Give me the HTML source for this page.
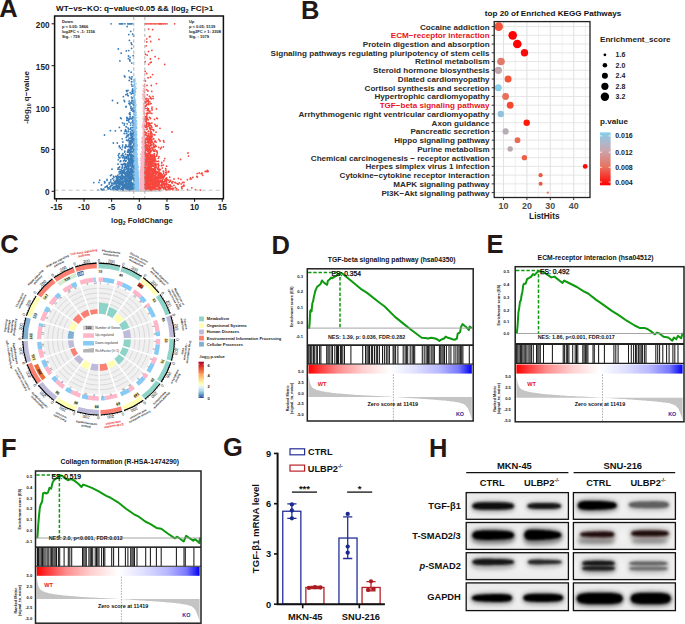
<!DOCTYPE html>
<html><head><meta charset="utf-8"><style>
html,body{margin:0;padding:0;background:#fff;}
svg{display:block;font-family:"Liberation Sans", sans-serif;}
</style></head><body>
<svg width="685" height="624" viewBox="0 0 685 624">
<rect width="685" height="624" fill="#fff"/>
<text x="-0.77" y="17.29" font-size="25.5" font-weight="bold" fill="#231815" text-anchor="start" >A</text>
<text x="56" y="10.8" font-size="8.1" font-weight="bold" fill="#111">WT−vs−KO: q−value&lt;0.05 &amp;&amp; |log<tspan font-size="5.5" dy="2">2</tspan><tspan dy="-2"> FC|&gt;1</tspan></text>
<g stroke-linecap="round" fill="none">
<path stroke="#cfcfcf" stroke-width="1.5" d="M139.5 191.2h0M122.3 191.1h0M154.2 190.5h0M133.2 191.0h0M143.4 190.5h0M136.6 190.8h0M144.4 190.8h0M133.8 191.2h0M145.9 190.4h0M126.4 190.5h0M132.1 191.0h0M144.2 190.8h0M148.5 190.3h0M147.7 190.9h0M138.4 190.8h0M152.4 190.6h0M132.5 190.9h0M129.2 191.2h0M126.6 190.8h0M125.4 191.0h0M139.3 190.5h0M142.3 190.3h0M138.5 191.1h0M139.6 190.6h0M142.8 191.1h0M122.7 190.5h0M145.4 190.4h0M155.1 190.4h0M159.8 190.3h0M147.3 190.5h0M147.7 191.1h0M132.6 191.0h0M143.8 190.4h0M145.6 190.9h0M128.2 191.0h0M141.5 190.7h0M143.1 190.5h0M139.4 190.5h0M131.0 190.8h0M133.0 191.1h0M136.6 190.5h0M113.7 191.1h0M135.6 190.4h0M150.4 190.8h0M139.7 190.3h0M146.3 190.5h0M118.0 190.4h0M141.8 190.8h0M135.3 191.2h0M139.5 191.0h0M129.6 191.3h0M133.8 191.2h0M134.4 190.9h0M145.5 191.0h0M144.8 190.6h0M143.1 190.9h0M134.1 190.4h0M116.0 190.9h0M135.9 190.5h0M143.5 190.3h0M141.6 190.6h0M143.3 191.3h0M136.9 190.4h0M146.2 190.2h0M139.5 190.7h0M130.1 190.9h0M147.2 190.2h0M130.0 191.0h0M134.0 190.6h0M122.9 190.6h0M148.7 190.5h0M138.3 191.2h0M146.5 190.8h0M144.5 191.2h0M125.4 191.0h0M125.5 190.2h0M140.8 190.3h0M133.0 191.2h0M116.0 190.5h0M138.6 191.0h0M127.6 190.6h0M142.4 190.7h0M144.4 191.2h0M141.9 191.1h0M143.9 190.3h0M138.4 191.0h0M143.8 190.4h0M131.4 190.5h0M125.9 190.6h0M145.7 190.7h0M136.1 190.6h0M143.7 190.9h0M132.8 190.7h0M140.6 190.9h0M148.5 191.3h0M135.4 190.3h0M155.3 190.4h0M137.0 190.5h0M142.2 190.9h0M142.9 190.4h0M132.8 190.2h0M126.9 191.3h0M129.9 191.3h0M135.7 190.7h0M146.2 190.6h0M121.6 190.3h0M141.3 191.0h0M134.8 190.9h0M150.8 190.7h0M136.8 191.3h0M136.2 191.2h0M153.9 191.1h0M129.5 190.9h0M136.2 191.2h0M145.6 191.1h0M137.6 190.8h0M141.6 190.4h0M146.8 191.3h0M144.0 190.3h0M123.1 190.9h0M151.8 191.3h0M147.9 190.6h0M135.1 190.6h0M148.0 191.2h0M151.3 191.1h0M146.1 191.2h0M138.2 191.1h0M144.5 191.3h0M149.6 190.9h0M146.2 190.6h0M139.3 190.6h0M144.0 190.7h0M145.8 190.5h0M137.1 190.3h0M143.1 191.1h0M155.0 191.2h0M155.9 190.2h0M147.2 191.0h0M155.9 190.8h0M148.1 191.1h0M129.9 191.0h0M146.5 190.4h0M159.2 190.6h0M152.2 190.7h0M131.3 190.3h0M130.9 191.0h0M121.5 191.3h0M134.6 190.5h0M141.0 190.5h0M135.6 190.4h0M141.7 191.1h0M150.3 190.5h0M146.2 190.9h0M144.3 190.3h0M134.8 190.8h0M128.7 190.4h0M143.9 190.9h0M136.8 190.4h0M145.3 190.6h0M134.4 190.3h0M145.1 190.7h0M140.3 190.3h0M137.4 190.9h0M125.2 191.2h0M132.6 190.9h0M133.2 190.5h0M132.2 190.8h0M144.3 190.3h0M140.5 190.5h0M147.6 190.3h0M136.2 190.8h0M130.7 190.4h0M131.9 190.4h0M141.5 190.3h0M129.1 190.5h0M127.4 190.3h0M152.7 191.1h0M137.1 191.2h0M141.6 190.6h0M129.5 191.2h0M155.9 190.6h0M149.2 190.3h0M150.0 190.7h0M137.5 190.4h0M131.6 190.9h0M132.2 190.5h0M136.3 190.5h0M136.6 190.5h0M125.0 190.8h0M131.4 190.9h0M147.6 190.3h0M143.2 190.5h0M159.0 190.8h0M129.8 190.6h0M141.0 191.1h0M132.4 190.5h0M137.0 190.4h0M135.3 191.2h0M150.3 191.3h0M154.6 190.7h0M139.8 191.1h0M139.5 190.6h0M137.9 190.9h0M137.0 190.7h0M123.2 191.0h0M139.3 190.9h0M149.7 191.0h0M143.0 191.2h0M150.0 190.8h0M134.3 190.8h0M141.1 190.5h0M137.4 191.3h0M137.6 191.2h0M137.3 191.2h0M153.6 190.6h0M151.8 190.3h0M140.3 190.3h0M146.1 190.8h0M142.2 190.9h0M138.7 191.2h0M153.3 191.0h0M139.1 190.4h0M138.7 190.9h0M137.8 190.9h0M139.7 190.7h0M138.3 191.3h0M147.6 190.9h0M147.1 190.3h0M128.6 191.1h0M125.6 191.2h0M142.7 191.3h0M131.1 190.5h0M138.2 190.3h0M132.4 190.5h0M152.2 190.5h0M139.1 190.9h0M124.2 190.3h0M139.9 190.3h0M141.5 191.2h0M121.0 190.9h0M136.9 190.8h0M148.4 191.1h0M143.0 191.0h0M152.3 190.3h0M149.7 191.1h0M135.8 190.7h0M142.6 191.2h0M155.3 190.6h0M139.8 191.2h0M142.0 190.4h0M143.4 190.3h0M130.4 191.2h0M136.8 191.1h0M140.3 191.0h0M134.5 190.6h0M137.9 191.2h0M146.6 190.5h0M139.1 190.4h0M133.8 190.4h0M143.6 190.4h0M139.8 190.7h0M153.2 191.1h0M142.8 190.7h0M134.8 191.0h0M131.6 190.2h0M143.6 190.9h0M159.5 190.6h0M129.2 191.1h0M138.9 190.2h0M132.0 191.0h0M147.4 190.4h0M140.1 191.0h0M140.2 190.4h0M136.2 190.3h0M142.7 190.8h0M140.6 191.2h0M143.9 191.1h0M135.8 191.3h0M130.8 190.7h0M133.6 190.4h0M144.6 191.3h0M134.9 190.9h0M134.5 190.9h0M144.8 190.8h0M119.7 190.9h0M130.9 191.3h0M135.5 190.6h0M124.1 191.2h0M147.1 190.7h0M132.5 190.7h0M141.7 190.4h0M145.0 190.2h0M138.3 190.9h0M129.7 191.1h0M137.8 190.7h0M134.5 191.2h0M134.8 190.3h0M134.0 191.1h0M147.2 190.8h0M150.3 191.1h0M145.5 190.3h0M135.3 190.2h0M151.2 191.0h0M133.5 190.7h0M140.9 190.3h0M139.5 191.0h0M150.3 190.3h0M141.8 190.7h0M135.8 190.5h0M144.5 190.5h0M143.4 190.5h0M148.5 190.5h0M143.4 191.3h0M139.5 190.5h0M134.3 190.3h0M147.4 190.6h0M136.2 191.0h0M133.2 190.7h0M145.2 190.6h0M134.0 191.1h0M146.2 190.6h0M129.6 191.3h0M138.7 190.7h0M145.3 191.1h0M144.2 190.6h0M147.0 190.6h0M135.8 190.4h0M146.1 190.4h0M147.7 191.1h0M136.2 191.0h0M149.6 191.2h0M141.2 190.7h0M143.0 190.5h0M131.6 191.2h0M131.9 190.4h0M137.7 190.6h0M133.0 191.0h0M145.1 190.6h0M136.6 190.5h0M145.2 190.9h0M141.3 191.2h0M138.0 190.5h0M142.9 190.4h0M123.6 191.3h0M146.5 191.1h0M135.1 191.1h0M146.1 190.3h0M126.3 190.5h0M141.4 190.7h0M147.9 191.1h0M144.0 190.9h0M122.1 191.2h0M138.2 190.2h0M149.8 191.3h0M150.6 191.3h0M139.1 190.5h0M136.9 190.3h0M148.1 190.7h0M146.0 191.0h0M128.4 190.6h0M139.6 190.4h0M155.6 190.9h0M139.1 191.2h0M139.0 190.3h0M141.4 190.4h0M151.9 190.8h0M145.0 190.4h0M130.5 190.6h0M139.6 190.5h0M146.0 190.3h0M160.2 191.2h0M131.9 191.0h0M149.7 190.4h0M140.1 191.2h0M127.6 190.8h0M160.4 190.8h0M134.9 190.5h0M124.2 191.1h0M145.2 190.3h0M135.6 190.4h0M139.7 190.2h0M147.5 191.0h0M148.5 190.9h0M155.9 191.3h0M128.5 191.1h0M134.0 190.7h0M141.9 190.6h0M149.7 190.9h0M130.8 190.5h0M149.7 190.7h0M152.8 190.2h0M145.3 191.0h0M158.8 191.2h0M129.2 190.7h0M144.5 191.2h0M140.5 190.6h0M153.6 190.8h0M134.7 190.4h0M138.7 190.9h0M128.7 190.6h0M128.9 190.6h0M137.3 190.5h0M151.6 190.9h0M148.2 190.8h0M137.0 190.8h0M138.9 190.7h0M141.6 190.3h0M134.3 191.1h0M134.9 191.2h0M138.3 190.8h0M129.7 190.9h0M129.5 190.4h0M138.5 191.3h0M132.4 190.9h0M141.7 190.5h0M135.9 190.4h0M120.0 190.3h0M130.2 191.3h0M134.4 190.5h0M137.7 190.7h0M162.1 190.4h0M140.2 191.0h0M137.3 190.5h0M123.9 190.3h0M143.4 191.3h0M142.6 191.1h0M125.7 191.0h0M135.9 190.8h0M140.0 190.4h0M140.1 190.6h0M141.0 191.2h0M144.1 190.8h0M136.2 190.5h0M129.0 190.7h0M141.7 191.1h0M139.3 190.4h0M155.8 190.8h0M130.8 190.4h0M143.9 191.3h0M131.8 190.6h0M161.2 190.7h0M130.7 190.7h0M134.1 190.4h0M141.7 190.4h0M140.6 190.4h0M142.7 191.1h0M130.8 190.6h0M142.5 190.4h0M159.9 190.5h0M133.0 190.9h0M134.9 190.6h0M138.5 190.9h0M150.8 191.0h0M148.3 190.9h0M127.5 190.5h0M135.0 190.6h0M139.8 190.9h0M129.0 190.5h0M129.2 190.8h0M160.6 190.9h0M136.3 190.2h0M151.1 190.8h0M151.5 191.0h0M138.3 190.8h0M144.1 190.9h0M135.1 191.0h0M135.1 190.3h0M154.4 190.5h0M150.9 190.3h0M131.6 191.2h0M147.8 190.9h0M133.3 190.8h0M133.3 190.9h0M133.4 190.6h0M142.2 190.3h0M148.9 190.7h0M132.9 190.2h0M151.8 191.3h0M146.2 190.6h0M135.1 190.4h0M141.8 190.9h0M124.0 190.9h0M140.7 190.8h0M135.7 191.0h0M128.3 191.2h0M145.8 190.8h0M136.2 191.1h0M134.5 190.7h0M138.9 191.3h0M130.0 190.4h0M131.8 190.7h0M141.1 191.1h0M151.6 191.0h0M147.8 190.3h0M139.3 190.3h0M142.9 191.3h0M138.3 190.6h0M140.0 190.7h0M130.7 190.4h0M138.4 190.7h0M149.4 190.9h0M148.8 190.6h0M138.4 190.7h0M146.1 190.8h0M137.2 190.4h0M143.9 190.8h0M128.1 190.6h0M148.6 190.5h0M141.0 191.1h0M120.2 191.0h0M133.4 191.3h0M153.2 191.0h0M143.2 191.2h0M139.7 190.6h0M150.6 190.8h0M142.3 190.8h0M138.6 190.9h0M137.1 190.8h0M143.1 190.6h0M130.3 191.3h0M143.8 190.6h0M151.3 191.0h0M160.0 191.3h0M129.9 190.9h0M146.5 191.0h0M137.5 191.1h0M140.7 190.6h0M148.9 191.1h0M138.3 190.2h0M150.7 191.0h0M130.8 190.7h0M143.5 190.4h0M125.5 191.1h0M128.9 191.2h0M161.1 190.2h0M139.0 190.6h0M140.9 191.0h0M138.4 190.9h0M148.3 191.3h0M143.1 190.8h0M132.7 191.2h0M140.0 190.5h0M135.8 190.4h0M147.8 190.6h0M144.2 190.8h0M129.2 191.3h0M144.4 191.0h0M148.3 190.3h0M136.9 190.7h0M144.5 190.3h0M131.5 190.7h0M149.2 190.6h0M133.9 190.8h0M138.9 190.4h0M149.9 191.2h0M133.0 190.8h0M141.9 190.7h0M146.6 190.9h0M140.3 190.7h0M130.9 190.8h0M143.7 190.7h0M153.8 191.1h0M150.6 190.6h0M137.9 190.9h0M148.7 191.0h0M138.4 191.2h0M138.2 190.9h0M141.2 190.8h0M144.2 191.0h0M126.3 190.6h0M132.0 190.2h0M137.3 190.4h0M130.1 191.1h0M138.1 190.8h0M139.9 191.2h0M141.7 190.6h0M146.6 190.6h0M138.1 190.4h0M130.4 190.7h0M128.9 191.0h0M134.4 190.5h0M130.1 191.3h0M140.4 191.0h0M132.8 191.2h0M136.2 190.3h0M138.4 191.0h0M150.0 190.9h0M141.9 190.8h0M143.8 191.1h0M140.2 190.9h0M138.9 190.6h0M144.4 191.1h0M151.3 190.5h0M146.4 190.2h0M140.1 191.1h0M144.7 190.7h0M153.9 191.1h0M151.1 190.3h0M128.6 190.5h0M157.1 191.0h0M138.0 190.7h0M139.0 191.2h0M126.5 191.2h0M146.5 190.7h0M124.3 191.2h0M142.4 190.9h0M147.5 190.2h0M148.9 191.3h0M133.7 190.8h0M136.7 190.5h0M138.4 190.7h0M137.8 190.4h0M131.9 190.6h0M142.8 191.0h0M139.3 190.5h0M152.4 190.6h0M141.3 190.6h0M136.6 190.3h0M130.2 191.2h0M123.8 190.9h0M135.2 190.5h0M135.4 190.3h0M131.0 190.2h0M135.1 190.7h0M142.8 190.5h0M134.4 191.2h0M136.7 191.1h0M128.3 191.0h0M154.1 191.0h0M140.8 190.4h0M132.9 191.0h0M145.0 190.9h0M140.4 191.2h0M136.6 190.9h0M142.6 190.8h0M147.6 191.3h0M141.6 190.2h0M149.6 190.4h0M139.0 190.8h0M136.7 190.9h0M152.8 190.8h0M138.0 190.5h0M145.5 190.7h0M138.4 190.8h0M131.9 190.5h0M134.2 190.6h0M133.8 190.8h0M151.6 190.9h0M129.6 190.3h0M137.1 190.4h0M138.2 191.1h0M130.8 190.8h0M140.7 190.7h0M139.1 190.7h0M131.8 191.1h0M129.9 190.7h0M142.1 190.6h0M124.8 190.3h0M160.3 190.7h0M148.4 191.1h0M127.5 190.7h0M131.9 191.2h0M126.9 190.8h0M119.3 190.9h0M150.0 190.4h0M136.4 190.4h0M135.8 191.2h0M138.9 191.2h0M133.2 190.7h0M144.4 190.9h0M132.6 190.7h0M136.4 190.3h0M135.3 191.0h0M133.1 190.3h0M140.1 190.7h0M141.7 191.0h0M126.3 191.3h0M153.0 191.0h0M149.1 190.7h0M127.0 191.1h0M150.5 190.8h0M132.7 191.2h0M137.2 190.7h0M142.5 190.6h0M136.8 190.8h0M146.0 191.2h0M138.9 191.3h0M130.5 190.6h0M126.7 190.3h0M129.8 190.4h0M144.4 191.1h0M147.9 190.7h0M145.2 190.3h0M147.1 190.9h0M158.6 191.1h0M144.2 191.1h0M148.2 191.2h0M126.3 190.9h0M135.4 191.1h0M150.8 190.3h0M130.5 191.1h0M137.1 190.7h0M119.0 190.9h0M149.4 190.6h0M149.2 190.9h0M148.7 191.2h0M135.8 191.1h0M137.9 190.8h0M139.2 190.3h0M166.8 190.2h0M137.4 190.6h0M130.6 191.3h0M135.8 190.9h0M143.1 190.5h0M157.2 190.5h0M133.0 190.9h0M130.0 191.0h0M149.1 190.5h0M143.2 190.9h0M127.6 191.0h0M142.9 190.4h0M131.1 190.3h0M130.5 190.3h0M135.2 190.9h0M152.6 190.2h0M143.7 190.9h0M138.1 190.3h0M133.0 191.2h0M122.4 191.0h0M123.5 190.8h0M128.5 191.0h0M133.2 190.5h0M147.8 191.3h0M131.5 190.4h0M131.6 190.8h0M136.3 191.1h0M119.0 190.3h0M149.0 191.0h0M138.3 191.2h0M133.1 190.7h0M127.6 191.0h0M124.9 191.1h0M125.6 191.2h0M147.1 190.9h0M144.2 190.8h0M148.3 190.3h0M136.2 191.3h0M149.0 190.5h0M144.9 190.9h0M134.4 190.3h0M146.2 191.2h0M152.5 190.9h0M122.8 190.4h0M136.9 190.3h0M148.6 190.5h0M141.6 190.5h0M147.1 190.4h0M138.8 191.0h0M141.5 190.5h0M140.8 190.4h0M143.6 191.1h0M113.6 190.7h0M133.6 190.3h0M140.3 191.0h0M126.6 190.7h0M143.8 190.7h0M135.1 190.9h0M152.1 190.6h0M151.6 190.9h0M131.3 190.3h0M138.7 190.2h0M131.7 191.1h0M130.9 191.1h0M144.2 190.6h0M143.7 191.0h0M147.2 191.0h0M132.6 190.5h0M138.0 190.4h0M145.0 191.1h0M143.4 190.9h0M127.5 190.7h0M130.2 190.7h0M143.1 190.9h0M150.6 190.3h0M132.6 190.6h0M134.1 191.0h0M129.7 190.5h0M141.9 190.9h0M127.1 190.3h0M134.1 191.0h0M132.5 191.2h0M143.6 190.6h0M127.9 191.0h0M141.7 191.0h0M134.8 190.2h0M131.5 190.9h0M134.4 190.5h0M119.5 190.5h0M136.7 191.2h0M152.2 190.3h0M133.4 190.5h0M147.3 190.3h0M135.9 190.4h0M131.0 190.6h0M138.3 190.2h0M131.2 191.2h0M160.7 190.7h0M120.0 190.6h0M134.5 190.9h0M143.1 190.2h0M130.5 191.2h0M137.4 190.3h0M123.7 190.4h0M127.9 190.5h0M141.2 191.0h0M141.2 190.6h0M137.9 190.2h0M133.7 190.8h0M131.0 191.2h0M149.9 191.3h0M128.5 191.1h0M120.6 190.9h0M135.0 191.1h0M144.4 190.6h0M137.4 190.9h0M125.5 190.9h0M149.7 190.8h0M133.6 191.1h0M130.7 190.4h0M136.4 190.9h0M139.1 191.1h0M145.3 190.4h0M133.4 191.2h0M137.6 190.5h0M139.6 191.0h0M154.6 191.1h0M136.1 191.0h0M143.5 190.5h0M131.4 190.5h0M143.9 190.4h0M149.9 191.3h0M145.7 190.3h0M136.5 191.3h0M140.9 190.2h0M136.3 190.4h0M132.7 190.6h0M144.8 190.2h0M151.1 191.2h0M137.8 190.9h0M135.5 190.7h0M145.0 190.7h0M130.3 190.4h0M143.3 190.7h0M137.1 190.2h0M140.4 190.4h0M158.2 190.7h0M155.3 191.1h0M133.1 190.5h0M132.8 190.3h0M144.1 191.1h0M132.8 190.3h0M142.0 191.0h0M139.4 190.5h0M146.0 190.5h0M133.7 190.3h0M134.5 190.5h0M145.3 190.7h0M147.0 190.9h0M131.8 190.8h0M124.1 191.0h0M139.5 190.5h0M139.0 190.5h0M129.9 191.3h0M134.9 190.7h0M150.2 190.7h0M149.4 190.4h0M154.6 191.1h0M131.8 191.3h0M138.0 191.1h0M128.3 190.3h0M145.1 190.7h0M120.3 190.3h0M135.8 191.2h0M134.0 191.2h0M144.2 190.9h0M145.2 191.0h0M147.9 191.1h0M124.3 191.1h0M145.5 190.3h0M151.3 190.7h0M144.9 190.9h0M139.1 190.8h0M130.8 190.7h0M141.0 191.0h0M133.9 190.8h0M131.9 190.7h0M129.2 190.5h0M125.3 190.7h0M144.7 191.2h0M135.6 190.4h0"/>
<path stroke="#87c8f5" stroke-width="1.5" d="M135.2 161.9h0M134.6 158.1h0M136.6 146.8h0M138.6 179.5h0M134.5 179.1h0M136.6 186.2h0M136.8 178.3h0M135.7 185.4h0M133.8 100.4h0M135.2 170.0h0M137.4 183.2h0M138.2 189.9h0M135.6 173.1h0M134.1 169.2h0M135.6 164.1h0M136.9 190.0h0M137.2 181.1h0M137.1 177.3h0M138.6 186.8h0M137.4 187.5h0M134.2 131.2h0M134.3 120.3h0M134.7 185.3h0M135.5 184.6h0M134.2 139.5h0M135.3 180.1h0M136.2 189.1h0M137.4 183.6h0M136.2 146.9h0M135.3 156.4h0M135.1 163.7h0M137.4 171.2h0M136.9 181.0h0M137.8 183.6h0M137.1 179.9h0M136.6 172.7h0M135.0 171.0h0M134.3 122.4h0M134.1 157.6h0M137.5 188.4h0M134.0 157.5h0M137.2 178.8h0M135.1 106.1h0M136.2 174.7h0M136.9 190.0h0M134.2 170.6h0M135.5 186.7h0M134.7 189.7h0M136.3 188.8h0M137.6 179.4h0M135.0 170.3h0M135.6 165.8h0M136.4 157.7h0M134.9 179.7h0M135.6 164.5h0M134.1 186.6h0M134.0 190.0h0M134.7 145.8h0M137.5 185.3h0M134.4 189.6h0M135.2 156.8h0M135.6 91.8h0M137.0 188.3h0M136.3 186.9h0M136.4 149.3h0M135.4 175.2h0M136.7 121.5h0M135.9 168.9h0M135.6 162.5h0M134.1 119.3h0M135.3 174.8h0M134.2 161.9h0M134.0 185.3h0M136.0 183.9h0M133.9 168.0h0M134.5 156.4h0M134.8 135.1h0M133.9 132.4h0M136.1 184.8h0M138.1 189.7h0M134.1 162.2h0M137.7 181.6h0M135.8 171.4h0M135.0 183.5h0M133.9 185.6h0M135.2 172.7h0M137.2 190.1h0M136.1 159.7h0M134.4 169.2h0M137.7 175.9h0M134.5 163.9h0M134.1 187.9h0M138.3 190.1h0M136.8 185.3h0M137.2 176.6h0M138.2 187.9h0M137.3 183.4h0M138.4 187.9h0M134.0 139.2h0M134.4 129.6h0M135.2 185.6h0M135.4 188.3h0M134.5 115.6h0M134.3 176.0h0M136.4 188.5h0M137.7 181.3h0M134.5 159.2h0M134.3 158.5h0M137.6 185.8h0M134.2 183.8h0M135.4 119.8h0M135.2 188.0h0M135.0 177.4h0M134.4 173.8h0M134.8 127.8h0M134.1 178.9h0M138.4 189.0h0M137.1 175.7h0M134.0 177.5h0M135.9 158.9h0M137.7 184.4h0M137.5 183.8h0M134.4 168.8h0M136.3 168.5h0M137.0 188.0h0M136.5 181.7h0M137.9 185.0h0M135.4 178.0h0M137.9 182.3h0M137.5 189.6h0M137.5 190.0h0M134.1 155.1h0M136.6 171.6h0M135.2 179.9h0M136.0 165.0h0M136.2 180.7h0M137.8 188.3h0M134.6 158.6h0M135.0 112.4h0M138.0 180.5h0M134.6 179.8h0M136.8 167.6h0M134.7 153.7h0M137.6 189.5h0M134.5 127.7h0M134.8 161.0h0M134.6 188.7h0M135.1 179.0h0M134.6 185.8h0M134.8 164.7h0M136.2 180.2h0M138.3 177.6h0M135.5 181.4h0M135.5 150.1h0M136.2 185.9h0M134.1 162.6h0M137.5 180.2h0M133.8 179.9h0M134.8 180.7h0M134.1 175.4h0M137.8 171.9h0M137.6 188.0h0M135.4 171.5h0M134.7 173.9h0M134.1 184.7h0M134.6 181.6h0M135.8 189.5h0M136.5 166.6h0M134.8 179.1h0M138.1 181.5h0M136.9 172.5h0M137.0 184.9h0M138.3 183.3h0M137.6 189.6h0M134.3 163.3h0M137.2 174.2h0M136.8 179.6h0M136.7 174.0h0M135.2 149.4h0M136.1 149.5h0M134.2 182.2h0M137.5 189.0h0M133.8 141.5h0M137.1 182.3h0M135.7 176.6h0M138.2 188.7h0M135.3 185.5h0M136.9 168.0h0M134.2 162.9h0M134.4 102.9h0M134.8 160.6h0M134.9 183.7h0M136.6 189.4h0M134.7 186.2h0M134.1 150.5h0M136.5 165.4h0M137.4 185.5h0M137.8 185.0h0M135.4 135.9h0M136.7 168.9h0M134.9 128.9h0M133.9 139.9h0M136.1 156.4h0M134.4 174.5h0M135.0 177.8h0M135.5 174.7h0M138.0 188.0h0M138.5 182.3h0M135.8 182.4h0M134.8 146.9h0M134.8 176.3h0M135.4 167.0h0M134.0 186.0h0M135.9 173.6h0M135.5 188.9h0M135.3 186.0h0M137.2 171.1h0M137.1 179.4h0M134.7 157.0h0M135.5 127.7h0M135.8 176.4h0M134.4 164.1h0M135.1 159.3h0M135.4 177.2h0M134.7 161.4h0M135.8 151.4h0M135.7 187.8h0M134.4 158.1h0M134.3 151.4h0M135.9 177.8h0M138.3 185.4h0M134.3 168.8h0M135.4 175.8h0M135.0 173.2h0M136.0 187.7h0M136.6 187.0h0M136.0 169.6h0M136.3 157.9h0M134.0 169.3h0M136.2 182.6h0M134.2 121.7h0M134.9 184.3h0M134.2 178.5h0M135.7 165.5h0M136.0 174.5h0M134.4 175.1h0M134.6 157.9h0M136.2 164.1h0M137.1 184.4h0M134.8 130.3h0M138.1 182.0h0M134.4 158.7h0M138.0 172.8h0M136.9 178.8h0M136.2 176.6h0M136.8 186.2h0M135.6 181.2h0M137.1 171.7h0M136.7 172.2h0M136.8 189.7h0M136.0 140.3h0M134.8 172.3h0M137.5 188.0h0M134.6 125.6h0M134.0 171.1h0M135.2 181.5h0M134.7 172.2h0M136.8 185.7h0M135.7 182.6h0M135.9 188.6h0M137.5 188.8h0M137.3 188.5h0M133.9 187.4h0M137.2 186.4h0M135.8 190.1h0M135.9 180.7h0M136.8 169.0h0M137.2 185.8h0M136.1 170.6h0M134.4 171.9h0M134.0 129.9h0M135.0 189.9h0M135.0 145.9h0M134.6 187.0h0M133.9 167.2h0M137.7 183.6h0M138.3 176.9h0M134.1 165.5h0M135.0 179.5h0M133.9 134.0h0M136.4 174.1h0M138.4 187.9h0M134.9 166.7h0M134.3 152.1h0M136.4 189.4h0M137.5 188.8h0M136.6 187.6h0M134.0 172.3h0M134.1 115.0h0M134.3 181.1h0M138.7 187.2h0M136.9 187.7h0M134.5 179.5h0M136.8 177.6h0M136.8 179.1h0M137.6 188.2h0M137.6 187.9h0M138.3 185.5h0M134.3 179.6h0M136.7 185.1h0M135.2 171.6h0M135.1 185.9h0M134.3 164.9h0M134.6 162.7h0M134.7 138.6h0M134.8 83.2h0M136.2 189.3h0M133.9 153.3h0M137.1 163.3h0M136.7 168.9h0M134.3 131.9h0M136.7 189.3h0M137.9 188.9h0M136.8 186.0h0M138.0 180.5h0M137.1 163.5h0M134.0 153.8h0M135.4 176.6h0M137.9 188.1h0M134.2 169.3h0M134.5 180.8h0M135.3 143.9h0M134.2 190.1h0M135.6 180.8h0M134.6 178.3h0M136.8 164.0h0M135.8 181.9h0M133.9 163.1h0M138.2 183.2h0M137.4 189.1h0M135.4 167.0h0M135.4 164.5h0M136.5 174.7h0M134.7 162.3h0M134.5 163.3h0M137.1 185.4h0M135.7 176.2h0M135.2 164.2h0M137.5 185.5h0M134.7 160.2h0M136.8 188.9h0M135.5 142.4h0M135.4 188.9h0M134.4 151.3h0M137.7 187.8h0M137.3 189.5h0M136.4 184.4h0M135.8 171.5h0M138.0 189.0h0M135.7 181.2h0M134.7 159.6h0M137.5 182.5h0M133.8 184.4h0M134.5 159.7h0M134.6 190.1h0M134.2 178.3h0M135.9 177.2h0M135.6 185.3h0M137.5 188.4h0M138.1 184.0h0M137.6 183.5h0M136.3 186.0h0M136.7 189.1h0M136.5 182.4h0M136.8 187.0h0M134.7 168.9h0M134.2 86.4h0M136.6 177.9h0M136.8 186.3h0M136.0 159.1h0M134.0 175.2h0M134.8 175.6h0M137.5 176.7h0M134.9 181.9h0M134.1 188.2h0M137.8 182.6h0M134.0 188.3h0M134.1 139.3h0M138.0 184.7h0M135.9 182.3h0M134.7 154.0h0M133.8 179.0h0M134.4 101.7h0M134.6 79.5h0M133.8 180.1h0M135.9 176.7h0M134.0 120.2h0M134.0 160.0h0M136.2 182.2h0M135.8 174.1h0M136.2 189.2h0M137.5 189.7h0M134.7 165.8h0M135.0 166.0h0M137.0 184.4h0M136.7 176.9h0M134.6 180.6h0M136.5 187.8h0M137.2 189.4h0M134.9 175.3h0M135.1 188.7h0M136.1 150.4h0M136.8 189.1h0M135.2 153.4h0M137.4 186.3h0M137.9 166.3h0M137.1 187.0h0M137.1 170.0h0M136.7 183.4h0M133.8 129.1h0M138.2 186.8h0M135.3 178.5h0M136.4 189.4h0M138.6 190.0h0M135.5 189.0h0M137.1 177.7h0M138.0 190.0h0M134.0 114.6h0M137.1 181.2h0M138.6 188.2h0M133.9 151.1h0M135.1 167.3h0M136.5 189.9h0M137.0 190.0h0M137.6 188.4h0M137.8 189.2h0M134.1 155.4h0M136.4 187.6h0M134.5 148.1h0M135.5 142.5h0M137.8 189.0h0M135.3 133.7h0M135.6 190.1h0M134.2 185.7h0M137.6 175.2h0M134.4 125.3h0M135.9 181.3h0M138.3 187.4h0M133.8 175.5h0M134.2 179.2h0M136.5 176.3h0M138.6 189.2h0M137.1 182.9h0M135.7 133.0h0M134.1 180.5h0M136.7 186.2h0M135.7 190.0h0M138.2 182.6h0M135.4 188.7h0M135.6 184.7h0M136.0 152.3h0M133.9 174.2h0M137.4 183.5h0M134.4 172.0h0M134.8 115.0h0M137.1 163.5h0M138.5 185.7h0M137.2 189.0h0M133.9 81.8h0M138.1 186.1h0M135.0 190.0h0M136.8 188.7h0M135.5 174.1h0M135.7 180.8h0M135.0 172.3h0M134.1 165.4h0M135.8 168.7h0M136.7 157.7h0M136.7 159.5h0M136.4 182.6h0M134.0 187.5h0M134.5 149.0h0M136.2 189.9h0M136.8 177.9h0M137.8 188.4h0M133.9 142.5h0M134.2 104.3h0M137.3 171.6h0M137.1 170.7h0M134.2 165.2h0M135.6 188.3h0M135.6 176.6h0M137.6 183.4h0M134.5 118.6h0M137.5 189.6h0M136.8 185.8h0M137.2 174.4h0M136.0 168.3h0M137.1 188.6h0M136.7 163.0h0M135.8 156.6h0M136.9 187.8h0M136.6 117.7h0M136.2 174.5h0M134.2 129.5h0M137.8 188.9h0M133.8 185.8h0M136.6 141.8h0M138.5 188.4h0M137.1 188.8h0M135.8 170.6h0M136.5 189.5h0M134.4 97.2h0M135.4 178.3h0M135.5 178.4h0M136.0 159.4h0M136.2 180.9h0M137.7 189.3h0M134.6 145.1h0M136.8 183.9h0M136.1 179.7h0M137.3 181.6h0M134.8 161.0h0M134.2 153.9h0M135.8 175.2h0M134.1 162.7h0M134.9 178.6h0M134.0 174.2h0M138.3 180.4h0M137.9 183.2h0M138.1 188.1h0M137.2 183.9h0M136.6 184.4h0M134.4 145.4h0M136.5 170.9h0M138.6 186.8h0M133.9 185.1h0M134.2 171.0h0M136.6 188.9h0M134.1 188.7h0M137.6 167.0h0M135.9 187.4h0M135.6 173.1h0M135.5 159.7h0M134.3 184.6h0M135.3 137.4h0M135.9 172.3h0M137.8 172.3h0M134.5 187.3h0M134.8 178.6h0M136.8 182.1h0M135.3 164.4h0M134.0 188.8h0M137.2 161.9h0M134.4 131.7h0M135.6 150.4h0M135.0 161.2h0M137.8 181.5h0M134.2 94.2h0M138.1 181.2h0M136.2 169.2h0M135.3 88.9h0M136.4 149.6h0M135.2 159.1h0M134.8 164.3h0M134.4 120.4h0M133.9 176.1h0M137.6 168.7h0M136.6 176.4h0M135.2 145.7h0M137.8 187.9h0M138.0 182.9h0M134.2 118.5h0M137.6 183.9h0M135.8 183.6h0M135.7 170.3h0M136.1 174.4h0M134.1 117.2h0M137.4 185.0h0M135.7 144.2h0M137.8 184.4h0M136.8 172.0h0M136.5 182.5h0M137.9 184.5h0M137.9 179.4h0M136.6 187.6h0M134.1 93.6h0M136.8 190.2h0M136.2 189.4h0M134.9 183.6h0M134.3 153.8h0M136.3 185.7h0M134.8 183.6h0M136.2 187.9h0M134.0 171.5h0M133.8 151.8h0M136.3 168.4h0M137.6 182.2h0M137.2 190.0h0M134.2 133.6h0M135.0 177.1h0M138.2 189.8h0M135.7 189.6h0M135.7 151.7h0M135.0 109.1h0M138.2 189.8h0M134.1 166.5h0M135.5 186.1h0M134.0 183.8h0M136.1 180.9h0M134.8 85.5h0M134.7 168.4h0M137.9 179.3h0M133.9 189.1h0M134.6 176.4h0M135.9 181.5h0M135.2 139.8h0M134.9 167.4h0M134.8 144.4h0M136.1 148.8h0M135.7 185.3h0M136.9 188.6h0M135.9 182.3h0M134.4 172.9h0M135.2 164.9h0M136.3 170.0h0M135.9 179.1h0M133.9 170.0h0M133.9 150.2h0M135.1 159.0h0M136.5 178.4h0M136.8 181.2h0M134.9 171.6h0M138.0 186.1h0M134.5 129.6h0M136.5 179.1h0M137.9 188.9h0M135.4 172.6h0M135.9 186.7h0M134.8 166.3h0M134.7 182.1h0M137.8 180.2h0M135.2 101.6h0M134.2 187.1h0M134.6 179.2h0M134.9 174.1h0M136.5 173.7h0M135.6 117.7h0M135.1 152.2h0M136.2 168.8h0M136.4 164.0h0M135.9 178.6h0M138.5 177.0h0M137.0 185.4h0M137.9 186.5h0M134.1 119.8h0M137.7 177.7h0M137.6 185.3h0M137.6 183.3h0M135.7 183.3h0M136.5 185.5h0M134.8 156.5h0M137.5 185.6h0M136.0 174.6h0M134.4 183.5h0M136.6 163.7h0M133.8 126.6h0M134.2 93.2h0M134.7 167.4h0M137.0 188.4h0M135.2 151.9h0M136.6 186.5h0M138.4 186.5h0M135.9 178.5h0M135.0 187.5h0M135.8 187.1h0M136.1 189.4h0M137.8 182.7h0M136.9 179.1h0M134.4 166.2h0M134.3 129.3h0M137.2 164.7h0M134.8 139.0h0M134.9 110.5h0M136.6 172.5h0M135.6 178.9h0M136.5 188.2h0M135.7 185.7h0M136.0 159.5h0M134.9 163.4h0M133.8 169.2h0M135.6 187.2h0M136.2 175.4h0M137.9 188.6h0M134.2 150.1h0M135.9 177.8h0M135.7 188.1h0M136.6 184.9h0M133.8 165.2h0M137.0 128.1h0M137.5 176.1h0M134.3 142.9h0M136.0 187.2h0M137.7 189.5h0M136.4 170.8h0M134.0 150.2h0M133.8 183.5h0M137.5 185.3h0M137.4 190.2h0M134.0 169.4h0M137.2 188.8h0M135.1 118.9h0M138.5 186.2h0M136.8 173.2h0M135.7 171.8h0M135.9 174.8h0M133.8 169.9h0M138.0 185.3h0M136.9 188.1h0M137.2 186.5h0M133.9 80.8h0M134.3 163.4h0M136.5 175.7h0M135.9 176.4h0M136.0 149.6h0M137.9 188.8h0M135.8 124.7h0M135.1 184.9h0M137.2 186.1h0M136.7 177.0h0M133.8 145.7h0M138.3 188.3h0M134.5 81.8h0M135.3 183.9h0M136.3 182.9h0M134.3 182.1h0M137.2 190.1h0M137.5 166.1h0M135.2 179.2h0M136.3 173.3h0M135.0 184.3h0M136.1 134.1h0M134.9 161.3h0M137.2 172.7h0M135.8 183.3h0M135.5 186.9h0M136.9 189.6h0M137.2 189.2h0M136.1 188.4h0M136.3 139.0h0M138.4 188.5h0M134.5 138.2h0M136.0 176.0h0M135.5 177.4h0M134.3 150.1h0M136.5 188.6h0M134.2 185.7h0M135.0 127.2h0M134.5 171.5h0M135.7 137.4h0M135.9 183.1h0M135.8 184.6h0M134.6 153.7h0M137.5 187.4h0M136.2 185.6h0M133.9 154.6h0M133.9 156.2h0M136.8 159.9h0M138.7 175.7h0M136.7 188.3h0M136.5 183.5h0M134.8 189.6h0M137.0 185.9h0M134.3 167.9h0M135.4 174.4h0M134.2 173.3h0M137.0 184.0h0M136.5 188.8h0M136.1 167.5h0M136.7 166.3h0M136.4 180.1h0M135.2 180.2h0M137.1 184.9h0M135.6 170.5h0M134.8 146.4h0M134.3 92.7h0M135.0 152.5h0M137.4 177.3h0M136.8 187.5h0M137.6 188.4h0M138.4 177.1h0M134.7 183.7h0M135.1 132.6h0M138.3 185.1h0M136.8 187.7h0M137.3 186.6h0M136.4 146.7h0M135.6 177.8h0M134.8 174.6h0M134.8 178.2h0M134.0 151.9h0M136.7 182.3h0M135.6 166.2h0M136.9 187.2h0M136.3 177.3h0M136.0 189.8h0M135.9 172.9h0M138.5 186.2h0M136.6 181.3h0M136.3 189.6h0M134.1 126.1h0M137.2 187.4h0M136.2 184.2h0M135.0 152.0h0M135.0 190.0h0M137.0 180.0h0M134.9 146.4h0M135.9 107.0h0M138.4 189.5h0M136.7 158.3h0M138.2 187.4h0M135.1 180.4h0M134.3 183.3h0M134.9 189.1h0M134.2 179.1h0M134.7 151.1h0M136.8 189.8h0M135.3 175.9h0M135.8 177.1h0M135.8 182.7h0M135.7 139.8h0M136.1 186.4h0M136.6 184.4h0M136.9 173.5h0M137.7 187.2h0M135.6 148.5h0M136.9 187.6h0M135.7 145.9h0M133.9 161.3h0M136.0 178.1h0M136.1 179.4h0M133.9 188.2h0M137.1 183.8h0M135.3 176.8h0M134.0 182.3h0M134.2 188.3h0M136.2 175.2h0M134.0 160.7h0M134.4 176.9h0M138.3 190.1h0M133.9 188.5h0M136.5 178.7h0M138.5 177.9h0M137.9 185.6h0M134.9 161.7h0M134.3 173.8h0M134.3 162.5h0M135.2 177.1h0M134.1 165.5h0M136.4 188.7h0M134.2 178.6h0M135.4 164.2h0M134.1 161.7h0M137.2 189.4h0M136.4 156.1h0M137.0 180.3h0M133.9 189.6h0M136.6 159.1h0M137.8 180.3h0M134.4 187.1h0M135.3 132.9h0M134.9 170.8h0M136.2 184.7h0M136.6 188.4h0M134.1 180.4h0M136.3 171.1h0M135.7 171.7h0M136.4 176.3h0M136.4 179.0h0M134.0 173.1h0M134.5 164.9h0M134.7 168.9h0M134.4 96.8h0M134.8 166.8h0M136.7 182.6h0M137.1 189.4h0M136.0 180.2h0M134.6 188.0h0M134.0 184.9h0M136.6 162.2h0M134.1 154.9h0M136.4 178.1h0M134.4 164.8h0M134.5 147.9h0M135.8 169.2h0M136.2 172.3h0M135.1 170.5h0M135.5 181.1h0M135.5 186.5h0M133.8 136.2h0M138.2 184.3h0M135.5 188.6h0M134.4 141.6h0M134.8 91.4h0M135.5 187.7h0M134.4 147.5h0M134.1 163.7h0M134.5 172.4h0M136.1 185.8h0M138.6 190.0h0M136.4 188.4h0M134.6 150.7h0M135.4 182.9h0M136.3 159.3h0M135.8 169.0h0M136.0 179.9h0M134.1 168.3h0M135.6 182.8h0M137.8 178.8h0M135.7 166.3h0M134.6 98.2h0M135.1 94.6h0M137.8 187.9h0M134.7 140.8h0M135.1 180.6h0M136.2 179.6h0M135.5 124.3h0M134.4 176.4h0M134.0 187.2h0M134.6 166.3h0M134.7 168.3h0M135.8 186.7h0M138.3 189.3h0M135.7 182.1h0M136.8 159.8h0M136.9 185.6h0M135.5 168.6h0M134.2 130.4h0M136.9 181.7h0M135.1 138.7h0M134.6 127.0h0M135.8 162.7h0M137.6 188.5h0M134.6 174.7h0M135.3 152.4h0M137.5 181.9h0M134.7 187.8h0M136.8 181.3h0M134.1 165.0h0M136.3 173.8h0M137.3 180.9h0M137.0 189.1h0M136.2 189.0h0M135.8 178.3h0M135.1 147.4h0M134.2 145.1h0M135.9 169.7h0M136.7 182.1h0M133.8 164.7h0M134.5 187.8h0M134.4 187.4h0M136.9 189.4h0M136.8 176.5h0M138.4 185.5h0M135.4 159.7h0M134.6 177.9h0M137.0 174.5h0M137.6 189.9h0M137.0 188.3h0M134.0 142.1h0M135.4 156.4h0M134.9 179.3h0M136.4 188.2h0M137.1 178.4h0M135.1 164.6h0M138.2 180.0h0M136.2 112.6h0M135.3 184.1h0M134.4 165.2h0M135.0 188.0h0M135.2 172.3h0M137.9 188.5h0M135.8 171.6h0M134.6 187.7h0M138.5 180.0h0M135.6 183.1h0M137.1 187.2h0M134.5 188.3h0M134.4 151.5h0M136.3 174.2h0M137.2 187.3h0M134.3 189.9h0M134.5 156.5h0M138.4 189.5h0M134.7 143.2h0M136.5 161.4h0M137.1 176.3h0M137.7 176.7h0M137.8 187.8h0M134.6 173.2h0M135.0 157.4h0M135.2 179.5h0M134.9 181.6h0M136.8 186.6h0M137.7 188.3h0M135.1 177.1h0M136.3 183.8h0M137.1 181.9h0M135.3 171.5h0M138.2 179.6h0M133.8 156.3h0M134.8 109.2h0M135.1 180.8h0M135.2 90.2h0M137.7 188.1h0M138.4 173.0h0M134.6 189.6h0M134.7 136.5h0M137.6 184.7h0M134.9 181.8h0M135.7 171.7h0M135.1 164.6h0M138.0 189.8h0M134.3 175.8h0M134.4 161.8h0M135.4 131.4h0M134.7 177.7h0M135.7 183.1h0M135.0 183.2h0M138.4 189.7h0M137.3 179.6h0M135.9 187.8h0M135.8 174.7h0M135.6 100.6h0M136.2 179.2h0M135.2 153.5h0M136.4 185.1h0M134.9 188.3h0M135.4 183.6h0M134.7 175.8h0M135.8 173.6h0M134.8 171.5h0M136.4 154.3h0M136.2 168.6h0M134.1 100.7h0M134.4 153.9h0M134.7 179.2h0M133.8 99.7h0M137.5 185.9h0M135.4 154.5h0M137.4 176.4h0M136.4 179.5h0M136.3 187.1h0M137.8 182.9h0M134.6 155.3h0M136.3 139.6h0M136.6 165.2h0M134.1 188.3h0M134.3 107.7h0M134.9 153.8h0M135.5 145.2h0M136.3 170.8h0M134.1 176.3h0M134.6 185.0h0M137.2 185.5h0M135.4 166.3h0M136.9 187.5h0M136.5 145.3h0M138.4 187.4h0M135.3 189.4h0M136.6 152.7h0M133.8 109.5h0M137.3 154.6h0M135.9 185.0h0M135.8 109.3h0M134.2 178.2h0M138.0 179.5h0M133.8 179.5h0M137.0 172.7h0M134.9 166.7h0M136.3 181.2h0M136.6 187.0h0M136.8 149.1h0M138.6 184.8h0M134.5 126.0h0M135.3 173.6h0M135.0 158.2h0M134.7 177.6h0M133.9 104.5h0M135.4 181.8h0M136.7 162.1h0M135.1 78.9h0M136.7 175.2h0M137.7 186.5h0M137.7 187.5h0M134.6 185.8h0M136.2 181.7h0M134.3 184.7h0M136.4 165.0h0M134.9 149.0h0M133.8 187.8h0M135.0 143.4h0M134.7 157.4h0M138.0 189.2h0M134.6 155.6h0M136.8 190.2h0M135.5 182.1h0M134.7 162.0h0M134.5 176.1h0M135.7 187.5h0M134.6 101.1h0M136.9 179.1h0M134.9 155.6h0M134.3 183.4h0M134.0 145.5h0M133.8 182.5h0M134.7 151.4h0M136.0 187.3h0M138.2 185.9h0M137.7 183.9h0M137.0 184.3h0M136.5 186.7h0M134.0 94.9h0M135.1 159.3h0M134.4 161.9h0M137.9 186.4h0M137.3 190.1h0M134.1 154.2h0M136.1 185.8h0M134.6 159.7h0M137.3 176.1h0M133.9 165.2h0M134.4 159.7h0M136.6 182.0h0M137.4 180.2h0M138.0 190.2h0M134.8 177.3h0M134.9 150.4h0M134.4 99.8h0M134.3 133.4h0M134.0 188.0h0M136.8 188.5h0M136.8 185.7h0M134.2 183.8h0M137.2 183.4h0M137.0 184.8h0M133.9 169.6h0M135.9 183.7h0M136.8 165.7h0M134.5 184.0h0M134.8 160.3h0M134.8 169.5h0M137.6 190.1h0M136.6 179.3h0M134.2 168.2h0M134.7 181.6h0M136.3 179.9h0M133.8 164.5h0M134.6 145.3h0M133.8 175.3h0M135.0 173.7h0M135.8 182.5h0M136.7 189.4h0M134.6 169.0h0M134.3 163.9h0M136.9 179.0h0M134.0 145.3h0M137.1 182.9h0M133.9 152.1h0M134.1 96.0h0M136.8 180.1h0M134.5 160.0h0M136.2 187.7h0M136.9 177.4h0M134.1 177.7h0M134.2 173.6h0M135.9 178.5h0M137.0 189.4h0M136.8 189.6h0M135.6 184.1h0M134.6 169.0h0M135.9 123.8h0M137.5 176.7h0M135.4 181.9h0M134.2 141.8h0M137.6 173.5h0M135.5 140.0h0M137.4 186.9h0M134.9 154.1h0M134.5 178.1h0M134.4 109.9h0M135.0 156.9h0M136.1 165.2h0M134.2 154.3h0M136.2 145.0h0M137.3 182.4h0M134.2 180.9h0M134.7 122.8h0M138.3 185.5h0M135.8 181.6h0M138.3 186.4h0M136.4 188.3h0M137.2 184.0h0M136.1 126.0h0M135.0 177.6h0M138.0 186.9h0M134.0 143.9h0M134.8 136.4h0M136.0 178.6h0M135.7 187.8h0M136.0 182.5h0M138.3 189.7h0M136.7 162.8h0M134.4 169.3h0M135.0 174.1h0M136.8 183.2h0M134.3 150.4h0M137.2 190.1h0M133.9 159.7h0M134.4 128.6h0M134.1 179.5h0M135.9 132.5h0M137.0 185.5h0M136.8 145.8h0M134.5 172.7h0M133.8 152.2h0M138.4 187.7h0M134.8 170.0h0M135.2 150.9h0M138.1 173.9h0M134.2 168.6h0M134.9 182.8h0M135.0 165.2h0M135.5 183.0h0M138.7 189.5h0M134.4 181.2h0M137.9 186.4h0M135.6 174.9h0M134.2 157.8h0M133.9 175.3h0M135.9 188.2h0M133.9 168.2h0M135.2 182.4h0M134.4 182.5h0M136.0 185.3h0M134.3 167.6h0M135.1 171.4h0M137.3 145.8h0M134.6 178.0h0M133.8 133.7h0M137.3 183.7h0M136.7 174.7h0M135.9 178.9h0M134.0 123.4h0M136.1 176.7h0M134.3 162.5h0M134.1 91.6h0M137.7 187.4h0M135.0 184.5h0M136.0 178.8h0M137.2 188.8h0M138.1 187.1h0M136.5 187.7h0M134.0 107.2h0M134.5 160.0h0M133.9 186.9h0M136.2 178.9h0M135.8 135.4h0M137.2 189.6h0M134.1 121.0h0M135.6 174.3h0M137.0 170.0h0M136.1 188.6h0M136.9 164.7h0M135.8 179.5h0M138.1 190.1h0M137.4 184.3h0M134.6 149.6h0M135.2 161.6h0M138.4 182.4h0M133.8 185.2h0M134.0 184.9h0M137.0 190.2h0M137.0 185.7h0M135.9 186.4h0M135.5 163.0h0M138.3 188.5h0M133.9 188.7h0M134.7 109.5h0M134.8 153.0h0M136.3 174.8h0M134.1 175.6h0M137.9 189.9h0M134.2 185.1h0M137.6 187.2h0M134.3 146.3h0M137.4 187.4h0M136.8 189.7h0M133.9 136.7h0M137.5 184.8h0M133.8 152.6h0M136.8 187.4h0M135.6 178.7h0M134.2 163.7h0M135.3 182.7h0M135.6 190.0h0M137.7 188.9h0M136.6 177.7h0M134.9 183.9h0M137.7 185.7h0M135.0 186.7h0M134.8 152.6h0M135.5 178.0h0M137.9 186.2h0M134.7 189.0h0M135.6 178.4h0M136.0 159.1h0M135.0 153.4h0M136.7 185.1h0M135.0 151.2h0M134.2 110.1h0M133.8 164.6h0M134.1 177.8h0M134.8 185.7h0M135.8 181.1h0M138.1 188.5h0M134.8 132.2h0M136.3 162.3h0M134.1 180.3h0M134.4 176.8h0M136.4 186.6h0M137.1 184.1h0M137.4 160.2h0M133.9 186.4h0M138.1 190.2h0M134.0 179.6h0M134.9 161.6h0M137.1 189.0h0M134.9 189.8h0M134.3 150.7h0M136.9 188.7h0M135.0 167.8h0M136.5 185.3h0M135.8 172.0h0M135.5 111.4h0M135.1 150.1h0M135.7 131.1h0M135.7 155.0h0M137.2 187.8h0M134.2 186.7h0M134.3 129.3h0M135.4 186.7h0M134.7 148.8h0M136.7 163.2h0M135.8 186.8h0M138.0 185.3h0M135.2 185.2h0M138.4 188.4h0M136.1 180.5h0M134.4 105.0h0M133.9 146.1h0M138.7 189.7h0M135.3 152.5h0M137.9 187.8h0M136.1 167.3h0M136.8 180.8h0M136.9 188.4h0M135.5 174.1h0M134.8 171.7h0M133.9 178.0h0M134.2 184.2h0M135.0 148.1h0M136.1 178.8h0M135.1 188.6h0M135.5 187.8h0M137.0 187.9h0M133.9 173.8h0M135.6 187.7h0M136.2 181.6h0M134.8 147.9h0M135.2 161.5h0M135.0 91.8h0M134.0 147.0h0M137.7 183.1h0M134.6 176.1h0M135.2 186.7h0M137.1 184.2h0M138.0 189.0h0M137.0 174.6h0M136.5 168.8h0M134.5 160.0h0M138.1 189.9h0M135.2 185.7h0M136.9 180.3h0M135.7 177.7h0M135.4 166.0h0M138.2 190.0h0M136.6 181.2h0M138.1 189.2h0M137.2 185.4h0M134.4 187.3h0M134.3 124.9h0M137.0 158.6h0M136.6 164.2h0M137.9 188.2h0M135.7 110.7h0M134.4 90.3h0M138.1 190.1h0M133.8 159.2h0M136.1 178.5h0M134.6 184.3h0M134.4 90.9h0M136.0 150.5h0M136.1 188.3h0M136.0 187.5h0M137.8 186.4h0M134.4 121.7h0M135.7 165.7h0M134.4 156.3h0M135.3 169.8h0M135.3 151.7h0M136.3 186.6h0M138.0 186.0h0M134.6 156.9h0M137.3 176.5h0M138.2 185.0h0M135.1 159.6h0M136.1 159.1h0M138.6 190.1h0M135.6 183.4h0M136.1 175.3h0M138.2 189.3h0M134.7 155.7h0M134.7 140.2h0M135.8 185.7h0M136.2 182.8h0M134.1 117.7h0M138.0 183.5h0M135.7 126.8h0M138.2 187.3h0M134.1 189.5h0M135.8 183.0h0M135.6 187.0h0M134.2 184.0h0M135.0 174.1h0M137.1 176.0h0M138.2 185.3h0M136.5 185.1h0M136.3 189.0h0M135.4 171.4h0M134.9 184.9h0M136.6 190.0h0M135.5 180.6h0M135.9 157.2h0M137.1 158.4h0M134.8 178.9h0M134.0 158.8h0M134.0 116.9h0M135.0 142.0h0M135.3 177.5h0M138.0 178.0h0M136.9 184.8h0M136.2 104.9h0M134.8 184.6h0M136.6 182.9h0M137.6 179.2h0M136.0 177.6h0M135.6 178.8h0M135.8 167.5h0M134.9 179.2h0M137.3 186.6h0M137.8 183.6h0M135.7 173.5h0M137.7 181.9h0M134.6 111.0h0M134.4 188.1h0M136.2 179.7h0M135.6 173.1h0M133.8 146.4h0M135.5 174.4h0M136.0 189.8h0M136.7 154.8h0M134.0 94.4h0M136.7 160.5h0M137.0 180.2h0M136.4 187.3h0M134.8 154.8h0M133.9 181.2h0M134.1 123.6h0M136.8 188.9h0M135.1 180.1h0M137.7 160.1h0M137.3 172.8h0M136.0 168.5h0M135.4 183.1h0M133.9 145.1h0M134.8 180.4h0M134.7 149.7h0M134.4 127.7h0M137.0 183.1h0M134.1 186.5h0M138.4 188.8h0M134.0 189.7h0M138.1 189.2h0M134.2 148.6h0M134.9 145.1h0M136.0 128.7h0M135.9 162.9h0M136.6 190.1h0M135.3 188.0h0M136.7 186.8h0M136.3 186.1h0M135.1 173.8h0M138.1 187.6h0M135.2 184.4h0M133.8 148.4h0M135.7 153.5h0M138.3 187.1h0M134.1 179.1h0M137.3 174.0h0M134.8 144.6h0M138.2 189.9h0M136.1 190.0h0M137.9 184.6h0M136.0 189.6h0M134.2 182.2h0M134.2 157.2h0M135.2 169.1h0M135.0 133.7h0M136.8 170.5h0M137.1 178.4h0M134.7 180.4h0M136.3 171.2h0M137.1 174.4h0M134.2 161.9h0M136.5 176.2h0M136.5 188.6h0M137.0 161.3h0M134.4 177.0h0M137.1 186.3h0M137.5 188.1h0M135.7 151.9h0M138.1 188.0h0M137.6 186.9h0M137.2 176.9h0M136.2 184.5h0M135.0 139.9h0M134.5 93.8h0M136.2 185.5h0M136.6 168.5h0M134.5 125.5h0M134.3 91.8h0M134.9 183.7h0M136.9 180.4h0M134.1 184.4h0M134.1 149.3h0M134.5 162.5h0M134.6 186.0h0M135.0 189.7h0M133.9 181.9h0M134.6 163.7h0M138.2 185.3h0M136.0 177.6h0M134.2 102.3h0M137.1 183.7h0M135.4 189.8h0M137.5 180.1h0M137.3 189.7h0M135.0 153.1h0M135.9 172.6h0M134.6 132.0h0M135.0 190.2h0M134.2 182.2h0M137.2 183.0h0M135.3 141.6h0M136.6 167.6h0M135.2 178.0h0M135.8 187.5h0M138.5 182.2h0M136.0 180.9h0M136.5 189.5h0M135.8 185.6h0M134.1 171.9h0M133.9 170.9h0M134.6 178.4h0M135.8 150.7h0M134.4 188.5h0M134.1 185.7h0M138.6 188.0h0M136.6 175.0h0M135.8 187.6h0M134.1 182.6h0M136.7 185.4h0M137.1 184.7h0M134.8 190.1h0M134.6 122.6h0M136.2 180.6h0M135.5 130.1h0M134.4 164.0h0M136.6 172.9h0M135.2 177.5h0M136.1 165.8h0M134.0 176.2h0M135.9 150.0h0M136.0 170.8h0M137.8 187.9h0M137.2 170.9h0M135.5 178.3h0M137.8 188.2h0M137.8 187.1h0M134.8 184.6h0M137.3 184.6h0M137.3 175.7h0M137.8 173.3h0M136.4 165.1h0M134.6 172.5h0M134.7 119.8h0M135.4 87.0h0M136.5 187.1h0M134.7 143.2h0M137.1 188.8h0M136.3 171.6h0M136.3 115.0h0M134.5 106.5h0M135.3 174.5h0M133.9 187.6h0M135.4 186.1h0M134.5 170.8h0M134.7 176.6h0M135.1 138.9h0M134.1 168.2h0M134.9 184.4h0M137.8 178.7h0M134.1 164.2h0M135.1 112.3h0M135.4 186.3h0M134.3 180.5h0M134.1 161.7h0M134.5 137.7h0M133.8 165.0h0M136.2 88.5h0M133.9 188.9h0M138.2 187.9h0M134.5 144.2h0M136.2 182.2h0M135.6 188.0h0M138.7 184.8h0M135.7 115.9h0M137.2 159.8h0M136.8 174.0h0M134.8 185.1h0M134.0 190.0h0M135.1 179.2h0M134.2 184.6h0M137.6 158.9h0M136.8 189.4h0M137.8 185.2h0M135.5 130.3h0M134.5 189.6h0M134.0 110.4h0M134.0 170.4h0M136.2 187.8h0M134.1 157.0h0M135.7 173.4h0M134.9 151.0h0M134.6 153.8h0M136.8 162.5h0M134.3 173.8h0M137.3 190.1h0M134.0 176.5h0M135.1 189.0h0M136.2 181.1h0M136.3 180.6h0M134.1 179.2h0M134.9 171.8h0M137.3 183.6h0M135.8 176.7h0M134.6 190.0h0M138.1 187.8h0M136.3 157.1h0M135.4 108.9h0M136.9 175.5h0M137.1 187.8h0M135.3 132.4h0M136.6 185.9h0M137.4 189.1h0M134.6 176.8h0M135.5 168.2h0M137.7 189.0h0M136.7 188.6h0M133.8 175.7h0M136.4 178.0h0M136.1 187.9h0M134.2 174.1h0M136.1 170.2h0M133.9 169.6h0M134.7 180.3h0M133.9 188.0h0M135.0 178.8h0M137.1 188.1h0M134.0 176.0h0M134.1 179.7h0M136.5 180.4h0M133.8 179.9h0M134.3 173.6h0M133.9 150.4h0M136.8 176.9h0M137.4 182.9h0M138.4 182.2h0M135.3 173.1h0M138.5 177.1h0M137.6 185.1h0M138.4 188.9h0M136.1 162.5h0M136.5 180.7h0M134.5 177.7h0M136.4 182.6h0M136.7 171.8h0M137.9 189.5h0M136.0 179.4h0M134.3 177.8h0M136.0 181.7h0M134.4 177.3h0M134.4 109.4h0M136.8 188.2h0M134.5 144.1h0M137.0 188.4h0M135.2 165.0h0M134.2 163.8h0M136.0 122.3h0M135.0 87.3h0M134.9 169.5h0M134.9 155.6h0M136.8 187.6h0M134.0 180.0h0M137.6 185.7h0M136.2 183.2h0M137.8 188.7h0M134.5 186.8h0M136.6 183.8h0M135.5 121.6h0M136.1 171.9h0M136.2 188.9h0M134.6 146.1h0M137.3 188.9h0M135.8 182.3h0M135.2 183.1h0M133.8 185.4h0M135.4 137.8h0M134.5 110.7h0M136.2 181.6h0M136.7 188.2h0M134.5 161.6h0M136.2 149.2h0M133.8 151.6h0M134.5 119.7h0M134.7 178.8h0M137.3 180.3h0M134.4 132.9h0M137.4 188.6h0M135.1 177.7h0M137.9 184.3h0M136.8 189.7h0M134.6 185.4h0M136.0 181.8h0M136.5 188.5h0M136.8 183.6h0M136.6 187.2h0M134.1 172.5h0M138.3 180.5h0M137.1 187.3h0M135.6 182.5h0M136.4 174.0h0M135.2 148.5h0M136.7 187.7h0M136.2 179.6h0M135.3 167.3h0M136.1 173.9h0M134.4 177.7h0M136.4 153.8h0M137.7 175.6h0M136.0 157.3h0M134.3 148.3h0M133.9 184.4h0M135.7 187.5h0M137.9 182.6h0M133.8 169.8h0M137.6 188.9h0M136.4 171.8h0M136.0 180.2h0M135.6 181.0h0M137.7 190.0h0M133.9 177.2h0M134.0 161.1h0M135.1 165.0h0M137.8 187.9h0M135.9 189.7h0M136.6 180.2h0M136.5 166.4h0M136.5 185.1h0M135.7 165.1h0M138.2 174.4h0M138.6 190.1h0M137.8 163.2h0M136.1 183.5h0M134.9 183.9h0M136.3 186.5h0M135.9 173.6h0M137.9 179.4h0M135.8 172.5h0M134.9 177.7h0M134.8 159.9h0M135.8 186.3h0M137.1 162.8h0M135.4 156.0h0M134.6 140.8h0M137.4 185.2h0M135.2 187.3h0M136.8 171.1h0M135.2 182.5h0M134.8 112.5h0M137.3 188.5h0M135.2 168.1h0M136.5 184.8h0M134.9 156.6h0M134.0 101.2h0M136.4 176.2h0M134.8 181.4h0M133.9 178.2h0M134.9 120.9h0M134.1 173.9h0M133.8 184.9h0M138.2 188.1h0M135.4 178.0h0M137.9 189.6h0M135.4 159.7h0M134.6 141.4h0M134.2 147.7h0M135.7 176.8h0M137.1 181.6h0M136.3 188.6h0M137.3 189.3h0M137.7 169.9h0M135.5 183.2h0M136.5 188.8h0M137.4 184.1h0M137.2 189.6h0M134.9 165.5h0M135.0 130.7h0M135.7 162.4h0M136.0 159.5h0M136.4 168.6h0M136.9 183.9h0M136.4 184.7h0M134.3 168.0h0M136.3 181.8h0M134.4 165.3h0M135.0 174.7h0M136.2 183.0h0M135.2 183.1h0M136.3 161.2h0M133.9 172.4h0M137.9 183.5h0M134.0 189.6h0M135.1 189.9h0M135.5 185.0h0M135.0 108.4h0M135.0 185.4h0M137.9 188.9h0M136.7 188.5h0M137.1 169.6h0M136.0 168.6h0M135.7 171.4h0M134.8 147.0h0M135.3 187.8h0M135.9 190.0h0M135.2 189.4h0M135.5 185.5h0M134.3 182.5h0M135.0 120.0h0M136.7 178.6h0M136.5 189.1h0M136.8 190.0h0M135.0 189.8h0M137.2 187.8h0M134.5 159.2h0M135.8 186.3h0M134.5 154.0h0M135.6 188.6h0M135.6 139.2h0M135.4 162.0h0M134.2 189.2h0M138.0 179.7h0M134.0 189.5h0M138.4 190.2h0M135.4 178.8h0M135.4 166.8h0M138.5 184.8h0M136.8 177.5h0M136.3 184.4h0M136.1 190.1h0M136.0 183.3h0M136.3 187.9h0M136.4 166.2h0M133.8 145.1h0M134.2 153.1h0M137.7 190.1h0M134.2 179.6h0M137.7 183.7h0M134.8 174.6h0M135.7 183.6h0M136.5 188.2h0M135.1 162.7h0M137.9 187.0h0M136.4 189.6h0M135.3 162.0h0M136.7 179.0h0M134.1 172.2h0M134.1 176.4h0M135.1 163.8h0M136.7 186.1h0M134.1 118.5h0M137.8 185.4h0M137.1 185.1h0M135.4 118.7h0M134.8 185.4h0M136.3 176.6h0M134.1 145.0h0M137.2 189.6h0M136.9 187.0h0M136.4 182.7h0M135.6 169.5h0M133.9 184.2h0M135.4 169.3h0M137.4 185.2h0M137.1 178.0h0M136.5 134.8h0M136.9 173.7h0M135.3 172.1h0M134.0 169.2h0M136.5 176.7h0M135.7 172.9h0M137.4 189.4h0M134.7 148.1h0M134.3 182.6h0M136.9 176.9h0M136.3 188.8h0M137.0 123.9h0M136.8 185.3h0M134.4 151.7h0M134.7 175.2h0M134.2 180.7h0M137.1 189.1h0M136.5 187.9h0M134.6 177.7h0M138.2 181.9h0M135.3 186.5h0M137.5 184.5h0M134.1 183.7h0M135.9 159.5h0M135.5 175.3h0M137.1 186.7h0M138.5 183.8h0M138.7 185.1h0M135.3 179.6h0M134.1 158.7h0M137.7 186.4h0M135.7 152.0h0M135.9 170.8h0M136.5 187.9h0M138.4 189.2h0M134.1 128.1h0M135.4 159.0h0M136.9 177.5h0M135.9 181.6h0M134.4 89.2h0M138.2 183.8h0M137.0 165.5h0M137.1 182.7h0M137.5 185.0h0M135.3 174.7h0M138.1 187.1h0M134.7 183.4h0M136.0 187.2h0M138.5 188.0h0M136.7 154.4h0M138.5 186.6h0M134.7 171.3h0M135.7 186.2h0M136.8 189.3h0M134.1 188.6h0M137.5 177.0h0M135.9 180.8h0M136.6 188.1h0M134.5 176.6h0M136.6 183.2h0M136.6 135.8h0M137.3 185.5h0M135.5 169.7h0M134.6 185.0h0M135.5 157.8h0M138.1 186.3h0M135.9 165.1h0M135.5 185.5h0M134.9 150.3h0M135.0 171.9h0M137.4 187.4h0M136.8 187.5h0M134.9 152.1h0M135.2 178.2h0M135.8 185.8h0M134.1 190.1h0M136.5 182.7h0M137.2 171.1h0M135.8 163.9h0M138.0 188.2h0M135.3 188.4h0M138.2 187.4h0M136.6 158.1h0M134.9 145.5h0M134.5 119.6h0M135.4 173.1h0M137.1 188.5h0M137.7 189.4h0M137.0 169.8h0M136.9 186.3h0M136.0 186.7h0M134.9 186.2h0M135.4 182.7h0M135.8 164.2h0M136.6 179.9h0M136.0 186.4h0M138.4 183.1h0M136.4 186.4h0M136.1 165.0h0M137.2 184.1h0M135.5 167.4h0M138.3 189.5h0M135.8 142.1h0M137.5 186.6h0M134.9 139.6h0M137.0 189.6h0M136.6 186.5h0M136.3 181.7h0M138.5 185.5h0M138.3 189.2h0M137.1 187.4h0M134.3 143.3h0M136.2 189.9h0M135.2 179.2h0M137.7 149.8h0M138.7 186.6h0M135.7 102.7h0M134.2 186.4h0M135.7 178.3h0M135.9 189.9h0M136.3 162.8h0M138.6 188.7h0M134.1 189.1h0M134.0 124.6h0M137.1 175.2h0M135.8 156.0h0M136.2 179.3h0M137.6 187.6h0M136.7 185.3h0M134.3 123.7h0M135.3 165.3h0M136.7 173.3h0M135.7 177.2h0M137.0 182.0h0M134.7 174.9h0M133.8 168.5h0M136.7 189.1h0M136.2 183.0h0M134.9 181.3h0M136.9 140.3h0M136.6 181.7h0M137.6 184.2h0M136.2 181.6h0M138.4 182.3h0M137.0 184.1h0M135.0 154.4h0M135.6 132.2h0M137.3 186.5h0M137.2 188.2h0M135.7 161.0h0M135.1 164.8h0M134.8 124.1h0M135.7 110.8h0M134.3 111.4h0M135.7 188.9h0M134.2 182.1h0M136.1 183.3h0M137.1 184.1h0M137.0 188.3h0M135.6 147.8h0M136.1 163.4h0M136.1 178.5h0M137.7 188.6h0M137.6 185.9h0M135.8 182.7h0M136.9 176.7h0M133.8 187.5h0M136.5 172.4h0M134.3 139.2h0M137.0 183.6h0M137.9 187.9h0M135.4 186.5h0M136.0 178.9h0M137.9 189.2h0M134.6 190.0h0M133.8 140.6h0M134.5 190.1h0M137.6 187.3h0M137.2 189.4h0M134.1 151.7h0M136.8 172.5h0M134.4 170.1h0M137.6 188.6h0M136.1 138.2h0M137.9 188.6h0M136.3 141.9h0M137.4 180.5h0M136.5 128.6h0M134.4 141.4h0M134.3 181.4h0M136.7 189.2h0M136.8 189.1h0M134.5 187.7h0M137.2 183.5h0M134.6 188.5h0M134.5 176.2h0M134.6 188.0h0M138.3 166.9h0M134.9 136.5h0M135.5 125.2h0M137.5 188.6h0M136.4 184.7h0M136.9 179.5h0M135.9 178.7h0M136.8 177.9h0M134.0 185.7h0M135.8 181.0h0M136.4 189.8h0M137.9 189.8h0M137.6 185.8h0M137.9 179.7h0M134.5 158.4h0M134.9 174.9h0M135.8 185.2h0M136.7 190.1h0M137.1 180.4h0M134.0 113.0h0M136.5 182.9h0M135.3 182.8h0M137.0 174.5h0M136.2 168.5h0M136.1 190.0h0M134.2 156.5h0M133.9 165.9h0M136.7 187.9h0M136.6 183.6h0M137.2 183.4h0M136.6 152.8h0M135.9 166.9h0M138.1 189.0h0M133.9 185.3h0M138.0 186.3h0M136.7 185.5h0M135.2 172.8h0M137.2 186.4h0M135.9 168.6h0M138.0 186.3h0M135.4 190.2h0M133.9 150.3h0M134.6 112.7h0M134.0 182.2h0M138.6 189.8h0M135.9 187.9h0M133.8 118.5h0M135.4 121.8h0M136.0 136.0h0M134.8 171.6h0M136.7 188.2h0M136.5 186.5h0M137.9 177.5h0M136.8 172.9h0M138.0 177.5h0M135.1 184.5h0M133.9 181.4h0M136.8 177.3h0M136.4 178.6h0M136.9 183.7h0M134.9 145.8h0M136.7 178.2h0M136.1 174.7h0M137.0 186.1h0M134.8 185.3h0M136.5 184.5h0M134.0 166.5h0M135.2 170.3h0M134.0 185.8h0M138.5 189.7h0M134.9 140.2h0M134.4 175.4h0M134.9 176.5h0M135.3 178.5h0M136.2 184.7h0M134.3 172.6h0M138.0 174.0h0M135.9 146.7h0M134.6 163.7h0M134.3 164.6h0M134.8 170.8h0M135.3 147.0h0M136.1 181.8h0M135.1 171.4h0M134.8 181.8h0M134.7 166.0h0M135.4 153.6h0M134.6 135.3h0M138.4 190.2h0M135.1 173.5h0M134.2 181.5h0M134.7 155.0h0M135.1 168.2h0M134.3 186.4h0M135.8 175.9h0M136.4 178.0h0M133.9 179.7h0M136.5 133.9h0M134.0 186.7h0M134.3 145.7h0M137.9 178.5h0M133.8 166.5h0M135.1 181.5h0M135.3 112.5h0M134.7 106.9h0M136.6 189.4h0M134.4 187.5h0M137.0 185.6h0M134.6 169.7h0M134.3 135.8h0M134.3 162.2h0M134.2 177.1h0M136.3 186.1h0M135.3 144.5h0M134.5 182.2h0M137.6 183.5h0M134.9 181.5h0M138.1 190.0h0M136.9 187.8h0M137.1 188.7h0M137.3 185.1h0M137.8 187.6h0M136.0 165.4h0M134.2 169.4h0M137.6 189.9h0M135.0 172.6h0M135.4 181.8h0M135.0 185.9h0M136.6 188.7h0M135.6 142.5h0M136.8 189.6h0M135.8 187.5h0M137.2 174.5h0M134.0 154.0h0M134.8 163.4h0M136.1 185.7h0M137.2 166.3h0M136.0 186.5h0M133.8 176.9h0M136.0 180.4h0M137.3 185.6h0M136.7 186.5h0M137.8 181.8h0M136.9 183.4h0M137.9 165.5h0M134.4 185.3h0M135.6 163.5h0M135.2 180.1h0M133.9 173.0h0M134.4 165.2h0M135.1 167.0h0M135.6 172.4h0M135.2 182.9h0M138.1 175.9h0M136.8 177.0h0M136.9 173.6h0M133.8 159.3h0M136.5 188.2h0M138.3 189.6h0M138.2 188.9h0M133.8 184.9h0M135.5 186.2h0M138.3 181.3h0M137.6 188.2h0M134.4 178.0h0M137.1 182.4h0M137.2 186.2h0M136.6 184.9h0M136.5 183.5h0M134.0 128.7h0M137.3 184.3h0M137.5 188.1h0M138.0 177.4h0M134.8 175.5h0M134.6 164.2h0M137.3 190.2h0M135.9 168.9h0M135.9 182.5h0M134.1 153.0h0M135.3 174.0h0M134.7 178.4h0M134.8 179.4h0M134.0 168.1h0M134.5 172.3h0M137.4 176.0h0M135.1 163.6h0M136.8 182.8h0M136.9 180.1h0M135.1 181.8h0M134.8 132.8h0M136.4 177.7h0M133.9 182.9h0M136.1 178.6h0M133.9 189.8h0M134.2 159.8h0M136.4 161.2h0M136.3 158.1h0M136.0 147.2h0M135.9 175.5h0M135.4 153.4h0M133.9 162.7h0M134.1 147.5h0M135.2 163.9h0M134.0 154.7h0M134.4 168.3h0M134.3 165.6h0M135.1 188.4h0M138.0 189.7h0M134.7 178.2h0M134.1 187.3h0M137.3 164.0h0M136.0 172.4h0M134.6 176.5h0M133.9 174.6h0M134.3 161.8h0M134.0 183.5h0M134.0 132.4h0M135.9 165.5h0M135.5 170.7h0M134.9 156.8h0M138.6 183.3h0M135.3 183.4h0M135.7 150.3h0M136.6 175.1h0M137.3 180.5h0M134.0 184.3h0M134.6 167.2h0M138.1 185.9h0M134.9 152.0h0M133.9 190.1h0M136.8 187.9h0M136.3 184.3h0M138.4 188.2h0M136.8 172.4h0M136.2 186.9h0M135.9 169.8h0M137.4 186.7h0M134.1 126.7h0M136.5 189.2h0M134.2 147.8h0M134.9 180.5h0M136.9 142.4h0M138.0 182.7h0M136.5 184.4h0M137.0 183.4h0M135.0 174.1h0M136.4 185.3h0M137.6 182.3h0M134.1 189.9h0M136.4 188.3h0M133.9 178.1h0M138.0 186.5h0M133.8 122.5h0M137.7 178.8h0M135.6 125.3h0M134.7 187.0h0M135.9 176.1h0M135.5 180.0h0M133.9 148.2h0M135.4 177.0h0M137.4 185.8h0M135.1 147.1h0M134.1 144.0h0M136.4 183.8h0M135.5 167.8h0M134.6 154.6h0M137.4 173.0h0M134.1 175.5h0M136.2 183.8h0M134.1 185.2h0M136.0 188.9h0M138.7 190.0h0M134.5 175.3h0M135.8 184.9h0M136.8 171.5h0M135.7 187.8h0M135.2 163.4h0M133.8 175.0h0M136.6 165.6h0M133.9 181.4h0M134.8 182.2h0M136.1 171.2h0M135.1 186.3h0M135.7 163.8h0M135.2 173.2h0M134.7 178.7h0M138.2 190.0h0M135.2 164.9h0M134.4 118.9h0M137.7 188.6h0M136.0 180.2h0M134.1 185.2h0M136.6 187.3h0M136.5 175.3h0M137.8 185.0h0M135.8 133.9h0M135.4 163.6h0M134.7 186.5h0M134.7 180.7h0M134.9 176.3h0M137.9 184.9h0M134.4 145.8h0M134.2 124.2h0M134.1 149.6h0M137.7 188.7h0M136.1 164.5h0M135.1 179.7h0M134.2 136.5h0M137.7 187.7h0M134.2 189.4h0M135.2 185.9h0M135.7 161.4h0M134.4 136.1h0M133.8 96.3h0M138.0 188.0h0M134.3 185.6h0M134.9 186.0h0M137.1 186.1h0M136.6 169.6h0M136.9 166.0h0M135.7 133.1h0M133.9 163.4h0M134.3 164.8h0M135.0 163.8h0M134.2 161.5h0M137.5 169.5h0M135.6 172.3h0M137.9 168.1h0M135.6 129.7h0M137.9 177.2h0M136.2 135.0h0M135.2 154.9h0M134.0 154.3h0M134.3 181.9h0M138.5 188.9h0M136.7 182.8h0M135.4 138.3h0M134.5 160.9h0M135.1 130.2h0M134.3 163.0h0M133.8 176.3h0M138.2 174.3h0M137.3 180.7h0M135.6 186.5h0M136.0 183.5h0M137.9 183.9h0M135.9 180.8h0M134.5 177.9h0M138.4 185.7h0M136.1 190.1h0M136.8 189.3h0M136.5 184.2h0M137.1 186.3h0M137.4 190.1h0M137.3 182.0h0M137.3 182.6h0M134.2 162.0h0M135.8 178.0h0M134.5 148.0h0M134.5 128.8h0M134.7 170.9h0M134.7 117.3h0M138.0 181.2h0M138.3 189.2h0M135.3 126.3h0M138.1 185.3h0M136.4 188.3h0M136.4 172.9h0M137.9 184.9h0M138.2 186.9h0M136.5 189.4h0M134.0 159.5h0M134.1 172.5h0M134.4 132.9h0M136.7 173.3h0M137.9 190.2h0M134.0 102.7h0M134.5 146.5h0M137.8 183.9h0M137.3 189.8h0M138.4 185.8h0M136.8 185.4h0M133.9 103.0h0M134.8 181.0h0M134.7 154.5h0M135.6 188.1h0M137.1 187.2h0M136.7 171.1h0M135.8 114.0h0M134.1 143.9h0M137.4 181.1h0M134.0 174.4h0M137.0 184.6h0M134.3 132.3h0M134.8 185.2h0M136.2 188.7h0M135.1 188.5h0M134.5 187.7h0M138.4 185.3h0M138.0 183.0h0M138.5 182.3h0M134.3 148.1h0M138.6 190.0h0M138.0 188.1h0M135.6 91.4h0M135.1 146.1h0M137.1 187.2h0M133.8 82.3h0M136.0 173.6h0M134.8 180.4h0M137.1 166.9h0M133.9 166.1h0M138.0 188.9h0M138.0 181.2h0M136.6 181.8h0M136.9 131.3h0M135.7 115.7h0M135.3 155.5h0M138.0 189.8h0M136.3 152.4h0M134.1 121.6h0M135.3 188.6h0M134.0 126.7h0M135.2 161.8h0M136.9 166.8h0M134.9 130.7h0M137.8 184.3h0M134.1 176.3h0M137.3 174.0h0M137.7 188.3h0M134.3 159.6h0M136.4 183.7h0M135.1 180.5h0M137.0 180.0h0M134.4 183.6h0M135.6 180.1h0M136.5 188.8h0M136.0 134.3h0M134.8 186.3h0M134.3 84.5h0M136.7 178.1h0M137.3 187.5h0M136.3 182.4h0M134.2 177.5h0M135.7 170.9h0M135.0 162.0h0M134.4 110.3h0M134.9 173.5h0M134.7 100.6h0M136.4 181.5h0M136.9 139.7h0M134.1 123.2h0M136.1 181.6h0M133.9 150.3h0M133.9 125.5h0M135.6 171.1h0M134.2 146.2h0M136.4 169.4h0M134.0 169.1h0M134.5 175.8h0M134.4 182.7h0M138.7 189.3h0M136.0 137.9h0M133.9 118.5h0M134.4 168.5h0M134.3 178.2h0M134.6 189.8h0M135.8 171.5h0M136.9 185.5h0M136.0 158.8h0M135.6 148.2h0M134.4 156.6h0M136.8 174.6h0M136.0 174.2h0M136.4 188.1h0M135.5 189.6h0M135.5 176.8h0M138.6 189.1h0M133.9 129.4h0M138.0 187.1h0M134.9 181.4h0M136.1 188.0h0M135.5 152.8h0M136.9 183.4h0M137.5 184.6h0M138.0 187.3h0M134.5 182.9h0M135.0 189.8h0M136.0 182.1h0M135.6 186.8h0M137.5 165.1h0M134.2 172.4h0M134.4 181.1h0M136.4 167.9h0M134.9 163.8h0M134.3 170.3h0M137.1 189.6h0M135.1 177.1h0M134.1 184.4h0M134.5 171.7h0M134.7 185.1h0M137.4 188.6h0M136.4 170.9h0M137.5 184.7h0M138.2 180.9h0M137.8 185.8h0M135.2 172.4h0M134.9 173.6h0M135.6 178.7h0M136.7 178.9h0M134.5 138.4h0M134.3 170.0h0M134.2 166.4h0M133.8 187.9h0M134.1 168.7h0M136.2 176.1h0M133.9 182.8h0M135.1 189.7h0M135.0 185.7h0M135.0 189.1h0M136.1 148.4h0M136.6 167.6h0M135.8 183.6h0M134.0 183.6h0M135.3 177.4h0M134.0 152.4h0M137.1 187.4h0M136.6 176.2h0M136.5 187.6h0M138.2 188.6h0M138.5 186.1h0M136.3 165.7h0M135.3 159.3h0M134.6 127.5h0M134.1 110.4h0M134.2 175.2h0M134.8 174.4h0M135.7 180.1h0M134.8 166.3h0M134.4 188.4h0M137.6 171.0h0M134.7 185.5h0M138.3 189.3h0M136.4 189.4h0M137.8 186.6h0M138.5 188.7h0M138.4 188.4h0M134.7 142.3h0M135.2 164.7h0M137.2 188.2h0M137.2 146.2h0M134.4 159.4h0M134.7 103.1h0M136.9 181.4h0M135.1 150.6h0M136.7 186.2h0M135.5 181.0h0M137.3 189.9h0M136.7 189.3h0M137.5 181.4h0M136.5 177.8h0M136.5 126.3h0M137.5 171.8h0M136.7 185.4h0M136.7 185.4h0M136.6 180.4h0M137.4 188.0h0M136.7 184.0h0M137.6 188.0h0M136.1 183.7h0M135.5 176.8h0M135.0 168.0h0M136.8 183.7h0M135.2 134.0h0M134.4 189.4h0M135.5 179.5h0M137.1 138.9h0M137.0 181.5h0M134.3 79.8h0M137.6 188.5h0M137.9 189.1h0M134.1 153.2h0M137.4 187.4h0M134.7 143.6h0M138.7 180.9h0M137.2 187.0h0M137.7 183.0h0M135.2 172.5h0M136.2 159.5h0M134.7 162.7h0M136.9 183.7h0M136.1 181.4h0M134.4 163.0h0M136.2 163.9h0M135.4 150.7h0M138.6 186.7h0M137.7 189.6h0M136.8 172.5h0M134.1 177.7h0M135.8 184.9h0M137.7 188.4h0M134.1 101.9h0M136.8 185.0h0M138.5 183.2h0M138.4 187.0h0M136.1 186.1h0M134.0 153.6h0M138.4 189.3h0M134.7 186.4h0M138.1 188.8h0M133.8 168.6h0M137.4 180.5h0M136.2 175.1h0M133.8 163.3h0M133.8 154.8h0M135.9 148.2h0M133.9 150.3h0M136.3 179.2h0M138.6 189.5h0M134.6 141.4h0M134.3 106.5h0M135.4 134.1h0M135.7 174.1h0M135.7 166.6h0M134.6 186.3h0M133.8 148.5h0M135.8 148.5h0M136.1 175.2h0M137.0 162.4h0M134.2 155.6h0M134.3 157.0h0M134.3 134.4h0M135.0 119.9h0M134.8 130.5h0M135.8 185.8h0M137.6 173.5h0M137.2 182.5h0M137.4 173.6h0M133.9 110.8h0M138.2 187.2h0M135.8 172.4h0M137.4 186.3h0M134.1 144.5h0M135.6 178.5h0M134.0 185.8h0M137.4 190.2h0M137.7 189.5h0M136.2 183.0h0M134.3 159.1h0M137.4 167.2h0M134.1 116.4h0M138.4 176.9h0M135.1 130.1h0M137.2 157.1h0M135.5 187.2h0M136.4 179.5h0M137.1 175.7h0M137.1 185.3h0M136.6 186.9h0M134.2 160.1h0M134.7 143.0h0M136.7 190.2h0M135.6 186.4h0M134.2 178.3h0M134.8 189.3h0M136.8 189.1h0M134.3 149.9h0M135.0 188.2h0M136.6 170.6h0M135.2 184.3h0M135.7 185.7h0M134.1 157.7h0M137.3 176.3h0M137.9 189.2h0M134.8 147.4h0M135.6 182.8h0M137.9 189.6h0M136.3 189.9h0M137.2 186.9h0M135.2 174.5h0M137.3 186.4h0M134.5 144.2h0M134.9 186.0h0M134.3 169.8h0M137.3 182.3h0M135.2 158.5h0M135.8 187.3h0M134.8 105.2h0M138.0 189.1h0M133.8 188.2h0M135.1 184.4h0M135.4 181.9h0M134.6 114.1h0M135.9 183.8h0M137.4 181.8h0M135.9 172.0h0M135.6 166.0h0M134.7 189.7h0M137.0 175.8h0M138.1 189.6h0M134.7 117.2h0M137.5 188.2h0M134.3 156.7h0M136.5 157.8h0M135.0 108.1h0M134.6 156.5h0M136.9 175.3h0M138.4 190.0h0M137.7 176.6h0M134.8 176.2h0M136.6 169.6h0M136.2 172.1h0M134.0 151.2h0M135.5 187.9h0M138.2 187.3h0M134.5 151.0h0M134.2 163.7h0M135.8 185.1h0M137.2 188.7h0M137.1 184.1h0M135.9 182.3h0M134.6 121.6h0M135.5 169.1h0M135.8 183.9h0M135.7 183.1h0M133.9 149.2h0M138.0 188.1h0M137.8 169.4h0M134.3 154.8h0M137.6 189.4h0M137.2 163.0h0M134.8 142.9h0M136.3 171.3h0M137.1 168.9h0M134.0 188.1h0M135.4 147.4h0M137.0 188.4h0M138.7 184.4h0M138.5 180.3h0M134.5 185.0h0M134.8 179.3h0M136.2 162.6h0M136.4 183.8h0M135.0 174.9h0M137.6 180.7h0M138.0 173.8h0M135.8 154.4h0M137.7 187.6h0M135.5 158.6h0M134.8 171.8h0M135.0 190.0h0M137.0 185.2h0M136.8 181.1h0M136.1 185.6h0M138.5 187.4h0M133.9 170.8h0M136.7 186.9h0M134.1 81.1h0M134.9 162.2h0M133.8 156.8h0M137.7 182.5h0M134.0 188.2h0M138.1 189.9h0M138.0 189.1h0M134.6 166.5h0M134.7 123.2h0M136.3 173.3h0M137.3 182.6h0M136.1 160.7h0M134.6 115.2h0M135.2 184.2h0M135.3 159.3h0M135.9 183.1h0M135.6 182.8h0M135.2 157.6h0M137.0 186.2h0M135.5 134.4h0M134.8 180.8h0M136.4 172.3h0M135.1 164.1h0M136.7 189.0h0M133.9 124.1h0M133.8 147.3h0M137.0 165.6h0M134.1 185.3h0M134.3 166.4h0M134.1 122.1h0M136.0 169.6h0M137.2 178.8h0M135.9 187.6h0M135.8 151.5h0M137.7 189.0h0M135.6 185.2h0M135.1 184.8h0M135.4 166.6h0M134.7 84.7h0M134.0 164.8h0M136.8 184.9h0M134.5 184.3h0M134.5 163.0h0M135.4 152.8h0M135.0 180.3h0M134.4 176.8h0M134.6 177.0h0M136.1 185.2h0M136.6 174.8h0M134.2 94.0h0M134.0 129.2h0M134.3 127.8h0M135.2 183.4h0M138.5 180.2h0M134.6 144.2h0M135.3 173.1h0M134.8 165.2h0M135.0 186.7h0M135.5 179.6h0M135.4 176.1h0M137.6 189.5h0M137.7 183.6h0M137.2 162.7h0M136.3 186.0h0M137.0 187.7h0M135.0 177.4h0M136.4 141.7h0M135.0 177.0h0M136.2 169.8h0M136.6 186.0h0M134.1 181.3h0M133.8 167.8h0M134.3 181.8h0M135.4 179.0h0M136.6 181.1h0M138.2 171.6h0M137.9 183.7h0M136.7 178.8h0M134.0 102.2h0M137.8 189.0h0M135.7 134.3h0M138.6 187.9h0M134.3 180.0h0M137.1 184.3h0M135.6 188.5h0M138.5 186.3h0M135.0 114.3h0M136.3 163.6h0M135.6 175.5h0M136.2 185.6h0M136.3 168.0h0M135.9 188.2h0M136.0 135.6h0M135.1 181.1h0M136.0 174.6h0M138.5 185.9h0M134.1 187.6h0M135.5 174.7h0M137.1 182.4h0M138.1 180.6h0M136.3 173.0h0M134.4 132.9h0M136.4 180.7h0M135.1 157.5h0M134.6 164.4h0M138.2 171.5h0M135.2 187.4h0M134.8 185.1h0M135.1 148.7h0M134.8 187.0h0M134.1 140.7h0M134.6 167.8h0M133.8 117.9h0M134.8 104.4h0M137.1 172.6h0M135.1 175.9h0M136.2 187.9h0M136.0 172.0h0M136.1 186.1h0M137.6 185.7h0M137.6 186.1h0M134.4 136.3h0M137.9 186.7h0M135.5 131.2h0M135.1 172.9h0M135.3 170.7h0M135.2 189.3h0M136.1 159.2h0M137.1 186.9h0M134.8 187.1h0M134.3 152.3h0M133.9 180.8h0M135.2 103.6h0M134.4 174.1h0M137.2 186.5h0M135.3 188.0h0M136.2 172.1h0M135.6 186.2h0M135.1 174.8h0M134.1 120.0h0M138.4 189.1h0M137.3 176.5h0M136.3 185.2h0M133.9 150.4h0M135.2 130.1h0M134.1 185.5h0M135.8 178.4h0M134.9 179.5h0M137.3 183.6h0M137.5 181.0h0M136.7 181.8h0M136.7 170.6h0M136.6 177.2h0M134.8 182.3h0M134.9 149.1h0M137.8 188.3h0M134.1 188.2h0M136.7 183.0h0M137.9 189.6h0M136.8 171.0h0M137.6 158.7h0M137.6 187.2h0M134.6 139.0h0M135.7 174.7h0M136.8 158.2h0M135.1 181.2h0M133.9 157.6h0M137.4 169.3h0M135.6 185.4h0M135.2 148.1h0M134.9 189.5h0M134.4 186.1h0M134.3 190.1h0M134.6 183.6h0M138.4 183.8h0M135.3 168.9h0M134.2 168.3h0M135.8 143.2h0M137.1 187.5h0M134.2 159.0h0M134.4 144.7h0M134.4 172.8h0M135.2 170.0h0M136.2 173.0h0M135.1 178.4h0M134.1 179.8h0M137.0 185.6h0M134.6 136.4h0M136.5 175.8h0M137.2 185.2h0M134.7 182.7h0M135.4 148.9h0M133.9 165.0h0M135.9 158.7h0M137.6 171.4h0M136.3 178.4h0M133.8 183.7h0M136.9 189.3h0M134.9 170.2h0M136.9 159.5h0M136.7 176.3h0M136.3 143.1h0M134.1 176.1h0M133.9 161.8h0M135.1 183.8h0M134.9 159.3h0M135.3 156.3h0M135.8 189.5h0M134.1 176.2h0M135.2 179.6h0M138.2 188.7h0M137.8 188.7h0M134.3 149.3h0M136.4 189.9h0M136.1 183.4h0M136.6 177.3h0M137.2 144.8h0M135.3 140.8h0M136.9 170.4h0M134.6 162.2h0M133.9 145.3h0M138.3 189.3h0M136.5 168.8h0M135.4 164.5h0M138.4 185.3h0M135.5 138.9h0M136.0 184.9h0M136.6 175.7h0M134.8 182.9h0M133.9 189.6h0M136.9 182.8h0M134.5 171.7h0M135.0 160.1h0M136.1 182.2h0M137.5 189.2h0M134.8 137.2h0M134.0 161.7h0M135.9 136.5h0M133.8 181.4h0M133.9 149.3h0M137.4 184.8h0M138.7 187.5h0M135.6 167.5h0M136.5 159.3h0M135.0 166.9h0M135.2 135.4h0M135.2 154.9h0M134.1 168.0h0M134.3 165.8h0M138.5 183.9h0M136.3 167.7h0M135.6 159.4h0M135.7 168.4h0M137.0 188.0h0M135.0 144.4h0M136.2 182.1h0M136.8 157.6h0M136.0 181.6h0M136.7 180.1h0M135.2 183.0h0M133.9 158.9h0M133.9 166.8h0M134.8 188.4h0M137.9 179.5h0M135.8 156.3h0M135.8 186.6h0M134.9 159.7h0M136.7 179.6h0M134.9 154.1h0M134.0 107.7h0M137.0 144.6h0M135.6 171.0h0M136.7 185.8h0M135.4 189.6h0M134.8 160.2h0M134.9 167.8h0M135.2 187.0h0M135.4 175.7h0M134.8 158.5h0M135.7 151.0h0M137.5 187.8h0M133.9 131.5h0M134.4 161.1h0M134.0 165.0h0M137.0 189.3h0M134.3 148.6h0M134.4 185.9h0M133.9 164.9h0M134.0 179.1h0M136.3 187.8h0M135.0 168.8h0M134.0 181.2h0M134.6 175.7h0M137.0 180.6h0M135.6 189.0h0M136.2 175.2h0M134.3 176.0h0M135.3 187.7h0M134.1 189.5h0M133.9 182.4h0M134.7 163.3h0M135.7 183.0h0M137.1 188.8h0M137.8 187.7h0M135.0 169.5h0M135.4 129.5h0M134.0 176.9h0M136.8 181.4h0M133.9 180.3h0M134.9 158.7h0M135.0 140.6h0M134.7 163.6h0M134.0 173.2h0M135.1 165.0h0M134.1 176.9h0M135.6 179.1h0M136.0 184.6h0M135.2 146.5h0M135.3 188.0h0M138.3 179.7h0M136.6 180.4h0M134.0 122.3h0M135.5 109.9h0M136.1 136.5h0M135.0 188.3h0M134.4 173.6h0M133.8 185.4h0M134.7 181.3h0M135.5 186.4h0M134.2 161.6h0M134.8 187.0h0M134.8 185.1h0M134.6 168.2h0M136.6 168.8h0M136.2 183.3h0M136.5 120.8h0M133.8 146.3h0M135.7 154.8h0M134.3 189.3h0M134.5 131.0h0M136.1 183.2h0M133.9 120.8h0M136.2 171.7h0M135.8 164.7h0M136.7 184.3h0M136.3 144.7h0M135.7 87.0h0M135.5 177.6h0M135.9 154.0h0M136.8 146.2h0M135.0 183.3h0M135.5 165.6h0M137.1 178.8h0M134.4 188.5h0M138.3 184.5h0M135.8 163.6h0M135.0 158.5h0M136.3 180.9h0M134.4 187.7h0M135.0 166.8h0M135.1 159.6h0M136.8 179.6h0M135.5 176.3h0M134.6 166.2h0M135.1 146.1h0M134.8 185.2h0M138.1 172.2h0M135.1 184.0h0M137.6 184.7h0M137.3 169.2h0M137.0 170.5h0M134.8 169.4h0M135.0 181.3h0M136.7 180.1h0M138.0 189.6h0M134.0 111.9h0M134.7 188.2h0M135.2 174.7h0M136.0 184.4h0M134.8 188.5h0M135.8 177.9h0M135.9 184.9h0M136.0 180.0h0M134.2 178.8h0M134.5 143.5h0M136.8 181.5h0M137.6 188.2h0M135.1 182.9h0M137.1 176.4h0M134.3 177.0h0M135.6 162.9h0M135.3 157.5h0M135.1 150.0h0M135.4 135.0h0M137.2 186.5h0M134.5 182.5h0M136.0 163.0h0M137.4 186.7h0M136.9 182.9h0M134.4 134.7h0M134.6 182.2h0M135.5 187.2h0M137.6 188.8h0M138.1 187.6h0M137.2 183.6h0M135.9 174.1h0M134.7 166.1h0M134.4 97.7h0M135.3 181.4h0M136.2 176.9h0M136.2 178.7h0M135.4 183.7h0M134.0 128.7h0M136.2 161.6h0M135.4 182.5h0M134.4 132.9h0M133.9 127.7h0M133.9 104.3h0M137.0 171.7h0M134.6 169.3h0M137.3 188.9h0M134.6 176.6h0M138.5 187.7h0M133.9 153.6h0M134.5 147.1h0M135.5 179.5h0M134.7 163.1h0M137.1 179.2h0M135.3 178.0h0M137.6 189.9h0M137.5 186.0h0M133.9 183.0h0M137.4 184.6h0M136.6 188.0h0M134.2 166.3h0M136.0 161.3h0M134.6 135.1h0M135.3 188.6h0M137.9 186.0h0M135.5 177.7h0M137.3 187.4h0M136.7 173.0h0M136.4 176.7h0M135.8 146.1h0M135.7 186.3h0M134.0 166.0h0M134.3 179.9h0M133.9 170.1h0M136.2 162.6h0M137.8 189.2h0M137.2 181.3h0M135.6 178.7h0M138.2 190.2h0M138.2 186.9h0M135.1 182.7h0M134.2 133.9h0M135.2 187.2h0M137.2 175.8h0M134.0 149.4h0M134.7 115.1h0M137.8 186.7h0M135.8 185.9h0M135.4 171.4h0M133.9 185.0h0M136.6 188.8h0M137.0 178.6h0M136.3 180.1h0M136.5 170.8h0M137.3 179.7h0M137.0 180.3h0M136.6 186.7h0M135.6 188.9h0M134.3 187.0h0M136.1 165.0h0M137.3 189.9h0M135.7 153.5h0M136.2 185.1h0M134.9 126.1h0M136.4 176.9h0M134.3 127.5h0M136.2 176.9h0M135.7 187.7h0M134.1 187.1h0M134.7 158.0h0M134.6 173.0h0M134.4 127.8h0M136.9 167.9h0M134.4 97.8h0M134.0 145.8h0M134.0 181.4h0M134.0 124.5h0M134.0 153.2h0M135.4 148.4h0M135.0 169.0h0M136.7 189.6h0M136.8 187.3h0M137.2 177.8h0M135.0 179.6h0M136.8 175.5h0M138.2 188.8h0M134.4 180.6h0M135.8 112.8h0M137.1 190.0h0M134.4 176.4h0M136.4 169.6h0M137.9 188.8h0M135.4 124.0h0M136.5 188.0h0M137.8 186.4h0M135.2 160.9h0M134.9 93.4h0M134.9 151.0h0M135.3 147.7h0M134.8 181.2h0M135.1 185.3h0M137.1 177.5h0M136.1 166.2h0M137.1 175.9h0M138.4 184.3h0M133.9 165.0h0M135.0 129.2h0M136.5 186.5h0M136.2 183.5h0M135.5 173.5h0M134.7 144.5h0M137.6 183.0h0M136.0 179.4h0M135.4 184.3h0M138.3 188.5h0M136.7 185.7h0M134.9 180.2h0M137.8 187.8h0M138.0 175.8h0M136.5 187.7h0M135.3 167.3h0M136.7 186.5h0M136.3 183.7h0M134.0 157.8h0M138.3 184.0h0M136.5 168.5h0M134.9 141.6h0M136.2 171.1h0M134.0 187.1h0M138.4 190.0h0M134.4 187.5h0M134.9 177.5h0M134.4 141.3h0M136.5 185.3h0M136.1 189.3h0M134.0 138.5h0M136.7 183.9h0M135.8 182.3h0M134.0 176.5h0M135.2 184.5h0M133.9 183.7h0M135.1 183.6h0M135.5 135.7h0M134.8 185.9h0M133.8 161.1h0M134.0 117.9h0M137.0 178.9h0M134.7 156.1h0M137.3 183.6h0M137.7 189.3h0M137.6 171.4h0M136.5 187.7h0M134.7 175.8h0M134.4 186.6h0M135.2 179.0h0M135.7 181.9h0M135.3 169.7h0M134.1 85.6h0M136.4 137.2h0M137.4 184.7h0M135.4 175.0h0M134.7 178.1h0M138.3 186.9h0M135.7 152.9h0M136.5 172.5h0M133.8 179.9h0M135.8 153.9h0M134.2 170.7h0M136.4 184.3h0M134.5 83.0h0M135.4 123.5h0M135.0 180.4h0M135.4 182.5h0M137.8 185.5h0M136.8 188.4h0M133.9 120.3h0M136.2 150.9h0M137.7 184.2h0M134.2 150.4h0M137.2 183.8h0M138.0 189.6h0M134.3 190.1h0M137.8 188.5h0M134.8 160.7h0M137.0 181.9h0M133.9 159.6h0M138.0 177.9h0M137.7 176.3h0M136.8 189.5h0M135.0 150.2h0M136.5 189.7h0M133.9 150.9h0M136.9 187.8h0M136.9 188.4h0M134.0 174.1h0M134.4 143.5h0M138.3 189.7h0M135.0 171.1h0M136.9 181.1h0M134.0 167.5h0M135.0 149.2h0M137.0 186.6h0M134.3 180.7h0M135.9 182.0h0M133.8 122.9h0M134.6 152.4h0M134.8 180.9h0M136.8 181.2h0M134.9 143.1h0M134.7 170.7h0M135.0 180.9h0M134.4 146.3h0M136.9 188.4h0M137.9 182.7h0M136.4 178.3h0M135.0 133.1h0M134.4 164.7h0M136.3 189.8h0M135.3 187.3h0M138.1 180.5h0M137.3 173.1h0M135.0 160.4h0M134.0 172.7h0M136.6 173.0h0M133.9 183.6h0M135.3 174.3h0M137.5 180.6h0M134.9 161.7h0M135.5 125.3h0M135.8 185.2h0M135.4 188.3h0M134.5 189.3h0M133.8 149.1h0M134.1 174.8h0M135.3 183.1h0M134.6 168.7h0M135.6 183.4h0M136.7 133.5h0M134.6 189.5h0M134.6 154.8h0M134.9 150.4h0M134.9 153.4h0M134.0 173.8h0M136.5 178.4h0M134.6 183.4h0M137.1 189.6h0M134.6 183.3h0M136.7 148.7h0M136.6 186.1h0M138.0 189.8h0M135.4 178.5h0M133.9 188.1h0M136.5 184.9h0M134.1 174.6h0M137.7 189.6h0M137.9 185.9h0M134.7 186.6h0M135.7 183.3h0M135.3 188.5h0M134.5 163.9h0M134.9 182.1h0M137.1 182.9h0M134.0 150.8h0M135.9 162.9h0M134.9 131.2h0M134.9 184.8h0M136.2 184.8h0M135.8 173.9h0M135.4 183.9h0M134.9 160.9h0M136.9 186.9h0M135.2 173.0h0M135.3 130.2h0M136.1 149.2h0M137.8 183.7h0M136.1 186.3h0M136.1 181.1h0M137.1 168.7h0M136.8 186.1h0M135.5 186.3h0M134.5 128.3h0M137.1 188.2h0M133.8 166.6h0M136.8 173.9h0M138.1 181.1h0M138.6 189.5h0M136.4 180.4h0M138.6 189.8h0M133.8 166.6h0M138.1 184.8h0M135.8 188.5h0M135.0 166.3h0M136.7 183.7h0M135.1 168.9h0M134.4 148.1h0M134.7 119.9h0M137.0 157.8h0M137.3 188.6h0M135.7 182.3h0M137.6 186.8h0M133.9 189.5h0M135.9 185.9h0M135.5 167.8h0M135.7 189.9h0M134.9 95.6h0M135.4 173.6h0M134.1 180.3h0M134.1 164.3h0M135.9 178.6h0M136.3 164.4h0M133.9 157.6h0M136.7 175.5h0M134.1 180.2h0M134.4 174.6h0M136.0 173.6h0M134.7 189.7h0M133.9 144.5h0M137.2 175.5h0M136.0 187.4h0M134.7 171.6h0M133.8 122.5h0M138.1 184.2h0M138.4 182.1h0M135.0 159.8h0M134.5 165.0h0M134.9 155.0h0M137.8 174.8h0M134.2 185.7h0M136.2 170.1h0M136.7 147.3h0M135.5 174.0h0M135.2 189.3h0M138.0 190.2h0M135.2 170.5h0M136.2 184.9h0M134.9 165.3h0M134.6 184.2h0M134.5 176.8h0M136.5 133.1h0M135.1 129.8h0M134.0 170.4h0M134.5 146.6h0M138.0 189.3h0M137.6 179.5h0M135.1 128.7h0M136.6 168.1h0M136.8 186.8h0M135.0 182.2h0M133.8 180.0h0M136.9 164.8h0M134.2 188.8h0M136.4 170.9h0M138.0 185.0h0M134.6 87.0h0M137.4 186.6h0M136.8 184.3h0M137.5 175.5h0M137.6 177.3h0M134.9 109.1h0M135.2 168.2h0M135.6 177.8h0M136.0 171.2h0M135.6 171.4h0M135.5 176.5h0M135.6 148.2h0M138.5 187.1h0M135.4 141.6h0M136.0 155.0h0M135.7 169.4h0M136.9 174.2h0M134.0 119.6h0M137.0 186.0h0M135.7 172.7h0M138.6 184.0h0M135.8 119.7h0M135.2 189.7h0M134.9 141.2h0M136.9 189.7h0M136.1 178.9h0M135.8 189.5h0M137.4 180.5h0M135.5 167.3h0M136.1 170.7h0M134.5 188.7h0M138.0 186.8h0M135.9 180.2h0M133.9 176.1h0M137.6 185.3h0M137.5 187.6h0M136.1 181.6h0M135.1 170.5h0M135.1 182.8h0M135.3 80.9h0M134.5 95.8h0M135.5 184.2h0M136.3 181.3h0M137.5 161.4h0M136.5 134.8h0M136.4 186.4h0M136.7 175.7h0M133.9 91.8h0M134.7 168.5h0M137.9 185.4h0M135.3 150.0h0M136.6 164.0h0M136.5 189.5h0M137.4 184.5h0M135.6 120.8h0M134.9 179.9h0M134.8 168.5h0M138.2 186.7h0M134.8 185.8h0M134.3 118.1h0M134.4 183.1h0M133.8 146.6h0M135.3 99.9h0M136.8 189.5h0M134.2 158.3h0M133.9 162.4h0M135.3 175.4h0M138.3 187.1h0M136.2 185.4h0M137.2 173.2h0M135.0 161.2h0M134.3 120.7h0M133.9 119.4h0M136.7 187.2h0M137.9 186.7h0M136.6 183.6h0M134.7 186.8h0M134.2 189.6h0M135.7 182.1h0M138.2 190.1h0M137.9 187.2h0M136.9 148.3h0M135.2 185.9h0M138.0 170.6h0M137.7 185.2h0M135.6 161.8h0M137.9 184.6h0M138.5 186.8h0M134.8 176.0h0M135.6 173.0h0M134.8 184.3h0M137.3 186.0h0M133.9 178.2h0M136.1 185.0h0M136.3 183.3h0M134.1 182.2h0M134.5 116.6h0M137.9 165.4h0M134.6 186.6h0M135.9 189.3h0M136.2 177.5h0M136.2 188.8h0M136.8 188.2h0M135.1 90.8h0M134.7 101.9h0M134.1 145.8h0M136.5 188.1h0M134.8 137.6h0M137.3 182.8h0M136.6 174.5h0M136.2 190.1h0M137.9 189.1h0M134.6 188.5h0M136.0 172.9h0M136.4 189.0h0M136.1 144.1h0M135.6 182.1h0M134.5 137.2h0M135.9 183.0h0M138.5 189.9h0M136.2 181.1h0M133.9 101.7h0M136.5 188.2h0M137.3 187.3h0M135.7 116.0h0M137.2 171.9h0M134.8 169.1h0M138.0 176.3h0M134.4 155.1h0M133.8 155.6h0M134.2 187.3h0M135.1 166.5h0M136.3 152.9h0M137.8 186.7h0M136.6 134.9h0M134.6 184.8h0M137.6 190.0h0M137.3 184.5h0M134.2 150.4h0M136.1 162.0h0M135.4 152.3h0M138.6 187.1h0M135.3 184.0h0M134.0 187.5h0M133.9 165.7h0M137.2 185.9h0M135.1 159.4h0M135.8 125.0h0M134.2 107.3h0M136.3 161.9h0M138.4 187.6h0M136.3 188.8h0M134.4 95.2h0M137.5 187.8h0M138.4 176.9h0M135.5 171.2h0M136.1 180.9h0M134.9 145.9h0M137.2 162.2h0M134.4 168.4h0M134.5 146.6h0M134.7 174.7h0M134.3 114.2h0M134.6 188.3h0M137.1 189.3h0M135.8 189.1h0M135.5 124.6h0M133.8 186.4h0M134.9 179.1h0M134.3 189.2h0M137.7 189.2h0M138.6 183.7h0M137.1 183.6h0M133.9 173.3h0M135.8 160.0h0M134.2 172.6h0M138.6 189.4h0M134.8 188.4h0M134.3 144.2h0M134.6 171.4h0M135.3 119.1h0M135.8 153.7h0M134.9 182.3h0M136.6 171.5h0M136.0 183.8h0M134.7 150.1h0M134.3 128.6h0M136.3 153.8h0M137.2 181.7h0M135.6 143.4h0M134.9 158.6h0M136.9 189.9h0M133.9 164.8h0M135.0 186.5h0M135.9 170.9h0M134.9 169.6h0M137.8 181.4h0M134.3 143.8h0M134.4 181.1h0M134.5 126.0h0M136.4 186.1h0M135.3 133.5h0M135.6 173.3h0M134.5 172.1h0M136.8 170.1h0M137.2 173.5h0M135.1 176.4h0M136.4 182.6h0M136.9 186.4h0M136.1 83.7h0M135.7 135.3h0M137.7 189.6h0M138.3 179.4h0M138.0 189.2h0M135.0 142.8h0M133.8 114.8h0M136.9 187.4h0M135.1 176.9h0M135.2 172.9h0M133.9 142.2h0M136.5 143.1h0M135.9 166.5h0M135.8 189.6h0M134.1 187.9h0M134.4 133.8h0M134.7 106.7h0M134.1 157.8h0M136.5 164.9h0M136.7 188.1h0M135.9 178.6h0M136.7 187.3h0M136.5 187.6h0M135.3 189.6h0M136.9 186.4h0M134.8 167.9h0M137.8 188.0h0M136.0 163.7h0M136.5 186.2h0M135.4 189.6h0M133.9 173.2h0M134.1 151.8h0M137.1 180.2h0M135.5 156.0h0M137.2 186.3h0M134.3 160.2h0M136.0 186.1h0M134.9 98.6h0M135.8 166.6h0M136.4 172.6h0M136.0 132.3h0M137.2 163.9h0M137.9 177.8h0M135.0 174.5h0M133.9 186.0h0M136.7 178.3h0M135.1 141.0h0M134.8 189.2h0M135.4 182.3h0M134.9 170.6h0M136.4 190.1h0M136.6 185.7h0M136.4 178.0h0M135.1 185.9h0M134.3 133.2h0M136.0 180.9h0M134.1 162.8h0M133.9 189.9h0M133.9 187.3h0M134.1 186.9h0M134.3 155.8h0M136.2 178.6h0M137.4 187.5h0M135.2 161.4h0M138.3 187.5h0M137.3 189.5h0M135.9 134.0h0M135.3 168.3h0M137.7 185.7h0M134.3 184.9h0M133.9 169.2h0M134.5 141.1h0M134.8 173.7h0M137.9 189.8h0M135.0 181.1h0M133.9 184.4h0M134.4 105.8h0M136.6 184.1h0M136.3 184.8h0M137.0 187.9h0M133.9 161.8h0M135.2 92.4h0M136.4 187.4h0M137.2 189.4h0M136.8 188.9h0M135.2 182.9h0M138.4 186.0h0M134.8 140.7h0M134.0 147.4h0M137.3 184.5h0M133.9 180.5h0M135.7 189.2h0M134.1 184.2h0M134.5 186.4h0M135.1 157.5h0M134.6 182.3h0M135.8 184.0h0M137.6 187.4h0M137.4 185.4h0M135.4 176.7h0M135.7 189.5h0M137.0 184.7h0M134.9 145.0h0M133.8 148.3h0M135.8 160.0h0M136.9 175.1h0M136.9 158.1h0M138.5 185.6h0M135.7 163.7h0M135.6 180.4h0M134.8 151.9h0M133.9 179.2h0M134.0 144.3h0M134.8 88.8h0M136.2 167.1h0M133.9 153.3h0M134.1 188.9h0M135.4 152.4h0M136.1 187.8h0M134.5 144.3h0M136.2 184.8h0M134.3 141.6h0M134.4 134.9h0M136.8 181.7h0M135.8 170.2h0M136.1 166.2h0M133.8 171.8h0M136.3 178.5h0M135.1 174.6h0M135.1 163.9h0M134.7 172.5h0M135.1 179.1h0M134.2 100.6h0M134.4 179.5h0M137.9 180.3h0M138.1 180.2h0M134.9 185.1h0M135.0 180.7h0M135.1 132.7h0M138.7 185.3h0M136.6 185.2h0M134.0 85.0h0M136.2 127.6h0M138.3 188.0h0M135.6 183.3h0M138.4 189.2h0M135.8 189.6h0M135.1 119.1h0M134.1 181.1h0M135.7 145.3h0M138.0 183.0h0M136.7 184.2h0M135.2 106.4h0M138.1 186.9h0M136.0 188.0h0M136.1 177.9h0M135.3 136.3h0M136.7 178.2h0M135.9 112.9h0M134.2 110.9h0M135.7 165.7h0M135.4 172.0h0M133.9 117.1h0M138.6 189.4h0M133.9 185.3h0M136.2 167.2h0M134.5 160.0h0M137.3 184.9h0M136.3 127.0h0M135.5 172.0h0M133.8 105.5h0M136.1 185.2h0M135.5 186.8h0M134.3 174.5h0M134.7 160.4h0M134.6 190.0h0M134.3 166.6h0M137.4 189.1h0M136.5 182.3h0M134.1 132.2h0M135.3 185.1h0M133.8 162.2h0M137.8 187.5h0M135.0 118.3h0M134.8 189.9h0M136.6 181.5h0M135.1 188.0h0M136.7 186.4h0M138.2 186.3h0M137.1 187.7h0M137.1 175.5h0M137.7 177.4h0M135.0 175.9h0M136.2 176.6h0M135.9 172.4h0M138.5 188.9h0M134.9 181.5h0M134.3 154.1h0M138.3 188.0h0M136.9 177.3h0M134.2 188.6h0M138.4 183.0h0M136.0 187.0h0M135.3 152.4h0M134.5 114.0h0M135.0 144.0h0M137.8 189.7h0M135.9 171.2h0M136.2 189.7h0M137.6 187.4h0M134.3 151.0h0M134.3 82.8h0M134.6 99.2h0M136.8 186.0h0M136.9 189.9h0M134.0 152.8h0M135.1 177.4h0M135.5 178.5h0M134.8 178.9h0M136.7 188.1h0M136.5 152.0h0M133.9 187.7h0M134.3 140.2h0M137.9 187.4h0M134.2 176.7h0M134.1 148.4h0M133.8 127.5h0M137.5 172.3h0M135.9 185.2h0M134.4 141.8h0M135.1 136.3h0M137.2 186.1h0M134.7 170.1h0M134.9 103.5h0M136.4 187.8h0M133.8 188.4h0M136.7 167.8h0M138.2 189.1h0M134.2 185.9h0M135.3 189.2h0M136.0 188.0h0M136.2 174.5h0M136.0 175.2h0M134.6 184.5h0M134.1 159.2h0M137.5 176.6h0M134.2 147.1h0M134.4 177.2h0M137.2 189.5h0M135.9 180.6h0M136.6 160.3h0M138.5 188.0h0M137.3 168.8h0M134.0 166.9h0M136.7 189.3h0M137.0 183.0h0M134.0 111.8h0M137.9 177.4h0M138.3 189.6h0M135.2 185.6h0M134.1 182.2h0M135.1 152.1h0M134.6 111.8h0M135.6 169.5h0M136.1 148.0h0M134.2 187.4h0M135.9 176.0h0M134.2 164.2h0M135.9 157.6h0M136.2 157.0h0M135.5 186.0h0M136.3 182.0h0M135.9 183.3h0M136.4 151.7h0M134.1 173.7h0M134.6 178.0h0M134.1 181.1h0M134.1 178.9h0M136.7 176.3h0M137.5 183.6h0M134.0 190.2h0M135.1 115.2h0M135.5 170.1h0M135.3 135.2h0M135.3 143.7h0M133.9 176.8h0M136.9 190.1h0M138.0 188.2h0M134.1 119.5h0M135.3 174.3h0M133.8 159.1h0M136.1 168.4h0M137.1 189.8h0M136.2 185.4h0M138.4 180.1h0M136.4 190.0h0M135.2 140.5h0M134.9 157.5h0M137.5 183.7h0M136.1 183.9h0M136.5 184.7h0M137.2 185.5h0M136.9 180.2h0M136.3 165.1h0M137.1 181.5h0M136.4 179.8h0M133.9 153.1h0M134.0 136.3h0M136.5 172.0h0M134.9 188.6h0M137.7 176.0h0M134.8 99.8h0M137.2 154.1h0M136.6 188.1h0M136.3 187.5h0M138.1 189.5h0M137.1 183.5h0M134.2 154.9h0M135.6 182.5h0M135.8 175.3h0M134.4 171.4h0M138.3 187.3h0M137.3 169.0h0M134.8 162.6h0M134.0 185.5h0M137.2 189.6h0M134.1 185.0h0M134.1 91.0h0M134.0 179.1h0M134.3 80.1h0M134.8 181.3h0M133.8 158.7h0M137.1 178.1h0M137.9 187.7h0"/>
<path stroke="#f9b6c6" stroke-width="1.5" d="M140.1 188.1h0M142.5 187.9h0M142.9 132.8h0M140.8 180.9h0M141.3 185.6h0M142.2 180.4h0M140.1 184.0h0M142.7 90.9h0M141.4 173.3h0M140.2 188.5h0M143.5 186.2h0M141.8 179.0h0M143.9 141.0h0M142.1 177.7h0M140.2 186.9h0M143.6 157.6h0M141.5 172.2h0M143.9 190.1h0M144.3 155.6h0M144.1 169.0h0M144.0 176.7h0M141.2 189.4h0M144.3 187.2h0M141.9 180.1h0M143.7 185.5h0M141.2 175.4h0M144.5 149.4h0M144.6 163.4h0M142.3 180.7h0M142.3 186.9h0M144.1 179.4h0M142.5 184.9h0M144.8 184.8h0M143.7 128.9h0M144.1 184.5h0M140.2 186.9h0M142.2 186.5h0M142.0 190.2h0M143.8 173.0h0M143.5 155.2h0M142.4 174.0h0M142.8 173.0h0M142.2 186.8h0M140.7 188.5h0M143.2 146.9h0M143.8 120.4h0M140.7 188.9h0M142.3 182.7h0M143.3 173.5h0M140.4 182.8h0M141.0 187.4h0M143.2 189.1h0M143.0 173.6h0M141.5 178.6h0M142.5 162.0h0M144.5 172.9h0M142.5 161.0h0M140.6 189.1h0M142.3 171.7h0M140.3 186.2h0M140.6 189.3h0M143.2 184.9h0M143.7 180.2h0M141.6 179.0h0M142.7 188.3h0M143.8 134.5h0M144.5 171.6h0M143.5 151.5h0M140.5 181.2h0M141.9 184.1h0M143.4 168.3h0M141.9 171.6h0M140.8 188.4h0M141.4 156.9h0M144.6 101.1h0M144.4 141.5h0M143.6 176.8h0M144.5 171.3h0M143.8 183.4h0M142.7 170.4h0M143.5 146.6h0M144.5 89.2h0M140.6 189.0h0M140.4 188.9h0M142.2 162.9h0M141.5 181.5h0M143.9 124.4h0M143.4 155.6h0M141.7 147.0h0M144.4 96.5h0M143.6 163.9h0M142.9 186.9h0M142.1 188.2h0M144.7 180.9h0M142.3 174.4h0M143.3 114.0h0M143.2 148.1h0M144.1 188.8h0M143.3 128.0h0M144.2 182.1h0M144.0 175.7h0M144.4 161.6h0M142.4 179.5h0M142.8 159.4h0M143.1 186.4h0M143.1 189.7h0M141.1 182.1h0M142.7 188.6h0M142.2 162.0h0M141.9 182.6h0M140.3 190.2h0M141.7 181.5h0M144.6 162.1h0M140.7 187.3h0M144.2 108.5h0M143.8 183.6h0M142.9 178.5h0M140.3 182.0h0M141.8 165.7h0M143.6 170.8h0M140.3 187.5h0M144.1 176.7h0M141.8 186.4h0M143.1 179.2h0M142.1 179.9h0M144.4 173.6h0M144.4 188.1h0M143.7 180.1h0M143.0 177.4h0M140.7 189.2h0M144.8 117.1h0M144.7 172.3h0M144.5 159.6h0M144.8 177.2h0M141.3 189.6h0M140.9 181.5h0M142.3 171.0h0M141.5 178.2h0M141.4 183.9h0M142.2 183.8h0M142.5 179.9h0M140.6 188.6h0M140.5 186.1h0M141.0 183.2h0M144.4 92.5h0M141.0 188.5h0M144.6 176.7h0M144.3 183.8h0M141.3 187.0h0M143.5 177.8h0M143.7 184.3h0M144.4 137.5h0M144.6 125.7h0M143.2 121.5h0M143.3 188.9h0M143.4 188.1h0M143.5 151.1h0M142.3 190.0h0M140.4 190.0h0M141.6 174.7h0M142.1 166.8h0M143.9 152.1h0M143.9 169.6h0M143.8 172.9h0M142.5 190.1h0M140.1 178.2h0M141.2 167.6h0M142.5 187.9h0M144.2 137.3h0M144.8 162.7h0M144.6 174.3h0M141.8 189.8h0M143.6 141.8h0M144.2 176.6h0M143.1 179.1h0M143.0 85.7h0M142.3 189.0h0M142.4 171.9h0M144.2 118.9h0M143.7 182.4h0M144.2 172.0h0M143.3 163.2h0M144.4 189.5h0M141.0 178.8h0M143.6 180.3h0M144.5 182.0h0M143.1 171.8h0M141.9 188.2h0M140.8 182.8h0M140.8 185.3h0M142.1 158.7h0M144.6 94.5h0M143.9 172.7h0M140.8 163.6h0M143.2 178.8h0M143.6 181.3h0M142.8 186.9h0M144.5 148.7h0M141.1 187.2h0M143.3 167.1h0M144.1 172.0h0M142.7 185.8h0M140.5 183.2h0M140.9 184.4h0M144.4 148.9h0M141.4 162.2h0M141.1 172.4h0M143.9 140.8h0M143.0 182.0h0M144.5 172.4h0M142.2 188.4h0M141.1 188.4h0M141.1 185.1h0M144.5 121.8h0M144.7 133.7h0M143.9 184.1h0M144.5 181.4h0M141.3 189.1h0M142.5 190.0h0M143.7 176.8h0M143.7 132.9h0M143.7 86.2h0M144.1 173.5h0M143.2 185.1h0M142.9 185.9h0M144.7 86.0h0M140.7 190.1h0M142.5 140.0h0M142.8 166.8h0M143.4 185.3h0M142.5 189.3h0M143.3 183.3h0M144.3 146.9h0M142.3 174.7h0M144.4 185.4h0M142.5 125.1h0M144.3 135.3h0M142.3 169.5h0M140.7 185.3h0M143.2 104.7h0M143.2 184.1h0M144.4 142.6h0M142.1 171.9h0M141.7 170.3h0M143.8 153.0h0M143.5 178.9h0M143.8 142.6h0M141.4 188.3h0M141.8 188.9h0M141.1 173.5h0M144.7 102.8h0M140.5 188.5h0M144.0 144.5h0M143.2 172.9h0M144.2 143.4h0M140.1 187.2h0M144.2 172.4h0M144.7 183.5h0M143.0 188.2h0M143.0 148.7h0M144.5 161.4h0M140.6 187.9h0M142.4 174.7h0M141.3 186.1h0M143.3 174.6h0M142.2 182.7h0M140.5 188.3h0M144.0 148.5h0M143.0 185.7h0M144.0 174.3h0M144.6 163.3h0M142.0 189.3h0M143.6 163.5h0M143.3 183.0h0M144.0 150.2h0M142.6 186.7h0M144.7 141.8h0M141.0 186.7h0M142.6 185.2h0M143.0 156.5h0M142.3 170.7h0M144.3 157.2h0M142.0 186.3h0M142.4 152.8h0M144.2 177.4h0M143.4 190.1h0M144.5 106.7h0M141.6 185.0h0M142.0 189.4h0M143.7 164.5h0M140.0 187.8h0M143.6 176.2h0M140.1 183.8h0M143.5 172.3h0M143.5 118.5h0M142.2 138.4h0M142.7 187.9h0M143.5 144.3h0M143.5 170.4h0M142.9 180.9h0M143.8 173.3h0M143.6 184.7h0M144.1 177.4h0M140.6 190.0h0M143.3 155.3h0M143.2 164.0h0M142.7 182.6h0M144.6 187.6h0M144.6 137.6h0M143.9 173.4h0M141.4 189.4h0M144.4 175.7h0M144.5 151.7h0M144.8 171.2h0M140.6 179.4h0M141.4 189.8h0M142.3 187.7h0M141.1 186.6h0M144.5 172.3h0M142.4 172.8h0M142.0 176.9h0M144.5 185.2h0M143.1 189.6h0M144.0 181.2h0M144.2 123.6h0M144.6 151.1h0M142.9 184.6h0M141.9 186.3h0M144.5 140.4h0M144.1 159.3h0M140.8 188.5h0M144.2 86.0h0M143.2 182.8h0M142.9 189.1h0M141.0 187.1h0M141.1 185.8h0M144.1 162.2h0M143.8 162.5h0M144.6 179.0h0M143.4 187.7h0M144.6 159.0h0M141.7 185.9h0M144.1 164.6h0M144.0 186.9h0M143.4 188.2h0M144.5 178.4h0M141.7 184.3h0M143.0 177.2h0M143.7 145.9h0M142.8 175.4h0M144.6 173.0h0M141.0 185.3h0M141.5 188.4h0M143.4 142.5h0M140.0 184.3h0M141.1 180.9h0M143.4 170.6h0M142.6 150.3h0M144.7 151.5h0M142.8 184.0h0M142.4 186.3h0M144.5 166.3h0M144.6 173.5h0M143.6 177.0h0M143.6 130.7h0M140.7 188.3h0M140.2 186.0h0M144.3 124.9h0M144.6 153.1h0M142.6 185.1h0M141.5 189.9h0M143.8 162.1h0M140.4 181.2h0M144.2 168.1h0M142.5 164.3h0M142.6 176.8h0M142.9 176.6h0M142.4 185.2h0M140.7 186.3h0M143.3 145.3h0M141.7 189.6h0M143.8 183.3h0M143.3 179.3h0M142.2 189.2h0M142.9 168.9h0M141.7 186.4h0M142.8 141.8h0M142.3 187.8h0M143.0 171.6h0M144.8 150.4h0M140.4 188.0h0M140.7 189.5h0M140.3 186.4h0M141.3 168.4h0M141.4 177.3h0M144.5 158.4h0M142.8 162.7h0M143.9 168.6h0M142.3 188.8h0M142.6 184.8h0M144.5 157.6h0M141.6 186.5h0M141.3 188.7h0M140.5 186.4h0M140.9 171.9h0M144.7 117.0h0M141.3 185.2h0M143.3 185.6h0M143.4 163.8h0M141.4 176.0h0M143.8 161.4h0M144.3 189.8h0M144.0 183.9h0M144.0 181.8h0M142.4 185.6h0M143.7 165.3h0M144.2 190.2h0M141.9 138.2h0M141.7 177.4h0M142.0 186.4h0M140.5 184.3h0M140.9 179.8h0M142.4 176.4h0M143.1 186.9h0M144.1 150.0h0M143.8 166.5h0M141.5 190.0h0M140.8 186.4h0M140.5 188.6h0M142.4 183.5h0M142.2 187.5h0M142.5 187.0h0M140.2 179.9h0M143.9 170.9h0M141.8 147.5h0M144.2 184.5h0M141.9 176.4h0M140.2 182.8h0M144.4 155.2h0M144.6 179.0h0M140.1 187.1h0M141.8 185.2h0M143.8 158.2h0M142.1 186.3h0M140.7 184.0h0M142.9 181.1h0M142.9 164.2h0M144.2 181.1h0M142.9 165.9h0M140.8 188.6h0M141.7 189.2h0M143.2 165.8h0M144.5 181.9h0M144.7 163.2h0M144.0 145.3h0M143.8 172.5h0M140.2 177.9h0M140.4 185.4h0M141.6 184.5h0M141.4 186.0h0M144.0 173.3h0M144.2 174.3h0M143.6 177.9h0M144.5 174.6h0M144.4 189.0h0M144.3 188.7h0M143.7 187.1h0M144.0 185.5h0M140.6 185.0h0M143.2 167.8h0M144.1 184.7h0M140.8 180.1h0M144.3 175.6h0M144.4 186.9h0M144.0 178.3h0M142.4 171.4h0M142.0 189.6h0M142.9 187.1h0M140.1 172.3h0M141.4 189.2h0M141.8 188.5h0M144.4 183.6h0M143.5 189.5h0M143.6 170.4h0M143.9 179.7h0M142.6 187.3h0M144.5 176.2h0M142.9 168.3h0M142.2 179.2h0M140.3 178.0h0M141.3 189.0h0M141.6 183.9h0M142.5 161.6h0M143.7 172.1h0M142.1 185.8h0M141.5 181.5h0M144.1 131.1h0M141.3 179.6h0M144.7 183.1h0M143.8 168.9h0M144.1 143.7h0M144.4 189.6h0M143.5 172.1h0M144.0 189.3h0M143.3 144.4h0M143.9 186.7h0M141.2 168.2h0M143.9 182.4h0M142.1 178.1h0M141.7 186.3h0M144.7 123.6h0M143.9 164.7h0M143.9 174.9h0M141.6 189.2h0M144.8 170.4h0M141.6 188.3h0M141.4 188.7h0M143.9 180.9h0M142.7 175.2h0M141.2 190.0h0M144.7 93.1h0M144.4 132.8h0M142.9 188.2h0M141.7 189.0h0M143.1 181.3h0M141.3 188.8h0M143.2 183.9h0M140.1 189.5h0M144.1 143.7h0M143.0 174.6h0M142.8 190.0h0M142.1 188.5h0M140.8 187.5h0M142.7 188.5h0M141.2 186.2h0M144.5 184.5h0M143.2 167.9h0M142.4 170.5h0M143.5 180.2h0M142.7 165.8h0M144.4 173.9h0M143.0 177.1h0M141.2 180.6h0M141.6 185.2h0M140.9 182.1h0M144.5 153.1h0M143.0 177.3h0M142.3 180.3h0M143.2 127.2h0M143.7 172.5h0M143.6 125.0h0M144.2 111.1h0M142.1 186.9h0M141.4 176.8h0M142.9 190.2h0M143.3 152.5h0M144.5 103.8h0M144.4 183.3h0M143.0 182.9h0M143.5 182.7h0M140.4 179.7h0M144.0 136.2h0M142.4 177.2h0M144.3 142.4h0M143.6 187.6h0M140.9 176.7h0M144.4 165.3h0M144.4 173.6h0M143.3 173.3h0M143.1 181.4h0M142.4 169.4h0M143.2 186.2h0M143.4 174.7h0M144.7 182.5h0M140.9 185.4h0M143.2 178.8h0M143.6 185.4h0M142.5 178.6h0M144.7 182.5h0M143.2 181.4h0M140.9 185.7h0M143.2 146.3h0M143.8 143.2h0M144.0 181.8h0M142.1 183.1h0M143.2 138.7h0M140.6 180.7h0M140.5 186.7h0M143.2 187.0h0M142.0 180.4h0M143.2 185.1h0M140.3 185.3h0M143.8 132.8h0M144.7 186.2h0M144.4 150.9h0M143.6 176.9h0M141.1 187.7h0M144.5 160.6h0M144.7 181.5h0M140.2 182.9h0M140.9 189.6h0M143.2 167.8h0M141.1 186.5h0M140.4 190.0h0M142.6 162.5h0M143.0 189.9h0M142.6 175.6h0M144.6 177.7h0M143.5 169.1h0M144.0 177.5h0M144.8 121.5h0M142.2 184.0h0M144.3 117.3h0M144.6 161.2h0M144.6 183.1h0M144.1 150.5h0M141.6 187.3h0M140.5 189.4h0M144.3 183.0h0M142.2 183.0h0M141.2 186.6h0M142.7 189.4h0M141.5 184.9h0M144.4 150.9h0M144.6 186.0h0M141.0 173.6h0M143.7 173.1h0M142.6 153.1h0M144.2 163.9h0M142.9 184.4h0M143.1 186.0h0M141.0 189.7h0M141.7 183.4h0M141.8 168.9h0M143.6 188.7h0M144.3 113.4h0M144.6 189.0h0M143.8 125.6h0M143.8 183.9h0M140.7 188.9h0M144.3 167.7h0M142.5 176.0h0M141.1 183.2h0M143.1 178.7h0M143.8 177.6h0M140.4 188.4h0M140.7 186.2h0M141.1 182.1h0M143.6 184.3h0M144.5 141.6h0M142.4 178.8h0M144.1 157.2h0M143.7 186.5h0M140.4 185.7h0M143.6 168.1h0M142.2 177.9h0M143.3 183.3h0M141.7 189.6h0M143.8 182.5h0M144.3 172.6h0M142.0 148.7h0M142.4 172.4h0M143.2 125.4h0M141.0 189.9h0M140.1 172.5h0M142.8 124.2h0M143.0 166.1h0M141.4 184.6h0M142.4 185.5h0M143.8 136.4h0M144.2 169.1h0M141.3 189.4h0M143.9 166.7h0M144.5 184.5h0M140.6 187.9h0M142.1 188.8h0M143.7 174.5h0M143.4 130.9h0M143.2 107.4h0M144.2 106.4h0M143.4 166.3h0M142.4 166.6h0M143.3 159.6h0M143.5 178.7h0M140.9 174.9h0M142.9 95.5h0M144.5 185.6h0M141.8 189.2h0M141.5 183.2h0M143.6 181.0h0M142.2 175.2h0M143.3 147.7h0M144.6 140.8h0M141.6 186.0h0M141.2 188.6h0M144.6 138.9h0M143.7 188.7h0M144.8 167.2h0M142.0 189.7h0M141.1 189.6h0M143.2 184.8h0M142.0 174.3h0M140.7 186.4h0M144.1 165.3h0M143.8 156.3h0M141.2 188.1h0M143.8 95.9h0M143.4 88.8h0M143.2 167.5h0M144.5 167.5h0M141.1 183.4h0M142.0 187.2h0M142.6 182.4h0M140.1 179.8h0M142.8 186.7h0M142.7 138.3h0M140.5 189.1h0M143.4 134.6h0M144.0 182.1h0M141.0 186.5h0M144.2 103.9h0M142.5 168.5h0M143.3 187.0h0M142.4 159.3h0M140.3 189.3h0M142.0 170.2h0M141.3 182.0h0M144.3 187.2h0M144.7 185.7h0M140.1 188.6h0M143.0 189.4h0M143.6 168.2h0M144.8 93.7h0M144.4 149.1h0M143.9 155.8h0M143.9 179.8h0M142.6 186.9h0M141.1 182.7h0M144.3 99.6h0M141.2 179.4h0M142.0 188.6h0M142.3 180.4h0M144.6 185.7h0M142.0 176.9h0M142.9 181.4h0M144.1 190.1h0M144.6 178.5h0M144.3 148.1h0M143.4 167.3h0M140.4 189.1h0M143.4 178.1h0M143.7 166.3h0M143.6 132.0h0M142.2 184.0h0M140.5 184.7h0M144.2 181.1h0M143.7 175.2h0M142.1 172.3h0M141.1 186.7h0M140.9 183.1h0M142.9 158.7h0M141.3 184.8h0M143.6 172.7h0M143.8 183.8h0M142.3 189.8h0M143.9 138.6h0M143.9 163.9h0M140.4 187.1h0M144.1 161.4h0M140.8 188.9h0M142.7 159.1h0M140.9 190.0h0M143.9 147.8h0M141.3 182.6h0M143.8 176.6h0M141.8 189.3h0M140.5 188.6h0M142.3 173.0h0M140.6 182.0h0M141.4 189.8h0M141.5 178.3h0M143.4 188.0h0M141.2 189.9h0M142.5 162.9h0M144.5 183.6h0M143.5 176.3h0M142.3 185.2h0M143.2 173.6h0M141.8 166.7h0M143.6 113.0h0M144.0 181.4h0M141.8 181.0h0M143.6 160.3h0M142.2 144.8h0M142.6 144.6h0M144.5 135.0h0M142.5 177.0h0M141.0 189.1h0M144.6 125.5h0M140.7 188.4h0M141.7 178.2h0M142.3 190.0h0M143.6 164.3h0M140.9 189.0h0M144.0 149.8h0M141.3 186.8h0M141.9 182.2h0M144.0 90.3h0M143.6 127.1h0M144.6 159.0h0M141.9 179.9h0M144.1 96.8h0M142.0 170.6h0M141.7 187.1h0M142.2 173.7h0M141.1 188.8h0M141.7 147.0h0M144.4 174.0h0M144.7 171.5h0M143.7 126.4h0M142.7 151.5h0M144.5 182.7h0M142.0 173.4h0M143.7 163.7h0M141.3 181.4h0M142.7 162.4h0M143.7 184.8h0M144.5 165.1h0M144.3 185.3h0M140.7 188.9h0M141.0 189.7h0M142.1 181.2h0M141.4 186.3h0M144.2 186.1h0M141.7 171.0h0M144.3 154.3h0M140.4 186.5h0M143.4 183.3h0M143.9 184.9h0M143.4 187.9h0M141.2 187.8h0M143.4 133.5h0M142.4 161.4h0M144.7 135.5h0M140.4 190.0h0M144.0 183.3h0M143.9 180.8h0M143.3 183.5h0M143.1 187.9h0M143.3 177.2h0M143.7 166.7h0M140.3 185.4h0M140.9 184.8h0M144.1 172.1h0M140.9 182.4h0M140.4 189.6h0M143.9 142.2h0M143.5 156.2h0M143.5 187.7h0M143.4 179.4h0M142.9 180.3h0M142.8 184.8h0M144.3 186.5h0M141.5 188.0h0M142.2 183.9h0M141.5 188.6h0M142.7 189.7h0M142.9 187.0h0M141.1 183.4h0M144.3 183.1h0M144.8 145.6h0M142.9 186.9h0M143.3 122.5h0M144.8 146.6h0M144.5 93.1h0M144.7 132.8h0M143.4 130.5h0M144.0 189.7h0M141.7 171.0h0M143.9 186.3h0M144.2 141.8h0M141.1 189.6h0M142.5 155.5h0M144.7 155.4h0M141.6 176.4h0M141.2 185.7h0M143.6 169.0h0M142.1 166.6h0M144.5 99.4h0M140.8 188.8h0M143.3 138.7h0M144.7 78.3h0M144.1 176.9h0M142.8 186.7h0M142.7 189.3h0M140.7 188.3h0M141.0 189.7h0M142.5 185.3h0M144.8 148.1h0M140.0 187.8h0M143.8 163.8h0M141.7 186.3h0M143.9 176.0h0M143.4 167.0h0M144.8 190.0h0M142.4 165.3h0M140.2 186.9h0M144.0 186.8h0M143.3 138.6h0M143.1 190.1h0M140.9 186.5h0M140.1 178.1h0M141.8 188.7h0M144.0 172.3h0M144.1 171.7h0M142.2 167.3h0M142.9 163.1h0M142.5 139.1h0M141.6 172.2h0M144.1 85.7h0M142.4 94.3h0M143.3 181.1h0M141.8 176.8h0M140.6 171.1h0M143.3 180.9h0M143.6 183.9h0M144.2 177.6h0M141.3 183.3h0M143.5 180.5h0M143.6 144.0h0M142.9 164.0h0M144.1 136.3h0M144.2 185.9h0M144.3 124.0h0M142.8 167.6h0M141.6 189.0h0M142.7 187.1h0M141.1 179.8h0M144.7 110.4h0M144.8 144.9h0M142.8 189.4h0M140.7 154.3h0M143.7 122.5h0M144.4 151.5h0M141.9 176.1h0M143.8 182.6h0M144.2 172.3h0M144.3 144.6h0M140.9 188.6h0M142.1 159.5h0M140.9 173.5h0M144.7 146.4h0M143.1 180.9h0M144.5 186.6h0M144.3 179.7h0M142.5 98.6h0M141.0 188.7h0M143.7 124.7h0M141.6 184.8h0M142.3 188.7h0M141.8 185.7h0M142.7 174.9h0M142.4 160.6h0M142.4 185.6h0M144.6 145.2h0M144.7 112.1h0M143.4 185.9h0M144.7 177.6h0M144.6 181.4h0M144.0 181.4h0M144.0 180.0h0M144.8 151.4h0M140.7 183.4h0M140.7 181.7h0M143.8 186.5h0M141.0 188.8h0M143.6 149.8h0M144.5 179.5h0M140.8 187.7h0M144.2 110.7h0M142.9 172.6h0M143.8 168.1h0M141.6 180.0h0M144.0 166.1h0M140.4 188.9h0M143.9 184.8h0M144.5 157.3h0M144.1 180.5h0M143.9 159.6h0M141.5 189.5h0M141.9 188.8h0M144.4 116.9h0M144.1 189.9h0M144.4 172.7h0M144.3 138.8h0M141.5 182.3h0M142.4 184.7h0M140.3 186.5h0M142.4 168.9h0M140.9 188.0h0M143.9 189.8h0M141.5 174.0h0M140.5 190.1h0M141.0 188.7h0M144.0 176.7h0M143.2 182.4h0M144.0 129.5h0M140.6 189.4h0M143.7 141.5h0M142.4 183.1h0M141.7 174.6h0M141.1 171.8h0M144.2 136.3h0M144.8 157.0h0M143.2 148.7h0M143.7 180.3h0M140.5 181.8h0M143.9 129.6h0M142.9 134.7h0M140.4 188.2h0M142.1 165.6h0M142.2 189.1h0M140.1 187.5h0M141.3 185.5h0M142.3 140.3h0M144.6 181.9h0M142.1 189.4h0M143.6 175.6h0M144.6 180.3h0M144.3 169.4h0M143.5 163.3h0M144.1 183.5h0M141.2 188.7h0M142.4 168.3h0M142.8 149.8h0M143.3 157.9h0M142.9 188.4h0M143.3 184.4h0M140.7 188.4h0M141.3 185.3h0M141.9 186.1h0M142.5 162.6h0M141.8 179.0h0M141.7 181.9h0M142.0 166.2h0M144.8 163.8h0M144.4 180.2h0M142.8 180.4h0M140.8 186.0h0M144.6 152.5h0M141.5 177.0h0M143.9 148.7h0M144.6 170.0h0M144.7 159.4h0M143.7 182.5h0M142.7 182.7h0M144.1 155.2h0M141.1 176.9h0M142.2 185.3h0M142.7 162.9h0M144.1 161.4h0M144.6 116.4h0M144.4 169.3h0M141.0 186.6h0M141.1 180.4h0M144.7 144.0h0M142.6 187.5h0M142.4 187.0h0M142.7 179.7h0M144.6 185.5h0M144.4 188.6h0M142.2 159.1h0M142.7 187.2h0M142.3 168.8h0M144.7 176.7h0M140.8 188.7h0M143.4 181.9h0M142.4 168.4h0M143.6 175.1h0M144.5 156.4h0M142.9 184.9h0M140.8 185.3h0M141.7 188.0h0M142.9 154.2h0M142.3 180.0h0M141.8 180.4h0M140.7 184.8h0M142.3 176.8h0M143.2 186.8h0M141.7 181.5h0M142.8 179.6h0M140.8 181.5h0M143.2 170.0h0M141.7 185.9h0M143.7 186.7h0M144.1 188.2h0M144.3 151.8h0M141.0 180.3h0M144.5 139.0h0M143.5 158.1h0M141.1 188.2h0M141.5 178.1h0M143.2 167.5h0M142.0 186.4h0M142.3 161.2h0M143.3 125.1h0M143.7 188.0h0M141.9 169.5h0M144.0 118.4h0M142.3 184.7h0M140.4 173.7h0M142.0 187.7h0M143.3 178.0h0M140.7 158.2h0M143.8 93.2h0M142.9 189.8h0M140.7 175.7h0M143.9 171.1h0M142.6 181.6h0M144.0 167.0h0M144.6 122.0h0M142.5 171.2h0M142.4 170.9h0M141.6 188.1h0M143.4 184.2h0M144.3 130.0h0M144.6 167.6h0M143.2 163.8h0M141.4 179.5h0M144.5 184.4h0M144.0 172.4h0M141.5 175.0h0M142.6 162.7h0M140.6 185.9h0M143.5 154.6h0M141.5 155.7h0M143.6 175.0h0M140.1 183.6h0M143.6 86.2h0M142.5 188.3h0M142.8 183.2h0M141.9 154.4h0M144.0 188.6h0M142.0 183.3h0M143.9 178.4h0M141.4 186.8h0M143.6 166.4h0M143.7 180.4h0M144.5 189.2h0M141.8 175.6h0M142.6 165.7h0M144.2 151.0h0M142.3 163.3h0M142.1 188.8h0M140.1 188.6h0M143.7 121.7h0M142.1 181.9h0M141.3 189.6h0M141.2 189.2h0M144.6 143.7h0M142.2 183.8h0M141.1 186.7h0M140.6 186.2h0M143.3 188.4h0M144.6 159.8h0M143.0 141.5h0M140.3 186.9h0M143.1 137.6h0M143.7 176.2h0M140.7 189.6h0M144.3 169.3h0M142.3 173.2h0M140.4 183.1h0M141.7 181.8h0M144.2 181.2h0M141.7 177.8h0M144.1 182.6h0M142.5 166.5h0M143.1 152.8h0M143.6 172.3h0M142.6 179.4h0M144.2 188.7h0M141.8 188.5h0M144.1 132.2h0M142.7 187.6h0M144.7 190.2h0M141.4 178.8h0M142.7 188.3h0M144.6 181.1h0M140.1 185.1h0M144.2 176.2h0M141.8 183.0h0M141.2 188.4h0M141.3 187.3h0M140.0 179.6h0M142.7 164.4h0M142.4 176.3h0M141.2 188.2h0M141.6 152.0h0M141.0 182.8h0M144.2 168.7h0M143.8 186.3h0M144.5 173.6h0M143.0 157.9h0M140.1 185.3h0M141.4 178.0h0M141.7 178.9h0M144.2 160.2h0M141.8 177.5h0M144.3 141.6h0M141.6 180.5h0M143.5 168.2h0M142.0 189.5h0M144.0 171.7h0M141.7 186.2h0M141.6 189.5h0M142.4 188.5h0M143.5 188.1h0M142.3 164.6h0M142.7 174.1h0M141.6 187.4h0M140.7 167.2h0M144.7 131.5h0M141.5 179.1h0M144.1 106.0h0M144.0 185.3h0M144.0 175.7h0M142.9 173.7h0M141.5 184.1h0M144.4 185.8h0M142.9 178.5h0M140.9 188.8h0M142.6 189.4h0M141.8 183.3h0M141.6 177.2h0M144.8 175.2h0M142.5 176.5h0M142.0 187.9h0M143.5 187.0h0M140.0 188.6h0M144.4 185.9h0M144.4 131.8h0M144.2 141.2h0M143.8 99.0h0M141.3 187.7h0M143.2 186.7h0M143.0 185.8h0M144.8 129.9h0M143.4 189.3h0M141.9 183.8h0M144.8 174.9h0M142.9 172.4h0M143.4 156.3h0M142.3 183.8h0M141.6 176.6h0M143.0 184.1h0M144.5 122.8h0M141.5 173.2h0M143.3 151.9h0M143.2 189.6h0M142.8 183.8h0M141.7 186.1h0M144.7 147.5h0M141.7 185.4h0M144.3 116.0h0M140.5 188.1h0M143.3 183.3h0M140.2 187.3h0M143.1 159.2h0M143.9 163.4h0M143.3 173.5h0M144.1 160.8h0M143.7 185.1h0M140.4 187.0h0M142.7 154.1h0M142.0 188.5h0M143.7 153.5h0M140.0 185.1h0M141.5 187.8h0M142.7 175.0h0M143.2 148.1h0M142.8 166.5h0M141.5 186.3h0M144.3 175.2h0M140.9 179.9h0M143.8 186.3h0M142.4 186.7h0M144.5 174.3h0M141.7 162.4h0M142.8 185.9h0M141.0 182.3h0M143.7 186.5h0M141.4 181.3h0M140.7 159.9h0M143.2 187.9h0M143.7 166.5h0M143.4 161.4h0M143.0 142.2h0M141.4 187.7h0M143.8 181.7h0M141.0 189.5h0M141.7 189.7h0M144.6 119.7h0M142.0 187.5h0M144.3 184.7h0M143.0 172.2h0M144.6 167.8h0M140.9 181.6h0M144.5 175.7h0M140.8 190.1h0M144.2 156.8h0M142.7 179.5h0M142.5 184.6h0M142.6 186.7h0M143.1 181.7h0M144.7 157.7h0M143.2 119.7h0M140.5 184.3h0M142.3 167.9h0M144.6 188.7h0M141.3 187.8h0M143.1 151.2h0M143.9 178.2h0M141.4 189.0h0M142.7 187.3h0M144.5 133.2h0M143.4 184.7h0M143.2 170.0h0M143.5 186.1h0M143.3 180.2h0M144.6 136.3h0M144.0 168.2h0M143.1 182.1h0M144.8 133.1h0M141.7 187.6h0M140.6 188.9h0M144.8 173.8h0M143.8 181.4h0M144.8 188.4h0M144.2 127.0h0M144.1 147.1h0M143.5 165.1h0M143.3 155.7h0M144.2 166.0h0M142.7 187.0h0M141.0 186.3h0M142.5 142.0h0M143.0 184.4h0M141.5 184.1h0M141.9 158.2h0M140.9 181.0h0M141.2 181.1h0M144.2 172.4h0M143.5 176.0h0M144.7 176.6h0M141.4 185.3h0M143.7 169.0h0M141.4 184.8h0M140.6 182.9h0M142.1 156.3h0M142.5 187.7h0M140.1 189.7h0M141.8 186.3h0M144.0 188.6h0M141.8 188.4h0M141.0 184.6h0M140.5 188.8h0M142.4 151.3h0M143.4 179.6h0M143.9 166.0h0M140.9 176.2h0M144.1 178.5h0M143.7 188.7h0M141.6 174.6h0M144.3 182.2h0M143.1 181.0h0M141.4 177.9h0M143.6 188.0h0M143.6 189.6h0M140.8 187.8h0M140.3 184.2h0M143.7 175.8h0M143.7 188.2h0M140.8 179.9h0M140.3 181.5h0M144.4 190.1h0M144.1 178.5h0M144.7 144.8h0M144.3 152.3h0M144.0 88.4h0M140.8 175.0h0M143.6 153.6h0M142.6 188.2h0M142.0 185.3h0M143.1 170.4h0M141.8 184.0h0M143.9 108.1h0M142.3 184.2h0M140.5 188.2h0M144.5 135.4h0M142.9 188.6h0M143.5 175.8h0M142.2 149.8h0M143.9 177.3h0M141.8 188.0h0M141.8 187.3h0M141.2 185.9h0M142.7 185.2h0M143.5 179.4h0M143.6 147.8h0M140.8 187.1h0M142.9 167.7h0M144.7 186.1h0M143.4 167.6h0M142.8 171.3h0M143.8 134.4h0M142.5 153.6h0M143.4 185.9h0M142.3 164.1h0M141.2 187.0h0M143.5 182.3h0M141.5 189.8h0M143.3 186.0h0M144.0 141.4h0M144.1 171.3h0M143.1 174.9h0M142.6 186.8h0M142.5 174.3h0M143.4 153.8h0M144.7 160.3h0M143.2 177.4h0M143.0 118.7h0M144.8 186.1h0M143.6 188.9h0M140.9 187.5h0M140.8 188.5h0M142.9 184.9h0M144.3 164.5h0M141.7 188.1h0M140.2 186.8h0M143.5 177.3h0M144.2 173.4h0M141.5 189.7h0M141.3 175.2h0M142.1 179.6h0M140.5 190.0h0M143.6 164.6h0M144.1 90.8h0M142.3 186.0h0M144.0 178.0h0M144.1 180.4h0M141.7 181.6h0M143.5 154.9h0M144.2 189.0h0M141.3 178.9h0M140.5 186.7h0M142.7 167.7h0M142.2 178.2h0M143.3 188.3h0M140.4 187.4h0M141.4 188.6h0M141.7 176.9h0M141.7 180.3h0M143.5 160.6h0M144.6 146.4h0M141.1 188.9h0M140.9 180.1h0M141.4 188.6h0M140.8 189.3h0M143.6 182.2h0M142.3 189.9h0M140.2 184.5h0M144.5 188.8h0M141.4 182.4h0M140.7 188.8h0M143.9 182.8h0M142.0 186.7h0M141.5 180.4h0M144.7 178.9h0M141.8 185.8h0M143.7 182.4h0M144.2 181.1h0M141.5 189.7h0M142.6 126.1h0M140.8 183.8h0M140.9 186.0h0M143.8 180.5h0M142.1 155.7h0M144.4 189.4h0M144.1 168.4h0M144.0 97.1h0M141.3 186.6h0M144.6 177.4h0M144.7 90.6h0M143.0 167.3h0M144.5 186.2h0M141.0 176.2h0M142.7 169.1h0M142.8 173.8h0M143.2 175.0h0M144.0 190.0h0M143.2 168.3h0M140.9 185.9h0M140.6 180.2h0M144.0 154.9h0M144.4 187.9h0M142.2 184.7h0M144.7 178.8h0M144.3 188.3h0M141.8 186.2h0M141.1 187.4h0M143.6 170.8h0M144.1 129.2h0M143.6 153.1h0M142.6 183.2h0M143.0 182.3h0M141.2 181.3h0M142.7 174.9h0M141.4 186.7h0M140.8 181.9h0M143.7 161.7h0M140.5 185.5h0M144.0 130.6h0M141.3 180.6h0M141.5 189.3h0M141.1 190.1h0M141.7 180.7h0M142.8 177.5h0M140.8 169.2h0M141.1 178.9h0M144.6 125.0h0M143.8 174.7h0M142.3 179.0h0M142.6 184.6h0M143.6 166.3h0M144.2 129.1h0M140.8 190.0h0M142.4 143.2h0M143.4 152.0h0M144.2 177.9h0M140.9 186.8h0M144.4 161.8h0M140.6 186.2h0M142.6 142.4h0M144.5 187.7h0M143.5 185.5h0M144.1 182.4h0M143.8 168.4h0M141.2 189.4h0M144.7 159.4h0M142.8 187.7h0M142.9 164.7h0M141.7 170.0h0M142.3 186.9h0M144.2 182.2h0M143.5 152.2h0M143.8 180.9h0M143.4 103.0h0M141.6 167.7h0M141.6 188.9h0M143.1 157.0h0M141.2 184.8h0M141.9 176.3h0M142.9 160.0h0M141.1 184.9h0M141.8 182.1h0M144.0 177.8h0M142.1 178.3h0M143.8 181.3h0M141.8 187.6h0M140.2 188.1h0M144.8 173.8h0M144.6 174.7h0M144.5 188.0h0M142.1 168.5h0M144.5 161.8h0M143.7 168.7h0M144.8 149.0h0M142.5 161.3h0M143.4 93.9h0M141.1 189.6h0M140.8 187.0h0M143.2 182.5h0M140.0 187.1h0M144.0 173.6h0M144.0 140.3h0M143.1 180.2h0M140.8 185.3h0M143.0 176.8h0M144.1 159.9h0M142.4 186.5h0M141.6 187.7h0M143.3 174.1h0M144.8 168.9h0M143.2 186.5h0M143.3 186.5h0M144.4 176.2h0M142.5 184.0h0M141.6 183.9h0M141.5 181.2h0M140.4 180.3h0M144.5 174.6h0M144.5 188.4h0M141.8 174.9h0M141.6 178.9h0M144.7 174.2h0M142.7 187.2h0M144.8 106.7h0M140.6 178.0h0M143.5 179.2h0M142.6 179.6h0M141.0 189.0h0M140.8 188.3h0M144.1 174.3h0M141.1 188.7h0M143.7 174.7h0M140.5 172.0h0M140.2 183.1h0M143.3 111.6h0M142.0 178.4h0M144.5 113.6h0M141.1 184.8h0M142.1 180.7h0M141.2 187.0h0M140.2 187.9h0M143.8 171.4h0M144.5 182.2h0M142.8 187.4h0M143.7 185.8h0M144.6 186.7h0M143.1 178.9h0M142.5 181.3h0M144.0 186.2h0M144.2 154.1h0M140.7 189.6h0M142.6 188.1h0M141.3 164.7h0M141.7 170.6h0M143.0 184.7h0M144.5 159.3h0M143.7 164.0h0M144.8 120.2h0M141.2 188.0h0M142.6 184.2h0M141.1 186.9h0M144.8 156.0h0M143.1 183.9h0M140.3 187.2h0M141.4 172.8h0M143.0 183.9h0M143.4 169.4h0M141.7 188.6h0M143.9 144.6h0M142.9 186.1h0M144.7 189.0h0M141.2 174.5h0M144.3 120.4h0M143.3 171.6h0M140.3 178.0h0M143.5 186.1h0M143.9 148.7h0M141.4 174.0h0M142.6 183.3h0M141.0 181.5h0M142.0 183.2h0M141.7 188.8h0M144.7 169.6h0M144.7 98.2h0M143.2 178.3h0M140.3 186.3h0M143.7 161.1h0M144.2 158.5h0M142.4 181.1h0M142.9 176.4h0M141.2 187.5h0M141.4 185.3h0M144.8 144.6h0M143.1 142.4h0M141.0 188.6h0M144.6 143.9h0M141.2 185.1h0M144.0 160.2h0M140.3 183.1h0M144.3 174.6h0M144.5 173.2h0M144.3 180.5h0M143.3 158.0h0M142.7 163.9h0M143.8 173.1h0M144.2 162.0h0M141.5 186.8h0M144.3 164.7h0M144.3 187.9h0M144.8 89.1h0M144.8 146.8h0M142.6 187.2h0M144.1 189.5h0M144.0 144.3h0M144.3 152.3h0M144.6 186.8h0M141.6 168.8h0M144.5 148.3h0M143.3 156.1h0M140.1 180.4h0M143.6 176.9h0M143.0 177.6h0M141.6 189.9h0M140.8 185.4h0M144.8 186.7h0M143.6 180.6h0M142.9 190.2h0M143.2 164.2h0M144.2 117.5h0M144.2 187.4h0M144.4 168.7h0M144.4 132.0h0M140.7 186.7h0M142.9 170.6h0M144.6 188.0h0M143.3 179.5h0M141.1 183.0h0M143.8 189.5h0M140.9 185.6h0M144.7 136.5h0M143.6 179.5h0M144.7 186.2h0M141.1 188.7h0M140.8 183.1h0M142.9 176.0h0M144.3 155.4h0M144.1 169.5h0M142.4 189.6h0M141.8 184.1h0M142.1 177.9h0M142.1 181.1h0M141.0 187.5h0M144.1 114.9h0M140.6 186.8h0M144.7 188.8h0M144.2 182.9h0M143.6 80.8h0M143.9 188.3h0M143.3 169.0h0M143.2 180.7h0M141.4 187.1h0M141.0 183.0h0M140.7 189.8h0M143.9 111.3h0M140.3 182.2h0M143.6 189.3h0M142.0 186.0h0M143.3 187.3h0M143.1 170.4h0M143.0 150.7h0M141.6 188.6h0M142.8 177.9h0M143.7 188.0h0M144.5 170.6h0M141.0 184.7h0M142.2 178.4h0M141.5 182.4h0M144.1 178.0h0M144.1 158.5h0M144.4 163.1h0M144.1 131.6h0M144.3 118.6h0M142.0 183.5h0M143.8 100.3h0M142.5 183.6h0M142.2 186.5h0M144.7 106.2h0M142.6 170.6h0M140.1 184.7h0M142.3 186.2h0M141.1 188.2h0M143.3 146.3h0M144.8 164.3h0M143.4 161.0h0M141.9 185.2h0M143.4 169.0h0M142.0 186.0h0M140.3 185.4h0M142.3 171.6h0M142.5 185.9h0M144.3 189.7h0M140.2 190.0h0M144.1 159.8h0M144.6 173.2h0M142.5 184.4h0M144.6 155.0h0M142.4 164.2h0M140.6 182.4h0M143.5 186.7h0M143.6 166.1h0M144.0 182.6h0M143.0 183.3h0M143.5 99.9h0M144.6 149.8h0M143.9 169.7h0M144.1 146.9h0M140.0 189.6h0M142.8 128.9h0M142.6 167.7h0M140.2 179.8h0M144.7 178.9h0M141.7 171.8h0M142.3 183.9h0M140.5 185.4h0M139.9 183.9h0M140.0 185.0h0M142.2 186.0h0M142.9 179.1h0M141.5 180.7h0M144.5 144.2h0M141.9 183.3h0M143.7 125.7h0M142.4 163.8h0M143.8 188.0h0M142.0 177.5h0M141.1 190.0h0M142.4 156.5h0M142.1 187.3h0M144.2 188.9h0M142.3 161.2h0M143.8 135.7h0M140.0 189.6h0M139.9 183.9h0M142.5 188.7h0M142.5 171.2h0M142.9 177.9h0M142.4 187.1h0M142.6 173.2h0M140.3 182.7h0M144.1 181.9h0M140.6 180.0h0M143.2 188.8h0M142.4 151.8h0M143.8 174.5h0M141.7 183.5h0M141.0 189.1h0M144.1 139.8h0M140.2 174.1h0M142.5 160.3h0M142.6 181.8h0M144.3 179.5h0M143.5 169.6h0M143.4 177.8h0M144.4 165.4h0M143.7 176.5h0M142.8 173.5h0M141.0 178.7h0M143.1 144.2h0M142.2 185.9h0M142.5 175.4h0M140.1 190.0h0M144.8 142.6h0M143.8 169.2h0M141.4 185.6h0M141.7 189.0h0M141.5 169.2h0M142.4 173.5h0M141.4 177.8h0M142.0 188.0h0M142.1 189.6h0M143.3 170.4h0M144.3 189.5h0M142.5 164.5h0M142.2 189.9h0M144.1 185.8h0M143.8 177.0h0M144.4 178.3h0M143.6 179.8h0M144.8 180.5h0M144.2 179.3h0M142.8 187.8h0M140.7 189.0h0M141.6 162.4h0M144.4 185.6h0M141.9 165.4h0M144.0 186.4h0M144.2 121.8h0M143.4 129.5h0M144.7 177.1h0M144.6 160.7h0M140.9 177.6h0M143.9 188.7h0M142.1 173.9h0M141.6 188.0h0M142.7 128.9h0M144.2 188.7h0M141.8 188.2h0M142.5 186.6h0M144.5 120.6h0M143.3 178.9h0M141.5 182.3h0M144.5 107.5h0M144.6 149.9h0M143.7 170.0h0M143.2 182.1h0M142.0 186.5h0M142.5 182.0h0M144.3 178.9h0M140.4 187.1h0M144.8 83.7h0M141.9 166.6h0M143.5 159.7h0M142.7 177.1h0M143.6 168.7h0M142.2 153.0h0M144.5 180.9h0M140.2 189.6h0M144.4 98.6h0M142.5 139.3h0M144.6 130.4h0M142.3 176.9h0M143.3 167.4h0M144.4 136.9h0M144.3 184.1h0M141.5 181.7h0M140.7 186.0h0M140.3 181.7h0M143.6 186.6h0M143.0 187.1h0M144.2 169.6h0M141.7 173.3h0M143.9 166.1h0M140.6 190.0h0M144.6 152.8h0M141.5 185.7h0M142.8 174.2h0M140.7 188.6h0M144.7 171.9h0M141.5 188.2h0M143.5 178.2h0M141.7 183.4h0M140.2 190.1h0M143.5 180.0h0M142.8 185.0h0M140.3 184.8h0M143.9 159.3h0M143.5 163.7h0M143.7 141.1h0M143.4 112.2h0M141.9 182.8h0M142.8 182.4h0M143.0 107.7h0M143.7 181.6h0M141.9 181.3h0M144.7 132.4h0M143.1 190.2h0M141.2 185.4h0M141.7 185.0h0M143.7 174.3h0M144.0 103.6h0M142.0 172.3h0M143.7 188.7h0M144.7 174.0h0M144.7 171.7h0M140.3 190.0h0M144.3 115.8h0M144.0 168.1h0M144.5 164.4h0M140.8 188.6h0M142.2 187.8h0M142.3 170.1h0M143.9 181.2h0M144.2 157.9h0M142.2 182.2h0M143.7 173.9h0M142.9 188.1h0M143.5 186.2h0M141.9 179.9h0M144.3 161.9h0M141.9 183.3h0M142.9 173.3h0M141.3 177.5h0M140.9 186.0h0M140.9 187.0h0M142.3 175.7h0M142.1 176.3h0M144.8 133.5h0M140.2 189.8h0M144.1 166.1h0M143.0 172.0h0M143.8 184.1h0M142.0 188.8h0M140.9 190.0h0M142.5 154.3h0M140.9 183.9h0M143.4 140.2h0M143.6 144.1h0M143.8 154.6h0M144.0 179.4h0M141.5 185.2h0M142.1 182.1h0M142.6 168.2h0M143.0 173.8h0M143.2 163.6h0M140.3 187.7h0M144.1 144.5h0M143.5 183.5h0M143.8 118.4h0M143.5 170.1h0M142.6 181.3h0M144.6 87.5h0M142.4 162.9h0M144.3 113.7h0M141.9 159.9h0M142.2 147.1h0M140.9 188.0h0M142.3 169.4h0M141.7 186.7h0M141.8 181.2h0M141.8 182.1h0M143.7 141.6h0M142.7 166.4h0M141.7 185.4h0M143.0 181.5h0M143.2 187.5h0M142.6 183.3h0M143.1 154.8h0M140.3 188.4h0M140.8 187.7h0M143.9 88.9h0M143.8 186.4h0M142.2 173.0h0M141.4 176.3h0M143.4 166.4h0M143.8 167.9h0M140.5 185.7h0M144.3 189.1h0M142.4 147.8h0M143.4 91.4h0M140.3 179.4h0M142.6 176.6h0M144.1 159.0h0M144.7 121.0h0M140.9 185.0h0M143.1 162.2h0M142.1 163.0h0M141.8 151.8h0M143.5 166.4h0M142.4 180.6h0M142.3 178.7h0M144.3 145.0h0M144.2 164.3h0M142.0 172.1h0M144.7 95.7h0M141.6 189.0h0M144.4 146.6h0M143.8 113.3h0M143.2 175.7h0M143.8 184.3h0M141.3 167.1h0M144.5 181.3h0M144.1 154.3h0M142.1 187.8h0M141.1 183.9h0M141.5 169.1h0M144.6 177.4h0M141.8 183.5h0M141.0 189.1h0M141.3 170.9h0M142.9 116.9h0M144.2 160.4h0M141.3 189.3h0M143.9 143.0h0M144.3 134.0h0M141.3 185.4h0M142.5 189.4h0M141.1 183.2h0M143.6 179.9h0M141.0 183.7h0M142.7 137.0h0M142.5 161.2h0M142.3 181.3h0M143.9 170.2h0M142.8 188.0h0M140.9 182.7h0M140.8 188.3h0M142.9 174.2h0M144.8 89.2h0M142.3 180.5h0M142.5 188.9h0M141.9 172.7h0M143.4 166.2h0M142.1 184.1h0M143.9 147.2h0M141.7 168.9h0M142.2 155.4h0M142.5 174.8h0M144.2 155.8h0M140.5 181.9h0M142.2 183.9h0M143.8 130.3h0M141.9 178.5h0M144.1 137.7h0M142.1 175.0h0M143.0 188.4h0M141.1 164.1h0M143.8 152.0h0M140.8 189.7h0M144.4 179.5h0M142.2 186.5h0M142.9 189.4h0M140.5 160.4h0M142.3 186.1h0M144.2 119.0h0M144.5 159.2h0M144.1 117.4h0M144.3 180.1h0M142.9 184.9h0M142.0 127.0h0M143.5 178.5h0M143.9 154.8h0M141.0 187.7h0M142.9 165.3h0M141.5 177.6h0M141.8 184.3h0M144.5 124.7h0M141.6 180.7h0M143.9 174.4h0M143.4 181.3h0M143.9 167.0h0M141.9 183.2h0M144.1 163.1h0M143.2 187.1h0M143.7 186.8h0M141.8 141.0h0M141.3 183.3h0M144.0 124.6h0M144.2 186.9h0M142.9 177.2h0M141.3 174.9h0M143.3 176.1h0M144.7 164.9h0M141.4 183.8h0M141.6 186.0h0M142.0 186.5h0M143.7 148.3h0M140.4 185.9h0M143.2 175.5h0M142.3 176.3h0M144.0 181.1h0M144.3 141.7h0M141.8 167.1h0M141.3 189.8h0M141.1 189.4h0M142.6 174.4h0M144.7 89.1h0M144.2 182.6h0M141.4 189.4h0M144.2 143.7h0M140.4 183.6h0M141.8 177.2h0M142.7 176.5h0M143.4 167.9h0M144.4 139.9h0M142.4 180.8h0M140.2 186.1h0M140.5 186.6h0M144.6 157.3h0M140.5 189.4h0M144.7 171.6h0M142.3 152.6h0M144.3 175.1h0M141.0 184.9h0M142.4 177.3h0M141.2 177.7h0M144.5 85.2h0M141.4 183.8h0M141.1 189.4h0M144.1 153.8h0M143.3 177.9h0M141.9 182.9h0M142.2 187.3h0M142.1 156.5h0M142.6 157.6h0M141.8 178.0h0M140.4 189.7h0M141.6 166.4h0M141.3 182.5h0M144.8 171.9h0M141.1 188.4h0M143.1 181.8h0M140.3 187.4h0M140.1 183.8h0M142.7 169.3h0M141.8 184.4h0M144.2 186.6h0M141.5 182.5h0M144.2 167.3h0M143.9 182.3h0M142.1 184.0h0M142.7 178.2h0M144.8 170.1h0M144.0 185.5h0M144.5 166.9h0M144.6 167.9h0M144.4 144.7h0M140.9 186.7h0M144.8 173.9h0M143.1 170.1h0M142.6 184.0h0M142.0 186.8h0M141.8 189.2h0M143.9 173.2h0M141.6 188.6h0M142.4 187.1h0M142.6 186.3h0M143.2 144.7h0M144.4 149.4h0M144.2 80.5h0M141.2 189.5h0M142.8 173.1h0M144.2 181.3h0M143.0 186.0h0M143.2 156.6h0M142.2 156.7h0M143.5 171.0h0M141.4 179.8h0M140.5 177.6h0M140.5 175.7h0M142.2 185.1h0M144.5 149.5h0M143.0 180.3h0M143.0 180.4h0M143.9 179.4h0M141.2 178.5h0M142.9 173.1h0M140.4 189.9h0M142.2 161.9h0M142.8 179.6h0M142.3 189.3h0M142.1 185.9h0M140.3 186.7h0M142.0 180.8h0M143.3 185.0h0M142.0 186.4h0M143.9 188.1h0M143.2 155.2h0M142.3 180.2h0M143.0 173.2h0M141.3 186.8h0M141.4 178.4h0M143.9 147.5h0M143.8 162.2h0M143.2 185.0h0M143.5 189.0h0M142.8 183.6h0M143.7 155.2h0M142.1 185.9h0M143.8 156.8h0M141.8 189.1h0M144.4 185.1h0M141.5 186.0h0M140.5 189.5h0M142.3 189.0h0M140.4 187.1h0M141.3 186.6h0M140.5 189.4h0M143.2 187.6h0M142.8 176.1h0M143.3 181.1h0M142.5 169.5h0M141.6 175.6h0M142.6 179.1h0M143.0 168.0h0M141.2 186.3h0M143.1 150.8h0M142.4 179.9h0M142.4 155.9h0M144.6 187.5h0M143.5 136.5h0M140.5 182.3h0M143.3 174.6h0M141.9 183.6h0M141.6 184.3h0M142.2 152.6h0M142.5 184.2h0M142.5 181.9h0M143.4 170.7h0M144.2 165.4h0M142.2 169.9h0M142.4 169.6h0M144.2 168.6h0M144.5 187.1h0M143.4 152.2h0M142.5 177.1h0M142.4 166.3h0M142.8 187.4h0M143.7 135.4h0M142.5 185.9h0M143.9 153.8h0M143.7 190.1h0M141.0 179.7h0M143.1 163.3h0M140.5 185.4h0M142.1 187.7h0M143.5 167.3h0M144.6 188.9h0M144.4 142.8h0M142.0 180.1h0M142.9 183.8h0M144.3 117.4h0M143.2 181.2h0M144.2 185.8h0M140.7 182.4h0M143.2 179.1h0M140.4 189.8h0M141.0 187.8h0M143.0 187.9h0M144.1 164.5h0M142.6 163.0h0M141.7 187.5h0M141.6 182.8h0M143.0 180.1h0M142.1 165.5h0M142.3 158.6h0M141.2 188.8h0M142.3 174.5h0M141.0 189.7h0M141.4 176.2h0M144.0 123.7h0M144.5 166.7h0M143.5 146.5h0M142.9 149.9h0M143.6 189.5h0M144.3 178.9h0M143.9 181.8h0M142.9 184.5h0M144.0 123.8h0M143.4 94.5h0M141.8 182.9h0M144.4 154.0h0M143.3 170.1h0M144.7 129.1h0M144.0 189.2h0M142.4 184.5h0M141.3 182.6h0M144.6 152.4h0M143.8 155.1h0M141.0 175.3h0M142.6 183.0h0M143.6 119.8h0M140.2 185.3h0M143.9 141.7h0M141.3 188.2h0M144.6 172.6h0M143.9 146.1h0M141.6 187.6h0M140.3 183.2h0M144.2 109.5h0M143.3 190.1h0M141.7 188.2h0M141.2 187.9h0M140.3 185.9h0M142.2 155.5h0M141.9 151.9h0M141.9 189.0h0M141.9 182.3h0M142.2 183.2h0M141.6 188.8h0M141.2 168.6h0M144.4 160.3h0M143.8 180.7h0M142.0 154.1h0M142.8 146.3h0M144.2 135.2h0M142.7 183.5h0M140.5 173.2h0M143.7 188.4h0M144.2 185.7h0M144.3 187.1h0M140.2 185.7h0M144.4 116.4h0M144.5 166.7h0M141.2 165.0h0M144.6 143.3h0M142.2 169.8h0M139.9 189.4h0M144.3 182.7h0M141.0 187.3h0M143.6 183.7h0M144.2 164.0h0M141.6 186.2h0M144.2 153.4h0M143.9 183.2h0M144.2 108.9h0M144.0 172.1h0M142.4 176.9h0M144.1 142.4h0M143.1 187.5h0M141.6 174.7h0M143.9 154.0h0M144.8 167.9h0M144.7 180.8h0M141.4 172.0h0M140.9 185.3h0M144.0 179.6h0M144.3 175.5h0M142.7 183.9h0M143.4 139.1h0M143.0 154.8h0M142.9 152.7h0M142.9 180.1h0M141.5 189.0h0M142.0 180.3h0M143.3 179.9h0M143.2 128.9h0M143.9 171.9h0M142.0 177.7h0M143.9 118.9h0M142.3 186.1h0M140.4 190.0h0M143.1 151.8h0M140.9 189.1h0M140.2 170.0h0M143.9 124.8h0M142.8 156.1h0M141.7 189.3h0M143.2 162.3h0M142.5 186.8h0M143.7 124.5h0M143.9 188.7h0M141.9 189.5h0M144.8 150.5h0M141.2 177.9h0M141.5 188.6h0M142.3 189.1h0M142.7 174.2h0M142.1 182.7h0M144.1 150.4h0M141.9 172.7h0M142.6 185.6h0M144.6 172.4h0M142.5 185.8h0M144.1 170.3h0M144.5 170.6h0M144.2 187.9h0M141.7 181.9h0M142.6 170.1h0M141.0 186.8h0M143.5 186.4h0M141.2 176.9h0M141.8 170.7h0M144.2 158.7h0M142.7 176.8h0M142.3 168.4h0M143.7 178.9h0M140.0 182.5h0M142.8 175.6h0M143.6 133.0h0M141.1 168.9h0M141.9 184.1h0M140.3 184.5h0M141.4 170.1h0M142.4 173.9h0M141.6 190.1h0M142.9 185.6h0M141.3 189.6h0M143.1 164.6h0M144.7 183.7h0M144.3 164.5h0M140.1 188.6h0M144.8 119.3h0M143.6 128.0h0M144.7 148.9h0M141.1 190.1h0M143.2 179.9h0M144.6 161.8h0M143.4 186.3h0M144.2 133.3h0M143.9 178.7h0M144.1 188.9h0M144.7 119.1h0M142.2 185.7h0M141.5 184.2h0M144.5 153.8h0M142.2 185.9h0M142.5 184.0h0M143.0 174.9h0M143.8 188.2h0M144.6 133.5h0M142.7 174.2h0M144.5 187.7h0M144.3 90.9h0M143.1 170.1h0M143.1 110.0h0M142.7 129.1h0M143.2 182.2h0M144.5 189.0h0M144.5 123.2h0M141.1 178.3h0M141.7 182.4h0M143.1 182.0h0M142.7 180.7h0M143.6 184.2h0M142.4 188.7h0M141.0 189.6h0M140.4 187.7h0M141.4 188.2h0M142.6 188.6h0M144.8 174.0h0M143.7 167.9h0M143.8 182.4h0M143.8 135.3h0M141.5 173.1h0M144.2 120.2h0M144.4 171.1h0M143.2 163.8h0M140.8 174.7h0M144.1 171.6h0M142.2 169.2h0M144.7 179.8h0M144.4 189.7h0M143.1 177.5h0M144.3 185.3h0M140.8 188.1h0M144.0 165.6h0M142.2 177.5h0M141.2 187.3h0M144.4 188.6h0M141.7 186.2h0M141.5 181.1h0M142.6 185.9h0M140.2 186.3h0M142.5 183.6h0M143.4 180.5h0M141.6 169.3h0M140.6 172.1h0M141.7 170.1h0M141.0 185.7h0M141.8 179.1h0M143.3 186.3h0M143.3 166.4h0M141.2 188.6h0M144.7 188.5h0M140.8 187.1h0M144.2 183.7h0M142.8 175.6h0M144.3 146.8h0M140.4 190.1h0M142.9 187.7h0M143.0 188.1h0M142.9 174.6h0M140.1 187.1h0M140.3 187.6h0M141.2 183.1h0M144.1 145.7h0M143.7 169.5h0M144.1 183.3h0M140.3 177.4h0M143.8 185.5h0M141.8 168.8h0M141.5 182.7h0M144.6 129.1h0M144.3 160.3h0M144.7 155.6h0M141.7 180.3h0M142.4 175.0h0M143.2 140.2h0M143.1 175.2h0M141.4 179.7h0M143.5 181.4h0M144.2 170.0h0M140.8 190.0h0M144.1 148.6h0M143.7 153.2h0M144.8 168.2h0M143.1 190.0h0M140.7 183.8h0M142.1 177.4h0M140.0 187.7h0M142.8 186.7h0M143.5 139.5h0M143.8 143.0h0M142.7 190.2h0M141.5 180.2h0M141.8 181.9h0M143.5 183.3h0M140.5 189.8h0M140.3 180.3h0M142.5 166.9h0M142.5 175.9h0M144.8 186.7h0M141.5 184.1h0M141.5 180.5h0M143.2 190.0h0M141.4 186.0h0M142.4 183.9h0M143.8 162.8h0M142.5 189.2h0M141.6 142.4h0M142.4 186.5h0M144.6 188.8h0M144.1 159.9h0M142.3 174.6h0M141.8 180.6h0M141.9 181.0h0M142.7 189.3h0M142.4 143.0h0M143.9 188.9h0M141.5 186.2h0M143.4 185.5h0M142.1 176.3h0M143.7 182.6h0M143.5 146.2h0M141.5 169.9h0M141.5 190.2h0M144.0 169.8h0M140.9 188.0h0M140.7 183.0h0M142.8 166.2h0M144.5 180.0h0M143.1 186.9h0M141.3 174.7h0M144.4 188.4h0M140.0 189.1h0M142.9 189.8h0M141.1 188.3h0M144.3 168.6h0M141.1 185.1h0M143.2 145.9h0M143.9 175.5h0M140.5 175.5h0M143.4 173.3h0M141.1 189.6h0M143.4 163.4h0M140.7 183.8h0M142.7 161.1h0M144.1 187.6h0M143.8 161.1h0M142.8 178.8h0M143.2 182.1h0M142.5 158.8h0M143.9 138.6h0M144.6 131.1h0M140.2 183.7h0M144.4 163.5h0M144.8 185.3h0M141.0 189.1h0M144.5 94.5h0M142.9 162.8h0M143.3 169.4h0M143.3 161.6h0M142.9 163.4h0M141.0 183.2h0M140.8 186.3h0M142.5 176.4h0M142.2 174.0h0M142.1 186.8h0M144.5 160.7h0M143.1 184.6h0M143.4 179.6h0M142.7 175.1h0M142.9 187.8h0M141.5 182.9h0M143.8 169.2h0M144.7 84.6h0M143.0 188.5h0M142.2 177.3h0M140.8 187.7h0M142.2 177.7h0M143.3 189.5h0M141.0 182.9h0M143.1 167.0h0M143.9 140.2h0M140.6 174.4h0M141.9 182.5h0M144.7 186.2h0M141.5 182.9h0M143.9 105.7h0M144.7 149.1h0M144.0 162.5h0M141.9 147.3h0M143.9 124.8h0M144.0 150.8h0M143.1 169.0h0M140.1 189.5h0M143.6 188.0h0M141.4 187.5h0M140.3 188.9h0M143.6 150.9h0M141.2 185.2h0M144.7 167.7h0M143.1 156.3h0M143.5 187.5h0M142.8 183.6h0M143.1 188.9h0M144.7 161.2h0M143.6 177.5h0M140.2 188.3h0M144.5 131.2h0M144.4 178.4h0M144.4 175.5h0M141.9 172.1h0M140.8 180.3h0M144.1 164.9h0M144.3 135.6h0M141.3 188.8h0M140.7 188.9h0M142.1 169.0h0M144.3 174.8h0M142.8 167.6h0M142.4 168.7h0M144.4 181.6h0M144.2 178.5h0M140.2 188.7h0M144.4 173.2h0M141.3 188.2h0M144.5 186.3h0M140.6 188.3h0M142.1 153.7h0M143.6 134.7h0M142.1 181.8h0M144.2 134.6h0M144.6 177.3h0M143.2 179.4h0M143.8 122.1h0M141.1 181.3h0M141.2 190.0h0M143.6 120.2h0M143.5 136.2h0M142.5 188.0h0M144.7 151.0h0M144.5 176.2h0M143.9 181.3h0M144.2 157.7h0M140.1 185.9h0M141.8 188.1h0M142.2 190.1h0M143.0 170.4h0M143.4 188.1h0M144.7 145.8h0M141.0 179.1h0M142.1 177.1h0M142.4 184.1h0M144.7 108.6h0M143.5 183.2h0M143.2 147.4h0M142.6 165.9h0M141.8 176.4h0M141.9 182.9h0M141.9 164.6h0M143.0 186.9h0M141.0 176.9h0M144.6 170.8h0M143.2 163.8h0M142.6 178.3h0M144.1 138.2h0M141.6 182.3h0M141.2 190.0h0M142.2 182.7h0M142.9 186.0h0M142.9 184.7h0M141.3 174.1h0M143.5 153.9h0M144.0 174.4h0M143.6 166.0h0M142.7 189.2h0M141.0 166.6h0M142.7 186.3h0M142.8 178.2h0M141.2 181.4h0M143.4 162.1h0M144.3 78.3h0M144.8 135.6h0M144.8 180.5h0M142.4 162.4h0M142.8 189.9h0M142.4 174.1h0M143.0 183.9h0M143.7 171.7h0M140.1 189.5h0M143.9 130.7h0M144.7 123.8h0M143.0 183.5h0M142.8 164.7h0M140.8 173.7h0M142.5 171.0h0M142.6 177.2h0M144.6 182.2h0M141.1 180.0h0M143.1 185.0h0M144.3 134.7h0M142.1 185.9h0M143.4 185.5h0M143.3 149.9h0M142.9 160.0h0M140.6 189.9h0M144.6 98.5h0M140.3 188.1h0M143.3 186.5h0M142.5 184.3h0M143.4 185.7h0M140.1 189.9h0M141.7 170.9h0M141.5 175.8h0M140.9 188.5h0M142.2 175.2h0M142.4 187.6h0M144.1 178.9h0M140.8 181.7h0M140.8 186.5h0M142.3 175.5h0M142.3 186.2h0M140.6 190.1h0M141.4 170.9h0M144.8 150.1h0M143.4 151.1h0M142.7 178.5h0M141.7 187.2h0M140.2 189.6h0M143.4 170.3h0M141.4 184.2h0M144.6 189.7h0M143.2 103.0h0M141.3 189.8h0M144.8 164.3h0M143.9 182.4h0M142.6 171.0h0M143.9 130.9h0M142.6 177.9h0M142.5 161.8h0M142.1 185.2h0M144.4 183.2h0M142.4 185.0h0M141.3 189.0h0M141.2 177.5h0M140.2 189.9h0M143.0 168.6h0M142.7 180.1h0M143.9 152.8h0M144.0 146.3h0M144.1 157.5h0M143.9 166.1h0M143.0 169.9h0M143.0 189.6h0M141.3 164.5h0M142.3 188.3h0M142.3 165.1h0M144.8 172.3h0M140.3 179.6h0M144.7 169.5h0M142.3 161.5h0M141.8 182.2h0M144.3 168.8h0M141.0 188.1h0M141.2 187.8h0M141.5 185.9h0M141.9 179.7h0M143.6 178.1h0M143.2 176.3h0M144.8 179.3h0M142.2 175.7h0M143.2 177.2h0M142.5 178.0h0M143.9 159.8h0M143.6 181.4h0M143.6 186.5h0M144.3 151.4h0M141.9 178.4h0M143.5 166.5h0M143.8 183.3h0M143.3 177.7h0M144.2 168.3h0M144.8 167.9h0M144.3 174.1h0M141.1 185.7h0M144.1 172.5h0M142.0 176.9h0M144.0 141.9h0M144.7 180.0h0M143.9 151.5h0M141.9 137.7h0M142.9 176.7h0M144.8 173.6h0M143.6 130.6h0M144.3 177.7h0M141.1 188.7h0M144.5 151.9h0M141.0 181.9h0M143.6 165.6h0M143.9 138.1h0M142.0 188.5h0M143.6 155.6h0M143.8 167.5h0M143.6 176.5h0M141.2 189.4h0M143.0 169.0h0M142.9 182.0h0M144.8 150.6h0M144.4 151.9h0M143.0 173.7h0M140.5 188.5h0M144.2 175.0h0M144.5 165.1h0M141.0 168.3h0M142.5 182.9h0M141.3 186.1h0M144.0 183.2h0M143.3 174.3h0M144.6 162.3h0M142.8 133.1h0M144.2 150.9h0M144.0 188.1h0M142.8 153.6h0M141.6 181.3h0M141.0 186.9h0M143.2 185.4h0M143.3 181.4h0M142.9 169.3h0M143.8 161.2h0M141.3 175.6h0M143.1 175.5h0M140.4 189.4h0M144.1 149.1h0M142.7 186.3h0M144.2 152.4h0M143.3 174.8h0M144.3 160.1h0M141.3 161.8h0M143.4 183.2h0M144.3 166.2h0M140.3 183.6h0M143.7 85.2h0M143.8 170.3h0M141.2 174.0h0M144.3 163.4h0M142.5 185.2h0M143.5 181.1h0M142.9 146.4h0M142.7 189.1h0M140.9 189.0h0M143.5 173.6h0M143.6 165.5h0M144.1 167.6h0M144.6 96.5h0M142.8 177.7h0M142.1 172.0h0M142.3 189.7h0M142.0 188.1h0M140.9 189.9h0M142.3 170.7h0M143.2 170.8h0M141.4 178.2h0M141.0 180.9h0M141.2 186.5h0M142.9 188.7h0M144.2 167.7h0M143.2 158.9h0M142.0 188.8h0M141.1 181.5h0M142.4 144.5h0M144.3 161.5h0M143.3 182.8h0M142.8 175.7h0M144.6 180.2h0M141.5 190.2h0M143.3 184.0h0M141.9 173.5h0M143.2 147.4h0M144.4 169.5h0M142.9 97.1h0M142.1 178.9h0M142.7 181.9h0M143.8 168.2h0M141.8 167.5h0M144.6 165.1h0M141.7 167.6h0M140.5 180.0h0M140.8 188.7h0M143.3 182.0h0M143.6 168.9h0M141.5 188.0h0M144.6 170.3h0M142.0 189.9h0M140.8 189.2h0M140.2 182.6h0M143.3 162.9h0M141.2 172.9h0M142.3 184.9h0M144.8 165.5h0M143.1 162.1h0M144.1 168.0h0M144.4 161.0h0M143.3 180.7h0M144.5 180.2h0M143.4 176.6h0M144.1 167.1h0M144.3 158.9h0M142.0 177.2h0M144.2 183.2h0M140.1 189.5h0M141.1 186.7h0M141.1 189.9h0M141.8 170.1h0M143.9 183.5h0M144.6 186.0h0"/>
<path stroke="#3a7cb8" stroke-width="1.8" d="M128.4 139.8h0M128.6 181.2h0M132.4 137.7h0M122.6 176.0h0M128.3 151.3h0M133.1 155.6h0M133.2 133.0h0M130.9 188.2h0M132.7 188.1h0M129.0 187.1h0M132.9 176.4h0M122.3 179.6h0M129.9 154.3h0M128.4 155.4h0M120.2 181.3h0M130.8 146.3h0M130.7 168.6h0M129.8 159.8h0M122.0 149.4h0M130.8 186.1h0M116.5 178.9h0M129.8 162.7h0M123.0 180.7h0M128.0 172.6h0M118.8 157.1h0M110.4 130.7h0M133.6 35.9h0M126.0 184.9h0M115.9 184.1h0M133.0 185.3h0M124.8 178.1h0M126.2 106.4h0M127.9 177.9h0M112.8 187.3h0M125.4 173.1h0M129.6 187.2h0M133.3 170.8h0M127.8 152.1h0M130.4 147.8h0M130.9 156.9h0M130.5 158.6h0M131.9 130.1h0M128.2 95.8h0M129.0 122.1h0M131.1 143.9h0M132.2 146.9h0M130.6 131.8h0M133.4 102.3h0M131.2 168.8h0M110.8 186.5h0M128.8 172.7h0M127.7 164.4h0M122.8 184.5h0M130.4 151.2h0M129.1 160.4h0M98.0 190.2h0M122.1 155.1h0M130.1 161.5h0M130.0 165.3h0M123.6 155.7h0M119.6 188.4h0M129.6 173.6h0M132.7 137.5h0M118.3 185.2h0M130.7 168.3h0M133.0 130.4h0M131.6 84.4h0M109.5 188.3h0M119.2 146.7h0M125.9 145.0h0M130.1 171.3h0M132.3 176.1h0M131.8 148.5h0M131.3 141.4h0M133.3 172.2h0M111.6 183.5h0M131.4 118.4h0M126.5 171.9h0M126.9 180.6h0M124.6 171.9h0M125.2 173.1h0M130.2 142.2h0M117.0 177.6h0M119.9 188.7h0M131.7 161.9h0M121.9 179.1h0M132.2 91.3h0M121.8 179.6h0M128.4 165.4h0M133.1 167.1h0M128.0 178.3h0M132.6 183.4h0M129.3 113.6h0M122.8 182.2h0M128.4 155.5h0M129.0 145.5h0M125.9 94.7h0M129.0 158.7h0M127.4 169.1h0M132.9 137.0h0M127.8 166.3h0M126.3 133.4h0M131.9 184.2h0M128.9 160.8h0M133.7 175.1h0M133.8 184.8h0M132.5 177.4h0M132.6 116.9h0M117.7 179.1h0M129.0 168.8h0M131.6 185.9h0M127.6 166.0h0M126.5 126.9h0M130.5 102.7h0M133.2 90.5h0M131.5 160.6h0M121.1 177.4h0M129.0 189.3h0M129.9 171.8h0M124.9 147.4h0M129.7 176.1h0M129.3 166.1h0M132.8 162.8h0M132.6 117.8h0M128.0 178.3h0M133.8 168.2h0M130.6 189.3h0M129.1 138.2h0M133.3 185.9h0M125.2 187.2h0M131.8 163.4h0M131.1 23.8h0M127.4 156.3h0M127.6 173.3h0M125.9 183.1h0M130.6 148.8h0M133.0 162.5h0M127.5 151.9h0M126.5 189.0h0M131.1 165.3h0M133.5 186.0h0M130.0 104.8h0M128.7 150.6h0M133.0 93.2h0M119.4 186.4h0M117.3 179.9h0M127.7 118.2h0M124.9 151.1h0M129.6 183.2h0M118.3 159.8h0M125.4 148.0h0M123.1 172.2h0M130.0 161.6h0M130.3 186.7h0M130.0 116.5h0M130.5 135.4h0M132.4 164.3h0M132.5 147.1h0M124.5 185.0h0M123.5 170.8h0M128.3 165.8h0M121.3 171.7h0M120.9 182.7h0M123.9 184.9h0M126.0 164.4h0M122.9 183.1h0M119.0 153.8h0M121.3 184.6h0M121.1 175.8h0M131.5 187.4h0M126.3 173.6h0M122.6 184.4h0M125.6 186.3h0M122.4 178.4h0M129.3 186.0h0M119.2 183.7h0M119.6 167.0h0M129.4 174.5h0M130.3 164.9h0M132.9 169.3h0M129.9 165.5h0M119.3 176.7h0M121.3 181.7h0M129.8 169.7h0M123.1 185.5h0M126.5 140.1h0M131.5 151.3h0M132.4 91.3h0M120.5 188.8h0M129.5 182.5h0M120.2 161.6h0M129.3 184.1h0M118.7 181.1h0M129.1 181.5h0M129.2 171.6h0M122.2 138.8h0M131.7 100.8h0M114.3 187.1h0M119.1 174.1h0M132.2 166.3h0M126.6 186.5h0M131.6 148.3h0M133.7 166.0h0M133.2 159.9h0M124.6 101.5h0M128.8 184.0h0M133.0 148.5h0M123.0 187.9h0M118.5 185.9h0M131.9 118.9h0M131.2 158.7h0M133.7 135.1h0M130.0 150.2h0M118.9 176.9h0M131.2 170.3h0M117.9 177.7h0M127.6 185.5h0M132.6 187.2h0M133.6 160.5h0M132.1 175.9h0M115.3 183.1h0M113.4 143.0h0M133.3 123.4h0M128.4 131.6h0M129.8 59.7h0M126.9 176.3h0M131.3 173.8h0M131.3 173.2h0M130.2 179.4h0M125.6 166.2h0M131.2 174.4h0M129.8 143.1h0M132.4 163.6h0M132.6 156.2h0M132.5 178.5h0M130.8 141.2h0M126.7 157.1h0M132.7 147.8h0M131.7 142.0h0M121.8 187.6h0M121.3 155.8h0M118.6 182.5h0M126.7 117.5h0M119.7 176.7h0M130.6 149.5h0M129.5 119.2h0M131.7 154.4h0M122.7 145.1h0M114.6 188.0h0M130.8 174.1h0M122.3 174.8h0M111.1 185.4h0M119.1 188.5h0M126.9 175.9h0M118.4 184.2h0M124.2 125.1h0M122.5 146.9h0M131.7 187.0h0M131.5 141.3h0M121.8 178.1h0M131.0 127.7h0M128.4 158.0h0M131.6 168.0h0M119.9 179.3h0M124.2 163.3h0M123.8 184.0h0M127.5 176.4h0M117.3 181.5h0M132.1 98.7h0M127.7 173.7h0M128.6 170.0h0M118.3 190.0h0M122.8 189.9h0M122.9 170.3h0M127.7 177.4h0M132.4 188.5h0M124.6 152.1h0M130.1 142.3h0M126.1 178.3h0M131.7 165.9h0M112.4 183.1h0M114.7 186.8h0M117.8 182.6h0M125.7 146.4h0M127.3 166.0h0M128.1 168.6h0M131.3 110.2h0M131.3 137.0h0M107.3 185.7h0M133.3 158.7h0M128.1 188.3h0M126.4 183.7h0M112.6 188.2h0M129.7 114.3h0M125.9 157.6h0M133.4 107.6h0M129.4 173.4h0M132.4 134.4h0M123.8 177.8h0M124.5 185.8h0M114.9 187.2h0M133.5 104.9h0M128.0 150.2h0M131.8 175.4h0M125.6 163.9h0M131.1 149.8h0M133.6 188.5h0M132.8 146.9h0M125.7 183.7h0M123.4 182.3h0M132.1 136.1h0M130.9 162.3h0M125.0 76.9h0M129.7 173.9h0M131.0 132.1h0M131.9 138.4h0M125.3 169.8h0M133.7 140.2h0M120.3 148.0h0M128.8 162.8h0M130.2 133.7h0M126.8 180.1h0M124.3 133.5h0M127.4 93.9h0M117.9 187.3h0M127.7 190.1h0M115.9 183.4h0M114.0 183.9h0M110.7 181.8h0M126.0 166.2h0M131.3 188.5h0M124.5 170.1h0M120.8 189.6h0M131.7 186.3h0M128.3 152.1h0M127.7 187.0h0M124.1 100.3h0M127.2 169.7h0M133.0 133.2h0M129.4 185.1h0M121.3 164.4h0M128.1 181.0h0M133.1 184.8h0M131.6 184.5h0M126.1 182.9h0M133.4 160.3h0M117.4 177.9h0M129.6 153.5h0M129.3 142.4h0M117.7 190.1h0M124.7 177.5h0M128.0 182.0h0M132.5 165.7h0M128.4 169.1h0M130.8 182.4h0M126.2 156.4h0M128.9 154.8h0M112.5 189.5h0M131.2 173.1h0M126.9 133.1h0M125.8 167.0h0M110.8 179.9h0M131.2 159.4h0M130.2 188.6h0M131.5 81.9h0M129.1 144.1h0M119.4 153.6h0M118.0 164.2h0M129.8 153.4h0M122.4 175.7h0M129.0 180.8h0M122.0 171.1h0M125.2 167.0h0M131.7 139.9h0M130.4 158.4h0M116.7 180.2h0M117.9 180.8h0M122.4 164.5h0M130.7 189.4h0M130.2 143.2h0M129.7 179.4h0M118.3 186.6h0M126.5 131.2h0M132.9 111.2h0M124.3 167.8h0M130.1 118.1h0M133.7 140.3h0M126.8 120.4h0M121.2 169.8h0M121.6 171.4h0M133.3 151.2h0M128.0 90.4h0M129.0 176.0h0M128.3 140.7h0M133.7 144.1h0M116.8 178.7h0M126.3 187.6h0M128.6 165.3h0M126.2 158.5h0M130.5 144.7h0M128.9 188.3h0M122.5 185.5h0M132.8 187.7h0M119.4 127.4h0M128.1 186.3h0M122.7 172.7h0M125.5 154.2h0M129.4 40.4h0M128.1 135.9h0M131.3 139.8h0M129.4 146.6h0M132.3 158.6h0M131.5 79.2h0M130.7 173.8h0M124.9 23.8h0M123.4 96.7h0M128.3 181.9h0M119.4 182.7h0M132.6 183.9h0M132.4 172.8h0M127.6 173.2h0M132.8 152.1h0M128.1 128.1h0M128.5 129.1h0M120.1 171.8h0M127.6 180.1h0M125.9 179.1h0M133.6 179.5h0M115.6 176.4h0M116.3 180.5h0M130.3 162.6h0M128.5 184.3h0M133.4 157.7h0M123.7 181.3h0M131.0 106.7h0M132.1 178.2h0M133.1 159.8h0M127.5 180.1h0M128.6 186.2h0M129.8 77.7h0M109.0 188.7h0M127.6 154.6h0M132.9 125.3h0M124.9 173.3h0M132.0 76.9h0M128.8 180.3h0M130.4 150.8h0M117.5 175.3h0M130.9 177.3h0M124.3 184.9h0M132.0 187.0h0M119.8 179.7h0M132.6 92.5h0M130.6 152.4h0M130.6 152.2h0M125.6 167.6h0M130.2 114.4h0M128.6 119.2h0M122.5 166.0h0M132.6 90.7h0M129.5 177.8h0M125.7 157.5h0M130.9 183.0h0M128.1 175.1h0M122.9 182.9h0M130.1 179.7h0M132.4 90.2h0M123.4 189.7h0M128.5 159.6h0M131.6 184.5h0M132.3 160.0h0M122.3 173.7h0M127.1 135.4h0M133.1 189.1h0M126.7 175.8h0M129.6 103.7h0M126.6 189.8h0M117.3 188.5h0M125.1 177.6h0M124.4 184.4h0M127.8 174.8h0M133.0 138.5h0M132.3 92.6h0M122.8 23.8h0M131.5 97.1h0M132.2 166.7h0M126.7 168.4h0M127.2 123.8h0M132.8 162.5h0M122.9 142.0h0M128.8 163.7h0M129.7 185.3h0M126.1 181.3h0M130.5 163.5h0M129.6 152.8h0M128.2 150.0h0M128.9 166.4h0M131.1 141.8h0M131.9 151.9h0M130.3 155.5h0M128.2 154.9h0M108.1 189.0h0M131.0 180.8h0M132.7 130.8h0M131.2 187.4h0M133.4 170.9h0M130.7 171.4h0M114.1 186.6h0M117.5 188.4h0M98.9 182.4h0M131.8 189.1h0M118.9 176.4h0M129.1 101.1h0M114.7 186.4h0M112.7 185.1h0M133.6 149.7h0M128.0 162.3h0M131.5 141.5h0M128.9 103.4h0M133.5 111.5h0M123.1 187.2h0M124.5 167.4h0M133.0 187.6h0M118.6 177.9h0M128.7 167.5h0M131.5 158.3h0M132.7 88.8h0M125.8 174.5h0M130.7 187.4h0M124.1 184.9h0M130.6 125.1h0M104.0 189.8h0M124.8 174.0h0M129.7 171.7h0M121.0 178.6h0M132.2 109.0h0M131.4 182.7h0M113.8 190.0h0M132.0 137.4h0M130.6 128.3h0M116.4 184.9h0M132.9 133.9h0M121.3 118.6h0M122.6 177.8h0M120.2 172.7h0M127.0 189.3h0M132.3 163.8h0M132.8 190.1h0M128.7 187.5h0M132.3 121.9h0M129.1 183.1h0M128.6 188.2h0M125.5 129.7h0M121.2 179.6h0M129.9 112.7h0M131.4 179.6h0M129.6 163.1h0M120.9 172.5h0M128.1 185.6h0M119.2 181.4h0M132.0 142.5h0M102.1 189.9h0M125.0 131.2h0M125.7 186.4h0M128.1 174.6h0M128.6 178.5h0M130.9 169.8h0M125.0 186.1h0M126.1 160.6h0M124.5 160.2h0M117.7 186.0h0M129.5 179.8h0M113.8 180.1h0M126.1 126.7h0M120.0 184.8h0M123.8 181.9h0M126.0 186.6h0M122.1 168.2h0M130.5 178.3h0M128.9 178.0h0M109.1 184.0h0M132.1 141.0h0M131.2 180.8h0M127.1 187.2h0M130.9 177.2h0M130.9 151.5h0M131.8 81.6h0M133.5 174.7h0M124.6 179.8h0M121.9 183.1h0M127.7 187.8h0M133.0 183.8h0M131.4 93.9h0M125.9 178.2h0M130.6 150.9h0M127.2 26.5h0M130.7 179.5h0M128.4 180.9h0M126.7 171.9h0M133.5 174.9h0M127.5 170.5h0M132.5 151.7h0M131.9 154.4h0M132.6 183.1h0M128.7 175.1h0M131.8 146.3h0M127.9 95.4h0M132.6 171.0h0M131.9 44.5h0M130.1 165.9h0M133.7 185.0h0M110.0 187.0h0M133.2 141.5h0M125.1 173.1h0M127.5 140.6h0M125.9 107.0h0M119.4 146.0h0M127.1 173.6h0M125.4 175.7h0M116.2 185.9h0M116.6 186.7h0M131.6 103.1h0M123.3 186.7h0M133.5 186.4h0M133.3 148.8h0M118.3 155.3h0M128.6 181.9h0M113.2 188.8h0M114.6 183.3h0M127.6 177.8h0M133.4 131.9h0M117.3 143.0h0M132.2 175.0h0M133.2 188.3h0M113.6 176.3h0M130.2 138.3h0M107.0 179.4h0M124.0 185.2h0M119.5 157.9h0M121.4 184.8h0M125.7 184.3h0M121.0 173.8h0M130.9 108.0h0M131.5 170.9h0M115.8 181.9h0M116.7 187.2h0M124.9 178.4h0M124.3 169.6h0M129.6 184.4h0M121.8 178.6h0M115.4 130.9h0M132.4 170.1h0M129.5 161.7h0M128.6 157.7h0M119.1 183.8h0M128.7 156.9h0M123.6 160.9h0M133.5 171.9h0M131.3 78.7h0M128.9 171.9h0M132.9 108.8h0M128.0 189.8h0M120.6 117.9h0M122.5 177.4h0M126.9 91.5h0M120.6 178.9h0M122.4 186.2h0M133.0 104.1h0M123.7 176.3h0M127.6 188.5h0M116.7 177.8h0M131.6 175.7h0M119.8 183.4h0M117.9 179.6h0M133.0 177.8h0M127.1 118.7h0M125.8 185.5h0M116.4 183.5h0M126.2 137.4h0M120.1 171.4h0M123.3 156.6h0M122.6 122.9h0M121.6 189.0h0M122.5 157.7h0M127.9 169.4h0M125.1 180.7h0M127.8 189.7h0M123.3 185.5h0M131.9 170.5h0M101.3 189.3h0M129.5 153.1h0M131.6 109.6h0M124.4 164.4h0M131.6 48.3h0M132.9 185.4h0M124.4 158.4h0M122.9 153.6h0M132.6 146.1h0M128.3 189.0h0M131.3 172.1h0M130.8 123.1h0M123.8 188.1h0M128.5 120.4h0M131.5 154.2h0M131.6 157.3h0M119.1 171.9h0M120.0 183.4h0M129.5 185.6h0M111.6 174.8h0M133.1 117.1h0M127.8 158.8h0M132.1 170.9h0M133.0 139.0h0M125.9 188.8h0M126.7 185.3h0M122.5 189.7h0M131.7 163.4h0M133.2 184.2h0M124.5 123.6h0M130.9 186.9h0M128.5 134.6h0M130.9 135.1h0M131.2 72.2h0M126.4 90.6h0M116.0 186.5h0M132.9 91.3h0M126.6 173.2h0M118.0 169.3h0M132.2 166.3h0M124.0 187.3h0M131.6 174.9h0M129.9 118.8h0M128.3 183.1h0M129.4 77.1h0M115.3 189.0h0M125.2 165.5h0M131.4 155.8h0M126.7 117.8h0M128.8 149.5h0M120.0 186.5h0M133.2 55.7h0M122.1 167.4h0M122.5 188.4h0M131.0 158.0h0M125.2 146.9h0M127.3 184.0h0M130.1 187.8h0M112.5 178.6h0M127.3 166.5h0M131.0 147.3h0M127.3 181.0h0M125.3 166.4h0M130.0 147.6h0M133.7 111.0h0M117.1 176.6h0M127.5 173.5h0M124.2 167.9h0M132.9 120.7h0M133.7 180.4h0M125.4 167.7h0M128.1 184.8h0M128.3 58.6h0M128.4 187.7h0M129.7 175.5h0M113.9 183.3h0M133.2 155.9h0M119.7 169.3h0M110.7 189.3h0M124.8 184.9h0M128.0 186.2h0M120.0 157.6h0M132.8 164.4h0M126.9 181.8h0M114.4 181.7h0M130.6 183.1h0M130.8 150.1h0M129.5 146.9h0M128.3 186.7h0M103.2 189.5h0M130.9 154.4h0M131.4 174.0h0M130.1 180.9h0M122.3 154.8h0M126.0 176.5h0M133.7 146.0h0M123.8 164.1h0M120.9 161.1h0M127.6 152.2h0M130.4 129.3h0M126.8 185.9h0M128.5 188.6h0M123.5 173.0h0M133.6 187.0h0M125.4 164.0h0M131.7 133.7h0M119.2 187.4h0M117.2 187.9h0M112.0 169.2h0M125.6 161.4h0M127.7 171.1h0M132.8 161.7h0M132.5 190.1h0M130.5 160.1h0M120.5 178.0h0M130.1 160.9h0M126.6 180.6h0M130.7 156.4h0M130.8 187.8h0M110.5 175.6h0M128.1 167.0h0M127.6 163.3h0M118.2 167.9h0M129.6 180.9h0M122.0 188.2h0M130.9 184.4h0M130.8 183.5h0M132.8 127.7h0M128.5 180.6h0M124.5 167.9h0M103.9 189.1h0M126.8 157.0h0M133.7 139.0h0M122.7 179.2h0M113.5 187.4h0M129.2 173.5h0M132.0 97.6h0M117.8 183.1h0M129.9 141.1h0M131.2 162.8h0M128.6 175.2h0M129.3 151.3h0M119.5 181.4h0M113.9 177.6h0M120.7 160.8h0M133.6 178.5h0M127.7 146.7h0M129.7 140.6h0M125.3 188.0h0M121.6 184.1h0M128.3 188.9h0M128.5 131.2h0M124.1 170.9h0M129.6 189.9h0M131.1 102.7h0M125.8 175.4h0M129.2 161.8h0M124.6 164.1h0M124.5 157.1h0M126.1 181.8h0M130.6 179.8h0M113.6 187.6h0M132.7 100.8h0M130.0 61.0h0M128.1 186.3h0M115.9 181.0h0M132.1 188.4h0M116.3 189.6h0M128.7 50.6h0M114.1 187.4h0M129.0 162.5h0M130.7 177.2h0M133.7 187.5h0M128.8 34.6h0M121.2 130.7h0M125.3 184.1h0M125.6 174.5h0M125.4 182.1h0M119.4 180.1h0M132.5 91.9h0M133.5 143.1h0M133.6 157.5h0M129.3 182.7h0M129.3 152.0h0M126.3 146.1h0M126.3 172.6h0M130.4 174.7h0M133.2 169.7h0M121.2 188.6h0M126.6 137.0h0M127.4 174.1h0M105.1 187.2h0M107.0 180.3h0M105.0 182.2h0M108.1 187.7h0M107.7 187.5h0M104.6 182.9h0M109.3 182.6h0M104.5 181.6h0M99.7 180.2h0M101.1 189.0h0M130.8 31.4h0M132.7 34.2h0M131.2 43.0h0M118.3 49.0h0M126.3 50.9h0M121.2 53.2h0M128.5 56.0h0M130.1 57.3h0M119.9 60.9h0M131.8 63.1h0M128.8 70.8h0M124.4 75.9h0M129.2 80.4h0M132.1 86.2h0M130.1 92.6h0M112.5 100.5h0M117.5 103.0h0M104.5 135.0h0M101.5 185.0h0M93.8 182.6h0M106.3 186.6h0M111.1 23.8h0M119.4 23.8h0M120.5 23.8h0M121.6 23.8h0M122.7 23.8h0M127.7 23.8h0M128.8 23.8h0M129.9 23.8h0M131.0 23.8h0M132.1 23.8h0"/>
<path stroke="#f5473e" stroke-width="1.8" d="M148.1 173.5h0M154.0 168.4h0M147.3 182.2h0M148.1 122.8h0M152.2 142.0h0M161.7 186.4h0M153.0 181.9h0M145.2 168.5h0M154.2 172.2h0M147.8 158.8h0M146.1 132.6h0M148.6 158.0h0M158.1 175.6h0M148.9 173.1h0M158.1 164.1h0M153.5 183.5h0M149.0 146.6h0M160.5 178.2h0M147.0 85.4h0M156.4 108.9h0M145.5 145.8h0M153.1 175.2h0M145.4 106.2h0M150.2 138.9h0M147.1 167.7h0M147.2 169.0h0M145.0 171.4h0M145.8 178.6h0M148.1 187.5h0M152.8 188.3h0M152.8 148.2h0M146.4 133.0h0M175.6 182.7h0M147.4 153.8h0M162.2 180.6h0M151.0 182.0h0M147.8 177.3h0M147.8 158.4h0M152.1 174.1h0M156.8 118.2h0M146.3 164.6h0M153.0 169.8h0M150.7 181.9h0M156.2 164.1h0M156.8 180.6h0M148.5 184.4h0M149.9 138.9h0M145.0 167.3h0M150.3 169.2h0M157.7 178.4h0M145.6 160.6h0M157.4 183.7h0M157.1 180.9h0M157.3 153.0h0M149.1 176.7h0M153.0 149.5h0M154.3 170.3h0M155.5 188.5h0M163.9 160.8h0M145.3 188.5h0M151.2 175.0h0M148.0 159.9h0M146.9 160.7h0M145.5 173.0h0M160.7 185.2h0M163.9 184.1h0M151.3 160.7h0M150.3 169.6h0M146.7 89.7h0M151.6 189.7h0M155.2 172.3h0M146.8 127.2h0M147.3 173.4h0M153.0 162.1h0M156.8 150.9h0M153.0 159.2h0M151.8 177.2h0M147.7 173.7h0M148.8 179.7h0M153.4 161.2h0M153.4 161.2h0M154.6 178.5h0M163.5 183.6h0M148.4 125.2h0M145.7 163.8h0M152.2 168.6h0M169.7 177.1h0M155.9 126.2h0M170.3 188.3h0M187.5 189.7h0M151.9 140.0h0M152.5 188.7h0M157.8 177.4h0M153.7 138.9h0M153.6 181.9h0M151.3 165.6h0M145.3 141.9h0M160.5 175.1h0M149.5 148.8h0M158.8 185.1h0M172.1 183.0h0M155.2 163.1h0M163.0 183.3h0M145.5 54.4h0M158.4 167.2h0M153.1 169.5h0M151.8 182.4h0M159.5 182.4h0M146.7 154.0h0M149.8 157.0h0M145.4 132.7h0M159.5 188.3h0M147.5 170.3h0M146.8 182.6h0M169.0 189.7h0M146.9 142.3h0M148.6 182.2h0M159.5 172.4h0M147.7 161.8h0M145.9 163.9h0M155.5 159.1h0M151.1 132.2h0M154.6 141.8h0M149.5 157.7h0M150.4 132.1h0M149.6 171.1h0M152.1 174.1h0M151.0 162.9h0M151.4 168.8h0M150.7 41.5h0M145.7 165.6h0M149.2 142.9h0M159.5 180.8h0M145.5 148.5h0M151.1 166.7h0M150.4 129.5h0M158.8 180.6h0M152.3 173.0h0M150.1 155.2h0M145.8 164.5h0M154.6 189.3h0M159.7 172.6h0M147.8 189.4h0M155.1 181.9h0M153.5 156.6h0M155.3 181.5h0M148.5 101.9h0M150.6 140.1h0M165.4 180.8h0M164.8 188.1h0M147.1 177.4h0M145.3 152.3h0M158.4 173.8h0M145.9 147.3h0M156.6 161.3h0M155.2 169.6h0M147.5 178.7h0M165.6 187.3h0M148.7 184.2h0M154.8 188.3h0M146.4 157.6h0M156.4 185.1h0M156.4 177.0h0M164.8 184.8h0M155.2 170.8h0M148.8 140.7h0M151.2 168.3h0M154.6 184.4h0M148.6 169.3h0M153.8 144.2h0M148.7 113.2h0M147.7 178.3h0M149.5 180.0h0M154.7 177.3h0M146.6 178.7h0M148.4 177.4h0M171.9 186.5h0M152.5 186.9h0M151.5 137.7h0M157.1 178.2h0M147.1 138.0h0M145.5 116.9h0M151.0 188.4h0M153.7 184.7h0M147.7 175.8h0M156.0 132.2h0M149.3 176.6h0M147.5 186.4h0M152.0 183.9h0M152.2 159.7h0M163.7 177.8h0M147.1 179.4h0M146.0 168.3h0M144.9 167.9h0M149.9 184.4h0M149.2 166.6h0M159.0 188.8h0M147.6 176.3h0M145.9 139.2h0M158.7 147.3h0M151.4 169.3h0M146.2 120.0h0M146.4 163.0h0M172.7 189.7h0M147.9 156.3h0M152.4 172.9h0M156.1 185.1h0M145.7 149.8h0M145.5 154.8h0M150.9 131.5h0M165.6 174.8h0M148.6 177.0h0M148.9 187.1h0M145.9 180.4h0M146.7 180.5h0M145.3 165.3h0M157.3 185.1h0M164.9 183.3h0M157.2 125.7h0M147.3 177.3h0M147.6 183.2h0M146.6 189.3h0M148.5 100.0h0M154.7 161.6h0M149.7 170.6h0M152.5 157.3h0M148.8 149.5h0M159.4 190.0h0M152.3 175.5h0M158.6 176.3h0M150.1 179.2h0M148.0 151.5h0M156.2 146.3h0M145.0 184.9h0M156.2 181.1h0M150.9 178.0h0M147.5 138.8h0M146.8 133.3h0M148.6 140.1h0M151.2 156.4h0M151.1 176.6h0M144.9 132.0h0M155.4 166.5h0M152.1 134.1h0M150.2 146.1h0M148.6 161.7h0M153.0 96.4h0M149.3 145.9h0M153.9 179.7h0M150.4 176.6h0M145.5 175.2h0M149.8 187.0h0M145.9 108.3h0M149.8 179.8h0M146.5 176.0h0M147.6 104.2h0M152.5 182.6h0M150.6 163.5h0M151.3 180.3h0M153.4 174.3h0M158.2 184.1h0M151.2 62.2h0M157.6 171.7h0M158.3 187.9h0M147.7 137.1h0M152.8 179.2h0M151.8 113.4h0M148.9 162.9h0M146.6 174.4h0M148.7 165.8h0M146.9 175.9h0M145.4 158.9h0M148.9 174.1h0M155.7 188.7h0M152.8 154.9h0M147.7 179.6h0M155.2 149.6h0M149.6 178.6h0M162.4 181.8h0M147.1 175.1h0M149.8 101.8h0M145.8 165.8h0M160.0 128.3h0M146.3 120.8h0M152.1 109.9h0M145.1 178.5h0M149.6 173.5h0M147.3 112.8h0M149.2 148.0h0M160.1 176.7h0M155.5 184.5h0M144.9 125.9h0M148.9 174.9h0M149.8 170.7h0M149.3 174.0h0M145.8 148.4h0M158.4 158.3h0M148.0 148.8h0M148.4 138.6h0M151.9 159.6h0M159.7 188.9h0M150.2 134.1h0M147.5 155.8h0M150.1 163.7h0M151.4 175.8h0M166.6 181.5h0M154.1 146.2h0M147.6 180.9h0M156.9 186.1h0M150.5 177.7h0M145.6 166.1h0M155.4 170.3h0M147.5 183.2h0M148.6 150.1h0M149.1 180.8h0M151.9 139.3h0M147.0 126.7h0M145.8 162.7h0M151.8 166.4h0M155.7 170.4h0M154.6 185.7h0M147.6 175.5h0M146.1 175.1h0M161.2 173.7h0M149.8 125.2h0M171.8 188.7h0M152.4 149.7h0M148.1 171.7h0M149.7 151.0h0M162.6 176.0h0M148.8 182.9h0M147.9 175.6h0M161.5 178.0h0M154.7 151.1h0M151.0 187.4h0M159.6 173.0h0M149.9 187.0h0M157.9 168.2h0M145.8 181.9h0M152.0 176.6h0M146.3 159.0h0M145.4 180.4h0M157.4 182.6h0M152.2 176.7h0M153.3 189.6h0M147.6 187.3h0M158.7 173.7h0M169.9 189.6h0M156.4 185.8h0M166.6 184.9h0M147.5 108.3h0M146.8 187.4h0M148.3 143.6h0M152.7 170.1h0M146.3 170.0h0M155.4 178.6h0M145.4 141.1h0M147.7 158.8h0M152.8 171.9h0M148.9 184.7h0M149.4 127.1h0M155.7 182.4h0M154.1 160.1h0M146.4 126.1h0M148.1 173.9h0M159.6 186.9h0M149.0 154.0h0M159.6 184.8h0M149.5 169.5h0M167.3 184.1h0M147.4 186.2h0M147.1 179.0h0M149.1 176.4h0M151.9 123.1h0M147.6 150.9h0M145.7 171.7h0M151.2 168.5h0M147.0 139.3h0M148.0 77.8h0M158.7 178.9h0M148.3 156.9h0M160.6 187.9h0M147.5 177.2h0M163.6 173.2h0M149.1 184.8h0M144.9 174.0h0M146.5 189.6h0M146.4 171.4h0M150.9 177.1h0M153.8 177.6h0M145.2 168.7h0M169.0 188.4h0M147.6 108.5h0M153.6 181.9h0M150.3 184.0h0M148.4 183.0h0M146.7 184.2h0M148.6 182.0h0M148.3 142.2h0M155.2 156.9h0M168.8 171.5h0M149.6 139.1h0M183.9 186.1h0M146.5 104.9h0M151.1 186.3h0M151.4 165.7h0M146.9 185.3h0M148.2 180.6h0M150.4 152.0h0M153.8 171.2h0M169.3 187.3h0M147.5 156.0h0M146.4 183.4h0M148.6 161.8h0M156.9 154.7h0M158.0 185.8h0M145.1 163.9h0M152.2 157.4h0M153.3 188.7h0M146.7 145.0h0M147.2 168.2h0M145.9 162.6h0M153.6 138.6h0M162.3 168.1h0M153.8 173.9h0M149.3 146.7h0M145.4 179.6h0M147.8 166.9h0M146.0 154.0h0M149.6 189.6h0M146.6 156.3h0M164.3 185.0h0M147.3 185.5h0M169.2 182.2h0M153.5 146.7h0M147.7 189.8h0M151.0 161.9h0M147.1 139.7h0M158.1 184.3h0M147.2 180.9h0M148.2 148.3h0M147.9 183.3h0M158.4 166.3h0M165.6 189.7h0M155.6 178.3h0M151.1 142.2h0M148.5 171.3h0M152.5 185.8h0M147.7 181.6h0M150.0 149.2h0M145.1 168.3h0M148.0 188.9h0M151.9 162.7h0M158.2 177.7h0M152.1 173.5h0M200.3 190.1h0M157.1 164.4h0M157.5 177.0h0M148.1 173.8h0M145.2 152.2h0M145.7 161.2h0M151.2 163.6h0M147.4 180.5h0M148.0 91.0h0M156.1 142.1h0M166.9 186.6h0M164.8 181.3h0M147.5 167.9h0M151.5 163.2h0M151.0 180.5h0M149.0 184.4h0M160.8 23.8h0M147.6 178.6h0M152.8 172.0h0M151.4 158.5h0M148.1 109.8h0M153.4 155.7h0M155.0 179.1h0M154.9 160.7h0M161.6 186.9h0M149.9 111.2h0M168.1 186.8h0M146.4 164.6h0M146.0 119.0h0M146.6 101.5h0M160.0 174.5h0M146.3 174.2h0M147.0 114.4h0M161.3 147.5h0M145.5 176.0h0M150.4 182.1h0M145.9 135.0h0M145.9 184.7h0M151.1 186.7h0M147.0 176.3h0M147.8 136.9h0M151.0 145.7h0M145.4 141.3h0M156.7 174.0h0M151.0 154.7h0M151.8 181.7h0M152.0 165.3h0M152.7 157.4h0M156.3 177.4h0M147.7 187.1h0M145.5 127.2h0M153.9 177.5h0M145.9 158.7h0M148.9 160.0h0M153.3 158.6h0M151.5 186.8h0M153.7 130.5h0M166.3 174.0h0M147.4 146.0h0M153.4 185.4h0M153.8 175.2h0M151.9 157.0h0M152.1 179.4h0M154.5 155.7h0M154.2 180.9h0M145.1 101.6h0M149.2 186.1h0M145.3 173.3h0M147.6 119.1h0M162.4 177.1h0M161.0 175.4h0M151.5 163.6h0M154.6 182.1h0M151.5 129.2h0M147.6 175.6h0M145.2 171.7h0M147.9 141.3h0M146.0 177.9h0M154.4 154.1h0M149.6 171.4h0M146.8 154.2h0M156.6 172.5h0M146.9 153.4h0M146.7 178.6h0M173.0 188.9h0M159.0 178.0h0M159.7 178.2h0M146.0 161.8h0M151.1 175.9h0M158.1 161.4h0M151.6 168.7h0M151.1 174.0h0M154.6 180.1h0M151.6 141.5h0M145.0 186.0h0M152.6 186.0h0M156.7 156.1h0M165.7 184.5h0M148.8 165.3h0M145.3 154.5h0M148.5 123.8h0M147.2 169.0h0M151.4 171.9h0M167.2 179.7h0M155.9 179.8h0M160.0 173.5h0M148.5 170.8h0M148.0 159.7h0M147.3 180.7h0M146.9 157.4h0M146.4 147.5h0M157.3 181.9h0M152.7 171.0h0M150.8 163.9h0M181.6 187.1h0M155.0 124.5h0M150.4 179.7h0M163.4 146.8h0M151.0 187.0h0M147.5 178.8h0M145.9 99.4h0M160.5 189.2h0M148.7 188.5h0M148.2 151.2h0M168.0 184.3h0M154.4 159.4h0M147.3 172.2h0M149.5 148.1h0M147.0 172.5h0M145.1 145.9h0M153.2 187.8h0M153.5 171.9h0M148.7 174.3h0M152.4 188.0h0M147.3 186.5h0M147.4 147.9h0M155.5 173.0h0M145.1 188.3h0M150.1 62.8h0M151.7 164.7h0M156.3 181.6h0M149.4 158.1h0M165.3 187.6h0M164.4 187.8h0M166.6 189.6h0M145.8 189.8h0M157.0 179.7h0M166.1 180.5h0M148.0 182.0h0M150.8 174.7h0M150.1 176.3h0M152.9 186.6h0M153.2 177.0h0M148.6 182.4h0M154.8 134.9h0M150.3 136.4h0M148.1 135.3h0M150.2 150.2h0M162.3 186.1h0M159.7 23.8h0M153.2 188.1h0M164.1 181.3h0M150.5 148.6h0M178.4 178.5h0M145.2 168.1h0M146.5 183.0h0M151.2 151.0h0M159.4 169.1h0M149.4 136.1h0M154.7 167.6h0M150.6 162.7h0M159.4 180.5h0M146.7 175.0h0M148.4 162.3h0M150.3 123.6h0M149.1 177.8h0M153.0 144.8h0M145.3 177.4h0M146.1 147.3h0M153.0 147.8h0M151.4 175.2h0M145.6 160.2h0M149.8 139.1h0M152.9 188.9h0M153.2 161.6h0M150.1 167.4h0M145.8 171.4h0M148.8 133.8h0M146.3 169.6h0M154.2 173.0h0M147.6 184.5h0M146.4 169.8h0M151.1 176.6h0M150.5 140.6h0M152.3 160.9h0M149.0 183.3h0M149.6 157.4h0M149.7 139.5h0M145.4 156.4h0M170.5 180.5h0M150.5 77.2h0M151.7 182.2h0M146.7 116.4h0M145.8 147.6h0M158.7 180.1h0M150.4 152.8h0M149.5 159.6h0M147.3 177.8h0M174.9 182.5h0M150.6 188.3h0M147.2 180.7h0M151.0 175.0h0M170.2 186.5h0M164.2 186.9h0M150.4 118.5h0M149.3 177.5h0M148.7 167.9h0M154.2 175.4h0M155.4 185.1h0M156.6 181.3h0M149.8 176.5h0M153.3 143.4h0M151.0 131.8h0M144.9 184.7h0M156.2 189.0h0M145.6 182.6h0M150.1 178.3h0M145.8 162.2h0M150.0 36.4h0M148.3 136.0h0M146.7 190.0h0M168.7 186.3h0M151.7 155.7h0M149.7 163.0h0M151.6 189.3h0M151.3 180.9h0M160.6 175.0h0M151.8 168.8h0M152.9 158.9h0M150.4 59.0h0M150.8 156.9h0M148.7 183.7h0M146.1 138.2h0M146.4 122.2h0M146.0 187.2h0M156.2 172.4h0M152.5 186.5h0M170.8 189.1h0M148.6 166.2h0M145.9 189.0h0M147.5 119.4h0M147.9 98.8h0M160.8 176.8h0M152.2 188.3h0M148.7 171.4h0M155.5 186.0h0M145.6 143.8h0M147.6 184.5h0M154.7 178.1h0M151.8 91.3h0M157.2 182.5h0M148.1 145.2h0M147.5 149.8h0M167.5 187.3h0M147.0 149.3h0M146.4 189.5h0M145.8 121.2h0M157.9 181.5h0M146.4 167.8h0M148.0 155.9h0M155.3 181.8h0M158.8 170.1h0M145.8 153.8h0M151.1 157.1h0M154.0 134.6h0M146.9 172.5h0M163.7 188.8h0M150.8 170.7h0M146.2 162.8h0M159.4 175.0h0M149.8 166.6h0M166.7 178.0h0M149.9 178.5h0M150.7 150.7h0M144.9 171.2h0M149.0 138.2h0M155.2 183.4h0M146.8 188.9h0M154.6 164.3h0M147.3 94.8h0M147.2 168.2h0M156.1 167.1h0M173.1 188.4h0M147.2 110.5h0M151.7 165.0h0M148.1 163.9h0M148.0 172.6h0M149.6 161.4h0M155.8 176.4h0M168.8 187.3h0M170.0 181.6h0M165.9 189.4h0M158.0 175.3h0M167.9 189.6h0M152.8 188.5h0M153.2 187.6h0M152.9 189.7h0M147.0 147.0h0M178.1 189.9h0M148.3 119.8h0M173.5 188.4h0M160.0 187.8h0M159.5 181.0h0M145.9 185.4h0M147.0 164.7h0M150.2 164.4h0M152.5 171.6h0M146.7 73.5h0M154.5 134.9h0M145.7 178.3h0M159.7 189.4h0M147.8 181.3h0M161.6 165.4h0M163.3 182.0h0M145.2 61.7h0M166.6 183.6h0M152.0 107.1h0M162.1 185.9h0M152.3 171.0h0M151.4 165.3h0M150.6 143.4h0M145.8 158.6h0M165.7 168.7h0M158.3 177.7h0M152.6 179.1h0M150.7 141.3h0M145.7 155.1h0M164.2 174.8h0M153.0 149.9h0M152.3 188.6h0M146.8 174.9h0M191.8 187.8h0M158.6 186.2h0M145.1 180.8h0M150.2 128.0h0M154.9 165.1h0M146.6 145.7h0M161.6 165.7h0M147.3 159.0h0M155.9 188.5h0M165.8 188.8h0M146.6 187.3h0M145.0 152.7h0M146.1 146.2h0M147.0 157.4h0M168.5 172.0h0M145.5 132.3h0M147.2 183.7h0M146.4 179.3h0M152.2 177.9h0M156.0 172.5h0M148.6 131.1h0M148.9 174.7h0M153.7 166.1h0M147.1 183.7h0M144.8 186.0h0M146.9 174.1h0M159.5 183.6h0M150.9 163.7h0M148.5 163.1h0M149.5 117.3h0M152.8 178.5h0M147.5 140.3h0M146.6 135.5h0M162.4 185.4h0M150.7 189.4h0M150.3 186.4h0M150.6 97.5h0M146.1 182.0h0M156.2 176.3h0M145.2 142.7h0M157.6 185.9h0M161.4 181.0h0M163.2 182.9h0M150.2 173.2h0M158.3 164.2h0M151.0 187.3h0M146.3 168.3h0M150.9 186.6h0M153.4 181.9h0M158.7 177.5h0M162.8 187.7h0M152.7 179.1h0M151.0 182.0h0M145.3 173.1h0M156.3 189.0h0M157.8 186.5h0M151.3 178.5h0M146.2 125.0h0M150.0 166.7h0M159.7 173.6h0M152.2 162.4h0M148.4 166.1h0M157.6 189.1h0M164.7 186.1h0M151.2 126.0h0M145.2 185.6h0M152.4 189.6h0M150.9 182.9h0M146.2 98.5h0M145.6 168.6h0M154.2 173.2h0M149.6 164.1h0M150.1 112.9h0M151.9 158.1h0M168.5 180.1h0M148.9 163.3h0M175.4 187.4h0M154.0 165.3h0M149.2 189.8h0M153.0 187.0h0M147.8 177.1h0M182.3 186.4h0M164.4 181.7h0M157.1 151.8h0M151.5 184.2h0M155.5 189.5h0M148.8 163.8h0M152.5 178.9h0M155.3 160.1h0M145.5 162.7h0M161.8 162.5h0M146.3 119.4h0M152.6 173.3h0M145.8 142.8h0M148.0 163.7h0M149.4 96.3h0M148.7 163.0h0M150.1 179.0h0M149.3 160.8h0M160.1 141.0h0M147.7 176.9h0M148.3 182.5h0M145.0 174.6h0M144.8 180.4h0M153.6 151.0h0M148.3 174.0h0M150.8 133.6h0M152.0 177.1h0M166.8 184.5h0M152.7 129.6h0M157.4 118.6h0M162.3 180.0h0M145.1 134.6h0M163.6 187.7h0M155.9 173.4h0M155.9 183.4h0M146.4 149.7h0M151.1 190.0h0M151.5 171.9h0M146.6 169.9h0M155.5 167.4h0M150.2 137.7h0M158.9 187.2h0M160.2 169.6h0M145.3 171.7h0M151.1 187.7h0M162.2 177.2h0M152.5 187.3h0M149.3 188.1h0M145.2 179.8h0M165.9 170.3h0M146.0 145.4h0M148.9 152.6h0M153.0 175.6h0M151.0 183.9h0M158.4 164.6h0M146.0 170.6h0M154.4 150.9h0M155.6 184.3h0M146.8 38.8h0M151.1 175.7h0M166.6 166.2h0M154.8 164.1h0M158.9 178.3h0M145.0 171.6h0M145.3 185.2h0M150.3 167.8h0M147.6 157.2h0M154.8 186.4h0M153.3 163.5h0M153.7 156.1h0M149.7 185.8h0M153.4 129.8h0M145.3 106.1h0M153.1 184.7h0M146.6 185.6h0M146.4 117.6h0M149.0 185.8h0M154.4 164.5h0M146.7 148.3h0M145.0 177.3h0M167.4 189.9h0M153.6 146.7h0M147.1 123.6h0M155.2 177.9h0M153.1 158.4h0M155.5 145.5h0M146.4 178.7h0M153.3 187.8h0M160.4 148.8h0M152.7 178.0h0M152.6 179.5h0M149.4 164.3h0M146.5 154.5h0M145.3 154.3h0M148.5 108.9h0M146.8 180.5h0M147.5 175.6h0M147.5 172.4h0M146.6 116.0h0M161.8 184.7h0M147.8 170.5h0M155.0 167.7h0M161.1 182.1h0M157.7 183.3h0M148.0 185.0h0M145.9 182.7h0M154.2 185.8h0M156.5 185.0h0M154.5 119.4h0M183.8 185.2h0M148.4 139.3h0M150.4 174.6h0M156.4 173.0h0M152.7 174.0h0M148.4 187.3h0M161.8 162.9h0M168.0 184.4h0M147.6 170.4h0M151.6 171.9h0M146.2 184.3h0M147.1 178.5h0M174.0 179.0h0M160.9 173.2h0M145.3 170.1h0M146.7 157.6h0M155.4 179.5h0M146.8 172.8h0M169.0 185.2h0M147.6 169.2h0M148.6 184.0h0M146.1 178.8h0M158.6 188.7h0M157.3 181.8h0M152.1 162.7h0M147.4 100.8h0M151.2 181.3h0M150.6 135.8h0M146.5 162.8h0M171.9 182.2h0M158.3 164.0h0M146.3 186.8h0M153.9 159.9h0M159.2 181.6h0M146.6 165.5h0M166.5 182.2h0M157.6 189.1h0M147.1 173.5h0M148.6 154.0h0M154.8 163.3h0M150.4 185.0h0M160.8 181.5h0M152.0 164.3h0M148.9 122.6h0M147.4 178.5h0M152.4 181.3h0M149.3 170.9h0M149.4 173.6h0M151.6 133.2h0M152.4 188.6h0M152.8 177.0h0M148.4 125.9h0M168.7 189.5h0M157.5 185.5h0M147.8 167.7h0M145.4 153.5h0M151.9 108.6h0M147.1 184.1h0M158.5 172.2h0M155.2 190.0h0M157.3 168.5h0M145.4 139.4h0M147.2 118.1h0M153.6 174.1h0M145.7 180.5h0M146.2 172.7h0M148.3 169.3h0M155.3 187.8h0M147.2 129.0h0M155.9 178.4h0M153.5 175.8h0M147.4 189.0h0M149.2 173.5h0M152.8 166.2h0M155.4 179.5h0M148.9 179.5h0M147.2 156.9h0M149.3 187.3h0M164.3 183.7h0M148.2 150.1h0M153.9 187.6h0M150.8 182.4h0M148.2 181.2h0M148.0 181.5h0M145.4 162.0h0M158.3 185.4h0M152.1 136.7h0M150.6 177.7h0M145.9 156.8h0M151.1 103.6h0M149.8 155.1h0M146.5 113.6h0M149.4 171.5h0M163.1 184.6h0M152.8 185.3h0M147.7 173.5h0M164.3 176.4h0M152.0 165.6h0M165.8 178.7h0M147.9 188.1h0M149.9 160.8h0M153.5 182.9h0M150.5 181.0h0M151.4 188.3h0M155.3 168.1h0M161.4 177.5h0M195.6 189.7h0M149.3 184.0h0M148.9 110.9h0M157.0 179.0h0M158.9 165.5h0M145.8 177.4h0M152.6 180.3h0M145.0 172.9h0M169.7 189.0h0M165.5 189.3h0M153.8 169.9h0M155.7 175.2h0M155.9 186.1h0M148.4 190.0h0M147.4 148.8h0M155.1 175.9h0M147.2 145.1h0M154.8 167.8h0M149.7 128.5h0M149.1 177.8h0M157.7 169.2h0M163.0 183.2h0M158.2 181.6h0M152.7 165.6h0M148.7 184.9h0M146.1 150.5h0M145.6 150.3h0M154.3 190.0h0M153.7 184.5h0M145.4 182.2h0M148.4 149.2h0M151.1 179.5h0M148.8 171.8h0M151.2 144.4h0M150.5 181.4h0M151.1 183.0h0M162.3 174.9h0M149.6 125.1h0M146.7 123.2h0M151.9 179.9h0M145.2 119.1h0M154.6 184.8h0M149.7 176.8h0M151.8 142.3h0M150.3 156.4h0M165.0 187.4h0M150.4 103.7h0M146.3 105.7h0M163.3 165.1h0M149.9 184.3h0M148.8 152.7h0M155.5 187.7h0M160.1 187.1h0M146.8 173.2h0M150.5 167.8h0M144.8 176.6h0M150.7 136.2h0M176.3 190.1h0M145.0 186.9h0M149.2 178.0h0M151.0 173.9h0M146.5 138.8h0M152.4 163.5h0M156.2 186.5h0M146.0 186.3h0M151.9 159.4h0M150.0 169.1h0M150.5 185.5h0M151.2 179.7h0M162.8 179.1h0M148.6 170.0h0M145.7 102.9h0M165.6 172.4h0M147.1 188.0h0M145.5 147.0h0M158.1 184.0h0M163.3 171.1h0M156.0 189.3h0M148.3 103.6h0M155.5 181.4h0M149.1 123.6h0M157.9 172.1h0M160.0 187.1h0M147.7 176.3h0M154.8 186.4h0M149.5 140.8h0M150.2 144.5h0M147.9 169.5h0M166.7 172.2h0M152.7 185.0h0M152.1 159.4h0M157.2 183.7h0M184.0 185.4h0M150.8 159.1h0M154.5 157.9h0M163.6 171.3h0M154.2 156.9h0M150.8 166.0h0M145.7 164.6h0M155.5 146.0h0M161.9 184.0h0M150.9 167.4h0M164.7 179.8h0M158.9 139.5h0M154.6 185.7h0M145.3 183.0h0M152.4 177.5h0M161.4 187.4h0M155.4 179.5h0M146.6 158.0h0M156.0 166.0h0M147.4 180.2h0M163.5 140.6h0M146.4 168.2h0M149.6 158.4h0M149.6 142.7h0M177.2 183.6h0M148.8 104.5h0M152.0 135.5h0M162.3 182.1h0M150.3 185.8h0M160.6 178.4h0M147.1 168.8h0M147.0 138.0h0M156.4 176.9h0M151.4 98.8h0M149.3 170.1h0M146.5 173.8h0M160.1 178.2h0M159.2 181.3h0M152.4 184.3h0M146.4 178.5h0M146.9 187.3h0M151.1 176.5h0M145.4 171.8h0M154.6 147.4h0M155.2 189.1h0M151.7 147.9h0M149.9 138.0h0M162.3 176.6h0M145.1 184.7h0M149.3 186.4h0M167.5 186.7h0M182.0 188.5h0M150.6 158.2h0M152.4 178.3h0M146.6 161.5h0M146.5 129.3h0M155.2 187.4h0M148.3 155.6h0M154.3 153.7h0M145.2 71.4h0M162.0 184.9h0M153.0 183.7h0M149.1 150.8h0M154.9 188.2h0M145.4 81.0h0M156.0 188.9h0M156.3 171.6h0M163.1 176.7h0M151.9 127.2h0M145.3 179.5h0M160.2 180.9h0M145.4 163.0h0M147.9 188.6h0M148.2 131.5h0M159.6 170.4h0M150.4 165.8h0M158.9 184.0h0M157.6 181.7h0M152.4 185.6h0M145.9 182.0h0M149.8 137.5h0M159.0 156.7h0M176.4 188.7h0M162.1 182.1h0M145.1 187.6h0M147.2 174.6h0M164.5 175.7h0M150.7 158.2h0M145.8 170.6h0M149.9 189.5h0M149.9 186.3h0M160.6 180.4h0M148.7 189.5h0M156.7 182.7h0M155.2 163.4h0M149.1 163.5h0M148.9 176.3h0M152.2 183.6h0M145.6 175.6h0M160.8 174.7h0M147.2 55.1h0M150.3 98.3h0M164.7 158.6h0M156.5 151.4h0M145.9 182.4h0M152.3 175.2h0M153.2 98.6h0M158.9 182.0h0M159.4 189.8h0M153.0 157.7h0M158.6 161.5h0M152.5 179.8h0M149.3 185.0h0M172.9 181.7h0M155.1 141.0h0M167.0 190.1h0M201.6 173.8h0M199.2 173.0h0M191.1 178.9h0M169.8 185.3h0M164.9 188.3h0M184.0 182.5h0M201.2 173.6h0M168.2 188.3h0M180.9 179.3h0M181.1 183.9h0M206.7 171.5h0M170.3 184.9h0M187.4 179.7h0M202.1 173.2h0M190.2 178.9h0M202.7 175.3h0M207.6 170.9h0M164.9 188.1h0M192.9 177.5h0M190.5 177.9h0M178.2 184.2h0M197.2 173.6h0M205.2 171.5h0M179.3 182.8h0M196.8 176.5h0M207.6 171.7h0M182.6 182.5h0M208.2 171.2h0M173.9 185.3h0M197.4 177.0h0M188.5 156.1h0M207.3 170.4h0M148.7 29.1h0M152.6 29.7h0M149.4 36.8h0M159.0 39.4h0M146.8 41.9h0M146.2 45.8h0M151.9 50.3h0M148.5 51.5h0M155.1 56.7h0M158.6 58.6h0M164.7 64.4h0M148.7 64.4h0M152.6 74.6h0M148.1 77.8h0M156.4 83.6h0M151.3 85.5h0M172.0 132.0h0M188.0 153.0h0M180.5 159.5h0M164.0 142.0h0M145.4 23.8h0M147.0 23.8h0M148.7 23.8h0M150.4 23.8h0M152.0 23.8h0M153.7 23.8h0M155.3 23.8h0M157.0 23.8h0M158.7 23.8h0M160.3 23.8h0M162.0 23.8h0M163.6 23.8h0M165.3 23.8h0M167.0 23.8h0M174.7 23.8h0"/>
</g>
<g stroke="#a8a8a8" stroke-width="0.9" stroke-dasharray="3.2 2.4" fill="none">
<line x1="133.77" y1="17.0" x2="133.77" y2="198.8"/>
<line x1="144.83" y1="17.0" x2="144.83" y2="198.8"/>
</g>
<line x1="54.6" y1="190.21" x2="223.4" y2="190.21" stroke="#c8c8c8" stroke-width="1.1" stroke-dasharray="4 3"/>
<rect x="54.6" y="16.0" width="168.8" height="182.8" fill="none" stroke="#111" stroke-width="1.5"/>
<line x1="56.35" y1="198.8" x2="56.35" y2="201.8" stroke="#111" stroke-width="1"/>
<text x="56.35" y="209.9" font-size="8.2" font-weight="bold" fill="#222" text-anchor="middle" >-15</text>
<line x1="84" y1="198.8" x2="84" y2="201.8" stroke="#111" stroke-width="1"/>
<text x="84" y="209.9" font-size="8.2" font-weight="bold" fill="#222" text-anchor="middle" >-10</text>
<line x1="111.65" y1="198.8" x2="111.65" y2="201.8" stroke="#111" stroke-width="1"/>
<text x="111.65" y="209.9" font-size="8.2" font-weight="bold" fill="#222" text-anchor="middle" >-5</text>
<line x1="139.3" y1="198.8" x2="139.3" y2="201.8" stroke="#111" stroke-width="1"/>
<text x="139.3" y="209.9" font-size="8.2" font-weight="bold" fill="#222" text-anchor="middle" >0</text>
<line x1="166.95" y1="198.8" x2="166.95" y2="201.8" stroke="#111" stroke-width="1"/>
<text x="166.95" y="209.9" font-size="8.2" font-weight="bold" fill="#222" text-anchor="middle" >5</text>
<line x1="194.6" y1="198.8" x2="194.6" y2="201.8" stroke="#111" stroke-width="1"/>
<text x="194.6" y="209.9" font-size="8.2" font-weight="bold" fill="#222" text-anchor="middle" >10</text>
<line x1="222.25" y1="198.8" x2="222.25" y2="201.8" stroke="#111" stroke-width="1"/>
<text x="222.25" y="209.9" font-size="8.2" font-weight="bold" fill="#222" text-anchor="middle" >15</text>
<line x1="51.6" y1="191.3" x2="54.6" y2="191.3" stroke="#111" stroke-width="1"/>
<text x="49.5" y="195.3" font-size="8.2" font-weight="bold" fill="#222" text-anchor="end" >0</text>
<line x1="51.6" y1="149.43" x2="54.6" y2="149.43" stroke="#111" stroke-width="1"/>
<text x="49.5" y="153.43" font-size="8.2" font-weight="bold" fill="#222" text-anchor="end" >50</text>
<line x1="51.6" y1="107.55" x2="54.6" y2="107.55" stroke="#111" stroke-width="1"/>
<text x="49.5" y="111.55" font-size="8.2" font-weight="bold" fill="#222" text-anchor="end" >100</text>
<line x1="51.6" y1="65.68" x2="54.6" y2="65.68" stroke="#111" stroke-width="1"/>
<text x="49.5" y="69.68" font-size="8.2" font-weight="bold" fill="#222" text-anchor="end" >150</text>
<line x1="51.6" y1="23.8" x2="54.6" y2="23.8" stroke="#111" stroke-width="1"/>
<text x="49.5" y="27.8" font-size="8.2" font-weight="bold" fill="#222" text-anchor="end" >200</text>
<text x="142" y="223" font-size="7.8" font-weight="bold" fill="#222" text-anchor="middle">log<tspan font-size="5.2" dy="2">2</tspan><tspan dy="-2"> FoldChange</tspan></text>
<text transform="translate(29.2 97.5) rotate(-90)" font-size="8.0" font-weight="bold" fill="#222" text-anchor="middle">-log<tspan font-size="5.2" dy="2">10</tspan><tspan dy="-2"> q−value</tspan></text>
<text x="61.9" y="22.7" font-size="4.06" font-weight="bold" fill="#1a1a1a" text-anchor="start" >Down</text>
<text x="61.9" y="27.73" font-size="4.06" font-weight="bold" fill="#1a1a1a" text-anchor="start" >p &lt; 0.05: 5866</text>
<text x="61.9" y="32.76" font-size="4.06" font-weight="bold" fill="#1a1a1a" text-anchor="start" >log2FC &lt; -1: 1156</text>
<text x="61.9" y="37.79" font-size="4.06" font-weight="bold" fill="#1a1a1a" text-anchor="start" >Sig. : 759</text>
<text x="188.9" y="22.7" font-size="4.06" font-weight="bold" fill="#1a1a1a" text-anchor="start" >Up</text>
<text x="188.9" y="27.73" font-size="4.06" font-weight="bold" fill="#1a1a1a" text-anchor="start" >p &lt; 0.05: 5139</text>
<text x="188.9" y="32.76" font-size="4.06" font-weight="bold" fill="#1a1a1a" text-anchor="start" >log2FC &gt; 1: 2308</text>
<text x="188.9" y="37.79" font-size="4.06" font-weight="bold" fill="#1a1a1a" text-anchor="start" >Sig. : 1079</text>
<text x="301.01" y="19.39" font-size="25.5" font-weight="bold" fill="#231815" text-anchor="start" >B</text>
<text x="553" y="16.3" font-size="8.1" font-weight="bold" fill="#111" text-anchor="middle" >top 20 of Enriched KEGG Pathways</text>
<rect x="494.2" y="21.6" width="95.8" height="175.9" fill="#fff"/>
<line x1="515.2" y1="21.6" x2="515.2" y2="197.5" stroke="#ececec" stroke-width="0.8"/>
<line x1="538.6" y1="21.6" x2="538.6" y2="197.5" stroke="#ececec" stroke-width="0.8"/>
<line x1="562" y1="21.6" x2="562" y2="197.5" stroke="#ececec" stroke-width="0.8"/>
<line x1="585.4" y1="21.6" x2="585.4" y2="197.5" stroke="#ececec" stroke-width="0.8"/>
<line x1="494.2" y1="26.6" x2="590.0" y2="26.6" stroke="#e6e6e6" stroke-width="1"/>
<line x1="494.2" y1="35.34" x2="590.0" y2="35.34" stroke="#e6e6e6" stroke-width="1"/>
<line x1="494.2" y1="44.07" x2="590.0" y2="44.07" stroke="#e6e6e6" stroke-width="1"/>
<line x1="494.2" y1="52.81" x2="590.0" y2="52.81" stroke="#e6e6e6" stroke-width="1"/>
<line x1="494.2" y1="61.55" x2="590.0" y2="61.55" stroke="#e6e6e6" stroke-width="1"/>
<line x1="494.2" y1="70.28" x2="590.0" y2="70.28" stroke="#e6e6e6" stroke-width="1"/>
<line x1="494.2" y1="79.02" x2="590.0" y2="79.02" stroke="#e6e6e6" stroke-width="1"/>
<line x1="494.2" y1="87.76" x2="590.0" y2="87.76" stroke="#e6e6e6" stroke-width="1"/>
<line x1="494.2" y1="96.5" x2="590.0" y2="96.5" stroke="#e6e6e6" stroke-width="1"/>
<line x1="494.2" y1="105.23" x2="590.0" y2="105.23" stroke="#e6e6e6" stroke-width="1"/>
<line x1="494.2" y1="113.97" x2="590.0" y2="113.97" stroke="#e6e6e6" stroke-width="1"/>
<line x1="494.2" y1="122.71" x2="590.0" y2="122.71" stroke="#e6e6e6" stroke-width="1"/>
<line x1="494.2" y1="131.44" x2="590.0" y2="131.44" stroke="#e6e6e6" stroke-width="1"/>
<line x1="494.2" y1="140.18" x2="590.0" y2="140.18" stroke="#e6e6e6" stroke-width="1"/>
<line x1="494.2" y1="148.92" x2="590.0" y2="148.92" stroke="#e6e6e6" stroke-width="1"/>
<line x1="494.2" y1="157.66" x2="590.0" y2="157.66" stroke="#e6e6e6" stroke-width="1"/>
<line x1="494.2" y1="166.39" x2="590.0" y2="166.39" stroke="#e6e6e6" stroke-width="1"/>
<line x1="494.2" y1="175.13" x2="590.0" y2="175.13" stroke="#e6e6e6" stroke-width="1"/>
<line x1="494.2" y1="183.87" x2="590.0" y2="183.87" stroke="#e6e6e6" stroke-width="1"/>
<line x1="494.2" y1="192.6" x2="590.0" y2="192.6" stroke="#e6e6e6" stroke-width="1"/>
<line x1="503.5" y1="21.6" x2="503.5" y2="197.5" stroke="#e2e2e2" stroke-width="1.1"/>
<line x1="526.9" y1="21.6" x2="526.9" y2="197.5" stroke="#e2e2e2" stroke-width="1.1"/>
<line x1="550.3" y1="21.6" x2="550.3" y2="197.5" stroke="#e2e2e2" stroke-width="1.1"/>
<line x1="573.7" y1="21.6" x2="573.7" y2="197.5" stroke="#e2e2e2" stroke-width="1.1"/>
<text x="489.6" y="29.5" font-size="8.1" font-weight="bold" fill="#2a2a2a" text-anchor="end" >Cocaine addiction</text>
<line x1="491.7" y1="26.6" x2="494.2" y2="26.6" stroke="#333" stroke-width="1"/>
<circle cx="498.7" cy="26.6" r="4.3" fill="#f4533a"/>
<text x="489.6" y="38.24" font-size="8.1" font-weight="bold" fill="#e8141c" text-anchor="end" >ECM−receptor interaction</text>
<line x1="491.7" y1="35.34" x2="494.2" y2="35.34" stroke="#333" stroke-width="1"/>
<circle cx="512.7" cy="35.34" r="4.3" fill="#ff0000"/>
<text x="489.6" y="46.97" font-size="8.1" font-weight="bold" fill="#2a2a2a" text-anchor="end" >Protein digestion and absorption</text>
<line x1="491.7" y1="44.07" x2="494.2" y2="44.07" stroke="#333" stroke-width="1"/>
<circle cx="517.3" cy="44.07" r="4.3" fill="#fe0202"/>
<text x="489.6" y="55.71" font-size="8.1" font-weight="bold" fill="#2a2a2a" text-anchor="end" >Signaling pathways regulating pluripotency of stem cells</text>
<line x1="491.7" y1="52.81" x2="494.2" y2="52.81" stroke="#333" stroke-width="1"/>
<circle cx="524.5" cy="52.81" r="3.7" fill="#fb0a0a"/>
<text x="489.6" y="64.45" font-size="8.1" font-weight="bold" fill="#2a2a2a" text-anchor="end" >Retinol metabolism</text>
<line x1="491.7" y1="61.55" x2="494.2" y2="61.55" stroke="#333" stroke-width="1"/>
<circle cx="501" cy="61.55" r="3.8" fill="#e07a6a"/>
<text x="489.6" y="73.19" font-size="8.1" font-weight="bold" fill="#2a2a2a" text-anchor="end" >Steroid hormone biosynthesis</text>
<line x1="491.7" y1="70.28" x2="494.2" y2="70.28" stroke="#333" stroke-width="1"/>
<circle cx="498.4" cy="70.28" r="3.6" fill="#c2a6ae"/>
<text x="489.6" y="81.92" font-size="8.1" font-weight="bold" fill="#2a2a2a" text-anchor="end" >Dilated cardiomyopathy</text>
<line x1="491.7" y1="79.02" x2="494.2" y2="79.02" stroke="#333" stroke-width="1"/>
<circle cx="508.1" cy="79.02" r="3.5" fill="#f4553a"/>
<text x="489.6" y="90.66" font-size="8.1" font-weight="bold" fill="#2a2a2a" text-anchor="end" >Cortisol synthesis and secretion</text>
<line x1="491.7" y1="87.76" x2="494.2" y2="87.76" stroke="#333" stroke-width="1"/>
<circle cx="498.3" cy="87.76" r="3.5" fill="#87ceeb"/>
<text x="489.6" y="99.4" font-size="8.1" font-weight="bold" fill="#2a2a2a" text-anchor="end" >Hypertrophic cardiomyopathy</text>
<line x1="491.7" y1="96.5" x2="494.2" y2="96.5" stroke="#333" stroke-width="1"/>
<circle cx="505.6" cy="96.5" r="3.4" fill="#e8705a"/>
<text x="489.6" y="108.13" font-size="8.1" font-weight="bold" fill="#e8141c" text-anchor="end" >TGF−beta signaling pathway</text>
<line x1="491.7" y1="105.23" x2="494.2" y2="105.23" stroke="#333" stroke-width="1"/>
<circle cx="510.2" cy="105.23" r="3.4" fill="#f44a30"/>
<text x="489.6" y="116.87" font-size="8.1" font-weight="bold" fill="#2a2a2a" text-anchor="end" >Arrhythmogenic right ventricular cardiomyopathy</text>
<line x1="491.7" y1="113.97" x2="494.2" y2="113.97" stroke="#333" stroke-width="1"/>
<circle cx="500.8" cy="113.97" r="3.2" fill="#90c4dc"/>
<text x="489.6" y="125.61" font-size="8.1" font-weight="bold" fill="#2a2a2a" text-anchor="end" >Axon guidance</text>
<line x1="491.7" y1="122.71" x2="494.2" y2="122.71" stroke="#333" stroke-width="1"/>
<circle cx="526.7" cy="122.71" r="3.2" fill="#ff1a0a"/>
<text x="489.6" y="134.34" font-size="8.1" font-weight="bold" fill="#2a2a2a" text-anchor="end" >Pancreatic secretion</text>
<line x1="491.7" y1="131.44" x2="494.2" y2="131.44" stroke="#333" stroke-width="1"/>
<circle cx="505.6" cy="131.44" r="3.1" fill="#b8aeb8"/>
<text x="489.6" y="143.08" font-size="8.1" font-weight="bold" fill="#2a2a2a" text-anchor="end" >Hippo signaling pathway</text>
<line x1="491.7" y1="140.18" x2="494.2" y2="140.18" stroke="#333" stroke-width="1"/>
<circle cx="517.5" cy="140.18" r="2.9" fill="#e86a55"/>
<text x="489.6" y="151.82" font-size="8.1" font-weight="bold" fill="#2a2a2a" text-anchor="end" >Purine metabolism</text>
<line x1="491.7" y1="148.92" x2="494.2" y2="148.92" stroke="#333" stroke-width="1"/>
<circle cx="510.2" cy="148.92" r="2.7" fill="#b8a8b0"/>
<text x="489.6" y="160.56" font-size="8.1" font-weight="bold" fill="#2a2a2a" text-anchor="end" >Chemical carcinogenesis − receptor activation</text>
<line x1="491.7" y1="157.66" x2="494.2" y2="157.66" stroke="#333" stroke-width="1"/>
<circle cx="524.4" cy="157.66" r="2.7" fill="#ea6048"/>
<text x="489.6" y="169.29" font-size="8.1" font-weight="bold" fill="#2a2a2a" text-anchor="end" >Herpes simplex virus 1 infection</text>
<line x1="491.7" y1="166.39" x2="494.2" y2="166.39" stroke="#333" stroke-width="1"/>
<circle cx="585.2" cy="166.39" r="2.4" fill="#ff0505"/>
<text x="489.6" y="178.03" font-size="8.1" font-weight="bold" fill="#2a2a2a" text-anchor="end" >Cytokine−cytokine receptor interaction</text>
<line x1="491.7" y1="175.13" x2="494.2" y2="175.13" stroke="#333" stroke-width="1"/>
<circle cx="540.6" cy="175.13" r="2.1" fill="#ea5a45"/>
<text x="489.6" y="186.77" font-size="8.1" font-weight="bold" fill="#2a2a2a" text-anchor="end" >MAPK signaling pathway</text>
<line x1="491.7" y1="183.87" x2="494.2" y2="183.87" stroke="#333" stroke-width="1"/>
<circle cx="540.6" cy="183.87" r="2" fill="#ea5a45"/>
<text x="489.6" y="195.5" font-size="8.1" font-weight="bold" fill="#2a2a2a" text-anchor="end" >PI3K−Akt signaling pathway</text>
<line x1="491.7" y1="192.6" x2="494.2" y2="192.6" stroke="#333" stroke-width="1"/>
<circle cx="547.9" cy="192.6" r="1.2" fill="#e88070"/>
<rect x="494.2" y="21.6" width="95.8" height="175.9" fill="none" stroke="#222" stroke-width="1.3"/>
<line x1="503.5" y1="197.5" x2="503.5" y2="200.0" stroke="#333" stroke-width="1"/>
<text x="503.5" y="209.4" font-size="8.9" font-weight="bold" fill="#4d4d4d" text-anchor="middle" >10</text>
<line x1="526.9" y1="197.5" x2="526.9" y2="200.0" stroke="#333" stroke-width="1"/>
<text x="526.9" y="209.4" font-size="8.9" font-weight="bold" fill="#4d4d4d" text-anchor="middle" >20</text>
<line x1="550.3" y1="197.5" x2="550.3" y2="200.0" stroke="#333" stroke-width="1"/>
<text x="550.3" y="209.4" font-size="8.9" font-weight="bold" fill="#4d4d4d" text-anchor="middle" >30</text>
<line x1="573.7" y1="197.5" x2="573.7" y2="200.0" stroke="#333" stroke-width="1"/>
<text x="573.7" y="209.4" font-size="8.9" font-weight="bold" fill="#4d4d4d" text-anchor="middle" >40</text>
<text x="544.3" y="219.4" font-size="8.3" font-weight="bold" fill="#1a1a1a" text-anchor="middle" >ListHits</text>
<text x="600" y="41.6" font-size="8.1" font-weight="bold" fill="#222" text-anchor="start" >Enrichment_score</text>
<circle cx="604.9" cy="54.8" r="1.4" fill="#000"/>
<text x="615.6" y="57.3" font-size="7" font-weight="bold" fill="#222" text-anchor="start" >1.6</text>
<circle cx="604.9" cy="65.3" r="2.3" fill="#000"/>
<text x="615.6" y="67.8" font-size="7" font-weight="bold" fill="#222" text-anchor="start" >2.0</text>
<circle cx="604.9" cy="75.8" r="3.0" fill="#000"/>
<text x="615.6" y="78.3" font-size="7" font-weight="bold" fill="#222" text-anchor="start" >2.4</text>
<circle cx="604.9" cy="86.3" r="3.6" fill="#000"/>
<text x="615.6" y="88.8" font-size="7" font-weight="bold" fill="#222" text-anchor="start" >2.8</text>
<circle cx="604.9" cy="96.8" r="4.2" fill="#000"/>
<text x="615.6" y="99.3" font-size="7" font-weight="bold" fill="#222" text-anchor="start" >3.2</text>
<text x="600" y="123.8" font-size="8.1" font-weight="bold" fill="#222" text-anchor="start" >p.value</text>
<defs><linearGradient id="pv" x1="0" y1="0" x2="0" y2="1"><stop offset="0" stop-color="#87ceeb"/><stop offset="0.33" stop-color="#c8a7b2"/><stop offset="0.66" stop-color="#e9705c"/><stop offset="1" stop-color="#ff0000"/></linearGradient></defs>
<rect x="600" y="132.4" width="10.6" height="52.9" fill="url(#pv)"/>
<line x1="600" y1="135.9" x2="602" y2="135.9" stroke="#fff" stroke-width="0.8"/>
<line x1="608.6" y1="135.9" x2="610.6" y2="135.9" stroke="#fff" stroke-width="0.8"/>
<text x="615.2" y="138.4" font-size="7" font-weight="bold" fill="#222" text-anchor="start" >0.016</text>
<line x1="600" y1="152.2" x2="602" y2="152.2" stroke="#fff" stroke-width="0.8"/>
<line x1="608.6" y1="152.2" x2="610.6" y2="152.2" stroke="#fff" stroke-width="0.8"/>
<text x="615.2" y="154.7" font-size="7" font-weight="bold" fill="#222" text-anchor="start" >0.012</text>
<line x1="600" y1="167.3" x2="602" y2="167.3" stroke="#fff" stroke-width="0.8"/>
<line x1="608.6" y1="167.3" x2="610.6" y2="167.3" stroke="#fff" stroke-width="0.8"/>
<text x="615.2" y="169.8" font-size="7" font-weight="bold" fill="#222" text-anchor="start" >0.008</text>
<line x1="600" y1="182.0" x2="602" y2="182.0" stroke="#fff" stroke-width="0.8"/>
<line x1="608.6" y1="182.0" x2="610.6" y2="182.0" stroke="#fff" stroke-width="0.8"/>
<text x="615.2" y="184.5" font-size="7" font-weight="bold" fill="#222" text-anchor="start" >0.004</text>
<text x="0.33" y="252.79" font-size="25.5" font-weight="bold" fill="#231815" text-anchor="start" >C</text>
<circle cx="98.65" cy="339.05" r="40.3" fill="none" stroke="#f0f0f0" stroke-width="30"/>
<circle cx="98.65" cy="339.05" r="36.5" fill="none" stroke="#c4c4c4" stroke-width="0.55"/>
<circle cx="98.65" cy="339.05" r="41.3" fill="none" stroke="#c4c4c4" stroke-width="0.55"/>
<circle cx="98.65" cy="339.05" r="46.1" fill="none" stroke="#c4c4c4" stroke-width="0.55"/>
<circle cx="98.65" cy="339.05" r="50.9" fill="none" stroke="#c4c4c4" stroke-width="0.55"/>
<path d="M98.14 302.65A36.40 36.40 0 0 1 109.41 304.28L106.13 314.88A25.30 25.30 0 0 0 98.30 313.75Z" fill="#8dd3c7"/>
<path d="M97.79 277.46A61.60 61.60 0 0 1 103.05 277.61L102.74 282.00A57.20 57.20 0 0 0 97.85 281.86Z" fill="#ffb6c8"/>
<path d="M103.05 277.61A61.60 61.60 0 0 1 114.70 279.58L113.55 283.82A57.20 57.20 0 0 0 102.74 282.00Z" fill="#86cbf6"/>
<path d="M97.60 263.76A75.30 75.30 0 0 1 120.92 267.12L119.62 271.32A70.90 70.90 0 0 0 97.66 268.16Z" fill="#8dd3c7"/>
<path d="M98.39 263.15A75.90 75.90 0 0 1 120.33 266.31" fill="none" stroke="#000" stroke-width="1.1"/>
<path d="M98.41 269.15A69.90 69.90 0 0 1 98.89 269.15L98.88 273.45A65.60 65.60 0 0 0 98.42 273.45Z" fill="#ffffff"/>
<text transform="translate(100.19 271.32) rotate(1.3)" y="1.30" font-size="3.6" font-weight="bold" fill="#111" text-anchor="middle">15</text>
<text transform="translate(98.92 261.75) rotate(0.2)" y="0.00" font-size="4.2" font-weight="normal" fill="#111" text-anchor="middle">0</text>
<text transform="translate(110.88 262.72) rotate(9.1)" y="0.00" font-size="4.2" font-weight="normal" fill="#111" text-anchor="middle">200</text>
<line x1="101.03" y1="263.29" x2="101.07" y2="262.09" stroke="#000" stroke-width="0.5"/>
<line x1="103.67" y1="263.42" x2="103.75" y2="262.22" stroke="#000" stroke-width="0.5"/>
<line x1="106.31" y1="263.64" x2="106.43" y2="262.44" stroke="#000" stroke-width="0.5"/>
<line x1="108.94" y1="263.95" x2="109.10" y2="262.76" stroke="#000" stroke-width="0.5"/>
<line x1="111.55" y1="264.36" x2="111.76" y2="263.17" stroke="#000" stroke-width="0.5"/>
<line x1="114.15" y1="264.85" x2="114.40" y2="263.68" stroke="#000" stroke-width="0.5"/>
<line x1="116.73" y1="265.44" x2="117.02" y2="264.27" stroke="#000" stroke-width="0.5"/>
<line x1="119.29" y1="266.11" x2="119.62" y2="264.96" stroke="#000" stroke-width="0.5"/>
<text transform="translate(100.25 283.47) rotate(1.7)" y="0.30" font-size="2.8" font-weight="normal" fill="#333" text-anchor="middle">1</text>
<text transform="translate(107.92 284.23) rotate(9.6)" y="0.30" font-size="2.8" font-weight="normal" fill="#333" text-anchor="middle">1</text>
<text transform="translate(111.09 252.74) rotate(8.2)" y="0.00" font-size="2.8" font-weight="bold" fill="#222" text-anchor="middle">Phenylalanine</text>
<text transform="translate(110.65 255.81) rotate(8.2)" y="0.00" font-size="2.8" font-weight="bold" fill="#222" text-anchor="middle">metabolism</text>
<path d="M108.64 306.76A33.80 33.80 0 0 1 118.13 311.43L113.23 318.38A25.30 25.30 0 0 0 106.13 314.88Z" fill="#8dd3c7"/>
<path d="M116.87 280.20A61.60 61.60 0 0 1 123.11 282.52L121.37 286.55A57.20 57.20 0 0 0 115.56 284.41Z" fill="#ffb6c8"/>
<path d="M123.11 282.52A61.60 61.60 0 0 1 132.38 287.51L129.97 291.19A57.20 57.20 0 0 0 121.37 286.55Z" fill="#86cbf6"/>
<path d="M120.92 267.12A75.30 75.30 0 0 1 142.06 277.52L139.52 281.11A70.90 70.90 0 0 0 119.62 271.32Z" fill="#8dd3c7"/>
<path d="M121.85 266.78A75.90 75.90 0 0 1 141.75 276.57" fill="none" stroke="#000" stroke-width="1.1"/>
<path d="M120.02 272.50A69.90 69.90 0 0 1 122.10 273.20L120.66 277.25A65.60 65.60 0 0 0 118.70 276.59Z" fill="#f4f6d8"/>
<text transform="translate(121.04 275.11) rotate(19.3)" y="1.30" font-size="3.6" font-weight="bold" fill="#111" text-anchor="middle">40</text>
<text transform="translate(122.79 265.62) rotate(18.2)" y="0.00" font-size="4.2" font-weight="normal" fill="#111" text-anchor="middle">0</text>
<text transform="translate(133.86 270.24) rotate(27.1)" y="0.00" font-size="4.2" font-weight="normal" fill="#111" text-anchor="middle">200</text>
<line x1="124.33" y1="267.73" x2="124.73" y2="266.60" stroke="#000" stroke-width="0.5"/>
<line x1="126.80" y1="268.67" x2="127.25" y2="267.56" stroke="#000" stroke-width="0.5"/>
<line x1="129.24" y1="269.70" x2="129.72" y2="268.60" stroke="#000" stroke-width="0.5"/>
<line x1="131.64" y1="270.81" x2="132.16" y2="269.73" stroke="#000" stroke-width="0.5"/>
<line x1="134.00" y1="272.00" x2="134.56" y2="270.94" stroke="#000" stroke-width="0.5"/>
<line x1="136.32" y1="273.27" x2="136.92" y2="272.23" stroke="#000" stroke-width="0.5"/>
<line x1="138.59" y1="274.63" x2="139.23" y2="273.61" stroke="#000" stroke-width="0.5"/>
<line x1="140.82" y1="276.06" x2="141.48" y2="275.06" stroke="#000" stroke-width="0.5"/>
<text transform="translate(117.94 286.90) rotate(20.3)" y="0.30" font-size="2.8" font-weight="normal" fill="#333" text-anchor="middle">3</text>
<text transform="translate(125.01 290.10) rotate(28.3)" y="0.30" font-size="2.8" font-weight="normal" fill="#333" text-anchor="middle">4</text>
<text transform="translate(138.43 258.21) rotate(26.2)" y="0.00" font-size="2.8" font-weight="bold" fill="#222" text-anchor="middle">Glycine, serine</text>
<text transform="translate(137.06 260.99) rotate(26.2)" y="0.00" font-size="2.8" font-weight="bold" fill="#222" text-anchor="middle">and threonine</text>
<text transform="translate(135.69 263.77) rotate(26.2)" y="0.00" font-size="2.8" font-weight="bold" fill="#222" text-anchor="middle">metabolism</text>
<path d="M117.10 312.90A32.00 32.00 0 0 1 124.27 319.88L118.91 323.89A25.30 25.30 0 0 0 113.23 318.38Z" fill="#ffffb3"/>
<path d="M134.16 288.71A61.60 61.60 0 0 1 142.21 295.49L139.10 298.60A57.20 57.20 0 0 0 131.62 292.31Z" fill="#ffb6c8"/>
<path d="M142.21 295.49A61.60 61.60 0 0 1 146.66 300.45L143.23 303.21A57.20 57.20 0 0 0 139.10 298.60Z" fill="#86cbf6"/>
<path d="M142.06 277.52A75.30 75.30 0 0 1 158.95 293.94L155.42 296.58A70.90 70.90 0 0 0 139.52 281.11Z" fill="#ffffb3"/>
<path d="M143.05 277.49A75.90 75.90 0 0 1 158.95 292.95" fill="none" stroke="#000" stroke-width="1.1"/>
<path d="M139.54 282.36A69.90 69.90 0 0 1 143.95 285.82L141.17 289.09A65.60 65.60 0 0 0 137.02 285.84Z" fill="#de5228"/>
<text transform="translate(140.45 285.74) rotate(38.1)" y="1.30" font-size="3.6" font-weight="bold" fill="#111" text-anchor="middle">182</text>
<text transform="translate(144.30 276.67) rotate(36.2)" y="0.00" font-size="4.2" font-weight="normal" fill="#111" text-anchor="middle">0</text>
<text transform="translate(153.40 284.49) rotate(45.1)" y="0.00" font-size="4.2" font-weight="normal" fill="#111" text-anchor="middle">200</text>
<line x1="145.11" y1="279.16" x2="145.84" y2="278.21" stroke="#000" stroke-width="0.5"/>
<line x1="147.17" y1="280.81" x2="147.94" y2="279.89" stroke="#000" stroke-width="0.5"/>
<line x1="149.17" y1="282.54" x2="149.97" y2="281.65" stroke="#000" stroke-width="0.5"/>
<line x1="151.11" y1="284.34" x2="151.95" y2="283.47" stroke="#000" stroke-width="0.5"/>
<line x1="152.99" y1="286.20" x2="153.85" y2="285.37" stroke="#000" stroke-width="0.5"/>
<line x1="154.80" y1="288.13" x2="155.69" y2="287.33" stroke="#000" stroke-width="0.5"/>
<line x1="156.55" y1="290.12" x2="157.46" y2="289.35" stroke="#000" stroke-width="0.5"/>
<line x1="158.22" y1="292.17" x2="159.16" y2="291.43" stroke="#000" stroke-width="0.5"/>
<text transform="translate(134.46 296.52) rotate(40.1)" y="0.30" font-size="2.8" font-weight="normal" fill="#333" text-anchor="middle">15</text>
<text transform="translate(140.03 301.92) rotate(48.1)" y="0.30" font-size="2.8" font-weight="normal" fill="#333" text-anchor="middle">20</text>
<text transform="translate(159.44 276.54) rotate(44.2)" y="0.00" font-size="2.8" font-weight="bold" fill="#222" text-anchor="middle">Protein digestion</text>
<text transform="translate(157.28 278.76) rotate(44.2)" y="0.00" font-size="2.8" font-weight="bold" fill="#222" text-anchor="middle">and absorption</text>
<path d="M124.83 319.46A32.70 32.70 0 0 1 129.61 328.51L122.60 330.90A25.30 25.30 0 0 0 118.91 323.89Z" fill="#8dd3c7"/>
<path d="M147.98 302.15A61.60 61.60 0 0 1 150.72 306.13L147.00 308.49A57.20 57.20 0 0 0 144.45 304.79Z" fill="#ffb6c8"/>
<path d="M150.72 306.13A61.60 61.60 0 0 1 155.84 316.17L151.76 317.81A57.20 57.20 0 0 0 147.00 308.49Z" fill="#86cbf6"/>
<path d="M158.95 293.94A75.30 75.30 0 0 1 169.93 314.78L165.77 316.20A70.90 70.90 0 0 0 155.42 296.58Z" fill="#8dd3c7"/>
<path d="M159.90 294.22A75.90 75.90 0 0 1 170.24 313.84" fill="none" stroke="#000" stroke-width="1.1"/>
<path d="M155.06 297.77A69.90 69.90 0 0 1 156.80 300.27L153.23 302.65A65.60 65.60 0 0 0 151.59 300.31Z" fill="#fbf4b0"/>
<text transform="translate(154.35 300.48) rotate(55.3)" y="1.30" font-size="3.6" font-weight="bold" fill="#111" text-anchor="middle">61</text>
<text transform="translate(161.35 293.83) rotate(54.2)" y="0.00" font-size="4.2" font-weight="normal" fill="#111" text-anchor="middle">0</text>
<text transform="translate(167.59 304.08) rotate(63.1)" y="0.00" font-size="4.2" font-weight="normal" fill="#111" text-anchor="middle">200</text>
<line x1="161.34" y1="296.44" x2="162.34" y2="295.77" stroke="#000" stroke-width="0.5"/>
<line x1="162.79" y1="298.66" x2="163.81" y2="298.02" stroke="#000" stroke-width="0.5"/>
<line x1="164.16" y1="300.92" x2="165.20" y2="300.32" stroke="#000" stroke-width="0.5"/>
<line x1="165.45" y1="303.23" x2="166.51" y2="302.66" stroke="#000" stroke-width="0.5"/>
<line x1="166.66" y1="305.58" x2="167.74" y2="305.05" stroke="#000" stroke-width="0.5"/>
<line x1="167.79" y1="307.98" x2="168.88" y2="307.49" stroke="#000" stroke-width="0.5"/>
<line x1="168.83" y1="310.41" x2="169.94" y2="309.96" stroke="#000" stroke-width="0.5"/>
<line x1="169.79" y1="312.88" x2="170.91" y2="312.46" stroke="#000" stroke-width="0.5"/>
<text transform="translate(144.44 307.52) rotate(55.5)" y="0.30" font-size="2.8" font-weight="normal" fill="#333" text-anchor="middle">5</text>
<text transform="translate(148.17 313.76) rotate(63.0)" y="0.30" font-size="2.8" font-weight="normal" fill="#333" text-anchor="middle">6</text>
<text transform="translate(178.35 297.03) rotate(62.2)" y="0.00" font-size="2.8" font-weight="bold" fill="#222" text-anchor="middle">Metabolism of</text>
<text transform="translate(175.61 298.47) rotate(62.2)" y="0.00" font-size="2.8" font-weight="bold" fill="#222" text-anchor="middle">xenobiotics by</text>
<text transform="translate(172.87 299.92) rotate(62.2)" y="0.00" font-size="2.8" font-weight="bold" fill="#222" text-anchor="middle">cytochrome P450</text>
<path d="M129.32 328.61A32.40 32.40 0 0 1 131.05 338.60L123.95 338.70A25.30 25.30 0 0 0 122.60 330.90Z" fill="#bebada"/>
<path d="M156.96 319.20A61.60 61.60 0 0 1 159.74 331.12L155.37 331.68A57.20 57.20 0 0 0 152.80 320.62Z" fill="#ffb6c8"/>
<path d="M159.74 331.12A61.60 61.60 0 0 1 160.18 336.04L155.78 336.26A57.20 57.20 0 0 0 155.37 331.68Z" fill="#86cbf6"/>
<path d="M169.93 314.78A75.30 75.30 0 0 1 173.94 338.00L169.54 338.06A70.90 70.90 0 0 0 165.77 316.20Z" fill="#bebada"/>
<path d="M170.75 315.34A75.90 75.90 0 0 1 174.53 337.20" fill="none" stroke="#000" stroke-width="1.1"/>
<path d="M165.05 317.22A69.90 69.90 0 0 1 165.77 319.55L161.65 320.75A65.60 65.60 0 0 0 160.97 318.56Z" fill="#dfeed8"/>
<text transform="translate(163.54 319.58) rotate(73.3)" y="1.30" font-size="3.6" font-weight="bold" fill="#111" text-anchor="middle">45</text>
<text transform="translate(172.25 315.42) rotate(72.2)" y="0.00" font-size="4.2" font-weight="normal" fill="#111" text-anchor="middle">0</text>
<text transform="translate(175.02 327.09) rotate(81.1)" y="0.00" font-size="4.2" font-weight="normal" fill="#111" text-anchor="middle">200</text>
<line x1="171.44" y1="317.90" x2="172.59" y2="317.57" stroke="#000" stroke-width="0.5"/>
<line x1="172.13" y1="320.46" x2="173.30" y2="320.16" stroke="#000" stroke-width="0.5"/>
<line x1="172.74" y1="323.03" x2="173.91" y2="322.78" stroke="#000" stroke-width="0.5"/>
<line x1="173.25" y1="325.63" x2="174.43" y2="325.41" stroke="#000" stroke-width="0.5"/>
<line x1="173.68" y1="328.24" x2="174.86" y2="328.07" stroke="#000" stroke-width="0.5"/>
<line x1="174.01" y1="330.86" x2="175.20" y2="330.73" stroke="#000" stroke-width="0.5"/>
<line x1="174.25" y1="333.50" x2="175.44" y2="333.41" stroke="#000" stroke-width="0.5"/>
<line x1="174.39" y1="336.14" x2="175.59" y2="336.09" stroke="#000" stroke-width="0.5"/>
<text transform="translate(152.80 326.45) rotate(76.9)" y="0.30" font-size="2.8" font-weight="normal" fill="#333" text-anchor="middle">3</text>
<text transform="translate(154.03 334.11) rotate(84.9)" y="0.30" font-size="2.8" font-weight="normal" fill="#333" text-anchor="middle">5</text>
<text transform="translate(184.58 324.21) rotate(80.2)" y="0.00" font-size="2.8" font-weight="bold" fill="#222" text-anchor="middle">Cocaine</text>
<text transform="translate(181.52 324.74) rotate(80.2)" y="0.00" font-size="2.8" font-weight="bold" fill="#222" text-anchor="middle">addiction</text>
<path d="M130.85 338.60A32.20 32.20 0 0 1 129.41 348.57L122.82 346.53A25.30 25.30 0 0 0 123.95 338.70Z" fill="#8dd3c7"/>
<path d="M160.24 338.19A61.60 61.60 0 0 1 160.00 344.63L155.61 344.23A57.20 57.20 0 0 0 155.84 338.25Z" fill="#ffb6c8"/>
<path d="M160.00 344.63A61.60 61.60 0 0 1 158.10 355.20L153.85 354.05A57.20 57.20 0 0 0 155.61 344.23Z" fill="#86cbf6"/>
<path d="M173.94 338.00A75.30 75.30 0 0 1 170.58 361.32L166.38 360.02A70.90 70.90 0 0 0 169.54 338.06Z" fill="#8dd3c7"/>
<path d="M174.55 338.79A75.90 75.90 0 0 1 171.39 360.73" fill="none" stroke="#000" stroke-width="1.1"/>
<path d="M168.55 338.81A69.90 69.90 0 0 1 168.52 341.25L164.22 341.11A65.60 65.60 0 0 0 164.25 338.82Z" fill="#fbe68c"/>
<text transform="translate(166.38 340.59) rotate(91.3)" y="1.30" font-size="3.6" font-weight="bold" fill="#111" text-anchor="middle">33</text>
<text transform="translate(175.95 339.32) rotate(90.2)" y="0.00" font-size="4.2" font-weight="normal" fill="#111" text-anchor="middle">0</text>
<text transform="translate(174.98 351.28) rotate(99.1)" y="0.00" font-size="4.2" font-weight="normal" fill="#111" text-anchor="middle">200</text>
<line x1="174.41" y1="341.43" x2="175.61" y2="341.47" stroke="#000" stroke-width="0.5"/>
<line x1="174.28" y1="344.07" x2="175.48" y2="344.15" stroke="#000" stroke-width="0.5"/>
<line x1="174.06" y1="346.71" x2="175.26" y2="346.83" stroke="#000" stroke-width="0.5"/>
<line x1="173.75" y1="349.34" x2="174.94" y2="349.50" stroke="#000" stroke-width="0.5"/>
<line x1="173.34" y1="351.95" x2="174.53" y2="352.16" stroke="#000" stroke-width="0.5"/>
<line x1="172.85" y1="354.55" x2="174.02" y2="354.80" stroke="#000" stroke-width="0.5"/>
<line x1="172.26" y1="357.13" x2="173.43" y2="357.42" stroke="#000" stroke-width="0.5"/>
<line x1="171.59" y1="359.69" x2="172.74" y2="360.02" stroke="#000" stroke-width="0.5"/>
<text transform="translate(154.21 341.18) rotate(92.2)" y="0.30" font-size="2.8" font-weight="normal" fill="#333" text-anchor="middle">2</text>
<text transform="translate(153.37 348.90) rotate(100.2)" y="0.30" font-size="2.8" font-weight="normal" fill="#333" text-anchor="middle">3</text>
<text transform="translate(187.83 351.90) rotate(98.2)" y="0.00" font-size="2.8" font-weight="bold" fill="#222" text-anchor="middle">Drug metabolism</text>
<text transform="translate(184.76 351.46) rotate(98.2)" y="0.00" font-size="2.8" font-weight="bold" fill="#222" text-anchor="middle">- cytochrome</text>
<text transform="translate(181.69 351.02) rotate(98.2)" y="0.00" font-size="2.8" font-weight="bold" fill="#222" text-anchor="middle">P450</text>
<path d="M128.93 348.42A31.70 31.70 0 0 1 124.55 357.32L119.32 353.63A25.30 25.30 0 0 0 122.82 346.53Z" fill="#8dd3c7"/>
<path d="M157.50 357.27A61.60 61.60 0 0 1 154.70 364.60L150.70 362.77A57.20 57.20 0 0 0 153.29 355.96Z" fill="#ffb6c8"/>
<path d="M154.70 364.60A61.60 61.60 0 0 1 150.08 372.96L146.40 370.54A57.20 57.20 0 0 0 150.70 362.77Z" fill="#86cbf6"/>
<path d="M170.58 361.32A75.30 75.30 0 0 1 160.18 382.46L156.59 379.92A70.90 70.90 0 0 0 166.38 360.02Z" fill="#8dd3c7"/>
<path d="M170.92 362.25A75.90 75.90 0 0 1 161.13 382.15" fill="none" stroke="#000" stroke-width="1.1"/>
<path d="M165.20 360.42A69.90 69.90 0 0 1 164.08 363.64L160.06 362.13A65.60 65.60 0 0 0 161.11 359.10Z" fill="#f9f0a8"/>
<text transform="translate(162.59 361.44) rotate(109.3)" y="1.30" font-size="3.6" font-weight="bold" fill="#111" text-anchor="middle">70</text>
<text transform="translate(172.08 363.19) rotate(108.2)" y="0.00" font-size="4.2" font-weight="normal" fill="#111" text-anchor="middle">0</text>
<text transform="translate(167.46 374.26) rotate(117.1)" y="0.00" font-size="4.2" font-weight="normal" fill="#111" text-anchor="middle">200</text>
<line x1="169.97" y1="364.73" x2="171.10" y2="365.13" stroke="#000" stroke-width="0.5"/>
<line x1="169.03" y1="367.20" x2="170.14" y2="367.65" stroke="#000" stroke-width="0.5"/>
<line x1="168.00" y1="369.64" x2="169.10" y2="370.12" stroke="#000" stroke-width="0.5"/>
<line x1="166.89" y1="372.04" x2="167.97" y2="372.56" stroke="#000" stroke-width="0.5"/>
<line x1="165.70" y1="374.40" x2="166.76" y2="374.96" stroke="#000" stroke-width="0.5"/>
<line x1="164.43" y1="376.72" x2="165.47" y2="377.32" stroke="#000" stroke-width="0.5"/>
<line x1="163.07" y1="378.99" x2="164.09" y2="379.63" stroke="#000" stroke-width="0.5"/>
<line x1="161.64" y1="381.22" x2="162.64" y2="381.88" stroke="#000" stroke-width="0.5"/>
<text transform="translate(150.61 358.84) rotate(110.9)" y="0.30" font-size="2.8" font-weight="normal" fill="#333" text-anchor="middle">5</text>
<text transform="translate(147.30 365.96) rotate(119.0)" y="0.30" font-size="2.8" font-weight="normal" fill="#333" text-anchor="middle">7</text>
<text transform="translate(176.89 377.55) rotate(116.2)" y="0.00" font-size="2.8" font-weight="bold" fill="#222" text-anchor="middle">Retinol</text>
<text transform="translate(174.11 376.18) rotate(116.2)" y="0.00" font-size="2.8" font-weight="bold" fill="#222" text-anchor="middle">metabolism</text>
<path d="M125.04 357.67A32.30 32.30 0 0 1 118.00 364.91L113.81 359.31A25.30 25.30 0 0 0 119.32 353.63Z" fill="#8dd3c7"/>
<path d="M148.99 374.56A61.60 61.60 0 0 1 145.42 379.14L142.08 376.27A57.20 57.20 0 0 0 145.39 372.02Z" fill="#ffb6c8"/>
<path d="M145.42 379.14A61.60 61.60 0 0 1 138.74 385.82L135.87 382.48A57.20 57.20 0 0 0 142.08 376.27Z" fill="#86cbf6"/>
<path d="M160.18 382.46A75.30 75.30 0 0 1 143.76 399.35L141.12 395.82A70.90 70.90 0 0 0 156.59 379.92Z" fill="#8dd3c7"/>
<path d="M160.21 383.45A75.90 75.90 0 0 1 144.75 399.35" fill="none" stroke="#000" stroke-width="1.1"/>
<path d="M155.34 379.94A69.90 69.90 0 0 1 153.73 382.08L150.34 379.44A65.60 65.60 0 0 0 151.86 377.42Z" fill="#dcefd6"/>
<text transform="translate(152.54 380.11) rotate(127.3)" y="1.30" font-size="3.6" font-weight="bold" fill="#111" text-anchor="middle">29</text>
<text transform="translate(161.03 384.70) rotate(126.2)" y="0.00" font-size="4.2" font-weight="normal" fill="#111" text-anchor="middle">0</text>
<text transform="translate(153.21 393.80) rotate(135.1)" y="0.00" font-size="4.2" font-weight="normal" fill="#111" text-anchor="middle">200</text>
<line x1="158.54" y1="385.51" x2="159.49" y2="386.24" stroke="#000" stroke-width="0.5"/>
<line x1="156.89" y1="387.57" x2="157.81" y2="388.34" stroke="#000" stroke-width="0.5"/>
<line x1="155.16" y1="389.57" x2="156.05" y2="390.37" stroke="#000" stroke-width="0.5"/>
<line x1="153.36" y1="391.51" x2="154.23" y2="392.35" stroke="#000" stroke-width="0.5"/>
<line x1="151.50" y1="393.39" x2="152.33" y2="394.25" stroke="#000" stroke-width="0.5"/>
<line x1="149.57" y1="395.20" x2="150.37" y2="396.09" stroke="#000" stroke-width="0.5"/>
<line x1="147.58" y1="396.95" x2="148.35" y2="397.86" stroke="#000" stroke-width="0.5"/>
<line x1="145.53" y1="398.62" x2="146.27" y2="399.56" stroke="#000" stroke-width="0.5"/>
<text transform="translate(142.52 373.20) rotate(127.9)" y="0.30" font-size="2.8" font-weight="normal" fill="#333" text-anchor="middle">2</text>
<text transform="translate(137.97 378.37) rotate(135.0)" y="0.30" font-size="2.8" font-weight="normal" fill="#333" text-anchor="middle">3</text>
<text transform="translate(161.16 399.84) rotate(134.2)" y="0.00" font-size="2.8" font-weight="bold" fill="#222" text-anchor="middle">Steroid hormone</text>
<text transform="translate(158.94 397.68) rotate(134.2)" y="0.00" font-size="2.8" font-weight="bold" fill="#222" text-anchor="middle">biosynthesis</text>
<path d="M117.34 364.03A31.20 31.20 0 0 1 108.70 368.59L106.80 363.00A25.30 25.30 0 0 0 113.81 359.31Z" fill="#ffffb3"/>
<path d="M135.55 388.38A61.60 61.60 0 0 1 130.19 391.96L127.94 388.18A57.20 57.20 0 0 0 132.91 384.85Z" fill="#ffb6c8"/>
<path d="M130.19 391.96A61.60 61.60 0 0 1 121.53 396.24L119.89 392.16A57.20 57.20 0 0 0 127.94 388.18Z" fill="#86cbf6"/>
<path d="M143.76 399.35A75.30 75.30 0 0 1 122.92 410.33L121.50 406.17A70.90 70.90 0 0 0 141.12 395.82Z" fill="#ffffb3"/>
<path d="M143.48 400.30A75.90 75.90 0 0 1 123.86 410.64" fill="none" stroke="#000" stroke-width="1.1"/>
<path d="M139.93 395.46A69.90 69.90 0 0 1 135.38 398.52L133.12 394.86A65.60 65.60 0 0 0 137.39 391.99Z" fill="#fbd58c"/>
<text transform="translate(136.49 395.25) rotate(146.0)" y="1.30" font-size="3.6" font-weight="bold" fill="#111" text-anchor="middle">144</text>
<text transform="translate(143.87 401.75) rotate(144.2)" y="0.00" font-size="4.2" font-weight="normal" fill="#111" text-anchor="middle">0</text>
<text transform="translate(133.62 407.99) rotate(153.1)" y="0.00" font-size="4.2" font-weight="normal" fill="#111" text-anchor="middle">200</text>
<line x1="141.26" y1="401.74" x2="141.93" y2="402.74" stroke="#000" stroke-width="0.5"/>
<line x1="139.04" y1="403.19" x2="139.68" y2="404.21" stroke="#000" stroke-width="0.5"/>
<line x1="136.78" y1="404.56" x2="137.38" y2="405.60" stroke="#000" stroke-width="0.5"/>
<line x1="134.47" y1="405.85" x2="135.04" y2="406.91" stroke="#000" stroke-width="0.5"/>
<line x1="132.12" y1="407.06" x2="132.65" y2="408.14" stroke="#000" stroke-width="0.5"/>
<line x1="129.72" y1="408.19" x2="130.21" y2="409.28" stroke="#000" stroke-width="0.5"/>
<line x1="127.29" y1="409.23" x2="127.74" y2="410.34" stroke="#000" stroke-width="0.5"/>
<line x1="124.82" y1="410.19" x2="125.24" y2="411.31" stroke="#000" stroke-width="0.5"/>
<text transform="translate(129.58 385.25) rotate(146.2)" y="0.30" font-size="2.8" font-weight="normal" fill="#333" text-anchor="middle">12</text>
<text transform="translate(123.28 388.89) rotate(153.7)" y="0.30" font-size="2.8" font-weight="normal" fill="#333" text-anchor="middle">16</text>
<text transform="translate(139.32 416.19) rotate(152.2)" y="0.00" font-size="2.8" font-weight="bold" fill="#222" text-anchor="middle">Cortisol synthesis</text>
<text transform="translate(137.87 413.44) rotate(152.2)" y="0.00" font-size="2.8" font-weight="bold" fill="#222" text-anchor="middle">and secretion</text>
<path d="M108.96 369.34A32.00 32.00 0 0 1 99.10 371.05L99.00 364.35A25.30 25.30 0 0 0 106.80 363.00Z" fill="#fb8072"/>
<path d="M118.50 397.36A61.60 61.60 0 0 1 104.88 400.33L104.43 395.96A57.20 57.20 0 0 0 117.08 393.20Z" fill="#ffb6c8"/>
<path d="M104.88 400.33A61.60 61.60 0 0 1 101.12 400.60L100.95 396.20A57.20 57.20 0 0 0 104.43 395.96Z" fill="#86cbf6"/>
<path d="M122.92 410.33A75.30 75.30 0 0 1 99.70 414.34L99.64 409.94A70.90 70.90 0 0 0 121.50 406.17Z" fill="#fb8072"/>
<path d="M122.36 411.15A75.90 75.90 0 0 1 100.50 414.93" fill="none" stroke="#000" stroke-width="1.1"/>
<path d="M120.48 405.45A69.90 69.90 0 0 1 116.98 406.50L115.85 402.36A65.60 65.60 0 0 0 119.14 401.37Z" fill="#dcefd6"/>
<text transform="translate(118.12 403.94) rotate(163.3)" y="1.30" font-size="3.6" font-weight="bold" fill="#111" text-anchor="middle">69</text>
<text transform="translate(122.28 412.65) rotate(162.2)" y="0.00" font-size="4.2" font-weight="normal" fill="#111" text-anchor="middle">0</text>
<text transform="translate(110.61 415.42) rotate(171.1)" y="0.00" font-size="4.2" font-weight="normal" fill="#111" text-anchor="middle">200</text>
<line x1="119.80" y1="411.84" x2="120.13" y2="412.99" stroke="#000" stroke-width="0.5"/>
<line x1="117.24" y1="412.53" x2="117.54" y2="413.70" stroke="#000" stroke-width="0.5"/>
<line x1="114.67" y1="413.14" x2="114.92" y2="414.31" stroke="#000" stroke-width="0.5"/>
<line x1="112.07" y1="413.65" x2="112.29" y2="414.83" stroke="#000" stroke-width="0.5"/>
<line x1="109.46" y1="414.08" x2="109.63" y2="415.26" stroke="#000" stroke-width="0.5"/>
<line x1="106.84" y1="414.41" x2="106.97" y2="415.60" stroke="#000" stroke-width="0.5"/>
<line x1="104.20" y1="414.65" x2="104.29" y2="415.84" stroke="#000" stroke-width="0.5"/>
<line x1="101.56" y1="414.79" x2="101.61" y2="415.99" stroke="#000" stroke-width="0.5"/>
<text transform="translate(110.49 393.37) rotate(167.7)" y="0.30" font-size="2.8" font-weight="normal" fill="#333" text-anchor="middle">5</text>
<text transform="translate(102.58 394.51) rotate(175.9)" y="0.30" font-size="2.8" font-weight="normal" fill="#333" text-anchor="middle">7</text>
<text transform="translate(113.49 424.98) rotate(170.2)" y="0.00" font-size="3" font-weight="bold" fill="#e8141c" text-anchor="middle">ECM-receptor</text>
<text transform="translate(112.96 421.92) rotate(170.2)" y="0.00" font-size="3" font-weight="bold" fill="#e8141c" text-anchor="middle">interaction</text>
<path d="M99.09 370.85A31.80 31.80 0 0 1 89.25 369.43L91.17 363.22A25.30 25.30 0 0 0 99.00 364.35Z" fill="#bebada"/>
<path d="M99.51 400.64A61.60 61.60 0 0 1 87.74 399.68L88.52 395.35A57.20 57.20 0 0 0 99.45 396.24Z" fill="#ffb6c8"/>
<path d="M87.74 399.68A61.60 61.60 0 0 1 81.46 398.20L82.69 393.98A57.20 57.20 0 0 0 88.52 395.35Z" fill="#86cbf6"/>
<path d="M99.70 414.34A75.30 75.30 0 0 1 76.38 410.98L77.68 406.78A70.90 70.90 0 0 0 99.64 409.94Z" fill="#bebada"/>
<path d="M98.91 414.95A75.90 75.90 0 0 1 76.97 411.79" fill="none" stroke="#000" stroke-width="1.1"/>
<path d="M98.89 408.95A69.90 69.90 0 0 1 94.63 408.83L94.87 404.54A65.60 65.60 0 0 0 98.88 404.65Z" fill="#dcefd6"/>
<text transform="translate(96.82 406.78) rotate(181.5)" y="1.30" font-size="3.6" font-weight="bold" fill="#111" text-anchor="middle">98</text>
<text transform="translate(98.38 416.35) rotate(180.2)" y="0.00" font-size="4.2" font-weight="normal" fill="#111" text-anchor="middle">0</text>
<text transform="translate(86.42 415.38) rotate(189.1)" y="0.00" font-size="4.2" font-weight="normal" fill="#111" text-anchor="middle">200</text>
<line x1="96.27" y1="414.81" x2="96.23" y2="416.01" stroke="#000" stroke-width="0.5"/>
<line x1="93.63" y1="414.68" x2="93.55" y2="415.88" stroke="#000" stroke-width="0.5"/>
<line x1="90.99" y1="414.46" x2="90.87" y2="415.66" stroke="#000" stroke-width="0.5"/>
<line x1="88.36" y1="414.15" x2="88.20" y2="415.34" stroke="#000" stroke-width="0.5"/>
<line x1="85.75" y1="413.74" x2="85.54" y2="414.93" stroke="#000" stroke-width="0.5"/>
<line x1="83.15" y1="413.25" x2="82.90" y2="414.42" stroke="#000" stroke-width="0.5"/>
<line x1="80.57" y1="412.66" x2="80.28" y2="413.83" stroke="#000" stroke-width="0.5"/>
<line x1="78.01" y1="411.99" x2="77.68" y2="413.14" stroke="#000" stroke-width="0.5"/>
<text transform="translate(94.09 394.46) rotate(184.7)" y="0.30" font-size="2.8" font-weight="normal" fill="#333" text-anchor="middle">8</text>
<text transform="translate(85.95 393.18) rotate(193.2)" y="0.30" font-size="2.8" font-weight="normal" fill="#333" text-anchor="middle">10</text>
<text transform="translate(86.21 425.36) rotate(188.2)" y="0.00" font-size="2.8" font-weight="bold" fill="#222" text-anchor="middle">Dilated</text>
<text transform="translate(86.65 422.29) rotate(188.2)" y="0.00" font-size="2.8" font-weight="bold" fill="#222" text-anchor="middle">cardiomyopathy</text>
<path d="M89.10 369.91A32.30 32.30 0 0 1 80.03 365.44L84.07 359.72A25.30 25.30 0 0 0 91.17 363.22Z" fill="#ffffb3"/>
<path d="M80.43 397.90A61.60 61.60 0 0 1 70.49 393.84L72.50 389.92A57.20 57.20 0 0 0 81.74 393.69Z" fill="#ffb6c8"/>
<path d="M70.49 393.84A61.60 61.60 0 0 1 64.92 390.59L67.33 386.91A57.20 57.20 0 0 0 72.50 389.92Z" fill="#86cbf6"/>
<path d="M76.38 410.98A75.30 75.30 0 0 1 55.24 400.58L57.78 396.99A70.90 70.90 0 0 0 77.68 406.78Z" fill="#ffffb3"/>
<path d="M75.45 411.32A75.90 75.90 0 0 1 55.55 401.53" fill="none" stroke="#000" stroke-width="1.1"/>
<path d="M77.28 405.60A69.90 69.90 0 0 1 73.26 404.18L74.82 400.17A65.60 65.60 0 0 0 78.60 401.51Z" fill="#dcefd6"/>
<text transform="translate(75.98 402.89) rotate(199.5)" y="1.30" font-size="3.6" font-weight="bold" fill="#111" text-anchor="middle">86</text>
<text transform="translate(74.51 412.48) rotate(198.2)" y="0.00" font-size="4.2" font-weight="normal" fill="#111" text-anchor="middle">0</text>
<text transform="translate(63.44 407.86) rotate(207.1)" y="0.00" font-size="4.2" font-weight="normal" fill="#111" text-anchor="middle">200</text>
<line x1="72.97" y1="410.37" x2="72.57" y2="411.50" stroke="#000" stroke-width="0.5"/>
<line x1="70.50" y1="409.43" x2="70.05" y2="410.54" stroke="#000" stroke-width="0.5"/>
<line x1="68.06" y1="408.40" x2="67.58" y2="409.50" stroke="#000" stroke-width="0.5"/>
<line x1="65.66" y1="407.29" x2="65.14" y2="408.37" stroke="#000" stroke-width="0.5"/>
<line x1="63.30" y1="406.10" x2="62.74" y2="407.16" stroke="#000" stroke-width="0.5"/>
<line x1="60.98" y1="404.83" x2="60.38" y2="405.87" stroke="#000" stroke-width="0.5"/>
<line x1="58.71" y1="403.47" x2="58.07" y2="404.49" stroke="#000" stroke-width="0.5"/>
<line x1="56.48" y1="402.04" x2="55.82" y2="403.04" stroke="#000" stroke-width="0.5"/>
<text transform="translate(77.64 390.53) rotate(202.2)" y="0.30" font-size="2.8" font-weight="normal" fill="#333" text-anchor="middle">7</text>
<text transform="translate(70.68 387.10) rotate(210.2)" y="0.30" font-size="2.8" font-weight="normal" fill="#333" text-anchor="middle">9</text>
<text transform="translate(60.15 417.29) rotate(206.2)" y="0.00" font-size="2.8" font-weight="bold" fill="#222" text-anchor="middle">Pancreatic</text>
<text transform="translate(61.52 414.51) rotate(206.2)" y="0.00" font-size="2.8" font-weight="bold" fill="#222" text-anchor="middle">secretion</text>
<path d="M80.55 364.71A31.40 31.40 0 0 1 73.51 357.86L78.39 354.21A25.30 25.30 0 0 0 84.07 359.72Z" fill="#bebada"/>
<path d="M63.14 389.39A61.60 61.60 0 0 1 54.94 382.46L58.06 379.36A57.20 57.20 0 0 0 65.68 385.79Z" fill="#ffb6c8"/>
<path d="M54.94 382.46A61.60 61.60 0 0 1 51.32 378.48L54.70 375.66A57.20 57.20 0 0 0 58.06 379.36Z" fill="#86cbf6"/>
<path d="M55.24 400.58A75.30 75.30 0 0 1 38.35 384.16L41.88 381.52A70.90 70.90 0 0 0 57.78 396.99Z" fill="#bebada"/>
<path d="M54.25 400.61A75.90 75.90 0 0 1 38.35 385.15" fill="none" stroke="#000" stroke-width="1.1"/>
<path d="M57.76 395.74A69.90 69.90 0 0 1 54.38 393.14L57.10 389.81A65.60 65.60 0 0 0 60.28 392.26Z" fill="#dcefd6"/>
<text transform="translate(57.36 392.76) rotate(217.5)" y="1.30" font-size="3.6" font-weight="bold" fill="#111" text-anchor="middle">96</text>
<text transform="translate(53.00 401.43) rotate(216.2)" y="0.00" font-size="4.2" font-weight="normal" fill="#111" text-anchor="middle">0</text>
<text transform="translate(43.90 393.61) rotate(225.1)" y="0.00" font-size="4.2" font-weight="normal" fill="#111" text-anchor="middle">200</text>
<line x1="52.19" y1="398.94" x2="51.46" y2="399.89" stroke="#000" stroke-width="0.5"/>
<line x1="50.13" y1="397.29" x2="49.36" y2="398.21" stroke="#000" stroke-width="0.5"/>
<line x1="48.13" y1="395.56" x2="47.33" y2="396.45" stroke="#000" stroke-width="0.5"/>
<line x1="46.19" y1="393.76" x2="45.35" y2="394.63" stroke="#000" stroke-width="0.5"/>
<line x1="44.31" y1="391.90" x2="43.45" y2="392.73" stroke="#000" stroke-width="0.5"/>
<line x1="42.50" y1="389.97" x2="41.61" y2="390.77" stroke="#000" stroke-width="0.5"/>
<line x1="40.75" y1="387.98" x2="39.84" y2="388.75" stroke="#000" stroke-width="0.5"/>
<line x1="39.08" y1="385.93" x2="38.14" y2="386.67" stroke="#000" stroke-width="0.5"/>
<text transform="translate(62.76 381.52) rotate(220.2)" y="0.30" font-size="2.8" font-weight="normal" fill="#333" text-anchor="middle">8</text>
<text transform="translate(57.53 376.47) rotate(227.7)" y="0.30" font-size="2.8" font-weight="normal" fill="#333" text-anchor="middle">10</text>
<text transform="translate(37.86 401.56) rotate(224.2)" y="0.00" font-size="2.8" font-weight="bold" fill="#222" text-anchor="middle">Hypertrophic</text>
<text transform="translate(40.02 399.34) rotate(224.2)" y="0.00" font-size="2.8" font-weight="bold" fill="#222" text-anchor="middle">cardiomyopathy</text>
<path d="M74.39 357.20A30.30 30.30 0 0 1 69.97 348.81L74.70 347.20A25.30 25.30 0 0 0 78.39 354.21Z" fill="#fb8072"/>
<path d="M49.32 375.95A61.60 61.60 0 0 1 44.16 367.78L48.05 365.73A57.20 57.20 0 0 0 52.85 373.31Z" fill="#ffb6c8"/>
<path d="M44.16 367.78A61.60 61.60 0 0 1 41.06 360.92L45.18 359.36A57.20 57.20 0 0 0 48.05 365.73Z" fill="#86cbf6"/>
<path d="M38.35 384.16A75.30 75.30 0 0 1 27.37 363.32L31.53 361.90A70.90 70.90 0 0 0 41.88 381.52Z" fill="#fb8072"/>
<path d="M37.40 383.88A75.90 75.90 0 0 1 27.06 364.26" fill="none" stroke="#000" stroke-width="1.1"/>
<path d="M42.24 380.33A69.90 69.90 0 0 1 33.93 365.46L37.91 363.84A65.60 65.60 0 0 0 45.71 377.79Z" fill="#ea7038"/>
<text transform="translate(39.51 372.10) rotate(240.8)" y="1.30" font-size="3.6" font-weight="bold" fill="#111" text-anchor="middle">288</text>
<text transform="translate(35.95 384.27) rotate(234.2)" y="0.00" font-size="4.2" font-weight="normal" fill="#111" text-anchor="middle">0</text>
<text transform="translate(29.71 374.02) rotate(243.1)" y="0.00" font-size="4.2" font-weight="normal" fill="#111" text-anchor="middle">200</text>
<line x1="35.96" y1="381.66" x2="34.96" y2="382.33" stroke="#000" stroke-width="0.5"/>
<line x1="34.51" y1="379.44" x2="33.49" y2="380.08" stroke="#000" stroke-width="0.5"/>
<line x1="33.14" y1="377.18" x2="32.10" y2="377.78" stroke="#000" stroke-width="0.5"/>
<line x1="31.85" y1="374.87" x2="30.79" y2="375.44" stroke="#000" stroke-width="0.5"/>
<line x1="30.64" y1="372.52" x2="29.56" y2="373.05" stroke="#000" stroke-width="0.5"/>
<line x1="29.51" y1="370.12" x2="28.42" y2="370.61" stroke="#000" stroke-width="0.5"/>
<line x1="28.47" y1="367.69" x2="27.36" y2="368.14" stroke="#000" stroke-width="0.5"/>
<line x1="27.51" y1="365.22" x2="26.39" y2="365.64" stroke="#000" stroke-width="0.5"/>
<text transform="translate(51.65 368.76) rotate(237.7)" y="0.30" font-size="2.8" font-weight="normal" fill="#333" text-anchor="middle">24</text>
<text transform="translate(47.98 361.93) rotate(245.7)" y="0.30" font-size="2.8" font-weight="normal" fill="#333" text-anchor="middle">32</text>
<text transform="translate(21.51 379.72) rotate(242.2)" y="0.00" font-size="2.8" font-weight="bold" fill="#222" text-anchor="middle">Cytokine-cytokine</text>
<text transform="translate(24.26 378.27) rotate(242.2)" y="0.00" font-size="2.8" font-weight="bold" fill="#222" text-anchor="middle">receptor interaction</text>
<path d="M69.59 348.94A30.70 30.70 0 0 1 67.95 339.48L73.35 339.40A25.30 25.30 0 0 0 74.70 347.20Z" fill="#bebada"/>
<path d="M40.34 358.90A61.60 61.60 0 0 1 37.95 349.53L42.28 348.79A57.20 57.20 0 0 0 44.50 357.48Z" fill="#ffb6c8"/>
<path d="M37.95 349.53A61.60 61.60 0 0 1 37.12 342.06L41.52 341.84A57.20 57.20 0 0 0 42.28 348.79Z" fill="#86cbf6"/>
<path d="M27.37 363.32A75.30 75.30 0 0 1 23.36 340.10L27.76 340.04A70.90 70.90 0 0 0 31.53 361.90Z" fill="#bebada"/>
<path d="M26.55 362.76A75.90 75.90 0 0 1 22.77 340.90" fill="none" stroke="#000" stroke-width="1.1"/>
<path d="M32.25 360.88A69.90 69.90 0 0 1 30.60 355.01L34.78 354.03A65.60 65.60 0 0 0 36.33 359.54Z" fill="#fbe9a0"/>
<text transform="translate(33.43 357.38) rotate(254.3)" y="1.30" font-size="3.6" font-weight="bold" fill="#111" text-anchor="middle">145</text>
<text transform="translate(25.05 362.68) rotate(252.2)" y="0.00" font-size="4.2" font-weight="normal" fill="#111" text-anchor="middle">0</text>
<text transform="translate(22.28 351.01) rotate(261.1)" y="0.00" font-size="4.2" font-weight="normal" fill="#111" text-anchor="middle">200</text>
<line x1="25.86" y1="360.20" x2="24.71" y2="360.53" stroke="#000" stroke-width="0.5"/>
<line x1="25.17" y1="357.64" x2="24.00" y2="357.94" stroke="#000" stroke-width="0.5"/>
<line x1="24.56" y1="355.07" x2="23.39" y2="355.32" stroke="#000" stroke-width="0.5"/>
<line x1="24.05" y1="352.47" x2="22.87" y2="352.69" stroke="#000" stroke-width="0.5"/>
<line x1="23.62" y1="349.86" x2="22.44" y2="350.03" stroke="#000" stroke-width="0.5"/>
<line x1="23.29" y1="347.24" x2="22.10" y2="347.37" stroke="#000" stroke-width="0.5"/>
<line x1="23.05" y1="344.60" x2="21.86" y2="344.69" stroke="#000" stroke-width="0.5"/>
<line x1="22.91" y1="341.96" x2="21.71" y2="342.01" stroke="#000" stroke-width="0.5"/>
<text transform="translate(44.77 352.78) rotate(255.7)" y="0.30" font-size="2.8" font-weight="normal" fill="#333" text-anchor="middle">12</text>
<text transform="translate(43.39 345.15) rotate(263.7)" y="0.30" font-size="2.8" font-weight="normal" fill="#333" text-anchor="middle">16</text>
<text transform="translate(9.86 354.39) rotate(260.2)" y="0.00" font-size="2.8" font-weight="bold" fill="#222" text-anchor="middle">Arrhythmogenic right</text>
<text transform="translate(12.92 353.86) rotate(260.2)" y="0.00" font-size="2.8" font-weight="bold" fill="#222" text-anchor="middle">ventricular</text>
<text transform="translate(15.97 353.33) rotate(260.2)" y="0.00" font-size="2.8" font-weight="bold" fill="#222" text-anchor="middle">cardiomyopathy</text>
<path d="M67.75 339.48A30.90 30.90 0 0 1 69.13 329.91L74.48 331.57A25.30 25.30 0 0 0 73.35 339.40Z" fill="#80b1d3"/>
<path d="M37.06 339.91A61.60 61.60 0 0 1 38.44 326.03L42.74 326.96A57.20 57.20 0 0 0 41.46 339.85Z" fill="#ffb6c8"/>
<path d="M38.44 326.03A61.60 61.60 0 0 1 39.20 322.90L43.45 324.05A57.20 57.20 0 0 0 42.74 326.96Z" fill="#86cbf6"/>
<path d="M23.36 340.10A75.30 75.30 0 0 1 26.72 316.78L30.92 318.08A70.90 70.90 0 0 0 27.76 340.04Z" fill="#80b1d3"/>
<path d="M22.75 339.31A75.90 75.90 0 0 1 25.91 317.37" fill="none" stroke="#000" stroke-width="1.1"/>
<path d="M28.75 339.29A69.90 69.90 0 0 1 29.00 333.20L33.28 333.56A65.60 65.60 0 0 0 33.05 339.28Z" fill="#dcefd6"/>
<text transform="translate(30.95 336.33) rotate(272.3)" y="1.30" font-size="3.6" font-weight="bold" fill="#111" text-anchor="middle">143</text>
<text transform="translate(21.35 338.78) rotate(270.2)" y="0.00" font-size="4.2" font-weight="normal" fill="#111" text-anchor="middle">0</text>
<text transform="translate(22.32 326.82) rotate(279.1)" y="0.00" font-size="4.2" font-weight="normal" fill="#111" text-anchor="middle">200</text>
<line x1="22.89" y1="336.67" x2="21.69" y2="336.63" stroke="#000" stroke-width="0.5"/>
<line x1="23.02" y1="334.03" x2="21.82" y2="333.95" stroke="#000" stroke-width="0.5"/>
<line x1="23.24" y1="331.39" x2="22.04" y2="331.27" stroke="#000" stroke-width="0.5"/>
<line x1="23.55" y1="328.76" x2="22.36" y2="328.60" stroke="#000" stroke-width="0.5"/>
<line x1="23.96" y1="326.15" x2="22.77" y2="325.94" stroke="#000" stroke-width="0.5"/>
<line x1="24.45" y1="323.55" x2="23.28" y2="323.30" stroke="#000" stroke-width="0.5"/>
<line x1="25.04" y1="320.97" x2="23.87" y2="320.68" stroke="#000" stroke-width="0.5"/>
<line x1="25.71" y1="318.41" x2="24.56" y2="318.08" stroke="#000" stroke-width="0.5"/>
<text transform="translate(43.32 333.53) rotate(275.7)" y="0.30" font-size="2.8" font-weight="normal" fill="#333" text-anchor="middle">11</text>
<text transform="translate(44.63 325.88) rotate(283.7)" y="0.30" font-size="2.8" font-weight="normal" fill="#333" text-anchor="middle">15</text>
<text transform="translate(6.60 325.79) rotate(278.2)" y="0.00" font-size="2.8" font-weight="bold" fill="#222" text-anchor="middle">Signaling</text>
<text transform="translate(9.67 326.23) rotate(278.2)" y="0.00" font-size="2.8" font-weight="bold" fill="#222" text-anchor="middle">pathways</text>
<text transform="translate(12.74 326.67) rotate(278.2)" y="0.00" font-size="2.8" font-weight="bold" fill="#222" text-anchor="middle">regulating</text>
<text transform="translate(15.81 327.11) rotate(278.2)" y="0.00" font-size="2.8" font-weight="bold" fill="#222" text-anchor="middle">pluripotency</text>
<path d="M68.65 329.76A31.40 31.40 0 0 1 72.99 320.95L77.98 324.47A25.30 25.30 0 0 0 74.48 331.57Z" fill="#ffffb3"/>
<path d="M39.80 320.83A61.60 61.60 0 0 1 43.86 310.89L47.78 312.90A57.20 57.20 0 0 0 44.01 322.14Z" fill="#ffb6c8"/>
<path d="M43.86 310.89A61.60 61.60 0 0 1 46.52 306.22L50.25 308.57A57.20 57.20 0 0 0 47.78 312.90Z" fill="#86cbf6"/>
<path d="M26.72 316.78A75.30 75.30 0 0 1 37.12 295.64L40.71 298.18A70.90 70.90 0 0 0 30.92 318.08Z" fill="#ffffb3"/>
<path d="M26.38 315.85A75.90 75.90 0 0 1 36.17 295.95" fill="none" stroke="#000" stroke-width="1.1"/>
<path d="M32.10 317.68A69.90 69.90 0 0 1 33.98 312.53L37.96 314.16A65.60 65.60 0 0 0 36.19 319.00Z" fill="#c8e4f2"/>
<text transform="translate(35.01 315.82) rotate(290.1)" y="1.30" font-size="3.6" font-weight="bold" fill="#111" text-anchor="middle">113</text>
<text transform="translate(25.22 314.91) rotate(288.2)" y="0.00" font-size="4.2" font-weight="normal" fill="#111" text-anchor="middle">0</text>
<text transform="translate(29.84 303.84) rotate(297.1)" y="0.00" font-size="4.2" font-weight="normal" fill="#111" text-anchor="middle">200</text>
<line x1="27.33" y1="313.37" x2="26.20" y2="312.97" stroke="#000" stroke-width="0.5"/>
<line x1="28.27" y1="310.90" x2="27.16" y2="310.45" stroke="#000" stroke-width="0.5"/>
<line x1="29.30" y1="308.46" x2="28.20" y2="307.98" stroke="#000" stroke-width="0.5"/>
<line x1="30.41" y1="306.06" x2="29.33" y2="305.54" stroke="#000" stroke-width="0.5"/>
<line x1="31.60" y1="303.70" x2="30.54" y2="303.14" stroke="#000" stroke-width="0.5"/>
<line x1="32.87" y1="301.38" x2="31.83" y2="300.78" stroke="#000" stroke-width="0.5"/>
<line x1="34.23" y1="299.11" x2="33.21" y2="298.47" stroke="#000" stroke-width="0.5"/>
<line x1="35.66" y1="296.88" x2="34.66" y2="296.22" stroke="#000" stroke-width="0.5"/>
<text transform="translate(47.17 318.04) rotate(292.2)" y="0.30" font-size="2.8" font-weight="normal" fill="#333" text-anchor="middle">9</text>
<text transform="translate(50.35 311.50) rotate(299.7)" y="0.30" font-size="2.8" font-weight="normal" fill="#333" text-anchor="middle">12</text>
<text transform="translate(20.41 300.55) rotate(296.2)" y="0.00" font-size="2.8" font-weight="bold" fill="#222" text-anchor="middle">Cholesterol</text>
<text transform="translate(23.19 301.92) rotate(296.2)" y="0.00" font-size="2.8" font-weight="bold" fill="#222" text-anchor="middle">metabolism</text>
<path d="M72.34 320.49A32.20 32.20 0 0 1 79.36 313.27L83.49 318.79A25.30 25.30 0 0 0 77.98 324.47Z" fill="#fb8072"/>
<path d="M48.31 303.54A61.60 61.60 0 0 1 54.49 296.10L57.64 299.17A57.20 57.20 0 0 0 51.91 306.08Z" fill="#ffb6c8"/>
<path d="M54.49 296.10A61.60 61.60 0 0 1 58.40 292.42L61.27 295.75A57.20 57.20 0 0 0 57.64 299.17Z" fill="#86cbf6"/>
<path d="M37.12 295.64A75.30 75.30 0 0 1 53.54 278.75L56.18 282.28A70.90 70.90 0 0 0 40.71 298.18Z" fill="#fb8072"/>
<path d="M37.09 294.65A75.90 75.90 0 0 1 52.55 278.75" fill="none" stroke="#000" stroke-width="1.1"/>
<path d="M41.96 298.16A69.90 69.90 0 0 1 46.14 292.92L49.37 295.75A65.60 65.60 0 0 0 45.44 300.68Z" fill="#eef2c4"/>
<text transform="translate(45.67 296.83) rotate(308.6)" y="1.30" font-size="3.6" font-weight="bold" fill="#111" text-anchor="middle">147</text>
<text transform="translate(36.27 293.40) rotate(306.2)" y="0.00" font-size="4.2" font-weight="normal" fill="#111" text-anchor="middle">0</text>
<text transform="translate(44.09 284.30) rotate(315.1)" y="0.00" font-size="4.2" font-weight="normal" fill="#111" text-anchor="middle">200</text>
<line x1="38.76" y1="292.59" x2="37.81" y2="291.86" stroke="#000" stroke-width="0.5"/>
<line x1="40.41" y1="290.53" x2="39.49" y2="289.76" stroke="#000" stroke-width="0.5"/>
<line x1="42.14" y1="288.53" x2="41.25" y2="287.73" stroke="#000" stroke-width="0.5"/>
<line x1="43.94" y1="286.59" x2="43.07" y2="285.75" stroke="#000" stroke-width="0.5"/>
<line x1="45.80" y1="284.71" x2="44.97" y2="283.85" stroke="#000" stroke-width="0.5"/>
<line x1="47.73" y1="282.90" x2="46.93" y2="282.01" stroke="#000" stroke-width="0.5"/>
<line x1="49.72" y1="281.15" x2="48.95" y2="280.24" stroke="#000" stroke-width="0.5"/>
<line x1="51.77" y1="279.48" x2="51.03" y2="278.54" stroke="#000" stroke-width="0.5"/>
<text transform="translate(55.87 303.53) rotate(309.7)" y="0.30" font-size="2.8" font-weight="normal" fill="#333" text-anchor="middle">12</text>
<text transform="translate(60.52 298.59) rotate(316.7)" y="0.30" font-size="2.8" font-weight="normal" fill="#333" text-anchor="middle">16</text>
<text transform="translate(36.14 278.26) rotate(314.2)" y="0.00" font-size="2.8" font-weight="bold" fill="#222" text-anchor="middle">Hippo signaling</text>
<text transform="translate(38.36 280.42) rotate(314.2)" y="0.00" font-size="2.8" font-weight="bold" fill="#222" text-anchor="middle">pathway</text>
<path d="M79.84 313.91A31.40 31.40 0 0 1 88.53 309.33L90.50 315.10A25.30 25.30 0 0 0 83.49 318.79Z" fill="#fb8072"/>
<path d="M61.75 289.72A61.60 61.60 0 0 1 70.88 284.07L72.86 287.99A57.20 57.20 0 0 0 64.39 293.25Z" fill="#ffb6c8"/>
<path d="M70.88 284.07A61.60 61.60 0 0 1 75.77 281.86L77.41 285.94A57.20 57.20 0 0 0 72.86 287.99Z" fill="#86cbf6"/>
<path d="M53.54 278.75A75.30 75.30 0 0 1 74.38 267.77L75.80 271.93A70.90 70.90 0 0 0 56.18 282.28Z" fill="#fb8072"/>
<path d="M53.82 277.80A75.90 75.90 0 0 1 73.44 267.46" fill="none" stroke="#000" stroke-width="1.1"/>
<path d="M57.37 282.64A69.90 69.90 0 0 1 75.66 273.04L77.08 277.10A65.60 65.60 0 0 0 59.91 286.11Z" fill="#d6ecd2"/>
<text transform="translate(67.16 279.06) rotate(332.3)" y="1.30" font-size="3.6" font-weight="bold" fill="#111" text-anchor="middle">339</text>
<text transform="translate(53.43 276.35) rotate(324.2)" y="0.00" font-size="4.2" font-weight="normal" fill="#111" text-anchor="middle">0</text>
<text transform="translate(63.68 270.11) rotate(333.1)" y="0.00" font-size="4.2" font-weight="normal" fill="#111" text-anchor="middle">200</text>
<line x1="56.04" y1="276.36" x2="55.37" y2="275.36" stroke="#000" stroke-width="0.5"/>
<line x1="58.26" y1="274.91" x2="57.62" y2="273.89" stroke="#000" stroke-width="0.5"/>
<line x1="60.52" y1="273.54" x2="59.92" y2="272.50" stroke="#000" stroke-width="0.5"/>
<line x1="62.83" y1="272.25" x2="62.26" y2="271.19" stroke="#000" stroke-width="0.5"/>
<line x1="65.18" y1="271.04" x2="64.65" y2="269.96" stroke="#000" stroke-width="0.5"/>
<line x1="67.58" y1="269.91" x2="67.09" y2="268.82" stroke="#000" stroke-width="0.5"/>
<line x1="70.01" y1="268.87" x2="69.56" y2="267.76" stroke="#000" stroke-width="0.5"/>
<line x1="72.48" y1="267.91" x2="72.06" y2="266.79" stroke="#000" stroke-width="0.5"/>
<text transform="translate(69.35 291.80) rotate(328.2)" y="0.30" font-size="2.8" font-weight="normal" fill="#333" text-anchor="middle">28</text>
<text transform="translate(75.77 288.38) rotate(335.7)" y="0.30" font-size="2.8" font-weight="normal" fill="#333" text-anchor="middle">37</text>
<text transform="translate(57.98 261.91) rotate(332.2)" y="0.00" font-size="2.8" font-weight="bold" fill="#222" text-anchor="middle">PI3K-Akt signaling</text>
<text transform="translate(59.43 264.66) rotate(332.2)" y="0.00" font-size="2.8" font-weight="bold" fill="#222" text-anchor="middle">pathway</text>
<path d="M88.95 310.56A30.10 30.10 0 0 1 98.23 308.95L98.30 313.75A25.30 25.30 0 0 0 90.50 315.10Z" fill="#fb8072"/>
<path d="M78.80 280.74A61.60 61.60 0 0 1 94.03 277.62L94.36 282.01A57.20 57.20 0 0 0 80.22 284.90Z" fill="#ffb6c8"/>
<path d="M94.03 277.62A61.60 61.60 0 0 1 95.64 277.52L95.86 281.92A57.20 57.20 0 0 0 94.36 282.01Z" fill="#86cbf6"/>
<path d="M74.38 267.77A75.30 75.30 0 0 1 97.60 263.76L97.66 268.16A70.90 70.90 0 0 0 75.80 271.93Z" fill="#fb8072"/>
<path d="M74.94 266.95A75.90 75.90 0 0 1 96.80 263.17" fill="none" stroke="#000" stroke-width="1.1"/>
<path d="M76.82 272.65A69.90 69.90 0 0 1 83.28 270.86L84.23 275.05A65.60 65.60 0 0 0 78.16 276.73Z" fill="#2f5f9e"/>
<text transform="translate(80.60 273.75) rotate(344.6)" y="1.30" font-size="3.6" font-weight="bold" fill="#fff" text-anchor="middle">108</text>
<text transform="translate(75.02 265.45) rotate(342.2)" y="0.00" font-size="4.2" font-weight="normal" fill="#111" text-anchor="middle">0</text>
<text transform="translate(86.69 262.68) rotate(351.1)" y="0.00" font-size="4.2" font-weight="normal" fill="#111" text-anchor="middle">200</text>
<line x1="77.50" y1="266.26" x2="77.17" y2="265.11" stroke="#000" stroke-width="0.5"/>
<line x1="80.06" y1="265.57" x2="79.76" y2="264.40" stroke="#000" stroke-width="0.5"/>
<line x1="82.63" y1="264.96" x2="82.38" y2="263.79" stroke="#000" stroke-width="0.5"/>
<line x1="85.23" y1="264.45" x2="85.01" y2="263.27" stroke="#000" stroke-width="0.5"/>
<line x1="87.84" y1="264.02" x2="87.67" y2="262.84" stroke="#000" stroke-width="0.5"/>
<line x1="90.46" y1="263.69" x2="90.33" y2="262.50" stroke="#000" stroke-width="0.5"/>
<line x1="93.10" y1="263.45" x2="93.01" y2="262.26" stroke="#000" stroke-width="0.5"/>
<line x1="95.74" y1="263.31" x2="95.69" y2="262.11" stroke="#000" stroke-width="0.5"/>
<text transform="translate(87.52 284.58) rotate(348.4)" y="0.30" font-size="2.8" font-weight="normal" fill="#333" text-anchor="middle">9</text>
<text transform="translate(95.21 283.56) rotate(356.4)" y="0.30" font-size="2.8" font-weight="normal" fill="#333" text-anchor="middle">12</text>
<text transform="translate(83.81 253.12) rotate(350.2)" y="0.00" font-size="3" font-weight="bold" fill="#e8141c" text-anchor="middle">TGF-beta signaling</text>
<text transform="translate(84.34 256.18) rotate(350.2)" y="0.00" font-size="3" font-weight="bold" fill="#e8141c" text-anchor="middle">pathway</text>
<line x1="98.30" y1="313.95" x2="97.78" y2="276.56" stroke="#fff" stroke-width="1.5"/>
<line x1="97.66" y1="268.26" x2="97.58" y2="262.46" stroke="#fff" stroke-width="1.6"/>
<line x1="106.07" y1="315.07" x2="117.13" y2="279.35" stroke="#fff" stroke-width="1.5"/>
<line x1="119.59" y1="271.42" x2="121.30" y2="265.88" stroke="#fff" stroke-width="1.6"/>
<line x1="113.12" y1="318.54" x2="134.68" y2="287.98" stroke="#fff" stroke-width="1.5"/>
<line x1="139.46" y1="281.20" x2="142.80" y2="276.46" stroke="#fff" stroke-width="1.6"/>
<line x1="118.75" y1="324.01" x2="148.70" y2="301.61" stroke="#fff" stroke-width="1.5"/>
<line x1="155.34" y1="296.64" x2="159.99" y2="293.16" stroke="#fff" stroke-width="1.6"/>
<line x1="122.41" y1="330.96" x2="157.82" y2="318.91" stroke="#fff" stroke-width="1.5"/>
<line x1="165.67" y1="316.23" x2="171.16" y2="314.36" stroke="#fff" stroke-width="1.6"/>
<line x1="123.75" y1="338.70" x2="161.14" y2="338.18" stroke="#fff" stroke-width="1.5"/>
<line x1="169.44" y1="338.06" x2="175.24" y2="337.98" stroke="#fff" stroke-width="1.6"/>
<line x1="122.63" y1="346.47" x2="158.35" y2="357.53" stroke="#fff" stroke-width="1.5"/>
<line x1="166.28" y1="359.99" x2="171.82" y2="361.70" stroke="#fff" stroke-width="1.6"/>
<line x1="119.16" y1="353.52" x2="149.72" y2="375.08" stroke="#fff" stroke-width="1.5"/>
<line x1="156.50" y1="379.86" x2="161.24" y2="383.20" stroke="#fff" stroke-width="1.6"/>
<line x1="113.69" y1="359.15" x2="136.09" y2="389.10" stroke="#fff" stroke-width="1.5"/>
<line x1="141.06" y1="395.74" x2="144.54" y2="400.39" stroke="#fff" stroke-width="1.6"/>
<line x1="106.74" y1="362.81" x2="118.79" y2="398.22" stroke="#fff" stroke-width="1.5"/>
<line x1="121.47" y1="406.07" x2="123.34" y2="411.56" stroke="#fff" stroke-width="1.6"/>
<line x1="99.00" y1="364.15" x2="99.52" y2="401.54" stroke="#fff" stroke-width="1.5"/>
<line x1="99.64" y1="409.84" x2="99.72" y2="415.64" stroke="#fff" stroke-width="1.6"/>
<line x1="91.23" y1="363.03" x2="80.17" y2="398.75" stroke="#fff" stroke-width="1.5"/>
<line x1="77.71" y1="406.68" x2="76.00" y2="412.22" stroke="#fff" stroke-width="1.6"/>
<line x1="84.18" y1="359.56" x2="62.62" y2="390.12" stroke="#fff" stroke-width="1.5"/>
<line x1="57.84" y1="396.90" x2="54.50" y2="401.64" stroke="#fff" stroke-width="1.6"/>
<line x1="78.55" y1="354.09" x2="48.60" y2="376.49" stroke="#fff" stroke-width="1.5"/>
<line x1="41.96" y1="381.46" x2="37.31" y2="384.94" stroke="#fff" stroke-width="1.6"/>
<line x1="74.89" y1="347.14" x2="39.48" y2="359.19" stroke="#fff" stroke-width="1.5"/>
<line x1="31.63" y1="361.87" x2="26.14" y2="363.74" stroke="#fff" stroke-width="1.6"/>
<line x1="73.55" y1="339.40" x2="36.16" y2="339.92" stroke="#fff" stroke-width="1.5"/>
<line x1="27.86" y1="340.04" x2="22.06" y2="340.12" stroke="#fff" stroke-width="1.6"/>
<line x1="74.67" y1="331.63" x2="38.95" y2="320.57" stroke="#fff" stroke-width="1.5"/>
<line x1="31.02" y1="318.11" x2="25.48" y2="316.40" stroke="#fff" stroke-width="1.6"/>
<line x1="78.14" y1="324.58" x2="47.58" y2="303.02" stroke="#fff" stroke-width="1.5"/>
<line x1="40.80" y1="298.24" x2="36.06" y2="294.90" stroke="#fff" stroke-width="1.6"/>
<line x1="83.61" y1="318.95" x2="61.21" y2="289.00" stroke="#fff" stroke-width="1.5"/>
<line x1="56.24" y1="282.36" x2="52.76" y2="277.71" stroke="#fff" stroke-width="1.6"/>
<line x1="90.56" y1="315.29" x2="78.51" y2="279.88" stroke="#fff" stroke-width="1.5"/>
<line x1="75.83" y1="272.03" x2="73.96" y2="266.54" stroke="#fff" stroke-width="1.6"/>
<rect x="83.1" y="325.6" width="10.9" height="4.5" fill="#cfcfcf"/>
<text x="88.5" y="329.2" font-size="3.6" font-weight="bold" fill="#111" text-anchor="middle" >100</text>
<rect x="83.1" y="333.3" width="10.9" height="4.5" fill="#ffb6c8"/>
<rect x="83.1" y="341.0" width="10.9" height="4.5" fill="#86cbf6"/>
<path d="M83.1 349.2L94 348.1L94 352.6L83.1 352.6Z" fill="#b4b4b4"/>
<text x="95.3" y="328.6" font-size="3.2" font-weight="normal" fill="#333" text-anchor="start" >Number of Genes</text>
<text x="95.3" y="336.3" font-size="3.2" font-weight="normal" fill="#333" text-anchor="start" >Up-regulated</text>
<text x="95.3" y="344" font-size="3.2" font-weight="normal" fill="#333" text-anchor="start" >Down-regulated</text>
<text x="95.3" y="351.6" font-size="3.2" font-weight="normal" fill="#333" text-anchor="start" >RichFactor (0~1)</text>
<rect x="199.1" y="316.5" width="4.8" height="4.8" fill="#8dd3c7"/>
<text x="206.8" y="320.3" font-size="4.05" font-weight="bold" fill="#222" text-anchor="start" >Metabolism</text>
<rect x="199.1" y="323.1" width="4.8" height="4.8" fill="#ffffb3"/>
<text x="206.8" y="326.9" font-size="4.05" font-weight="bold" fill="#222" text-anchor="start" >Organismal Systems</text>
<rect x="199.1" y="329.6" width="4.8" height="4.8" fill="#bebada"/>
<text x="206.8" y="333.4" font-size="4.05" font-weight="bold" fill="#222" text-anchor="start" >Human Diseases</text>
<rect x="199.1" y="335.7" width="4.8" height="4.8" fill="#fb8072"/>
<text x="206.8" y="339.5" font-size="4.05" font-weight="bold" fill="#222" text-anchor="start" >Environmental Information Processing</text>
<rect x="199.1" y="341.8" width="4.8" height="4.8" fill="#80b1d3"/>
<text x="206.8" y="345.6" font-size="4.05" font-weight="bold" fill="#222" text-anchor="start" >Cellular Processes</text>
<text x="199" y="358.3" font-size="4.05" font-weight="bold" fill="#222">-log<tspan font-size="2.7" dy="1">10</tspan><tspan dy="-1"> p-value</tspan></text>
<defs><linearGradient id="rdylbu" x1="0" y1="0" x2="0" y2="1"><stop offset="0" stop-color="#a50026"/><stop offset="0.12" stop-color="#d73027"/><stop offset="0.25" stop-color="#f46d43"/><stop offset="0.37" stop-color="#fdae61"/><stop offset="0.5" stop-color="#fee090"/><stop offset="0.62" stop-color="#ffffbf"/><stop offset="0.7" stop-color="#e0f3f8"/><stop offset="0.8" stop-color="#abd9e9"/><stop offset="0.88" stop-color="#74add1"/><stop offset="0.95" stop-color="#4575b4"/><stop offset="1" stop-color="#313695"/></linearGradient></defs>
<rect x="198.5" y="361.7" width="5.4" height="36.3" fill="url(#rdylbu)"/>
<line x1="198.5" y1="364.2" x2="199.6" y2="364.2" stroke="#fff" stroke-width="0.6"/>
<line x1="202.8" y1="364.2" x2="203.9" y2="364.2" stroke="#fff" stroke-width="0.6"/>
<text x="207.4" y="366.9" font-size="4.05" font-weight="bold" fill="#222" text-anchor="start" >6</text>
<line x1="198.5" y1="374.40000000000003" x2="199.6" y2="374.40000000000003" stroke="#fff" stroke-width="0.6"/>
<line x1="202.8" y1="374.40000000000003" x2="203.9" y2="374.40000000000003" stroke="#fff" stroke-width="0.6"/>
<text x="207.4" y="377.1" font-size="4.05" font-weight="bold" fill="#222" text-anchor="start" >4</text>
<line x1="198.5" y1="385.7" x2="199.6" y2="385.7" stroke="#fff" stroke-width="0.6"/>
<line x1="202.8" y1="385.7" x2="203.9" y2="385.7" stroke="#fff" stroke-width="0.6"/>
<text x="207.4" y="388.4" font-size="4.05" font-weight="bold" fill="#222" text-anchor="start" >2</text>
<line x1="198.5" y1="396.8" x2="199.6" y2="396.8" stroke="#fff" stroke-width="0.6"/>
<line x1="202.8" y1="396.8" x2="203.9" y2="396.8" stroke="#fff" stroke-width="0.6"/>
<text x="207.4" y="399.5" font-size="4.05" font-weight="bold" fill="#222" text-anchor="start" >0</text>
<text x="271.61" y="253.79" font-size="25.5" font-weight="bold" fill="#231815" text-anchor="start" >D</text>
<text x="486.51" y="253.29" font-size="25.5" font-weight="bold" fill="#231815" text-anchor="start" >E</text>
<text x="0.96" y="456.79" font-size="25.5" font-weight="bold" fill="#231815" text-anchor="start" >F</text>
<text x="391.7" y="262" font-size="6.8" font-weight="bold" fill="#111" text-anchor="middle" >TGF-beta signaling pathway (hsa04350)</text>
<polyline points="309.1,328.9 309.7,322.5 310.2,311.3 311.0,309.7 311.6,311.5 312.3,303.3 313.0,301.7 313.9,296.9 315.0,292.1 315.8,289.6 317.4,286.4 318.5,285.8 320.6,284.0 321.9,280.5 323.8,282.4 325.5,283.8 327.1,284.8 327.9,280.8 329.5,279.5 331.1,277.6 332.5,278.2 334.3,276.8 336.5,275.8 338.3,274.1 340.7,272.8 343.1,274.2 351.1,280.8 360.7,288.8 367.1,292.9 378.3,301.7 384.7,306.5 395.0,316.9 404.0,324.1 412.1,330.5 421.7,337.7 425.0,338.0 428.1,338.5 431.3,337.7 435.3,338.5 437.5,339.5 439.3,340.9 441.5,339.5 444.1,338.5 445.7,336.6 448.0,337.8 450.5,338.5 452.5,339.2 454.5,339.8 456.9,338.5 457.7,333.7 459.0,333.0 460.1,332.1 460.9,327.3 462.5,324.1 464.5,325.8 466.5,327.3 468.9,330.0 469.7,326.5 471.7,328.1" fill="none" stroke="#0e9a0e" stroke-width="2.0" stroke-linejoin="round"/>
<line x1="307.3" y1="328.1" x2="473.2" y2="328.1" stroke="#9a9a9a" stroke-width="0.9"/>
<path d="M308.1 272.5H340V328.1" fill="none" stroke="#0e9a0e" stroke-width="1.5" stroke-dasharray="3.4 1.8"/>
<text x="331.5" y="276.4" font-size="6.7" font-weight="normal" fill="#000" text-anchor="start" stroke="#000" stroke-width="0.25">ES: 0.354</text>
<text x="327.9" y="338.5" font-size="5.4" font-weight="bold" fill="#222" text-anchor="start" >NES: 1.39, p: 0.036, FDR:0.282</text>
<text x="303" y="277.5" font-size="4.1" font-weight="bold" fill="#1a1a1a" text-anchor="end" >0.3</text>
<text x="303" y="292.8" font-size="4.1" font-weight="bold" fill="#1a1a1a" text-anchor="end" >0.2</text>
<text x="303" y="308.8" font-size="4.1" font-weight="bold" fill="#1a1a1a" text-anchor="end" >0.1</text>
<text x="303" y="324" font-size="4.1" font-weight="bold" fill="#1a1a1a" text-anchor="end" >0.0</text>
<text x="303" y="338.4" font-size="4.1" font-weight="bold" fill="#1a1a1a" text-anchor="end" >-0.1</text>
<text x="303.7" y="372.6" font-size="4.1" font-weight="bold" fill="#1a1a1a" text-anchor="end" >5.0</text>
<text x="303.7" y="383.8" font-size="4.1" font-weight="bold" fill="#1a1a1a" text-anchor="end" >2.5</text>
<text x="303.7" y="394.8" font-size="4.1" font-weight="bold" fill="#1a1a1a" text-anchor="end" >0.0</text>
<text x="303.7" y="405.3" font-size="4.1" font-weight="bold" fill="#1a1a1a" text-anchor="end" >-2.5</text>
<text x="303.7" y="415.5" font-size="4.1" font-weight="bold" fill="#1a1a1a" text-anchor="end" >-5.0</text>
<text transform="translate(292.6 306.85) rotate(-90)" font-size="3.8" font-weight="bold" fill="#111" text-anchor="middle">Enrichment score (ES)</text>
<text transform="translate(288.7 398.3) rotate(-90)" font-size="3.8" font-weight="bold" fill="#111" text-anchor="middle">Ranked Metric</text>
<text transform="translate(292.6 398.3) rotate(-90)" font-size="3.8" font-weight="bold" fill="#111" text-anchor="middle">(signal_to_noise)</text>
<g stroke="#000" stroke-width="1.05">
<line x1="308.1" y1="345.5" x2="308.1" y2="364.1" stroke-opacity="0.90"/>
<line x1="309.1" y1="345.5" x2="309.1" y2="364.1" stroke-opacity="0.90"/>
<line x1="310.6" y1="345.5" x2="310.6" y2="364.1" stroke-opacity="0.90"/>
<line x1="311.8" y1="345.5" x2="311.8" y2="364.1" stroke-opacity="0.90"/>
<line x1="313.4" y1="345.5" x2="313.4" y2="364.1" stroke-opacity="0.90"/>
<line x1="314.3" y1="345.5" x2="314.3" y2="364.1" stroke-opacity="0.90"/>
<line x1="316.2" y1="345.5" x2="316.2" y2="364.1" stroke-opacity="0.90"/>
<line x1="317.4" y1="345.5" x2="317.4" y2="364.1" stroke-opacity="0.90"/>
<line x1="319.6" y1="345.5" x2="319.6" y2="364.1" stroke-opacity="0.90"/>
<line x1="320.9" y1="345.5" x2="320.9" y2="364.1" stroke-opacity="0.90"/>
<line x1="326.7" y1="345.5" x2="326.7" y2="364.1" stroke-opacity="0.90"/>
<line x1="328.0" y1="345.5" x2="328.0" y2="364.1" stroke-opacity="0.90"/>
<line x1="329.2" y1="345.5" x2="329.2" y2="364.1" stroke-opacity="0.90"/>
<line x1="331.1" y1="345.5" x2="331.1" y2="364.1" stroke-opacity="0.90"/>
<line x1="332.5" y1="345.5" x2="332.5" y2="364.1" stroke-opacity="0.90"/>
<line x1="334.8" y1="345.5" x2="334.8" y2="364.1" stroke-opacity="0.90"/>
<line x1="336.6" y1="345.5" x2="336.6" y2="364.1" stroke-opacity="0.90"/>
<line x1="337.5" y1="345.5" x2="337.5" y2="364.1" stroke-opacity="0.90"/>
<line x1="338.5" y1="345.5" x2="338.5" y2="364.1" stroke-opacity="0.90"/>
<line x1="340.4" y1="345.5" x2="340.4" y2="364.1" stroke-opacity="0.90"/>
<line x1="341.4" y1="345.5" x2="341.4" y2="364.1" stroke-opacity="0.90"/>
<line x1="342.8" y1="345.5" x2="342.8" y2="364.1" stroke-opacity="0.90"/>
<line x1="344.5" y1="345.5" x2="344.5" y2="364.1" stroke-opacity="0.90"/>
<line x1="350.9" y1="345.5" x2="350.9" y2="364.1" stroke-opacity="0.90"/>
<line x1="362.7" y1="345.5" x2="362.7" y2="364.1" stroke-opacity="0.90"/>
<line x1="365.5" y1="345.5" x2="365.5" y2="364.1" stroke-opacity="0.90"/>
<line x1="367.0" y1="345.5" x2="367.0" y2="364.1" stroke-opacity="0.90"/>
<line x1="368.3" y1="345.5" x2="368.3" y2="364.1" stroke-opacity="0.90"/>
<line x1="369.5" y1="345.5" x2="369.5" y2="364.1" stroke-opacity="0.90"/>
<line x1="371.4" y1="345.5" x2="371.4" y2="364.1" stroke-opacity="0.90"/>
<line x1="372.6" y1="345.5" x2="372.6" y2="364.1" stroke-opacity="0.90"/>
<line x1="374.5" y1="345.5" x2="374.5" y2="364.1" stroke-opacity="0.90"/>
<line x1="376.3" y1="345.5" x2="376.3" y2="364.1" stroke-opacity="0.90"/>
<line x1="377.6" y1="345.5" x2="377.6" y2="364.1" stroke-opacity="0.90"/>
<line x1="379.4" y1="345.5" x2="379.4" y2="364.1" stroke-opacity="0.90"/>
<line x1="382.5" y1="345.5" x2="382.5" y2="364.1" stroke-opacity="0.90"/>
<line x1="384.4" y1="345.5" x2="384.4" y2="364.1" stroke-opacity="0.90"/>
<line x1="386.3" y1="345.5" x2="386.3" y2="364.1" stroke-opacity="0.90"/>
<line x1="387.9" y1="345.5" x2="387.9" y2="364.1" stroke-opacity="0.90"/>
<line x1="389.4" y1="345.5" x2="389.4" y2="364.1" stroke-opacity="0.90"/>
<line x1="393.1" y1="345.5" x2="393.1" y2="364.1" stroke-opacity="0.90"/>
<line x1="394.1" y1="345.5" x2="394.1" y2="364.1" stroke-opacity="0.90"/>
<line x1="395.6" y1="345.5" x2="395.6" y2="364.1" stroke-opacity="0.90"/>
<line x1="397.9" y1="345.5" x2="397.9" y2="364.1" stroke-opacity="0.90"/>
<line x1="403.2" y1="345.5" x2="403.2" y2="364.1" stroke-opacity="0.90"/>
<line x1="405.1" y1="345.5" x2="405.1" y2="364.1" stroke-opacity="0.90"/>
<line x1="406.4" y1="345.5" x2="406.4" y2="364.1" stroke-opacity="0.90"/>
<line x1="407.7" y1="345.5" x2="407.7" y2="364.1" stroke-opacity="0.90"/>
<line x1="410.2" y1="345.5" x2="410.2" y2="364.1" stroke-opacity="0.90"/>
<line x1="412.1" y1="345.5" x2="412.1" y2="364.1" stroke-opacity="0.90"/>
<line x1="413.4" y1="345.5" x2="413.4" y2="364.1" stroke-opacity="0.90"/>
<line x1="414.7" y1="345.5" x2="414.7" y2="364.1" stroke-opacity="0.90"/>
<line x1="422.3" y1="345.5" x2="422.3" y2="364.1" stroke-opacity="0.90"/>
<line x1="424.2" y1="345.5" x2="424.2" y2="364.1" stroke-opacity="0.90"/>
<line x1="426.1" y1="345.5" x2="426.1" y2="364.1" stroke-opacity="0.90"/>
<line x1="427.4" y1="345.5" x2="427.4" y2="364.1" stroke-opacity="0.90"/>
<line x1="428.6" y1="345.5" x2="428.6" y2="364.1" stroke-opacity="0.90"/>
<line x1="429.9" y1="345.5" x2="429.9" y2="364.1" stroke-opacity="0.90"/>
<line x1="431.8" y1="345.5" x2="431.8" y2="364.1" stroke-opacity="0.90"/>
<line x1="433.1" y1="345.5" x2="433.1" y2="364.1" stroke-opacity="0.90"/>
<line x1="434.4" y1="345.5" x2="434.4" y2="364.1" stroke-opacity="0.90"/>
<line x1="439.4" y1="345.5" x2="439.4" y2="364.1" stroke-opacity="0.90"/>
<line x1="440.7" y1="345.5" x2="440.7" y2="364.1" stroke-opacity="0.90"/>
<line x1="442.0" y1="345.5" x2="442.0" y2="364.1" stroke-opacity="0.90"/>
<line x1="443.2" y1="345.5" x2="443.2" y2="364.1" stroke-opacity="0.90"/>
<line x1="444.5" y1="345.5" x2="444.5" y2="364.1" stroke-opacity="0.90"/>
<line x1="446.4" y1="345.5" x2="446.4" y2="364.1" stroke-opacity="0.90"/>
<line x1="449.0" y1="345.5" x2="449.0" y2="364.1" stroke-opacity="0.90"/>
<line x1="450.9" y1="345.5" x2="450.9" y2="364.1" stroke-opacity="0.90"/>
<line x1="454.0" y1="345.5" x2="454.0" y2="364.1" stroke-opacity="0.90"/>
<line x1="455.9" y1="345.5" x2="455.9" y2="364.1" stroke-opacity="0.90"/>
<line x1="457.8" y1="345.5" x2="457.8" y2="364.1" stroke-opacity="0.90"/>
<line x1="459.1" y1="345.5" x2="459.1" y2="364.1" stroke-opacity="0.90"/>
<line x1="460.4" y1="345.5" x2="460.4" y2="364.1" stroke-opacity="0.90"/>
<line x1="461.7" y1="345.5" x2="461.7" y2="364.1" stroke-opacity="0.90"/>
<line x1="462.9" y1="345.5" x2="462.9" y2="364.1" stroke-opacity="0.90"/>
<line x1="469.3" y1="345.5" x2="469.3" y2="364.1" stroke-opacity="0.90"/>
</g>
<line x1="307.3" y1="345.5" x2="473.2" y2="345.5" stroke="#222" stroke-width="1.1"/>
<line x1="307.3" y1="364.1" x2="473.2" y2="364.1" stroke="#222" stroke-width="1.1"/>
<defs><linearGradient id="rbd" x1="0" y1="0" x2="1" y2="0"><stop offset="0" stop-color="#f00"/><stop offset="0.05" stop-color="#ff2a2a"/><stop offset="0.18" stop-color="#ff8c8c"/><stop offset="0.33" stop-color="#ffcece"/><stop offset="0.5" stop-color="#fff"/><stop offset="0.66" stop-color="#dedeff"/><stop offset="0.8" stop-color="#b8b8ff"/><stop offset="0.92" stop-color="#7878ff"/><stop offset="1" stop-color="#0000f0"/></linearGradient></defs>
<rect x="308.5" y="364.8" width="163.3" height="8.8" fill="url(#rbd)"/>
<path d="M308.5 396.9L308.5 375.4L309.9 382.8L311.2 386.0L312.6 387.9L313.9 388.6L315.3 389.2L316.7 389.9L318.0 390.3L319.4 390.6L320.7 391.0L322.1 391.3L323.5 391.6L324.8 391.8L326.2 392.0L327.6 392.2L328.9 392.3L330.3 392.5L331.6 392.7L333.0 392.9L334.4 393.1L335.7 393.2L337.1 393.4L338.4 393.5L339.8 393.6L341.2 393.7L342.5 393.8L343.9 393.9L345.2 394.0L346.6 394.1L348.0 394.2L349.3 394.3L350.7 394.5L352.0 394.6L353.4 394.7L354.8 394.8L356.1 394.9L357.5 395.0L358.9 395.1L360.2 395.1L361.6 395.2L362.9 395.3L364.3 395.3L365.7 395.4L367.0 395.5L368.4 395.6L369.7 395.6L371.1 395.7L372.5 395.8L373.8 395.8L375.2 395.9L376.5 396.0L377.9 396.0L379.3 396.1L380.6 396.2L382.0 396.3L383.3 396.3L384.7 396.4L386.1 396.5L387.4 396.6L388.8 396.6L390.1 396.7L391.5 396.8L392.9 396.9L394.2 397.0L395.6 397.0L397.0 397.1L398.3 397.2L399.7 397.3L401.0 397.4L402.4 397.5L403.8 397.6L405.1 397.7L406.5 397.8L407.8 397.9L409.2 398.0L410.6 398.1L411.9 398.2L413.3 398.3L414.6 398.3L416.0 398.4L417.4 398.5L418.7 398.6L420.1 398.7L421.4 398.8L422.8 398.9L424.2 399.0L425.5 399.1L426.9 399.2L428.3 399.3L429.6 399.4L431.0 399.5L432.3 399.6L433.7 399.7L435.1 399.8L436.4 399.9L437.8 400.1L439.1 400.2L440.5 400.3L441.9 400.4L443.2 400.5L444.6 400.6L445.9 400.7L447.3 400.9L448.7 401.1L450.0 401.3L451.4 401.4L452.7 401.6L454.1 401.8L455.5 402.0L456.8 402.2L458.2 402.3L459.6 402.7L460.9 403.2L462.3 403.6L463.6 404.1L465.0 405.0L466.4 406.4L467.7 407.9L469.1 411.2L470.4 414.8L471.8 419.4L471.8 396.9Z" fill="#c4c4c4"/>
<line x1="393.4" y1="374.40000000000003" x2="393.4" y2="421.0" stroke="#777" stroke-width="0.6" stroke-dasharray="1.6 1.2"/>
<text x="317.8" y="385.8" font-size="5.6" font-weight="bold" fill="#e8141c" text-anchor="start" >WT</text>
<text x="455.9" y="415.6" font-size="5.4" font-weight="bold" fill="#2a2aa0" text-anchor="start" >KO</text>
<text x="367.5" y="405.7" font-size="5.45" font-weight="bold" fill="#111" text-anchor="start" >Zero score at 11419</text>
<rect x="307.3" y="268.8" width="165.9" height="152.2" fill="none" stroke="#222" stroke-width="1.5"/>
<line x1="307.3" y1="344.9" x2="473.2" y2="344.9" stroke="#222" stroke-width="1.3"/>
<text x="595.6" y="260.3" font-size="6.8" font-weight="bold" fill="#111" text-anchor="middle" >ECM-receptor interacion (hsa04512)</text>
<polyline points="516.8,333.5 517.6,325.5 518.4,312.7 519.2,307.9 520.0,301.5 520.8,300.7 521.6,295.0 522.4,291.9 523.2,285.4 524.0,283.8 525.6,283.8 527.2,279.0 528.8,278.2 531.2,276.6 532.9,274.2 534.5,275.0 536.1,273.4 538.5,271.0 541.7,271.8 543.3,271.8 546.5,274.2 551.3,277.4 554.5,276.6 562.5,283.0 564.1,280.6 568.9,283.0 576.9,287.0 583.3,291.1 588.1,293.5 596.2,299.9 601.0,303.1 612.2,311.1 618.7,315.1 626.7,320.7 634.7,325.5 639.5,327.9 644.3,327.9 647.5,329.0 650.7,331.1 654.7,334.3 657.1,332.7 659.5,333.5 663.5,336.7 668.3,337.5 672.3,340.7 673.9,337.5 676.3,339.1 677.9,335.9 681.2,338.3 682.6,332.7" fill="none" stroke="#0e9a0e" stroke-width="2.0" stroke-linejoin="round"/>
<line x1="515.2" y1="333.5" x2="684.0" y2="333.5" stroke="#9a9a9a" stroke-width="0.9"/>
<path d="M516 270.5H538.5V333.5" fill="none" stroke="#0e9a0e" stroke-width="1.5" stroke-dasharray="3.4 1.8"/>
<text x="540" y="273.9" font-size="6.7" font-weight="normal" fill="#000" text-anchor="start" stroke="#000" stroke-width="0.25">ES: 0.492</text>
<text x="537.7" y="339" font-size="5.4" font-weight="bold" fill="#222" text-anchor="start" >NES: 1.86, p<0.001, FDR:0.017</text>
<text x="509.3" y="272.5" font-size="4.1" font-weight="bold" fill="#1a1a1a" text-anchor="end" >0.5</text>
<text x="509.3" y="286.1" font-size="4.1" font-weight="bold" fill="#1a1a1a" text-anchor="end" >0.4</text>
<text x="509.3" y="299" font-size="4.1" font-weight="bold" fill="#1a1a1a" text-anchor="end" >0.3</text>
<text x="509.3" y="311.8" font-size="4.1" font-weight="bold" fill="#1a1a1a" text-anchor="end" >0.2</text>
<text x="509.3" y="322.5" font-size="4.1" font-weight="bold" fill="#1a1a1a" text-anchor="end" >0.1</text>
<text x="509.3" y="335" font-size="4.1" font-weight="bold" fill="#1a1a1a" text-anchor="end" >0.0</text>
<text x="510.9" y="378" font-size="4.1" font-weight="bold" fill="#1a1a1a" text-anchor="end" >5.0</text>
<text x="510.9" y="388.9" font-size="4.1" font-weight="bold" fill="#1a1a1a" text-anchor="end" >2.5</text>
<text x="510.9" y="399.9" font-size="4.1" font-weight="bold" fill="#1a1a1a" text-anchor="end" >0.0</text>
<text x="510.9" y="410.8" font-size="4.1" font-weight="bold" fill="#1a1a1a" text-anchor="end" >-2.5</text>
<text x="510.9" y="421.5" font-size="4.1" font-weight="bold" fill="#1a1a1a" text-anchor="end" >-5.0</text>
<text transform="translate(499.5 305.15) rotate(-90)" font-size="3.8" font-weight="bold" fill="#111" text-anchor="middle">Enrichment score (ES)</text>
<text transform="translate(495.6 398.7) rotate(-90)" font-size="3.8" font-weight="bold" fill="#111" text-anchor="middle">Ranked Metric</text>
<text transform="translate(499.5 398.7) rotate(-90)" font-size="3.8" font-weight="bold" fill="#111" text-anchor="middle">(signal_to_noise)</text>
<g stroke="#000" stroke-width="1.05">
<line x1="516.6" y1="344.4" x2="516.6" y2="363.4" stroke-opacity="0.90"/>
<line x1="517.8" y1="344.4" x2="517.8" y2="363.4" stroke-opacity="0.90"/>
<line x1="519.1" y1="344.4" x2="519.1" y2="363.4" stroke-opacity="0.90"/>
<line x1="520.4" y1="344.4" x2="520.4" y2="363.4" stroke-opacity="0.90"/>
<line x1="521.6" y1="344.4" x2="521.6" y2="363.4" stroke-opacity="0.90"/>
<line x1="522.9" y1="344.4" x2="522.9" y2="363.4" stroke-opacity="0.90"/>
<line x1="524.2" y1="344.4" x2="524.2" y2="363.4" stroke-opacity="0.90"/>
<line x1="525.7" y1="344.4" x2="525.7" y2="363.4" stroke-opacity="0.90"/>
<line x1="527.0" y1="344.4" x2="527.0" y2="363.4" stroke-opacity="0.90"/>
<line x1="528.9" y1="344.4" x2="528.9" y2="363.4" stroke-opacity="0.90"/>
<line x1="530.1" y1="344.4" x2="530.1" y2="363.4" stroke-opacity="0.90"/>
<line x1="531.4" y1="344.4" x2="531.4" y2="363.4" stroke-opacity="0.90"/>
<line x1="533.3" y1="344.4" x2="533.3" y2="363.4" stroke-opacity="0.90"/>
<line x1="536.5" y1="344.4" x2="536.5" y2="363.4" stroke-opacity="0.90"/>
<line x1="537.8" y1="344.4" x2="537.8" y2="363.4" stroke-opacity="0.90"/>
<line x1="539.0" y1="344.4" x2="539.0" y2="363.4" stroke-opacity="0.90"/>
<line x1="540.3" y1="344.4" x2="540.3" y2="363.4" stroke-opacity="0.90"/>
<line x1="543.5" y1="344.4" x2="543.5" y2="363.4" stroke-opacity="0.90"/>
<line x1="552.4" y1="344.4" x2="552.4" y2="363.4" stroke-opacity="0.90"/>
<line x1="563.2" y1="344.4" x2="563.2" y2="363.4" stroke-opacity="0.90"/>
<line x1="564.4" y1="344.4" x2="564.4" y2="363.4" stroke-opacity="0.90"/>
<line x1="566.3" y1="344.4" x2="566.3" y2="363.4" stroke-opacity="0.90"/>
<line x1="567.6" y1="344.4" x2="567.6" y2="363.4" stroke-opacity="0.90"/>
<line x1="568.9" y1="344.4" x2="568.9" y2="363.4" stroke-opacity="0.90"/>
<line x1="572.7" y1="344.4" x2="572.7" y2="363.4" stroke-opacity="0.90"/>
<line x1="575.2" y1="344.4" x2="575.2" y2="363.4" stroke-opacity="0.90"/>
<line x1="576.5" y1="344.4" x2="576.5" y2="363.4" stroke-opacity="0.90"/>
<line x1="577.8" y1="344.4" x2="577.8" y2="363.4" stroke-opacity="0.90"/>
<line x1="582.8" y1="344.4" x2="582.8" y2="363.4" stroke-opacity="0.90"/>
<line x1="584.1" y1="344.4" x2="584.1" y2="363.4" stroke-opacity="0.90"/>
<line x1="585.4" y1="344.4" x2="585.4" y2="363.4" stroke-opacity="0.90"/>
<line x1="586.7" y1="344.4" x2="586.7" y2="363.4" stroke-opacity="0.90"/>
<line x1="587.9" y1="344.4" x2="587.9" y2="363.4" stroke-opacity="0.90"/>
<line x1="593.0" y1="344.4" x2="593.0" y2="363.4" stroke-opacity="0.90"/>
<line x1="594.3" y1="344.4" x2="594.3" y2="363.4" stroke-opacity="0.90"/>
<line x1="598.6" y1="344.4" x2="598.6" y2="363.4" stroke-opacity="0.90"/>
<line x1="604.4" y1="344.4" x2="604.4" y2="363.4" stroke-opacity="0.90"/>
<line x1="613.9" y1="344.4" x2="613.9" y2="363.4" stroke-opacity="0.90"/>
<line x1="615.8" y1="344.4" x2="615.8" y2="363.4" stroke-opacity="0.90"/>
<line x1="618.1" y1="344.4" x2="618.1" y2="363.4" stroke-opacity="0.90"/>
<line x1="628.5" y1="344.4" x2="628.5" y2="363.4" stroke-opacity="0.90"/>
<line x1="631.3" y1="344.4" x2="631.3" y2="363.4" stroke-opacity="0.90"/>
<line x1="633.6" y1="344.4" x2="633.6" y2="363.4" stroke-opacity="0.90"/>
<line x1="635.5" y1="344.4" x2="635.5" y2="363.4" stroke-opacity="0.90"/>
<line x1="636.7" y1="344.4" x2="636.7" y2="363.4" stroke-opacity="0.90"/>
<line x1="638.4" y1="344.4" x2="638.4" y2="363.4" stroke-opacity="0.90"/>
<line x1="639.9" y1="344.4" x2="639.9" y2="363.4" stroke-opacity="0.90"/>
<line x1="641.2" y1="344.4" x2="641.2" y2="363.4" stroke-opacity="0.90"/>
<line x1="642.4" y1="344.4" x2="642.4" y2="363.4" stroke-opacity="0.90"/>
<line x1="644.4" y1="344.4" x2="644.4" y2="363.4" stroke-opacity="0.90"/>
<line x1="646.0" y1="344.4" x2="646.0" y2="363.4" stroke-opacity="0.90"/>
<line x1="655.8" y1="344.4" x2="655.8" y2="363.4" stroke-opacity="0.90"/>
<line x1="657.7" y1="344.4" x2="657.7" y2="363.4" stroke-opacity="0.90"/>
<line x1="659.6" y1="344.4" x2="659.6" y2="363.4" stroke-opacity="0.90"/>
<line x1="662.8" y1="344.4" x2="662.8" y2="363.4" stroke-opacity="0.90"/>
<line x1="666.6" y1="344.4" x2="666.6" y2="363.4" stroke-opacity="0.90"/>
<line x1="669.1" y1="344.4" x2="669.1" y2="363.4" stroke-opacity="0.90"/>
<line x1="672.9" y1="344.4" x2="672.9" y2="363.4" stroke-opacity="0.90"/>
<line x1="674.8" y1="344.4" x2="674.8" y2="363.4" stroke-opacity="0.90"/>
<line x1="678.0" y1="344.4" x2="678.0" y2="363.4" stroke-opacity="0.90"/>
</g>
<line x1="515.2" y1="344.4" x2="684.0" y2="344.4" stroke="#222" stroke-width="1.1"/>
<line x1="515.2" y1="363.4" x2="684.0" y2="363.4" stroke="#222" stroke-width="1.1"/>
<defs><linearGradient id="rbe" x1="0" y1="0" x2="1" y2="0"><stop offset="0" stop-color="#f00"/><stop offset="0.05" stop-color="#ff2a2a"/><stop offset="0.18" stop-color="#ff8c8c"/><stop offset="0.33" stop-color="#ffcece"/><stop offset="0.5" stop-color="#fff"/><stop offset="0.66" stop-color="#dedeff"/><stop offset="0.8" stop-color="#b8b8ff"/><stop offset="0.92" stop-color="#7878ff"/><stop offset="1" stop-color="#0000f0"/></linearGradient></defs>
<rect x="516.4" y="364.5" width="166.2" height="9.1" fill="url(#rbe)"/>
<path d="M516.4 397.7L516.4 376.2L517.8 383.6L519.2 386.8L520.6 388.7L521.9 389.4L523.3 390.0L524.7 390.7L526.1 391.1L527.5 391.4L528.9 391.8L530.3 392.1L531.6 392.4L533.0 392.6L534.4 392.8L535.8 393.0L537.2 393.1L538.6 393.3L539.9 393.5L541.3 393.7L542.7 393.9L544.1 394.0L545.5 394.2L546.9 394.3L548.3 394.4L549.6 394.5L551.0 394.6L552.4 394.7L553.8 394.8L555.2 394.9L556.6 395.0L558.0 395.1L559.3 395.3L560.7 395.4L562.1 395.5L563.5 395.6L564.9 395.7L566.3 395.8L567.6 395.9L569.0 395.9L570.4 396.0L571.8 396.1L573.2 396.1L574.6 396.2L576.0 396.3L577.3 396.4L578.7 396.4L580.1 396.5L581.5 396.6L582.9 396.6L584.3 396.7L585.7 396.8L587.0 396.8L588.4 396.9L589.8 397.0L591.2 397.1L592.6 397.1L594.0 397.2L595.3 397.3L596.7 397.4L598.1 397.4L599.5 397.5L600.9 397.6L602.3 397.7L603.7 397.8L605.0 397.8L606.4 397.9L607.8 398.0L609.2 398.1L610.6 398.2L612.0 398.3L613.4 398.4L614.7 398.5L616.1 398.6L617.5 398.7L618.9 398.8L620.3 398.9L621.7 399.0L623.0 399.1L624.4 399.1L625.8 399.2L627.2 399.3L628.6 399.4L630.0 399.5L631.4 399.6L632.7 399.7L634.1 399.8L635.5 399.9L636.9 400.0L638.3 400.1L639.7 400.2L641.1 400.3L642.4 400.4L643.8 400.5L645.2 400.6L646.6 400.7L648.0 400.9L649.4 401.0L650.7 401.1L652.1 401.2L653.5 401.3L654.9 401.4L656.3 401.5L657.7 401.7L659.1 401.9L660.4 402.1L661.8 402.2L663.2 402.4L664.6 402.6L666.0 402.8L667.4 403.0L668.8 403.1L670.1 403.5L671.5 404.0L672.9 404.4L674.3 404.9L675.7 405.8L677.1 407.2L678.4 408.7L679.8 412.0L681.2 415.6L682.6 420.2L682.6 397.7Z" fill="#c4c4c4"/>
<line x1="602.5" y1="374.40000000000003" x2="602.5" y2="421.8" stroke="#777" stroke-width="0.6" stroke-dasharray="1.6 1.2"/>
<text x="527.2" y="385.8" font-size="5.6" font-weight="bold" fill="#e8141c" text-anchor="start" >WT</text>
<text x="668.2" y="416.1" font-size="5.4" font-weight="bold" fill="#2a2aa0" text-anchor="start" >KO</text>
<text x="574.7" y="405.7" font-size="5.45" font-weight="bold" fill="#111" text-anchor="start" >Zero score at 11419</text>
<rect x="515.2" y="266.7" width="168.8" height="155.1" fill="none" stroke="#222" stroke-width="1.5"/>
<line x1="515.2" y1="343.6" x2="684.0" y2="343.6" stroke="#222" stroke-width="1.3"/>
<text x="119.8" y="463.8" font-size="6.8" font-weight="bold" fill="#111" text-anchor="middle" >Collagen formation (R-HSA-1474290)</text>
<polyline points="37.4,538.3 38.2,525.5 39.0,515.9 39.8,507.9 40.6,504.7 42.2,501.5 43.0,493.5 44.6,492.7 46.3,493.5 47.9,492.7 49.5,487.9 51.1,488.7 52.7,482.2 54.3,479.8 56.7,478.2 58.3,477.4 59.9,475.5 62.3,475.8 64.7,478.2 67.9,480.2 71.1,479.0 74.3,480.6 78.3,483.8 81.5,487.0 83.1,484.6 85.5,485.4 91.9,487.9 98.3,491.1 106.3,495.9 110.0,497.5 118.0,502.3 126.0,508.7 134.0,514.3 138.8,516.7 145.3,521.5 150.1,523.9 156.5,527.9 161.3,528.7 167.7,533.5 174.9,538.3 177.3,536.7 183.7,541.5 186.1,535.9 193.3,540.7 194.9,539.1 199.4,543.1 199.9,537.5" fill="none" stroke="#0e9a0e" stroke-width="2.0" stroke-linejoin="round"/>
<line x1="35.5" y1="538.0" x2="201.0" y2="538.0" stroke="#9a9a9a" stroke-width="0.9"/>
<path d="M36.3 475H59.4V538" fill="none" stroke="#0e9a0e" stroke-width="1.5" stroke-dasharray="3.4 1.8"/>
<text x="51.5" y="478.7" font-size="6.7" font-weight="normal" fill="#000" text-anchor="start" stroke="#000" stroke-width="0.25">ES: 0.519</text>
<text x="48.7" y="540" font-size="5.4" font-weight="bold" fill="#222" text-anchor="start" >NES: 2.0, p<0.001, FDR:0.012</text>
<text x="32.3" y="477.8" font-size="4.1" font-weight="bold" fill="#1a1a1a" text-anchor="end" >0.5</text>
<text x="32.3" y="488.5" font-size="4.1" font-weight="bold" fill="#1a1a1a" text-anchor="end" >0.4</text>
<text x="32.3" y="499.5" font-size="4.1" font-weight="bold" fill="#1a1a1a" text-anchor="end" >0.3</text>
<text x="32.3" y="510.2" font-size="4.1" font-weight="bold" fill="#1a1a1a" text-anchor="end" >0.2</text>
<text x="32.3" y="520.9" font-size="4.1" font-weight="bold" fill="#1a1a1a" text-anchor="end" >0.1</text>
<text x="32.3" y="531.5" font-size="4.1" font-weight="bold" fill="#1a1a1a" text-anchor="end" >0.0</text>
<text x="32.3" y="542.7" font-size="4.1" font-weight="bold" fill="#1a1a1a" text-anchor="end" >-0.1</text>
<text x="32.3" y="576.5" font-size="4.1" font-weight="bold" fill="#1a1a1a" text-anchor="end" >5.0</text>
<text x="32.3" y="587.5" font-size="4.1" font-weight="bold" fill="#1a1a1a" text-anchor="end" >2.5</text>
<text x="32.3" y="598.7" font-size="4.1" font-weight="bold" fill="#1a1a1a" text-anchor="end" >0.0</text>
<text x="32.3" y="608.9" font-size="4.1" font-weight="bold" fill="#1a1a1a" text-anchor="end" >-2.5</text>
<text x="32.3" y="620.3" font-size="4.1" font-weight="bold" fill="#1a1a1a" text-anchor="end" >-5.0</text>
<text transform="translate(20.9 509.05) rotate(-90)" font-size="3.8" font-weight="bold" fill="#111" text-anchor="middle">Enrichment score (ES)</text>
<text transform="translate(17 600.5) rotate(-90)" font-size="3.8" font-weight="bold" fill="#111" text-anchor="middle">Ranked Metric</text>
<text transform="translate(20.9 600.5) rotate(-90)" font-size="3.8" font-weight="bold" fill="#111" text-anchor="middle">(signal_to_noise)</text>
<g stroke="#000" stroke-width="1.05">
<line x1="37.4" y1="547.3" x2="37.4" y2="566.3" stroke-opacity="0.90"/>
<line x1="38.1" y1="547.3" x2="38.1" y2="566.3" stroke-opacity="0.90"/>
<line x1="38.7" y1="547.3" x2="38.7" y2="566.3" stroke-opacity="0.90"/>
<line x1="40.0" y1="547.3" x2="40.0" y2="566.3" stroke-opacity="0.90"/>
<line x1="41.3" y1="547.3" x2="41.3" y2="566.3" stroke-opacity="0.90"/>
<line x1="42.5" y1="547.3" x2="42.5" y2="566.3" stroke-opacity="0.90"/>
<line x1="43.8" y1="547.3" x2="43.8" y2="566.3" stroke-opacity="0.90"/>
<line x1="45.1" y1="547.3" x2="45.1" y2="566.3" stroke-opacity="0.90"/>
<line x1="47.0" y1="547.3" x2="47.0" y2="566.3" stroke-opacity="0.90"/>
<line x1="48.2" y1="547.3" x2="48.2" y2="566.3" stroke-opacity="0.90"/>
<line x1="50.1" y1="547.3" x2="50.1" y2="566.3" stroke-opacity="0.90"/>
<line x1="51.4" y1="547.3" x2="51.4" y2="566.3" stroke-opacity="0.90"/>
<line x1="52.7" y1="547.3" x2="52.7" y2="566.3" stroke-opacity="0.90"/>
<line x1="54.0" y1="547.3" x2="54.0" y2="566.3" stroke-opacity="0.90"/>
<line x1="55.2" y1="547.3" x2="55.2" y2="566.3" stroke-opacity="0.90"/>
<line x1="56.5" y1="547.3" x2="56.5" y2="566.3" stroke-opacity="0.90"/>
<line x1="58.4" y1="547.3" x2="58.4" y2="566.3" stroke-opacity="0.90"/>
<line x1="59.7" y1="547.3" x2="59.7" y2="566.3" stroke-opacity="0.90"/>
<line x1="64.1" y1="547.3" x2="64.1" y2="566.3" stroke-opacity="0.90"/>
<line x1="68.3" y1="547.3" x2="68.3" y2="566.3" stroke-opacity="0.90"/>
<line x1="69.8" y1="547.3" x2="69.8" y2="566.3" stroke-opacity="0.90"/>
<line x1="71.7" y1="547.3" x2="71.7" y2="566.3" stroke-opacity="0.90"/>
<line x1="82.5" y1="547.3" x2="82.5" y2="566.3" stroke-opacity="0.90"/>
<line x1="83.8" y1="547.3" x2="83.8" y2="566.3" stroke-opacity="0.90"/>
<line x1="85.1" y1="547.3" x2="85.1" y2="566.3" stroke-opacity="0.90"/>
<line x1="86.3" y1="547.3" x2="86.3" y2="566.3" stroke-opacity="0.90"/>
<line x1="88.9" y1="547.3" x2="88.9" y2="566.3" stroke-opacity="0.90"/>
<line x1="90.2" y1="547.3" x2="90.2" y2="566.3" stroke-opacity="0.90"/>
<line x1="91.4" y1="547.3" x2="91.4" y2="566.3" stroke-opacity="0.90"/>
<line x1="92.7" y1="547.3" x2="92.7" y2="566.3" stroke-opacity="0.90"/>
<line x1="95.2" y1="547.3" x2="95.2" y2="566.3" stroke-opacity="0.90"/>
<line x1="96.5" y1="547.3" x2="96.5" y2="566.3" stroke-opacity="0.90"/>
<line x1="97.8" y1="547.3" x2="97.8" y2="566.3" stroke-opacity="0.90"/>
<line x1="99.0" y1="547.3" x2="99.0" y2="566.3" stroke-opacity="0.90"/>
<line x1="101.6" y1="547.3" x2="101.6" y2="566.3" stroke-opacity="0.90"/>
<line x1="103.5" y1="547.3" x2="103.5" y2="566.3" stroke-opacity="0.90"/>
<line x1="104.8" y1="547.3" x2="104.8" y2="566.3" stroke-opacity="0.90"/>
<line x1="111.7" y1="547.3" x2="111.7" y2="566.3" stroke-opacity="0.90"/>
<line x1="113.6" y1="547.3" x2="113.6" y2="566.3" stroke-opacity="0.90"/>
<line x1="118.6" y1="547.3" x2="118.6" y2="566.3" stroke-opacity="0.90"/>
<line x1="125.4" y1="547.3" x2="125.4" y2="566.3" stroke-opacity="0.90"/>
<line x1="127.9" y1="547.3" x2="127.9" y2="566.3" stroke-opacity="0.90"/>
<line x1="130.7" y1="547.3" x2="130.7" y2="566.3" stroke-opacity="0.90"/>
<line x1="132.0" y1="547.3" x2="132.0" y2="566.3" stroke-opacity="0.90"/>
<line x1="133.2" y1="547.3" x2="133.2" y2="566.3" stroke-opacity="0.90"/>
<line x1="134.5" y1="547.3" x2="134.5" y2="566.3" stroke-opacity="0.90"/>
<line x1="137.0" y1="547.3" x2="137.0" y2="566.3" stroke-opacity="0.90"/>
<line x1="145.7" y1="547.3" x2="145.7" y2="566.3" stroke-opacity="0.90"/>
<line x1="150.4" y1="547.3" x2="150.4" y2="566.3" stroke-opacity="0.90"/>
<line x1="156.4" y1="547.3" x2="156.4" y2="566.3" stroke-opacity="0.90"/>
<line x1="161.2" y1="547.3" x2="161.2" y2="566.3" stroke-opacity="0.90"/>
<line x1="176.4" y1="547.3" x2="176.4" y2="566.3" stroke-opacity="0.90"/>
<line x1="184.0" y1="547.3" x2="184.0" y2="566.3" stroke-opacity="0.90"/>
<line x1="185.3" y1="547.3" x2="185.3" y2="566.3" stroke-opacity="0.90"/>
<line x1="193.9" y1="547.3" x2="193.9" y2="566.3" stroke-opacity="0.90"/>
</g>
<line x1="35.5" y1="547.3" x2="201.0" y2="547.3" stroke="#222" stroke-width="1.1"/>
<line x1="35.5" y1="566.3" x2="201.0" y2="566.3" stroke="#222" stroke-width="1.1"/>
<defs><linearGradient id="rbf" x1="0" y1="0" x2="1" y2="0"><stop offset="0" stop-color="#f00"/><stop offset="0.05" stop-color="#ff2a2a"/><stop offset="0.18" stop-color="#ff8c8c"/><stop offset="0.33" stop-color="#ffcece"/><stop offset="0.5" stop-color="#fff"/><stop offset="0.66" stop-color="#dedeff"/><stop offset="0.8" stop-color="#b8b8ff"/><stop offset="0.92" stop-color="#7878ff"/><stop offset="1" stop-color="#0000f0"/></linearGradient></defs>
<rect x="36.7" y="567.0" width="162.9" height="8.8" fill="url(#rbf)"/>
<path d="M36.7 599.1L36.7 577.6L38.1 585.0L39.4 588.2L40.8 590.1L42.1 590.8L43.5 591.4L44.8 592.1L46.2 592.5L47.6 592.8L48.9 593.2L50.3 593.5L51.6 593.8L53.0 594.0L54.3 594.2L55.7 594.4L57.1 594.5L58.4 594.7L59.8 594.9L61.1 595.1L62.5 595.3L63.9 595.4L65.2 595.6L66.6 595.7L67.9 595.8L69.3 595.9L70.6 596.0L72.0 596.1L73.4 596.2L74.7 596.3L76.1 596.4L77.4 596.5L78.8 596.7L80.1 596.8L81.5 596.9L82.9 597.0L84.2 597.1L85.6 597.2L86.9 597.3L88.3 597.3L89.6 597.4L91.0 597.5L92.4 597.5L93.7 597.6L95.1 597.7L96.4 597.8L97.8 597.8L99.1 597.9L100.5 598.0L101.9 598.0L103.2 598.1L104.6 598.2L105.9 598.2L107.3 598.3L108.6 598.4L110.0 598.5L111.4 598.5L112.7 598.6L114.1 598.7L115.4 598.8L116.8 598.8L118.2 598.9L119.5 599.0L120.9 599.1L122.2 599.2L123.6 599.2L124.9 599.3L126.3 599.4L127.7 599.5L129.0 599.6L130.4 599.7L131.7 599.8L133.1 599.9L134.4 600.0L135.8 600.1L137.2 600.2L138.5 600.3L139.9 600.4L141.2 600.5L142.6 600.5L143.9 600.6L145.3 600.7L146.7 600.8L148.0 600.9L149.4 601.0L150.7 601.1L152.1 601.2L153.4 601.3L154.8 601.4L156.2 601.5L157.5 601.6L158.9 601.7L160.2 601.8L161.6 601.9L162.9 602.0L164.3 602.1L165.7 602.3L167.0 602.4L168.4 602.5L169.7 602.6L171.1 602.7L172.4 602.8L173.8 602.9L175.2 603.1L176.5 603.3L177.9 603.5L179.2 603.6L180.6 603.8L182.0 604.0L183.3 604.2L184.7 604.4L186.0 604.5L187.4 604.9L188.7 605.4L190.1 605.8L191.5 606.3L192.8 607.2L194.2 608.6L195.5 610.1L196.9 613.4L198.2 617.0L199.6 621.6L199.6 599.1Z" fill="#c4c4c4"/>
<line x1="121.4" y1="576.5999999999999" x2="121.4" y2="623.2" stroke="#777" stroke-width="0.6" stroke-dasharray="1.6 1.2"/>
<text x="44.2" y="587" font-size="5.6" font-weight="bold" fill="#e8141c" text-anchor="start" >WT</text>
<text x="182.3" y="616.6" font-size="5.4" font-weight="bold" fill="#2a2aa0" text-anchor="start" >KO</text>
<text x="97.9" y="608.3" font-size="5.45" font-weight="bold" fill="#111" text-anchor="start" >Zero score at 11419</text>
<rect x="35.5" y="471.0" width="165.5" height="152.2" fill="none" stroke="#222" stroke-width="1.5"/>
<line x1="35.5" y1="547.1" x2="201.0" y2="547.1" stroke="#222" stroke-width="1.3"/>
<text x="223.08" y="456.39" font-size="25.5" font-weight="bold" fill="#231815" text-anchor="start" >G</text>
<rect x="282.75" y="511.24" width="18.1" height="92.96" fill="#fff" stroke="#232f98" stroke-width="1.3"/>
<rect x="305.85" y="587.45" width="18.1" height="16.75" fill="#fff" stroke="#b82228" stroke-width="1.3"/>
<rect x="338.95" y="538.04" width="18.1" height="66.16" fill="#fff" stroke="#232f98" stroke-width="1.3"/>
<rect x="362.05" y="587.45" width="18.1" height="16.75" fill="#fff" stroke="#b82228" stroke-width="1.3"/>
<path d="M291.9 503.8V518.3M287.3 503.8H296.5M287.3 518.3H296.5" stroke="#232f98" stroke-width="1.3" fill="none"/>
<path d="M347.7 516.8V558.5M343.1 516.8H352.3M343.1 558.5H352.3" stroke="#232f98" stroke-width="1.3" fill="none"/>
<path d="M314.9 586.5V588.5M310.3 586.5H319.5M310.3 588.5H319.5" stroke="#b82228" stroke-width="1.3" fill="none"/>
<path d="M371 581.7V590.9M366.4 581.7H375.6M366.4 590.9H375.6" stroke="#b82228" stroke-width="1.3" fill="none"/>
<circle cx="291.9" cy="504.4" r="2.15" fill="#1b2a8c"/>
<circle cx="291.9" cy="510.5" r="2.15" fill="#1b2a8c"/>
<circle cx="291.9" cy="518.3" r="2.15" fill="#1b2a8c"/>
<circle cx="347.7" cy="513.9" r="2.15" fill="#1b2a8c"/>
<circle cx="347.7" cy="546.6" r="2.15" fill="#1b2a8c"/>
<circle cx="347.7" cy="552.7" r="2.15" fill="#1b2a8c"/>
<circle cx="308.9" cy="587.9" r="2.15" fill="#a81c22"/>
<circle cx="315" cy="587.2" r="2.15" fill="#a81c22"/>
<circle cx="320.5" cy="587.5" r="2.15" fill="#a81c22"/>
<circle cx="371" cy="581.3" r="2.15" fill="#a81c22"/>
<circle cx="368.1" cy="589.9" r="2.15" fill="#a81c22"/>
<circle cx="373.6" cy="588.9" r="2.15" fill="#a81c22"/>
<path d="M277.6 452.7V604.2H384.9" fill="none" stroke="#111" stroke-width="2"/>
<line x1="274" y1="604.2" x2="277.6" y2="604.2" stroke="#111" stroke-width="1.6"/>
<text x="271.2" y="607.5" font-size="9.3" font-weight="bold" fill="#111" text-anchor="end" >0</text>
<line x1="274" y1="553.95" x2="277.6" y2="553.95" stroke="#111" stroke-width="1.6"/>
<text x="271.2" y="557.25" font-size="9.3" font-weight="bold" fill="#111" text-anchor="end" >3</text>
<line x1="274" y1="503.7" x2="277.6" y2="503.7" stroke="#111" stroke-width="1.6"/>
<text x="271.2" y="507" font-size="9.3" font-weight="bold" fill="#111" text-anchor="end" >6</text>
<line x1="274" y1="453.45" x2="277.6" y2="453.45" stroke="#111" stroke-width="1.6"/>
<text x="271.2" y="456.75" font-size="9.3" font-weight="bold" fill="#111" text-anchor="end" >9</text>
<line x1="302.7" y1="604" x2="302.7" y2="608.3" stroke="#111" stroke-width="1.6"/>
<line x1="359.3" y1="604" x2="359.3" y2="608.3" stroke="#111" stroke-width="1.6"/>
<text x="305.2" y="619.8" font-size="9.3" font-weight="bold" fill="#111" text-anchor="middle" >MKN-45</text>
<text x="360.9" y="619.8" font-size="9.3" font-weight="bold" fill="#111" text-anchor="middle" >SNU-216</text>
<text transform="translate(259.2 528.6) rotate(-90)" font-size="9.6" font-weight="bold" fill="#111" text-anchor="middle">TGF-β1 mRNA level</text>
<line x1="291.9" y1="492.1" x2="317" y2="492.1" stroke="#111" stroke-width="1.3"/>
<line x1="347.1" y1="492.1" x2="372.2" y2="492.1" stroke="#111" stroke-width="1.3"/>
<text x="304.5" y="492.4" font-size="9.6" font-weight="bold" fill="#111" text-anchor="middle" >***</text>
<text x="359.6" y="492.4" font-size="9.6" font-weight="bold" fill="#111" text-anchor="middle" >*</text>
<rect x="290.0" y="448.8" width="14.6" height="6.0" fill="#fff" stroke="#232f98" stroke-width="1.2"/>
<rect x="290.0" y="465.1" width="14.6" height="6.0" fill="#fff" stroke="#b82228" stroke-width="1.2"/>
<text x="308" y="455.3" font-size="9.2" font-weight="bold" fill="#111" text-anchor="start" >CTRL</text>
<text x="307.8" y="471.6" font-size="9.2" font-weight="bold" fill="#111">ULBP2<tspan font-size="5" dy="-3.6">-/-</tspan></text>
<text x="429.01" y="456.7" font-size="25.5" font-weight="bold" fill="#231815" text-anchor="start" >H</text>
<defs><filter id="bl1" x="-20%" y="-60%" width="140%" height="220%"><feGaussianBlur stdDeviation="1.1"/></filter><filter id="bl2" x="-20%" y="-60%" width="140%" height="220%"><feGaussianBlur stdDeviation="1.6"/></filter></defs>
<text x="514.4" y="468.8" font-size="9.4" font-weight="bold" fill="#111" text-anchor="middle" >MKN-45</text>
<text x="622.8" y="468.8" font-size="9.4" font-weight="bold" fill="#111" text-anchor="middle" >SNU-216</text>
<line x1="466.2" y1="472.6" x2="568.4" y2="472.6" stroke="#111" stroke-width="1.2"/>
<line x1="573.6" y1="472.6" x2="675.2" y2="472.6" stroke="#111" stroke-width="1.2"/>
<text x="492.2" y="486" font-size="9.3" font-weight="bold" fill="#111" text-anchor="middle" >CTRL</text>
<text x="598.7" y="486" font-size="9.3" font-weight="bold" fill="#111" text-anchor="middle" >CTRL</text>
<text x="524.0" y="486.0" font-size="9.3" font-weight="bold" fill="#111">ULBP2<tspan font-size="5" dy="-3.6">-/-</tspan></text>
<text x="630.4" y="486.0" font-size="9.3" font-weight="bold" fill="#111">ULBP2<tspan font-size="5" dy="-3.6">-/-</tspan></text>
<text x="460.8" y="509.25" font-size="9.3" font-weight="bold" fill="#111" text-anchor="end" >TGF-β1</text>
<text x="460.8" y="539.25" font-size="9.3" font-weight="bold" fill="#111" text-anchor="end" >T-SMAD2/3</text>
<text x="460.8" y="569.45" font-size="9.3" font-weight="bold" fill="#111" text-anchor="end" ><tspan font-style="italic">p</tspan>-SMAD2</text>
<text x="460.8" y="600.05" font-size="9.3" font-weight="bold" fill="#111" text-anchor="end" >GAPDH</text>
<defs><linearGradient id="bg1" x1="0" y1="0" x2="0" y2="1"><stop offset="0" stop-color="#e9e9e9"/><stop offset="0.5" stop-color="#f1f1f1"/><stop offset="1" stop-color="#ececec"/></linearGradient><filter id="bl3" x="-20%" y="-80%" width="140%" height="260%"><feGaussianBlur stdDeviation="2.2"/></filter><filter id="bl0" x="-20%" y="-80%" width="140%" height="260%"><feGaussianBlur stdDeviation="1.0"/></filter></defs>
<rect x="466.2" y="492.6" width="102.2" height="26.7" fill="url(#bg1)"/>
<rect x="466.2" y="522.5" width="102.2" height="26.9" fill="url(#bg1)"/>
<rect x="466.2" y="552.7" width="102.2" height="26.9" fill="url(#bg1)"/>
<rect x="466.2" y="582.9" width="102.2" height="27.7" fill="url(#bg1)"/>
<rect x="573.4" y="492.6" width="102" height="26.7" fill="url(#bg1)"/>
<rect x="573.4" y="522.5" width="102" height="26.9" fill="url(#bg1)"/>
<rect x="573.4" y="552.7" width="102" height="26.9" fill="url(#bg1)"/>
<rect x="573.4" y="582.9" width="102" height="27.7" fill="url(#bg1)"/>
<path d="M577.0 541.2L578.6 539.4L580.2 539.0L581.8 538.7L583.3 538.5L584.9 538.4L586.5 538.3L588.1 538.3L589.7 538.2L591.2 538.2L592.8 538.2L594.4 538.2L596.0 538.2L597.6 538.2L599.2 538.2L600.8 538.2L602.3 538.2L603.9 538.3L605.5 538.3L607.1 538.4L608.7 538.5L610.2 538.7L611.8 539.0L613.4 539.4L615.0 541.2L615.0 541.2L613.4 543.0L611.8 543.4L610.2 543.7L608.7 543.9L607.1 544.0L605.5 544.1L603.9 544.1L602.3 544.2L600.8 544.2L599.2 544.2L597.6 544.2L596.0 544.2L594.4 544.2L592.8 544.2L591.2 544.2L589.7 544.2L588.1 544.1L586.5 544.1L584.9 544.0L583.3 543.9L581.8 543.7L580.2 543.4L578.6 543.0L577.0 541.2Z" fill="#8c8c8c" filter="url(#bl3)"/>
<path d="M631.0 541.0L632.5 539.2L634.1 538.8L635.6 538.5L637.2 538.3L638.7 538.2L640.2 538.1L641.8 538.1L643.3 538.0L644.9 538.0L646.4 538.0L648.0 538.0L649.5 538.0L651.0 538.0L652.6 538.0L654.1 538.0L655.7 538.0L657.2 538.1L658.8 538.1L660.3 538.2L661.8 538.3L663.4 538.5L664.9 538.8L666.5 539.2L668.0 541.0L668.0 541.0L666.5 542.8L664.9 543.2L663.4 543.5L661.8 543.7L660.3 543.8L658.8 543.9L657.2 543.9L655.7 544.0L654.1 544.0L652.6 544.0L651.0 544.0L649.5 544.0L648.0 544.0L646.4 544.0L644.9 544.0L643.3 544.0L641.8 543.9L640.2 543.9L638.7 543.8L637.2 543.7L635.6 543.5L634.1 543.2L632.5 542.8L631.0 541.0Z" fill="#909090" filter="url(#bl3)"/>
<path d="M470.5 506.6L472.4 502.8L474.3 502.0L476.2 501.5L478.1 501.2L480.0 500.9L481.9 500.8L483.7 500.7L485.6 500.6L487.5 500.6L489.4 500.6L491.3 500.6L493.2 500.6L495.1 500.6L497.0 500.6L498.9 500.7L500.8 500.7L502.7 500.8L504.5 500.9L506.4 501.1L508.3 501.4L510.2 501.7L512.1 502.2L514.0 503.0L515.9 506.6L515.9 506.6L514.0 510.2L512.1 511.0L510.2 511.5L508.3 511.8L506.4 512.1L504.5 512.3L502.7 512.4L500.8 512.5L498.9 512.5L497.0 512.6L495.1 512.6L493.2 512.6L491.3 512.6L489.4 512.6L487.5 512.6L485.6 512.6L483.7 512.5L481.9 512.4L480.0 512.3L478.1 512.0L476.2 511.7L474.3 511.2L472.4 510.4L470.5 506.6Z" fill="#9a9a9a" filter="url(#bl3)" opacity="0.85"/>
<path d="M525.6 506.4L527.1 503.4L528.7 502.7L530.2 502.3L531.8 502.0L533.4 501.8L534.9 501.7L536.5 501.6L538.0 501.5L539.5 501.5L541.1 501.5L542.6 501.5L544.2 501.4L545.8 501.5L547.3 501.5L548.9 501.5L550.4 501.5L551.9 501.6L553.5 501.7L555.0 501.8L556.6 502.0L558.1 502.3L559.7 502.7L561.2 503.4L562.8 506.4L562.8 506.4L561.2 509.5L559.7 510.2L558.1 510.6L556.6 510.9L555.0 511.1L553.5 511.2L551.9 511.3L550.4 511.4L548.9 511.4L547.3 511.4L545.8 511.4L544.2 511.4L542.6 511.4L541.1 511.4L539.5 511.4L538.0 511.4L536.5 511.3L534.9 511.2L533.4 511.1L531.8 510.9L530.2 510.6L528.7 510.2L527.1 509.5L525.6 506.4Z" fill="#a8a8a8" filter="url(#bl3)" opacity="0.85"/>
<path d="M470.5 536.4L472.4 531.4L474.3 530.3L476.2 529.6L478.1 529.2L480.0 528.9L481.9 528.7L483.7 528.6L485.6 528.5L487.5 528.5L489.4 528.5L491.3 528.5L493.2 528.5L495.1 528.6L497.0 528.6L498.9 528.7L500.8 528.7L502.7 528.9L504.5 529.0L506.4 529.3L508.3 529.6L510.2 530.1L512.1 530.7L514.0 531.8L515.9 536.4L515.9 536.4L514.0 541.0L512.1 542.1L510.2 542.7L508.3 543.2L506.4 543.5L504.5 543.8L502.7 543.9L500.8 544.1L498.9 544.1L497.0 544.2L495.1 544.2L493.2 544.3L491.3 544.3L489.4 544.3L487.5 544.3L485.6 544.3L483.7 544.2L481.9 544.1L480.0 543.9L478.1 543.6L476.2 543.2L474.3 542.5L472.4 541.4L470.5 536.4Z" fill="#6a6a6a" filter="url(#bl3)" opacity="0.85"/>
<path d="M522.5 536.4L524.2 530.4L525.9 529.2L527.6 528.5L529.3 528.1L531.0 527.8L532.6 527.7L534.3 527.6L536.0 527.6L537.7 527.7L539.4 527.8L541.1 527.9L542.8 528.0L544.5 528.1L546.2 528.2L547.9 528.4L549.6 528.5L551.3 528.7L553.0 529.0L554.6 529.3L556.3 529.7L558.0 530.2L559.7 530.9L561.4 532.0L563.1 536.4L563.1 536.4L561.4 540.7L559.7 541.8L558.0 542.5L556.3 543.0L554.6 543.4L553.0 543.7L551.3 544.0L549.6 544.2L547.9 544.3L546.2 544.5L544.5 544.6L542.8 544.7L541.1 544.8L539.4 544.9L537.7 545.0L536.0 545.1L534.3 545.1L532.6 545.0L531.0 544.9L529.3 544.6L527.6 544.2L525.9 543.5L524.2 542.3L522.5 536.4Z" fill="#707070" filter="url(#bl3)" opacity="0.85"/>
<path d="M470.5 563.2L472.4 559.1L474.3 558.2L476.2 557.6L478.1 557.3L480.0 557.1L481.9 556.9L483.7 556.8L485.6 556.8L487.5 556.7L489.4 556.8L491.3 556.8L493.2 556.8L495.1 556.8L497.0 556.9L498.9 556.9L500.8 557.0L502.7 557.1L504.5 557.2L506.4 557.4L508.3 557.7L510.2 558.1L512.1 558.6L514.0 559.5L515.9 563.2L515.9 563.2L514.0 566.9L512.1 567.8L510.2 568.3L508.3 568.7L506.4 569.0L504.5 569.2L502.7 569.3L500.8 569.4L498.9 569.5L497.0 569.5L495.1 569.6L493.2 569.6L491.3 569.6L489.4 569.6L487.5 569.7L485.6 569.6L483.7 569.6L481.9 569.5L480.0 569.3L478.1 569.1L476.2 568.8L474.3 568.2L472.4 567.3L470.5 563.2Z" fill="#a0a0a0" filter="url(#bl3)" opacity="0.85"/>
<path d="M526.0 562.9L527.6 559.6L529.1 558.9L530.7 558.4L532.2 558.2L533.8 558.0L535.4 557.9L536.9 557.8L538.5 557.8L540.1 557.8L541.6 557.8L543.2 557.8L544.8 557.9L546.3 557.9L547.9 557.9L549.4 558.0L551.0 558.0L552.6 558.1L554.1 558.3L555.7 558.4L557.2 558.6L558.8 558.9L560.4 559.4L561.9 560.0L563.5 562.9L563.5 562.9L561.9 565.8L560.4 566.4L558.8 566.9L557.2 567.2L555.7 567.4L554.1 567.5L552.6 567.7L551.0 567.8L549.4 567.8L547.9 567.9L546.3 567.9L544.8 567.9L543.2 568.0L541.6 568.0L540.1 568.0L538.5 568.0L536.9 568.0L535.4 567.9L533.8 567.8L532.2 567.6L530.7 567.4L529.1 566.9L527.6 566.2L526.0 562.9Z" fill="#b0b0b0" filter="url(#bl3)" opacity="0.85"/>
<path d="M470.0 598.6L471.8 595.1L473.7 594.3L475.5 593.8L477.3 593.4L479.2 593.2L481.0 593.0L482.8 592.8L484.7 592.7L486.5 592.6L488.3 592.6L490.2 592.5L492.0 592.5L493.8 592.5L495.7 592.4L497.5 592.4L499.3 592.4L501.2 592.5L503.0 592.6L504.8 592.7L506.7 592.9L508.5 593.2L510.3 593.7L512.2 594.6L514.0 598.6L514.0 598.6L512.2 602.6L510.3 603.5L508.5 604.0L506.7 604.3L504.8 604.5L503.0 604.6L501.2 604.7L499.3 604.8L497.5 604.8L495.7 604.8L493.8 604.7L492.0 604.7L490.2 604.7L488.3 604.6L486.5 604.6L484.7 604.5L482.8 604.4L481.0 604.2L479.2 604.0L477.3 603.8L475.5 603.4L473.7 602.9L471.8 602.1L470.0 598.6Z" fill="#8a8a8a" filter="url(#bl3)" opacity="0.85"/>
<path d="M521.5 598.4L523.3 594.5L525.1 593.6L526.9 593.0L528.8 592.7L530.6 592.4L532.4 592.3L534.2 592.2L536.0 592.1L537.8 592.1L539.6 592.0L541.4 592.0L543.2 592.0L545.1 592.1L546.9 592.1L548.7 592.1L550.5 592.2L552.3 592.2L554.1 592.4L555.9 592.6L557.8 592.8L559.6 593.2L561.4 593.7L563.2 594.6L565.0 598.4L565.0 598.4L563.2 602.2L561.4 603.1L559.6 603.6L557.8 604.0L555.9 604.2L554.1 604.4L552.3 604.6L550.5 604.6L548.7 604.7L546.9 604.7L545.1 604.7L543.2 604.8L541.4 604.8L539.6 604.8L537.8 604.7L536.0 604.7L534.2 604.6L532.4 604.5L530.6 604.4L528.8 604.1L526.9 603.8L525.1 603.2L523.3 602.3L521.5 598.4Z" fill="#8a8a8a" filter="url(#bl3)" opacity="0.85"/>
<path d="M576.0 506.0L577.8 501.6L579.5 500.6L581.3 500.1L583.1 499.7L584.9 499.5L586.6 499.4L588.4 499.3L590.2 499.3L591.9 499.3L593.7 499.3L595.5 499.3L597.2 499.4L599.0 499.4L600.8 499.5L602.6 499.6L604.3 499.7L606.1 499.8L607.9 500.0L609.6 500.2L611.4 500.5L613.2 500.9L615.0 501.4L616.7 502.3L618.5 506.0L618.5 506.0L616.7 509.7L615.0 510.6L613.2 511.1L611.4 511.5L609.6 511.8L607.9 512.0L606.1 512.2L604.3 512.3L602.6 512.4L600.8 512.5L599.0 512.6L597.2 512.6L595.5 512.7L593.7 512.7L591.9 512.7L590.2 512.7L588.4 512.7L586.6 512.6L584.9 512.5L583.1 512.3L581.3 511.9L579.5 511.4L577.8 510.4L576.0 506.0Z" fill="#7a7a7a" filter="url(#bl3)" opacity="0.85"/>
<path d="M627.0 505.4L628.8 502.0L630.6 501.3L632.5 500.8L634.3 500.5L636.1 500.2L637.9 500.1L639.7 499.9L641.6 499.9L643.4 499.8L645.2 499.8L647.0 499.7L648.9 499.7L650.7 499.7L652.5 499.7L654.3 499.7L656.1 499.7L658.0 499.7L659.8 499.8L661.6 500.0L663.4 500.2L665.2 500.5L667.1 501.0L668.9 501.8L670.7 505.4L670.7 505.4L668.9 509.0L667.1 509.8L665.2 510.3L663.4 510.6L661.6 510.8L659.8 511.0L658.0 511.1L656.1 511.1L654.3 511.1L652.5 511.1L650.7 511.1L648.9 511.1L647.0 511.1L645.2 511.0L643.4 511.0L641.6 510.9L639.7 510.9L637.9 510.7L636.1 510.6L634.3 510.3L632.5 510.0L630.6 509.5L628.8 508.8L627.0 505.4Z" fill="#b4b4b4" filter="url(#bl3)" opacity="0.85"/>
<path d="M578.5 535.4L580.1 532.2L581.6 531.4L583.2 531.0L584.8 530.6L586.3 530.4L587.9 530.2L589.4 530.1L591.0 530.0L592.6 529.9L594.1 529.8L595.7 529.8L597.2 529.7L598.8 529.7L600.4 529.7L601.9 529.7L603.5 529.7L605.1 529.7L606.6 529.8L608.2 529.9L609.8 530.1L611.3 530.5L612.9 530.9L614.4 531.7L616.0 535.4L616.0 535.4L614.4 539.2L612.9 540.0L611.3 540.4L609.8 540.8L608.2 541.0L606.6 541.1L605.1 541.2L603.5 541.2L601.9 541.2L600.4 541.2L598.8 541.2L597.2 541.1L595.7 541.1L594.1 541.1L592.6 541.0L591.0 540.9L589.4 540.8L587.9 540.7L586.3 540.5L584.8 540.3L583.2 539.9L581.6 539.5L580.1 538.7L578.5 535.4Z" fill="#8a8080" filter="url(#bl3)" opacity="0.85"/>
<path d="M629.5 534.3L631.2 530.8L632.9 530.0L634.6 529.5L636.3 529.2L638.0 529.0L639.8 528.8L641.5 528.7L643.2 528.7L644.9 528.7L646.6 528.6L648.3 528.6L650.0 528.6L651.7 528.7L653.4 528.7L655.1 528.7L656.8 528.8L658.5 528.8L660.2 528.9L662.0 529.1L663.7 529.3L665.4 529.7L667.1 530.1L668.8 530.9L670.5 534.3L670.5 534.3L668.8 537.7L667.1 538.5L665.4 538.9L663.7 539.3L662.0 539.5L660.2 539.7L658.5 539.8L656.8 539.8L655.1 539.9L653.4 539.9L651.7 539.9L650.0 539.9L648.3 540.0L646.6 540.0L644.9 539.9L643.2 539.9L641.5 539.9L639.8 539.8L638.0 539.6L636.3 539.4L634.6 539.1L632.9 538.6L631.2 537.8L629.5 534.3Z" fill="#8a8080" filter="url(#bl3)" opacity="0.85"/>
<path d="M580.5 564.2L582.0 561.0L583.5 560.3L585.0 559.8L586.5 559.5L588.0 559.3L589.5 559.2L591.0 559.1L592.5 559.0L594.0 559.0L595.5 559.0L597.0 559.0L598.5 558.9L600.0 559.0L601.5 559.0L603.0 559.0L604.5 559.0L606.0 559.1L607.5 559.2L609.0 559.3L610.5 559.5L612.0 559.8L613.5 560.3L615.0 561.0L616.5 564.2L616.5 564.2L615.0 567.4L613.5 568.1L612.0 568.6L610.5 568.9L609.0 569.1L607.5 569.2L606.0 569.3L604.5 569.4L603.0 569.4L601.5 569.4L600.0 569.4L598.5 569.4L597.0 569.4L595.5 569.4L594.0 569.4L592.5 569.4L591.0 569.3L589.5 569.2L588.0 569.1L586.5 568.9L585.0 568.6L583.5 568.1L582.0 567.4L580.5 564.2Z" fill="#909090" filter="url(#bl3)" opacity="0.85"/>
<path d="M580.5 569.0L582.0 566.1L583.5 565.5L585.0 565.1L586.5 564.8L588.0 564.6L589.5 564.5L591.0 564.4L592.5 564.3L594.0 564.3L595.5 564.3L597.0 564.3L598.5 564.2L600.0 564.3L601.5 564.3L603.0 564.3L604.5 564.3L606.0 564.4L607.5 564.5L609.0 564.6L610.5 564.8L612.0 565.1L613.5 565.5L615.0 566.1L616.5 569.0L616.5 569.0L615.0 572.0L613.5 572.6L612.0 573.0L610.5 573.3L609.0 573.5L607.5 573.6L606.0 573.7L604.5 573.8L603.0 573.8L601.5 573.8L600.0 573.8L598.5 573.8L597.0 573.8L595.5 573.8L594.0 573.8L592.5 573.8L591.0 573.7L589.5 573.6L588.0 573.5L586.5 573.3L585.0 573.0L583.5 572.6L582.0 572.0L580.5 569.0Z" fill="#909090" filter="url(#bl3)" opacity="0.85"/>
<path d="M627.5 564.1L629.2 561.4L631.0 560.8L632.8 560.4L634.5 560.1L636.2 560.0L638.0 559.8L639.8 559.8L641.5 559.7L643.2 559.7L645.0 559.7L646.8 559.7L648.5 559.6L650.2 559.7L652.0 559.7L653.8 559.7L655.5 559.7L657.2 559.8L659.0 559.8L660.8 560.0L662.5 560.1L664.2 560.4L666.0 560.8L667.8 561.4L669.5 564.1L669.5 564.1L667.8 566.9L666.0 567.5L664.2 567.9L662.5 568.2L660.8 568.3L659.0 568.5L657.2 568.5L655.5 568.6L653.8 568.6L652.0 568.6L650.2 568.6L648.5 568.6L646.8 568.6L645.0 568.6L643.2 568.6L641.5 568.6L639.8 568.5L638.0 568.5L636.2 568.3L634.5 568.2L632.8 567.9L631.0 567.5L629.2 566.9L627.5 564.1Z" fill="#b8b8b8" filter="url(#bl3)" opacity="0.85"/>
<path d="M627.5 569.2L629.2 566.5L631.0 565.9L632.8 565.5L634.5 565.2L636.2 565.1L638.0 564.9L639.8 564.9L641.5 564.8L643.2 564.8L645.0 564.8L646.8 564.8L648.5 564.8L650.2 564.8L652.0 564.8L653.8 564.8L655.5 564.8L657.2 564.9L659.0 564.9L660.8 565.1L662.5 565.2L664.2 565.5L666.0 565.9L667.8 566.5L669.5 569.2L669.5 569.2L667.8 572.0L666.0 572.6L664.2 573.0L662.5 573.3L660.8 573.4L659.0 573.6L657.2 573.6L655.5 573.7L653.8 573.7L652.0 573.7L650.2 573.7L648.5 573.8L646.8 573.7L645.0 573.7L643.2 573.7L641.5 573.7L639.8 573.6L638.0 573.6L636.2 573.4L634.5 573.3L632.8 573.0L631.0 572.6L629.2 572.0L627.5 569.2Z" fill="#b8b8b8" filter="url(#bl3)" opacity="0.85"/>
<path d="M575.0 599.0L577.1 594.3L579.1 593.2L581.2 592.6L583.2 592.2L585.3 591.9L587.4 591.7L589.4 591.5L591.5 591.4L593.6 591.4L595.6 591.3L597.7 591.3L599.8 591.3L601.8 591.3L603.9 591.3L605.9 591.4L608.0 591.4L610.1 591.5L612.1 591.7L614.2 591.9L616.2 592.2L618.3 592.6L620.4 593.2L622.4 594.3L624.5 599.0L624.5 599.0L622.4 603.7L620.4 604.7L618.3 605.4L616.2 605.8L614.2 606.1L612.1 606.3L610.1 606.4L608.0 606.5L605.9 606.6L603.9 606.6L601.8 606.6L599.8 606.6L597.7 606.6L595.6 606.6L593.6 606.6L591.5 606.5L589.4 606.4L587.4 606.3L585.3 606.1L583.2 605.8L581.2 605.4L579.1 604.7L577.1 603.7L575.0 599.0Z" fill="#606060" filter="url(#bl3)" opacity="0.85"/>
<path d="M629.0 599.0L630.8 594.3L632.6 593.2L634.4 592.6L636.2 592.2L638.1 591.9L639.9 591.7L641.7 591.5L643.5 591.4L645.3 591.4L647.1 591.3L648.9 591.3L650.8 591.3L652.6 591.3L654.4 591.3L656.2 591.4L658.0 591.4L659.8 591.5L661.6 591.7L663.4 591.9L665.2 592.2L667.1 592.6L668.9 593.2L670.7 594.3L672.5 599.0L672.5 599.0L670.7 603.7L668.9 604.7L667.1 605.4L665.2 605.8L663.4 606.1L661.6 606.3L659.8 606.4L658.0 606.5L656.2 606.6L654.4 606.6L652.6 606.6L650.8 606.6L648.9 606.6L647.1 606.6L645.3 606.6L643.5 606.5L641.7 606.4L639.9 606.3L638.1 606.1L636.2 605.8L634.4 605.4L632.6 604.7L630.8 603.7L629.0 599.0Z" fill="#606060" filter="url(#bl3)" opacity="0.85"/>
<path d="M472.0 506.0L473.8 503.6L475.5 503.1L477.3 502.8L479.1 502.6L480.8 502.4L482.6 502.3L484.4 502.3L486.1 502.2L487.9 502.2L489.7 502.2L491.4 502.2L493.2 502.2L495.0 502.3L496.7 502.3L498.5 502.3L500.3 502.3L502.0 502.4L503.8 502.5L505.6 502.6L507.3 502.8L509.1 503.0L510.9 503.3L512.6 503.8L514.4 506.0L514.4 506.0L512.6 508.2L510.9 508.7L509.1 509.0L507.3 509.2L505.6 509.4L503.8 509.5L502.0 509.6L500.3 509.7L498.5 509.7L496.7 509.7L495.0 509.7L493.2 509.8L491.4 509.8L489.7 509.8L487.9 509.8L486.1 509.8L484.4 509.7L482.6 509.7L480.8 509.6L479.1 509.4L477.3 509.2L475.5 508.9L473.8 508.4L472.0 506.0Z" fill="#0a0a0a" filter="url(#bl0)"/>
<path d="M527.1 506.0L528.5 504.2L530.0 503.8L531.4 503.5L532.8 503.3L534.2 503.2L535.6 503.1L537.1 503.1L538.5 503.0L539.9 503.0L541.4 503.0L542.8 503.0L544.2 503.0L545.6 503.0L547.0 503.0L548.5 503.0L549.9 503.0L551.3 503.1L552.8 503.1L554.2 503.2L555.6 503.3L557.0 503.5L558.4 503.8L559.9 504.2L561.3 506.0L561.3 506.0L559.9 507.8L558.4 508.2L557.0 508.5L555.6 508.7L554.2 508.8L552.8 508.9L551.3 508.9L549.9 509.0L548.5 509.0L547.0 509.0L545.6 509.0L544.2 509.0L542.8 509.0L541.4 509.0L539.9 509.0L538.5 509.0L537.1 508.9L535.6 508.9L534.2 508.8L532.8 508.7L531.4 508.5L530.0 508.2L528.5 507.8L527.1 506.0Z" fill="#121212" filter="url(#bl0)"/>
<path d="M472.0 535.2L473.8 532.2L475.5 531.5L477.3 531.1L479.1 530.9L480.8 530.7L482.6 530.6L484.4 530.5L486.1 530.5L487.9 530.5L489.7 530.5L491.4 530.5L493.2 530.6L495.0 530.6L496.7 530.6L498.5 530.7L500.3 530.8L502.0 530.8L503.8 531.0L505.6 531.1L507.3 531.3L509.1 531.6L510.9 532.0L512.6 532.6L514.4 535.2L514.4 535.2L512.6 537.8L510.9 538.4L509.1 538.8L507.3 539.1L505.6 539.3L503.8 539.4L502.0 539.6L500.3 539.6L498.5 539.7L496.7 539.8L495.0 539.8L493.2 539.8L491.4 539.9L489.7 539.9L487.9 539.9L486.1 539.9L484.4 539.9L482.6 539.8L480.8 539.7L479.1 539.5L477.3 539.3L475.5 538.9L473.8 538.2L472.0 535.2Z" fill="#060606" filter="url(#bl0)"/>
<path d="M524.0 535.0L525.6 531.2L527.1 530.5L528.7 530.1L530.3 529.8L531.8 529.7L533.4 529.7L535.0 529.7L536.5 529.7L538.1 529.8L539.7 529.9L541.2 530.0L542.8 530.1L544.4 530.2L545.9 530.4L547.5 530.5L549.1 530.6L550.6 530.8L552.2 531.0L553.8 531.2L555.3 531.5L556.9 531.8L558.5 532.2L560.0 532.8L561.6 535.0L561.6 535.0L560.0 537.2L558.5 537.8L556.9 538.2L555.3 538.5L553.8 538.8L552.2 539.0L550.6 539.2L549.1 539.4L547.5 539.5L545.9 539.6L544.4 539.8L542.8 539.9L541.2 540.0L539.7 540.1L538.1 540.2L536.5 540.3L535.0 540.3L533.4 540.3L531.8 540.3L530.3 540.2L528.7 539.9L527.1 539.5L525.6 538.8L524.0 535.0Z" fill="#030303" filter="url(#bl0)"/>
<path d="M472.0 562.0L473.8 559.9L475.5 559.4L477.3 559.2L479.1 559.0L480.8 558.9L482.6 558.8L484.4 558.8L486.1 558.8L487.9 558.8L489.7 558.8L491.4 558.8L493.2 558.9L495.0 558.9L496.7 558.9L498.5 559.0L500.3 559.0L502.0 559.1L503.8 559.2L505.6 559.3L507.3 559.4L509.1 559.6L510.9 559.9L512.6 560.3L514.4 562.0L514.4 562.0L512.6 563.7L510.9 564.1L509.1 564.4L507.3 564.6L505.6 564.7L503.8 564.8L502.0 564.9L500.3 565.0L498.5 565.0L496.7 565.1L495.0 565.1L493.2 565.1L491.4 565.2L489.7 565.2L487.9 565.2L486.1 565.2L484.4 565.2L482.6 565.2L480.8 565.1L479.1 565.0L477.3 564.8L475.5 564.6L473.8 564.1L472.0 562.0Z" fill="#141414" filter="url(#bl0)"/>
<path d="M527.5 562.0L528.9 560.4L530.4 560.0L531.8 559.8L533.2 559.7L534.7 559.6L536.1 559.6L537.6 559.6L539.0 559.6L540.4 559.6L541.9 559.6L543.3 559.7L544.8 559.7L546.2 559.7L547.6 559.8L549.1 559.8L550.5 559.9L551.9 559.9L553.4 560.0L554.8 560.1L556.2 560.2L557.7 560.3L559.1 560.5L560.6 560.8L562.0 562.0L562.0 562.0L560.6 563.2L559.1 563.5L557.7 563.7L556.2 563.8L554.8 563.9L553.4 564.0L551.9 564.1L550.5 564.1L549.1 564.2L547.6 564.2L546.2 564.3L544.8 564.3L543.3 564.3L541.9 564.4L540.4 564.4L539.0 564.4L537.6 564.4L536.1 564.4L534.7 564.4L533.2 564.3L531.8 564.2L530.4 564.0L528.9 563.6L527.5 562.0Z" fill="#262626" filter="url(#bl0)"/>
<path d="M471.5 598.0L473.2 595.9L474.9 595.4L476.6 595.1L478.3 594.8L480.0 594.7L481.8 594.5L483.5 594.4L485.2 594.3L486.9 594.3L488.6 594.2L490.3 594.2L492.0 594.1L493.7 594.1L495.4 594.1L497.1 594.1L498.8 594.1L500.5 594.1L502.2 594.1L504.0 594.2L505.7 594.3L507.4 594.5L509.1 594.8L510.8 595.4L512.5 598.0L512.5 598.0L510.8 600.6L509.1 601.2L507.4 601.5L505.7 601.7L504.0 601.8L502.2 601.9L500.5 601.9L498.8 601.9L497.1 601.9L495.4 601.9L493.7 601.9L492.0 601.9L490.3 601.8L488.6 601.8L486.9 601.7L485.2 601.7L483.5 601.6L481.8 601.5L480.0 601.3L478.3 601.2L476.6 600.9L474.9 600.6L473.2 600.1L471.5 598.0Z" fill="#060606" filter="url(#bl0)"/>
<path d="M523.0 597.8L524.7 595.2L526.4 594.7L528.1 594.3L529.8 594.1L531.4 593.9L533.1 593.8L534.8 593.8L536.5 593.7L538.2 593.7L539.9 593.7L541.6 593.7L543.2 593.7L544.9 593.7L546.6 593.7L548.3 593.7L550.0 593.8L551.7 593.8L553.4 593.9L555.1 594.0L556.8 594.2L558.4 594.4L560.1 594.8L561.8 595.3L563.5 597.8L563.5 597.8L561.8 600.3L560.1 600.8L558.4 601.2L556.8 601.4L555.1 601.6L553.4 601.7L551.7 601.8L550.0 601.8L548.3 601.9L546.6 601.9L544.9 601.9L543.2 601.9L541.6 601.9L539.9 601.9L538.2 601.9L536.5 601.9L534.8 601.8L533.1 601.8L531.4 601.7L529.8 601.5L528.1 601.3L526.4 600.9L524.7 600.4L523.0 597.8Z" fill="#060606" filter="url(#bl0)"/>
<path d="M577.5 505.4L579.1 502.4L580.8 501.7L582.4 501.4L584.1 501.1L585.7 501.0L587.4 500.9L589.0 500.9L590.7 500.9L592.3 500.9L594.0 500.9L595.6 501.0L597.2 501.0L598.9 501.1L600.5 501.1L602.2 501.2L603.8 501.3L605.5 501.4L607.1 501.5L608.8 501.7L610.4 501.9L612.1 502.1L613.7 502.5L615.4 503.1L617.0 505.4L617.0 505.4L615.4 507.7L613.7 508.3L612.1 508.7L610.4 508.9L608.8 509.1L607.1 509.3L605.5 509.4L603.8 509.5L602.2 509.6L600.5 509.7L598.9 509.7L597.2 509.8L595.6 509.8L594.0 509.9L592.3 509.9L590.7 509.9L589.0 509.9L587.4 509.9L585.7 509.8L584.1 509.7L582.4 509.4L580.8 509.1L579.1 508.4L577.5 505.4Z" fill="#020202" filter="url(#bl0)"/>
<path d="M628.5 504.8L630.2 502.8L631.9 502.4L633.6 502.1L635.3 501.9L637.0 501.7L638.7 501.6L640.4 501.5L642.1 501.5L643.8 501.4L645.5 501.4L647.2 501.4L648.9 501.4L650.5 501.3L652.2 501.3L653.9 501.3L655.6 501.3L657.3 501.3L659.0 501.4L660.7 501.5L662.4 501.6L664.1 501.8L665.8 502.1L667.5 502.5L669.2 504.8L669.2 504.8L667.5 507.1L665.8 507.5L664.1 507.8L662.4 508.0L660.7 508.1L659.0 508.2L657.3 508.3L655.6 508.3L653.9 508.3L652.2 508.3L650.5 508.3L648.9 508.2L647.2 508.2L645.5 508.2L643.8 508.2L642.1 508.1L640.4 508.1L638.7 508.0L637.0 507.9L635.3 507.7L633.6 507.5L631.9 507.2L630.2 506.8L628.5 504.8Z" fill="#5e5e5e" filter="url(#bl0)"/>
<path d="M580.0 534.4L581.4 533.0L582.9 532.6L584.3 532.4L585.8 532.2L587.2 532.1L588.6 532.0L590.1 531.9L591.5 531.9L592.9 531.8L594.4 531.8L595.8 531.7L597.2 531.7L598.7 531.7L600.1 531.6L601.6 531.6L603.0 531.6L604.4 531.6L605.9 531.6L607.3 531.7L608.8 531.8L610.2 531.9L611.6 532.1L613.1 532.5L614.5 534.4L614.5 534.4L613.1 536.3L611.6 536.7L610.2 536.9L608.8 537.0L607.3 537.1L605.9 537.2L604.4 537.2L603.0 537.2L601.6 537.2L600.1 537.2L598.7 537.1L597.2 537.1L595.8 537.1L594.4 537.0L592.9 537.0L591.5 536.9L590.1 536.9L588.6 536.8L587.2 536.7L585.8 536.6L584.3 536.4L582.9 536.2L581.4 535.8L580.0 534.4Z" fill="#231010" filter="url(#bl0)"/>
<path d="M631.0 533.4L632.6 531.6L634.2 531.2L635.8 530.9L637.3 530.8L638.9 530.7L640.5 530.6L642.1 530.5L643.7 530.5L645.2 530.5L646.8 530.5L648.4 530.5L650.0 530.5L651.6 530.5L653.2 530.5L654.8 530.5L656.3 530.6L657.9 530.6L659.5 530.7L661.1 530.8L662.7 530.9L664.2 531.0L665.8 531.3L667.4 531.7L669.0 533.4L669.0 533.4L667.4 535.1L665.8 535.5L664.2 535.8L662.7 535.9L661.1 536.0L659.5 536.1L657.9 536.2L656.3 536.2L654.8 536.3L653.2 536.3L651.6 536.3L650.0 536.3L648.4 536.3L646.8 536.3L645.2 536.3L643.7 536.3L642.1 536.3L640.5 536.2L638.9 536.1L637.3 536.0L635.8 535.9L634.2 535.6L632.6 535.2L631.0 533.4Z" fill="#221010" filter="url(#bl0)"/>
<path d="M582.0 563.3L583.4 561.8L584.8 561.4L586.1 561.2L587.5 561.1L588.9 561.0L590.2 560.9L591.6 560.9L593.0 560.8L594.4 560.8L595.8 560.8L597.1 560.8L598.5 560.8L599.9 560.8L601.2 560.8L602.6 560.8L604.0 560.8L605.4 560.9L606.8 560.9L608.1 561.0L609.5 561.1L610.9 561.2L612.2 561.4L613.6 561.8L615.0 563.3L615.0 563.3L613.6 564.8L612.2 565.2L610.9 565.4L609.5 565.5L608.1 565.6L606.8 565.7L605.4 565.7L604.0 565.8L602.6 565.8L601.2 565.8L599.9 565.8L598.5 565.8L597.1 565.8L595.8 565.8L594.4 565.8L593.0 565.8L591.6 565.7L590.2 565.7L588.9 565.6L587.5 565.5L586.1 565.4L584.8 565.2L583.4 564.8L582.0 563.3Z" fill="#141414" filter="url(#bl0)"/>
<path d="M582.0 568.3L583.4 566.9L584.8 566.6L586.1 566.4L587.5 566.3L588.9 566.2L590.2 566.1L591.6 566.1L593.0 566.0L594.4 566.0L595.8 566.0L597.1 566.0L598.5 566.0L599.9 566.0L601.2 566.0L602.6 566.0L604.0 566.0L605.4 566.1L606.8 566.1L608.1 566.2L609.5 566.3L610.9 566.4L612.2 566.6L613.6 566.9L615.0 568.3L615.0 568.3L613.6 569.7L612.2 570.0L610.9 570.2L609.5 570.3L608.1 570.4L606.8 570.5L605.4 570.5L604.0 570.6L602.6 570.6L601.2 570.6L599.9 570.6L598.5 570.6L597.1 570.6L595.8 570.6L594.4 570.6L593.0 570.6L591.6 570.5L590.2 570.5L588.9 570.4L587.5 570.3L586.1 570.2L584.8 570.0L583.4 569.7L582.0 568.3Z" fill="#1a1a1a" filter="url(#bl0)"/>
<path d="M629.0 563.4L630.6 562.2L632.2 561.9L633.9 561.7L635.5 561.6L637.1 561.5L638.8 561.5L640.4 561.4L642.0 561.4L643.6 561.4L645.2 561.4L646.9 561.4L648.5 561.4L650.1 561.4L651.8 561.4L653.4 561.4L655.0 561.4L656.6 561.4L658.2 561.5L659.9 561.5L661.5 561.6L663.1 561.7L664.8 561.9L666.4 562.2L668.0 563.4L668.0 563.4L666.4 564.6L664.8 564.9L663.1 565.1L661.5 565.2L659.9 565.3L658.2 565.3L656.6 565.4L655.0 565.4L653.4 565.4L651.8 565.4L650.1 565.4L648.5 565.4L646.9 565.4L645.2 565.4L643.6 565.4L642.0 565.4L640.4 565.4L638.8 565.3L637.1 565.3L635.5 565.2L633.9 565.1L632.2 564.9L630.6 564.6L629.0 563.4Z" fill="#626262" filter="url(#bl0)"/>
<path d="M629.0 568.5L630.6 567.3L632.2 567.0L633.9 566.8L635.5 566.7L637.1 566.6L638.8 566.6L640.4 566.5L642.0 566.5L643.6 566.5L645.2 566.5L646.9 566.5L648.5 566.5L650.1 566.5L651.8 566.5L653.4 566.5L655.0 566.5L656.6 566.5L658.2 566.6L659.9 566.6L661.5 566.7L663.1 566.8L664.8 567.0L666.4 567.3L668.0 568.5L668.0 568.5L666.4 569.7L664.8 570.0L663.1 570.2L661.5 570.3L659.9 570.4L658.2 570.4L656.6 570.5L655.0 570.5L653.4 570.5L651.8 570.5L650.1 570.5L648.5 570.5L646.9 570.5L645.2 570.5L643.6 570.5L642.0 570.5L640.4 570.5L638.8 570.4L637.1 570.4L635.5 570.3L633.9 570.2L632.2 570.0L630.6 569.7L629.0 568.5Z" fill="#6e6e6e" filter="url(#bl0)"/>
<path d="M576.5 598.5L578.4 595.1L580.4 594.3L582.3 593.8L584.2 593.5L586.2 593.3L588.1 593.1L590.1 593.0L592.0 593.0L593.9 592.9L595.9 592.9L597.8 592.9L599.8 592.9L601.7 592.9L603.6 592.9L605.6 592.9L607.5 593.0L609.4 593.0L611.4 593.1L613.3 593.3L615.2 593.5L617.2 593.8L619.1 594.3L621.1 595.1L623.0 598.5L623.0 598.5L621.1 601.9L619.1 602.7L617.2 603.2L615.2 603.5L613.3 603.7L611.4 603.9L609.4 604.0L607.5 604.0L605.6 604.1L603.6 604.1L601.7 604.1L599.8 604.1L597.8 604.1L595.9 604.1L593.9 604.1L592.0 604.0L590.1 604.0L588.1 603.9L586.2 603.7L584.2 603.5L582.3 603.2L580.4 602.7L578.4 601.9L576.5 598.5Z" fill="#020202" filter="url(#bl0)"/>
<path d="M630.5 598.5L632.2 595.1L633.9 594.3L635.6 593.8L637.2 593.5L638.9 593.3L640.6 593.1L642.3 593.0L644.0 593.0L645.7 592.9L647.4 592.9L649.1 592.9L650.8 592.9L652.4 592.9L654.1 592.9L655.8 592.9L657.5 593.0L659.2 593.0L660.9 593.1L662.6 593.3L664.2 593.5L665.9 593.8L667.6 594.3L669.3 595.1L671.0 598.5L671.0 598.5L669.3 601.9L667.6 602.7L665.9 603.2L664.2 603.5L662.6 603.7L660.9 603.9L659.2 604.0L657.5 604.0L655.8 604.1L654.1 604.1L652.4 604.1L650.8 604.1L649.1 604.1L647.4 604.1L645.7 604.1L644.0 604.0L642.3 604.0L640.6 603.9L638.9 603.7L637.2 603.5L635.6 603.2L633.9 602.7L632.2 601.9L630.5 598.5Z" fill="#020202" filter="url(#bl0)"/>
<rect x="466.2" y="492.6" width="102.2" height="26.7" fill="none" stroke="#111" stroke-width="1.3"/>
<rect x="466.2" y="522.5" width="102.2" height="26.9" fill="none" stroke="#111" stroke-width="1.3"/>
<rect x="466.2" y="552.7" width="102.2" height="26.9" fill="none" stroke="#111" stroke-width="1.3"/>
<rect x="466.2" y="582.9" width="102.2" height="27.7" fill="none" stroke="#111" stroke-width="1.3"/>
<rect x="573.4" y="492.6" width="102" height="26.7" fill="none" stroke="#111" stroke-width="1.3"/>
<rect x="573.4" y="522.5" width="102" height="26.9" fill="none" stroke="#111" stroke-width="1.3"/>
<rect x="573.4" y="552.7" width="102" height="26.9" fill="none" stroke="#111" stroke-width="1.3"/>
<rect x="573.4" y="582.9" width="102" height="27.7" fill="none" stroke="#111" stroke-width="1.3"/>
</svg>
</body></html>
